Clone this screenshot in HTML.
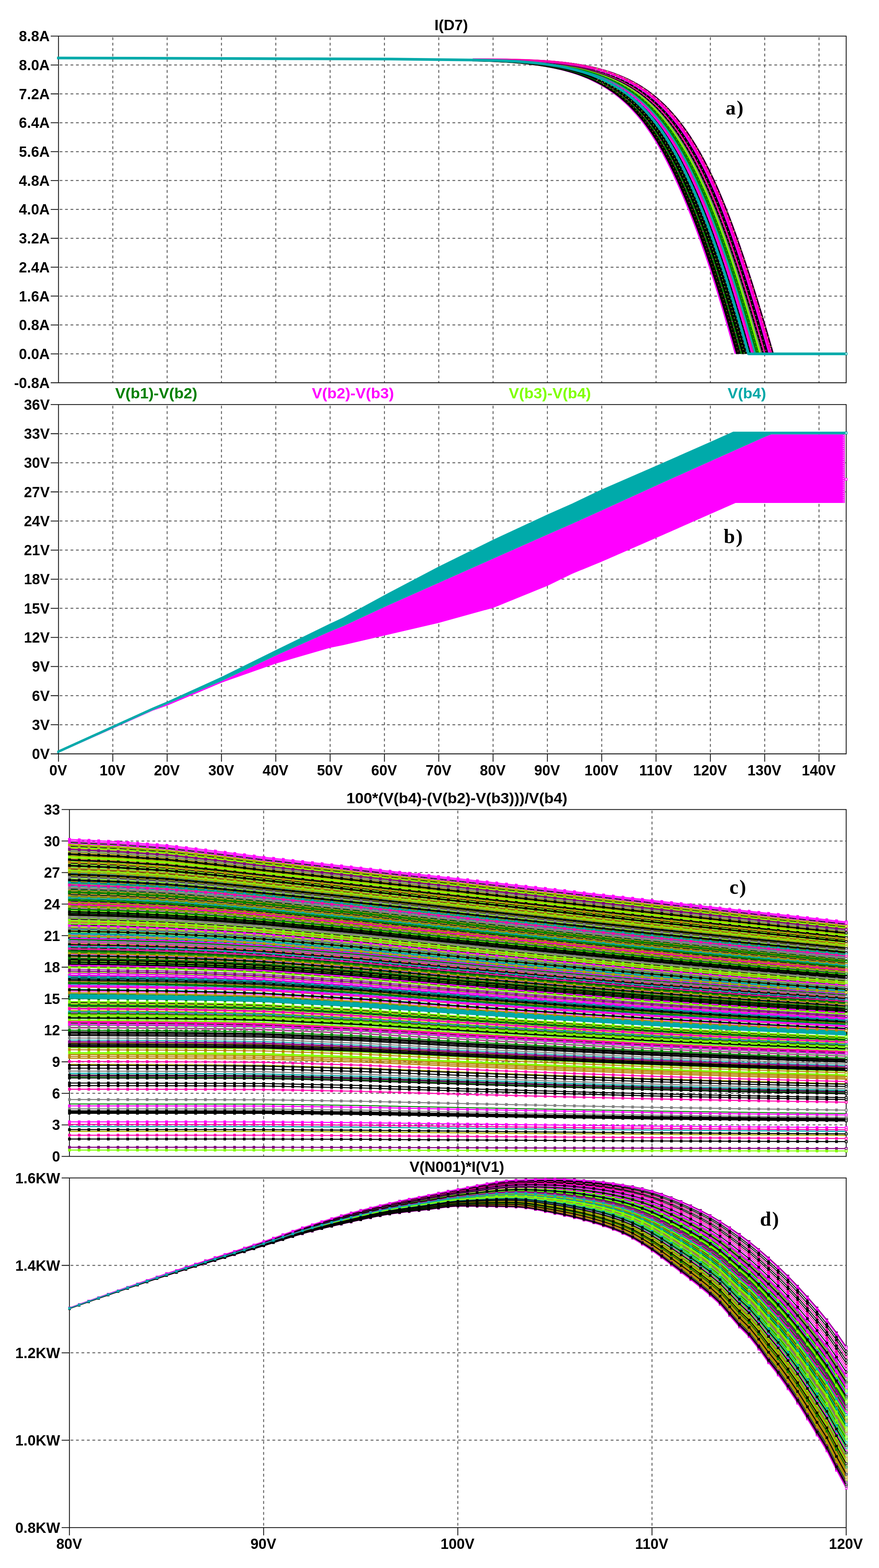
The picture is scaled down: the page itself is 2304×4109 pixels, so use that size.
<!DOCTYPE html>
<html lang="en"><head><meta charset="utf-8"><title>LTspice waveform plots</title>
<style>
html,body{margin:0;padding:0;background:#fff}
svg{display:block}
.fr{fill:none;stroke:#1c1c1c;stroke-width:2.3}
.gr{fill:none;stroke:#606060;stroke-width:2.5;stroke-dasharray:7.3 7}
.t{font:bold 39.6px "Liberation Sans", Arial, Helvetica, sans-serif}
.s{font:bold 53px "Liberation Serif", "Times New Roman", Times, serif;fill:#000;text-anchor:middle;letter-spacing:2.5px}
</style></head>
<body>
<svg width="2304" height="4109" viewBox="0 0 2304 4109">
<rect width="2304" height="4109" fill="#fff"/>
<defs><marker id="mM" markerUnits="userSpaceOnUse" markerWidth="7" markerHeight="7" refX="3.5" refY="3.5"><rect width="7" height="7" fill="#ff00ff"/></marker><marker id="eM" markerUnits="userSpaceOnUse" markerWidth="7" markerHeight="7" refX="3.5" refY="3.5"><rect x="1" y="1" width="5" height="5" fill="#fff" stroke="#ff00ff" stroke-width="1.7"/></marker><marker id="mPk" markerUnits="userSpaceOnUse" markerWidth="7" markerHeight="7" refX="3.5" refY="3.5"><rect width="7" height="7" fill="#ff00aa"/></marker><marker id="ePk" markerUnits="userSpaceOnUse" markerWidth="7" markerHeight="7" refX="3.5" refY="3.5"><rect x="1" y="1" width="5" height="5" fill="#fff" stroke="#ff00aa" stroke-width="1.7"/></marker><marker id="mL" markerUnits="userSpaceOnUse" markerWidth="7" markerHeight="7" refX="3.5" refY="3.5"><rect width="7" height="7" fill="#80ff00"/></marker><marker id="eL" markerUnits="userSpaceOnUse" markerWidth="7" markerHeight="7" refX="3.5" refY="3.5"><rect x="1" y="1" width="5" height="5" fill="#fff" stroke="#80ff00" stroke-width="1.7"/></marker><marker id="mG" markerUnits="userSpaceOnUse" markerWidth="7" markerHeight="7" refX="3.5" refY="3.5"><rect width="7" height="7" fill="#008000"/></marker><marker id="eG" markerUnits="userSpaceOnUse" markerWidth="7" markerHeight="7" refX="3.5" refY="3.5"><rect x="1" y="1" width="5" height="5" fill="#fff" stroke="#008000" stroke-width="1.7"/></marker><marker id="mT" markerUnits="userSpaceOnUse" markerWidth="7" markerHeight="7" refX="3.5" refY="3.5"><rect width="7" height="7" fill="#00aaaa"/></marker><marker id="eT" markerUnits="userSpaceOnUse" markerWidth="7" markerHeight="7" refX="3.5" refY="3.5"><rect x="1" y="1" width="5" height="5" fill="#fff" stroke="#00aaaa" stroke-width="1.7"/></marker><marker id="mO" markerUnits="userSpaceOnUse" markerWidth="7" markerHeight="7" refX="3.5" refY="3.5"><rect width="7" height="7" fill="#b8860b"/></marker><marker id="eO" markerUnits="userSpaceOnUse" markerWidth="7" markerHeight="7" refX="3.5" refY="3.5"><rect x="1" y="1" width="5" height="5" fill="#fff" stroke="#b8860b" stroke-width="1.7"/></marker><marker id="mY" markerUnits="userSpaceOnUse" markerWidth="7" markerHeight="7" refX="3.5" refY="3.5"><rect width="7" height="7" fill="#aaaa00"/></marker><marker id="eY" markerUnits="userSpaceOnUse" markerWidth="7" markerHeight="7" refX="3.5" refY="3.5"><rect x="1" y="1" width="5" height="5" fill="#fff" stroke="#aaaa00" stroke-width="1.7"/></marker><marker id="mK" markerUnits="userSpaceOnUse" markerWidth="7" markerHeight="7" refX="3.5" refY="3.5"><rect width="7" height="7" fill="#000000"/></marker><marker id="eK" markerUnits="userSpaceOnUse" markerWidth="7" markerHeight="7" refX="3.5" refY="3.5"><rect x="1" y="1" width="5" height="5" fill="#fff" stroke="#000000" stroke-width="1.7"/></marker><marker id="mP" markerUnits="userSpaceOnUse" markerWidth="7" markerHeight="7" refX="3.5" refY="3.5"><rect width="7" height="7" fill="#800080"/></marker><marker id="eP" markerUnits="userSpaceOnUse" markerWidth="7" markerHeight="7" refX="3.5" refY="3.5"><rect x="1" y="1" width="5" height="5" fill="#fff" stroke="#800080" stroke-width="1.7"/></marker><marker id="mGy" markerUnits="userSpaceOnUse" markerWidth="7" markerHeight="7" refX="3.5" refY="3.5"><rect width="7" height="7" fill="#808080"/></marker><marker id="eGy" markerUnits="userSpaceOnUse" markerWidth="7" markerHeight="7" refX="3.5" refY="3.5"><rect x="1" y="1" width="5" height="5" fill="#fff" stroke="#808080" stroke-width="1.7"/></marker></defs><g id="plot1">
<path d="M295.7 97.6V1002M438.1 97.6V1002M580.5 97.6V1002M722.9 97.6V1002M865.3 97.6V1002M1007.7 97.6V1002M1150.1 97.6V1002M1292.4 97.6V1002M1434.8 97.6V1002M1577.2 97.6V1002M1719.6 97.6V1002M1862 97.6V1002M2004.4 97.6V1002M2146.8 97.6V1002M156.3 927.3H2217M156.3 851.6H2217M156.3 775.9H2217M156.3 700.2H2217M156.3 624.5H2217M156.3 548.8H2217M156.3 473.1H2217M156.3 397.4H2217M156.3 321.7H2217M156.3 246H2217M156.3 170.3H2217" class="gr"/>
<path d="M132.9 927.3H153.3M132.9 851.6H153.3M132.9 775.9H153.3M132.9 700.2H153.3M132.9 624.5H153.3M132.9 548.8H153.3M132.9 473.1H153.3M132.9 397.4H153.3M132.9 321.7H153.3M132.9 246H153.3M132.9 170.3H153.3" class="fr"/>
<path d="M132.9 94.6H2219M132.9 1003H2219M153.3 94.6V1003M2218 94.6V1003" class="fr"/>
<g fill="none" stroke-linejoin="round">
<path d="M1238.1 158L1250.6 158.3L1263.1 158.6L1275.5 159L1287.9 159.4L1300.2 160L1312.4 160.6L1324.6 161.3L1336.7 162.1L1348.7 163L1360.5 164L1372.3 165.2L1384 166.4L1395.6 167.8L1407.1 169.3L1418.4 171L1429.6 172.9L1440.7 174.9L1451.6 177L1462.4 179.4L1473 181.9L1483.5 184.6L1493.8 187.5L1504 190.6L1513.9 193.9L1523.7 197.5L1533.3 201.2L1542.7 205.2L1551.9 209.4L1560.9 213.9L1569.8 218.5L1578.4 223.4L1586.9 228.5L1595.2 233.8L1603.3 239.4L1611.2 245.1L1619 251.1L1626.5 257.2L1633.9 263.6L1641.2 270.2L1648.2 277L1655.1 284L1661.8 291.2L1668.4 298.5L1674.8 306.1L1681.1 313.8L1687.2 321.7L1693.2 329.8L1699 338L1704.7 346.4L1710.4 354.9L1715.8 363.5L1721.2 372.3L1726.5 381.2L1731.7 390.3L1736.7 399.4L1741.7 408.7L1746.6 418L1751.4 427.5L1756.2 437L1760.9 446.6L1765.5 456.3L1770 466.1L1774.5 475.9L1779 485.8L1783.4 495.7L1787.7 505.7L1792.1 515.8L1796.3 525.9L1800.5 536.1L1804.7 546.3L1808.8 556.6L1812.9 566.9L1816.9 577.3L1820.9 587.7L1824.9 598.2L1828.8 608.7L1832.7 619.3L1836.5 629.9L1840.3 640.6L1844.1 651.3L1847.8 662L1851.5 672.8L1855.2 683.7L1858.8 694.5L1862.4 705.5L1866 716.4L1869.5 727.4L1873 738.4L1876.5 749.4L1879.9 760.5L1883.4 771.6L1886.7 782.8L1890.1 794L1893.5 805.2L1896.8 816.4L1900.1 827.7L1903.4 839L1906.6 850.3L1909.9 861.6L1913.1 873L1916.3 884.4L1919.5 895.8L1922.6 907.2L1925.8 918.6L1928.2 927.3" fill="none" stroke="#ff00ff" stroke-width="5"/>
<path d="M1238.2 157.9L1250.7 158.2L1263.2 158.5L1275.6 158.8L1288 159.3L1300.3 159.8L1312.6 160.4L1324.8 161.1L1336.9 161.8L1348.9 162.7L1360.8 163.7L1372.6 164.8L1384.4 166L1396 167.4L1407.5 168.9L1418.8 170.5L1430.1 172.3L1441.2 174.3L1452.2 176.4L1463 178.7L1473.7 181.1L1484.2 183.8L1494.6 186.6L1504.7 189.7L1514.8 192.9L1524.6 196.4L1534.2 200.1L1543.7 204L1553 208.2L1562 212.6L1570.9 217.2L1579.6 222L1588.2 227L1596.5 232.2L1604.7 237.7L1612.7 243.4L1620.5 249.3L1628.1 255.4L1635.6 261.7L1642.9 268.2L1650 274.9L1656.9 281.8L1663.7 288.9L1670.3 296.2L1676.8 303.7L1683.1 311.4L1689.3 319.2L1695.3 327.2L1701.2 335.4L1707 343.7L1712.6 352.2L1718.2 360.8L1723.6 369.5L1728.9 378.4L1734.1 387.3L1739.2 396.4L1744.2 405.7L1749.2 415L1754 424.4L1758.8 433.9L1763.5 443.4L1768.2 453.1L1772.8 462.8L1777.3 472.6L1781.8 482.5L1786.2 492.4L1790.6 502.3L1794.9 512.4L1799.2 522.5L1803.4 532.6L1807.6 542.8L1811.8 553.1L1815.9 563.4L1819.9 573.7L1823.9 584.2L1827.9 594.6L1831.8 605.1L1835.7 615.7L1839.6 626.3L1843.4 636.9L1847.2 647.6L1850.9 658.4L1854.6 669.2L1858.3 680L1861.9 690.8L1865.5 701.7L1869.1 712.7L1872.6 723.6L1876.2 734.7L1879.6 745.7L1883.1 756.8L1886.5 767.9L1889.9 779L1893.3 790.2L1896.7 801.4L1900 812.6L1903.3 823.8L1906.6 835.1L1909.9 846.4L1913.1 857.7L1916.3 869.1L1919.5 880.5L1922.7 891.8L1925.9 903.3L1929.1 914.7L1932.2 926.1L1932.5 927.3" fill="none" stroke="#000000" stroke-width="6"/>
<path d="M1238.3 157.8L1250.8 158L1263.3 158.3L1275.8 158.7L1288.2 159.1L1300.5 159.6L1312.8 160.2L1325 160.8L1337.1 161.6L1349.1 162.4L1361.1 163.4L1372.9 164.5L1384.7 165.6L1396.3 167L1407.9 168.4L1419.3 170L1430.5 171.7L1441.7 173.7L1452.7 175.7L1463.6 178L1474.3 180.4L1484.9 183L1495.3 185.8L1505.5 188.8L1515.6 192L1525.5 195.4L1535.2 199L1544.7 202.9L1554 206.9L1563.1 211.2L1572.1 215.8L1580.9 220.5L1589.5 225.5L1597.9 230.6L1606.1 236L1614.1 241.6L1622 247.5L1629.7 253.5L1637.2 259.7L1644.6 266.2L1651.7 272.8L1658.7 279.7L1665.6 286.7L1672.2 294L1678.8 301.4L1685.1 309L1691.3 316.8L1697.4 324.7L1703.4 332.8L1709.2 341.1L1714.9 349.5L1720.5 358L1725.9 366.7L1731.3 375.5L1736.6 384.4L1741.7 393.5L1746.8 402.6L1751.8 411.9L1756.7 421.2L1761.5 430.7L1766.2 440.2L1770.9 449.9L1775.5 459.5L1780.1 469.3L1784.6 479.1L1789 489L1793.5 498.9L1797.8 509L1802.1 519L1806.4 529.1L1810.6 539.3L1814.7 549.6L1818.8 559.8L1822.9 570.2L1826.9 580.6L1830.9 591L1834.9 601.5L1838.8 612.1L1842.6 622.7L1846.5 633.3L1850.2 644L1854 654.7L1857.7 665.5L1861.4 676.3L1865 687.1L1868.6 698L1872.2 708.9L1875.8 719.9L1879.3 730.9L1882.8 741.9L1886.3 753L1889.7 764.1L1893.1 775.2L1896.5 786.4L1899.9 797.6L1903.2 808.8L1906.5 820L1909.8 831.3L1913.1 842.6L1916.4 853.9L1919.6 865.2L1922.8 876.6L1926 887.9L1929.2 899.3L1932.4 910.7L1935.5 922.2L1936.9 927.3" fill="none" stroke="#000000" stroke-width="6"/>
<path d="M1238.3 157.7L1250.9 158L1263.4 158.3L1275.8 158.6L1288.3 159L1300.6 159.5L1312.9 160L1325.1 160.7L1337.2 161.4L1349.3 162.2L1361.3 163.1L1373.2 164.2L1384.9 165.3L1396.6 166.6L1408.2 168L1419.6 169.6L1430.9 171.3L1442.1 173.2L1453.1 175.2L1464.1 177.4L1474.8 179.8L1485.4 182.3L1495.9 185.1L1506.1 188L1516.2 191.2L1526.2 194.5L1535.9 198.1L1545.5 201.9L1554.8 206L1564 210.2L1573 214.7L1581.8 219.4L1590.5 224.3L1598.9 229.4L1607.2 234.7L1615.3 240.3L1623.2 246L1630.9 252L1638.5 258.2L1645.9 264.6L1653.1 271.2L1660.1 278L1667 285L1673.7 292.2L1680.3 299.6L1686.7 307.1L1693 314.8L1699.1 322.7L1705.1 330.8L1710.9 339L1716.7 347.4L1722.3 355.9L1727.8 364.5L1733.2 373.3L1738.5 382.1L1743.7 391.2L1748.8 400.3L1753.8 409.5L1758.7 418.8L1763.5 428.2L1768.3 437.8L1773 447.3L1777.7 457L1782.2 466.7L1786.8 476.5L1791.2 486.4L1795.7 496.3L1800 506.3L1804.4 516.3L1808.6 526.4L1812.9 536.6L1817 546.8L1821.2 557.1L1825.2 567.4L1829.3 577.8L1833.3 588.2L1837.2 598.7L1841.1 609.3L1845 619.8L1848.8 630.5L1852.6 641.1L1856.4 651.9L1860.1 662.6L1863.8 673.4L1867.4 684.3L1871.1 695.1L1874.7 706L1878.2 717L1881.7 728L1885.2 739L1888.7 750.1L1892.2 761.2L1895.6 772.3L1899 783.4L1902.4 794.6L1905.7 805.8L1909 817L1912.3 828.3L1915.6 839.6L1918.9 850.9L1922.1 862.2L1925.4 873.5L1928.6 884.9L1931.8 896.3L1934.9 907.7L1938.1 919.1L1940.4 927.3" fill="none" stroke="#000000" stroke-width="5"/>
<path d="M1238.4 157.6L1251 157.9L1263.5 158.1L1275.9 158.5L1288.4 158.9L1300.7 159.3L1313 159.9L1325.3 160.5L1337.4 161.2L1349.5 162L1361.5 162.9L1373.4 163.9L1385.2 165L1396.9 166.2L1408.5 167.6L1420 169.2L1431.3 170.8L1442.5 172.6L1453.6 174.6L1464.6 176.8L1475.4 179.1L1486 181.6L1496.5 184.3L1506.8 187.2L1517 190.3L1526.9 193.6L1536.7 197.1L1546.3 200.9L1555.8 204.9L1565 209L1574 213.5L1582.9 218.1L1591.6 222.9L1600.1 228L1608.4 233.2L1616.6 238.7L1624.5 244.4L1632.3 250.3L1639.9 256.5L1647.4 262.8L1654.6 269.3L1661.7 276.1L1668.7 283L1675.4 290.1L1682 297.5L1688.5 305L1694.8 312.6L1701 320.5L1707 328.5L1712.9 336.6L1718.7 344.9L1724.3 353.4L1729.9 362L1735.3 370.7L1740.6 379.6L1745.9 388.5L1751 397.6L1756 406.8L1761 416.1L1765.9 425.4L1770.7 434.9L1775.4 444.5L1780.1 454.1L1784.7 463.8L1789.3 473.6L1793.8 483.4L1798.2 493.3L1802.6 503.2L1806.9 513.3L1811.2 523.4L1815.5 533.5L1819.7 543.7L1823.8 554L1827.9 564.3L1831.9 574.6L1835.9 585L1839.9 595.5L1843.8 606L1847.7 616.6L1851.6 627.2L1855.4 637.9L1859.1 648.6L1862.9 659.3L1866.5 670.1L1870.2 681L1873.8 691.8L1877.4 702.7L1881 713.7L1884.5 724.7L1888 735.7L1891.5 746.7L1895 757.8L1898.4 768.9L1901.8 780L1905.2 791.2L1908.6 802.4L1911.9 813.6L1915.2 824.9L1918.5 836.1L1921.8 847.4L1925 858.7L1928.3 870.1L1931.5 881.4L1934.7 892.8L1937.9 904.2L1941 915.6L1944.2 927L1944.3 927.3" fill="none" stroke="#008000" stroke-width="6"/>
<path d="M1238.5 157.6L1251 157.8L1263.6 158L1276 158.4L1288.5 158.7L1300.9 159.2L1313.2 159.7L1325.4 160.3L1337.6 160.9L1349.7 161.7L1361.7 162.6L1373.7 163.6L1385.5 164.7L1397.2 165.9L1408.9 167.2L1420.4 168.7L1431.7 170.3L1443 172.1L1454.1 174L1465.1 176.1L1475.9 178.4L1486.6 180.9L1497.2 183.5L1507.5 186.4L1517.7 189.4L1527.7 192.7L1537.6 196.1L1547.2 199.8L1556.7 203.7L1566 207.9L1575.1 212.2L1584 216.8L1592.7 221.6L1601.3 226.6L1609.7 231.8L1617.9 237.2L1625.9 242.8L1633.7 248.7L1641.4 254.7L1648.9 261L1656.2 267.5L1663.3 274.2L1670.3 281L1677.1 288.1L1683.8 295.4L1690.3 302.8L1696.6 310.4L1702.9 318.2L1708.9 326.2L1714.9 334.3L1720.7 342.5L1726.4 350.9L1732 359.5L1737.5 368.2L1742.8 377L1748.1 385.9L1753.3 394.9L1758.3 404L1763.3 413.3L1768.2 422.6L1773.1 432.1L1777.8 441.6L1782.5 451.2L1787.2 460.9L1791.7 470.6L1796.3 480.4L1800.7 490.3L1805.1 500.2L1809.5 510.2L1813.8 520.3L1818.1 530.4L1822.3 540.6L1826.4 550.8L1830.5 561.1L1834.6 571.5L1838.6 581.9L1842.6 592.3L1846.5 602.8L1850.4 613.4L1854.3 624L1858.1 634.6L1861.9 645.3L1865.6 656.1L1869.3 666.8L1873 677.7L1876.6 688.5L1880.2 699.4L1883.8 710.4L1887.3 721.3L1890.8 732.3L1894.3 743.4L1897.8 754.4L1901.2 765.5L1904.7 776.7L1908 787.8L1911.4 799L1914.8 810.2L1918.1 821.4L1921.4 832.7L1924.7 844L1927.9 855.3L1931.2 866.6L1934.4 877.9L1937.6 889.3L1940.8 900.7L1944 912.1L1947.2 923.5L1948.2 927.3" fill="none" stroke="#000000" stroke-width="5.5"/>
<path d="M1238.5 157.5L1251.1 157.7L1263.7 157.9L1276.1 158.2L1288.6 158.6L1301 159L1313.3 159.5L1325.6 160.1L1337.8 160.7L1349.9 161.5L1362 162.3L1373.9 163.3L1385.8 164.3L1397.6 165.5L1409.2 166.8L1420.7 168.2L1432.2 169.8L1443.5 171.6L1454.6 173.5L1465.6 175.5L1476.5 177.7L1487.2 180.2L1497.8 182.8L1508.2 185.5L1518.5 188.5L1528.5 191.7L1538.4 195.1L1548.1 198.8L1557.6 202.6L1567 206.7L1576.1 211L1585.1 215.5L1593.9 220.2L1602.5 225.1L1610.9 230.3L1619.2 235.6L1627.2 241.2L1635.1 247L1642.9 253L1650.4 259.2L1657.8 265.6L1665 272.2L1672 279.1L1678.8 286.1L1685.5 293.3L1692.1 300.7L1698.5 308.2L1704.8 316L1710.9 323.9L1716.9 331.9L1722.7 340.1L1728.5 348.5L1734.1 357L1739.6 365.6L1745 374.4L1750.3 383.2L1755.5 392.2L1760.6 401.3L1765.7 410.5L1770.6 419.8L1775.5 429.2L1780.2 438.7L1785 448.3L1789.6 457.9L1794.2 467.6L1798.8 477.4L1803.3 487.2L1807.7 497.2L1812.1 507.1L1816.4 517.2L1820.7 527.3L1824.9 537.4L1829.1 547.7L1833.2 557.9L1837.3 568.3L1841.3 578.7L1845.3 589.1L1849.2 599.6L1853.1 610.1L1857 620.7L1860.8 631.4L1864.6 642.1L1868.3 652.8L1872.1 663.6L1875.7 674.4L1879.4 685.2L1883 696.1L1886.6 707L1890.1 718L1893.6 729L1897.1 740L1900.6 751.1L1904.1 762.2L1907.5 773.3L1910.9 784.4L1914.3 795.6L1917.6 806.8L1920.9 818L1924.3 829.3L1927.6 840.5L1930.8 851.8L1934.1 863.1L1937.3 874.5L1940.5 885.8L1943.7 897.2L1946.9 908.6L1950.1 920L1952.1 927.3" fill="none" stroke="#000000" stroke-width="5.5"/>
<path d="M1238.6 157.4L1251.2 157.6L1263.7 157.8L1276.2 158.1L1288.7 158.5L1301.1 158.9L1313.5 159.3L1325.8 159.9L1338 160.5L1350.1 161.2L1362.2 162L1374.2 162.9L1386.1 164L1397.9 165.1L1409.6 166.4L1421.1 167.8L1432.6 169.3L1443.9 171L1455.1 172.9L1466.2 174.9L1477.1 177.1L1487.8 179.4L1498.5 182L1508.9 184.7L1519.2 187.6L1529.3 190.8L1539.2 194.2L1549 197.7L1558.6 201.5L1567.9 205.5L1577.1 209.8L1586.2 214.2L1595 218.8L1603.7 223.7L1612.2 228.8L1620.5 234.1L1628.6 239.6L1636.5 245.3L1644.3 251.3L1651.9 257.4L1659.3 263.8L1666.6 270.3L1673.6 277.1L1680.5 284.1L1687.3 291.2L1693.9 298.5L1700.3 306L1706.6 313.7L1712.8 321.6L1718.8 329.6L1724.8 337.7L1730.5 346L1736.2 354.5L1741.7 363L1747.2 371.8L1752.5 380.6L1757.8 389.5L1762.9 398.6L1768 407.8L1772.9 417L1777.8 426.4L1782.7 435.8L1787.4 445.4L1792.1 455L1796.7 464.7L1801.3 474.4L1805.8 484.2L1810.3 494.1L1814.7 504.1L1819 514.1L1823.3 524.2L1827.5 534.3L1831.7 544.5L1835.8 554.8L1839.9 565.1L1844 575.5L1848 585.9L1851.9 596.4L1855.8 606.9L1859.7 617.5L1863.5 628.1L1867.3 638.8L1871.1 649.5L1874.8 660.3L1878.5 671.1L1882.1 681.9L1885.8 692.8L1889.4 703.7L1892.9 714.7L1896.4 725.7L1900 736.7L1903.4 747.7L1906.9 758.8L1910.3 769.9L1913.7 781L1917.1 792.2L1920.5 803.4L1923.8 814.6L1927.1 825.8L1930.4 837.1L1933.7 848.4L1937 859.7L1940.2 871L1943.5 882.3L1946.7 893.7L1949.9 905.1L1953 916.5L1956 927.3" fill="none" stroke="#000000" stroke-width="5"/>
<path d="M1238.8 157.1L1251.4 157.3L1264 157.5L1276.5 157.8L1289 158.1L1301.5 158.4L1313.9 158.8L1326.2 159.3L1338.5 159.9L1350.7 160.5L1362.9 161.2L1374.9 162L1386.9 163L1398.8 164L1410.6 165.2L1422.2 166.5L1433.8 167.9L1445.2 169.5L1456.5 171.2L1467.7 173.1L1478.7 175.1L1489.6 177.3L1500.3 179.7L1510.9 182.3L1521.3 185.1L1531.6 188.1L1541.6 191.3L1551.5 194.7L1561.2 198.3L1570.8 202.2L1580.1 206.2L1589.3 210.5L1598.3 214.9L1607.1 219.6L1615.7 224.5L1624.2 229.6L1632.5 235L1640.6 240.5L1648.5 246.3L1656.2 252.2L1663.8 258.4L1671.2 264.8L1678.4 271.4L1685.4 278.2L1692.3 285.2L1699.1 292.4L1705.6 299.7L1712.1 307.2L1718.4 314.9L1724.5 322.8L1730.6 330.8L1736.5 339L1742.2 347.3L1747.9 355.7L1753.5 364.3L1758.9 373L1764.2 381.8L1769.5 390.8L1774.6 399.8L1779.7 409L1784.7 418.2L1789.6 427.6L1794.4 437L1799.2 446.5L1803.9 456.1L1808.5 465.8L1813.1 475.5L1817.6 485.4L1822.1 495.2L1826.4 505.2L1830.8 515.2L1835.1 525.3L1839.3 535.5L1843.5 545.7L1847.6 556L1851.7 566.3L1855.7 576.7L1859.7 587.1L1863.6 597.6L1867.5 608.2L1871.4 618.8L1875.2 629.4L1879 640.1L1882.7 650.8L1886.4 661.6L1890.1 672.4L1893.8 683.3L1897.4 694.2L1900.9 705.1L1904.5 716.1L1908 727L1911.5 738.1L1915 749.1L1918.5 760.2L1921.9 771.3L1925.3 782.4L1928.7 793.6L1932.1 804.8L1935.4 816L1938.7 827.2L1942.1 838.4L1945.3 849.7L1948.6 861L1951.9 872.3L1955.1 883.7L1958.3 895L1961.5 906.4L1964.7 917.8L1967.4 927.3" fill="none" stroke="#000000" stroke-width="6"/>
<path d="M1238.9 157L1251.5 157.2L1264.1 157.4L1276.6 157.6L1289.2 157.9L1301.6 158.2L1314.1 158.6L1326.4 159.1L1338.7 159.6L1351 160.2L1363.1 160.9L1375.2 161.7L1387.2 162.6L1399.1 163.6L1410.9 164.7L1422.7 166L1434.2 167.3L1445.7 168.9L1457.1 170.5L1468.3 172.4L1479.4 174.4L1490.3 176.5L1501.1 178.9L1511.7 181.4L1522.2 184.1L1532.5 187L1542.6 190.2L1552.5 193.5L1562.3 197.1L1571.9 200.8L1581.3 204.8L1590.5 209L1599.6 213.4L1608.5 218L1617.1 222.9L1625.7 227.9L1634 233.2L1642.2 238.6L1650.1 244.3L1657.9 250.2L1665.5 256.3L1673 262.7L1680.3 269.2L1687.4 275.9L1694.3 282.8L1701.1 290L1707.7 297.2L1714.2 304.7L1720.6 312.3L1726.8 320.1L1732.8 328.1L1738.8 336.2L1744.6 344.4L1750.3 352.8L1755.9 361.4L1761.4 370L1766.8 378.8L1772.1 387.7L1777.3 396.7L1782.4 405.8L1787.4 415L1792.3 424.3L1797.2 433.7L1802 443.2L1806.7 452.8L1811.4 462.4L1815.9 472.1L1820.5 481.9L1825 491.8L1829.4 501.7L1833.7 511.7L1838 521.8L1842.3 531.9L1846.5 542.1L1850.6 552.4L1854.7 562.7L1858.7 573.1L1862.7 583.5L1866.7 594L1870.6 604.5L1874.5 615.1L1878.3 625.8L1882.1 636.4L1885.8 647.2L1889.5 657.9L1893.2 668.7L1896.9 679.6L1900.5 690.4L1904.1 701.4L1907.7 712.3L1911.2 723.3L1914.7 734.3L1918.2 745.3L1921.7 756.4L1925.1 767.5L1928.5 778.6L1931.9 789.7L1935.3 800.9L1938.7 812.1L1942 823.3L1945.3 834.6L1948.6 845.8L1951.9 857.1L1955.2 868.4L1958.4 879.7L1961.6 891.1L1964.8 902.4L1968 913.8L1971.2 925.2L1971.8 927.3" fill="none" stroke="#ff00ff" stroke-width="5.5"/>
<path d="M1239 157L1251.6 157.1L1264.2 157.3L1276.7 157.5L1289.3 157.8L1301.8 158.1L1314.2 158.5L1326.6 158.9L1338.9 159.4L1351.2 160L1363.4 160.6L1375.5 161.4L1387.5 162.2L1399.5 163.2L1411.3 164.3L1423 165.5L1434.7 166.9L1446.2 168.3L1457.5 170L1468.8 171.7L1479.9 173.7L1490.9 175.8L1501.7 178.1L1512.4 180.6L1522.9 183.2L1533.2 186.1L1543.4 189.2L1553.4 192.5L1563.2 196L1572.9 199.7L1582.3 203.6L1591.6 207.7L1600.7 212.1L1609.6 216.6L1618.4 221.4L1627 226.4L1635.4 231.6L1643.6 237L1651.6 242.6L1659.4 248.4L1667.1 254.5L1674.6 260.8L1681.9 267.2L1689.1 273.9L1696.1 280.8L1702.9 287.8L1709.6 295L1716.1 302.4L1722.5 310L1728.7 317.8L1734.9 325.7L1740.9 333.7L1746.7 341.9L1752.5 350.3L1758.1 358.8L1763.6 367.4L1769 376.1L1774.4 385L1779.6 393.9L1784.7 403L1789.8 412.2L1794.7 421.5L1799.6 430.8L1804.4 440.3L1809.2 449.8L1813.9 459.4L1818.5 469.1L1823 478.9L1827.5 488.7L1832 498.6L1836.3 508.6L1840.6 518.7L1844.9 528.8L1849.1 539L1853.3 549.2L1857.4 559.5L1861.4 569.9L1865.4 580.3L1869.4 590.8L1873.3 601.3L1877.2 611.9L1881 622.5L1884.8 633.2L1888.6 643.9L1892.3 654.6L1896 665.4L1899.7 676.3L1903.3 687.1L1906.9 698L1910.5 709L1914 719.9L1917.5 730.9L1921 741.9L1924.5 753L1928 764.1L1931.4 775.2L1934.8 786.3L1938.2 797.5L1941.5 808.7L1944.9 819.9L1948.2 831.1L1951.5 842.4L1954.8 853.6L1958.1 864.9L1961.3 876.2L1964.6 887.6L1967.8 898.9L1971 910.3L1974.2 921.7L1975.8 927.3" fill="none" stroke="#ff00aa" stroke-width="5"/>
<path d="M1239.1 156.9L1251.7 157L1264.3 157.2L1276.9 157.4L1289.4 157.6L1301.9 157.9L1314.4 158.3L1326.8 158.7L1339.1 159.1L1351.4 159.7L1363.6 160.3L1375.8 161L1387.8 161.9L1399.8 162.8L1411.7 163.8L1423.5 165L1435.1 166.3L1446.7 167.7L1458.1 169.3L1469.4 171L1480.6 172.9L1491.6 175L1502.5 177.2L1513.2 179.6L1523.7 182.2L1534.1 185L1544.4 188.1L1554.4 191.3L1564.3 194.7L1574 198.3L1583.5 202.2L1592.8 206.3L1602 210.5L1611 215L1619.8 219.7L1628.4 224.6L1636.9 229.7L1645.1 235.1L1653.2 240.6L1661.1 246.4L1668.9 252.4L1676.4 258.6L1683.8 265L1691 271.6L1698 278.4L1704.9 285.4L1711.6 292.6L1718.2 299.9L1724.7 307.4L1731 315.1L1737.1 323L1743.2 331L1749.1 339.1L1754.9 347.4L1760.5 355.8L1766.1 364.4L1771.6 373.1L1776.9 381.9L1782.2 390.8L1787.4 399.9L1792.4 409L1797.4 418.2L1802.4 427.6L1807.2 437L1812 446.5L1816.7 456.1L1821.3 465.7L1825.9 475.5L1830.4 485.3L1834.9 495.2L1839.3 505.1L1843.6 515.2L1847.9 525.3L1852.1 535.4L1856.3 545.6L1860.4 555.9L1864.4 566.3L1868.5 576.7L1872.4 587.1L1876.4 597.6L1880.3 608.2L1884.1 618.8L1887.9 629.5L1891.7 640.2L1895.4 650.9L1899.1 661.7L1902.8 672.5L1906.4 683.4L1910 694.3L1913.6 705.2L1917.2 716.2L1920.7 727.1L1924.2 738.2L1927.7 749.2L1931.2 760.3L1934.6 771.4L1938 782.5L1941.4 793.6L1944.8 804.8L1948.1 816L1951.5 827.2L1954.8 838.5L1958.1 849.7L1961.4 861L1964.6 872.3L1967.9 883.6L1971.1 895L1974.3 906.3L1977.5 917.7L1980.2 927.3" fill="none" stroke="#00aaaa" stroke-width="6"/>
<path d="M1239.1 156.8L1251.8 156.9L1264.4 157.1L1277 157.3L1289.5 157.5L1302.1 157.7L1314.5 158.1L1327 158.4L1339.3 158.9L1351.7 159.4L1363.9 160L1376.1 160.7L1388.2 161.5L1400.2 162.4L1412.1 163.4L1423.9 164.5L1435.6 165.7L1447.2 167.1L1458.6 168.6L1470 170.3L1481.2 172.2L1492.3 174.2L1503.2 176.3L1514 178.7L1524.6 181.2L1535 184L1545.3 186.9L1555.4 190.1L1565.3 193.5L1575.1 197L1584.7 200.8L1594.1 204.8L1603.3 209L1612.3 213.4L1621.2 218L1629.9 222.9L1638.4 227.9L1646.7 233.2L1654.9 238.7L1662.8 244.4L1670.6 250.3L1678.2 256.4L1685.6 262.8L1692.9 269.3L1700 276.1L1706.9 283L1713.7 290.1L1720.4 297.4L1726.8 304.8L1733.2 312.5L1739.4 320.3L1745.5 328.2L1751.4 336.3L1757.3 344.5L1763 352.9L1768.6 361.4L1774.1 370.1L1779.5 378.8L1784.8 387.7L1790 396.7L1795.1 405.8L1800.2 415L1805.1 424.3L1810 433.7L1814.8 443.1L1819.5 452.7L1824.2 462.3L1828.8 472L1833.3 481.8L1837.8 491.7L1842.2 501.6L1846.5 511.6L1850.8 521.7L1855.1 531.9L1859.3 542.1L1863.4 552.3L1867.5 562.7L1871.5 573.1L1875.5 583.5L1879.4 594L1883.3 604.5L1887.2 615.1L1891 625.8L1894.8 636.5L1898.5 647.2L1902.2 658L1905.9 668.8L1909.6 679.6L1913.2 690.5L1916.8 701.4L1920.3 712.4L1923.9 723.4L1927.4 734.4L1930.9 745.4L1934.4 756.5L1937.8 767.5L1941.2 778.6L1944.6 789.8L1948 800.9L1951.4 812.1L1954.7 823.3L1958.1 834.6L1961.4 845.8L1964.7 857.1L1967.9 868.4L1971.2 879.7L1974.4 891L1977.7 902.4L1980.9 913.7L1984.1 925.1L1984.7 927.3" fill="none" stroke="#008000" stroke-width="5.5"/>
<path d="M1239.2 156.7L1251.9 156.8L1264.5 156.9L1277.1 157.1L1289.7 157.3L1302.2 157.6L1314.7 157.9L1327.2 158.2L1339.6 158.6L1351.9 159.1L1364.2 159.7L1376.4 160.3L1388.5 161.1L1400.5 161.9L1412.5 162.9L1424.3 164L1436.1 165.2L1447.7 166.5L1459.2 168L1470.6 169.6L1481.8 171.4L1493 173.4L1503.9 175.5L1514.7 177.8L1525.4 180.3L1535.9 182.9L1546.2 185.8L1556.4 188.9L1566.4 192.2L1576.2 195.7L1585.8 199.4L1595.3 203.3L1604.6 207.5L1613.7 211.8L1622.6 216.4L1631.3 221.1L1639.9 226.1L1648.3 231.3L1656.5 236.7L1664.5 242.4L1672.4 248.2L1680 254.3L1687.5 260.6L1694.8 267L1702 273.7L1709 280.6L1715.8 287.6L1722.5 294.8L1729 302.2L1735.4 309.8L1741.7 317.5L1747.8 325.4L1753.8 333.5L1759.7 341.7L1765.5 350L1771.1 358.4L1776.6 367L1782.1 375.8L1787.4 384.6L1792.7 393.5L1797.8 402.6L1802.9 411.8L1807.8 421L1812.8 430.4L1817.6 439.8L1822.3 449.3L1827 458.9L1831.7 468.6L1836.2 478.4L1840.7 488.2L1845.1 498.1L1849.5 508.1L1853.8 518.2L1858.1 528.3L1862.3 538.5L1866.4 548.7L1870.5 559.1L1874.5 569.4L1878.5 579.9L1882.5 590.4L1886.4 600.9L1890.3 611.5L1894.1 622.1L1897.9 632.8L1901.6 643.5L1905.3 654.3L1909 665.1L1912.7 675.9L1916.3 686.8L1919.9 697.7L1923.5 708.6L1927 719.6L1930.6 730.6L1934.1 741.6L1937.6 752.6L1941 763.7L1944.4 774.8L1947.9 785.9L1951.3 797.1L1954.6 808.3L1958 819.4L1961.3 830.7L1964.6 841.9L1967.9 853.2L1971.2 864.4L1974.5 875.7L1977.8 887.1L1981 898.4L1984.2 909.7L1987.4 921.1L1989.1 927.3" fill="none" stroke="#008000" stroke-width="5.5"/>
<path d="M1239.3 156.6L1251.9 156.7L1264.6 156.9L1277.2 157L1289.8 157.2L1302.3 157.4L1314.8 157.7L1327.3 158.1L1339.7 158.4L1352.1 158.9L1364.4 159.4L1376.6 160.1L1388.7 160.8L1400.8 161.6L1412.8 162.5L1424.7 163.6L1436.4 164.7L1448.1 166L1459.6 167.5L1471 169.1L1482.3 170.8L1493.5 172.7L1504.5 174.8L1515.3 177L1526.1 179.5L1536.6 182.1L1547 185L1557.2 188L1567.2 191.2L1577 194.7L1586.7 198.3L1596.2 202.2L1605.6 206.3L1614.7 210.6L1623.7 215.1L1632.5 219.8L1641.1 224.7L1649.5 229.9L1657.8 235.2L1665.8 240.8L1673.7 246.6L1681.4 252.6L1688.9 258.8L1696.3 265.3L1703.5 271.9L1710.5 278.7L1717.4 285.7L1724.1 292.9L1730.7 300.2L1737.2 307.7L1743.5 315.4L1749.6 323.3L1755.7 331.3L1761.6 339.4L1767.4 347.7L1773 356.1L1778.6 364.7L1784.1 373.4L1789.4 382.2L1794.7 391.1L1799.9 400.1L1805 409.2L1810 418.5L1814.9 427.8L1819.8 437.2L1824.5 446.7L1829.3 456.3L1833.9 465.9L1838.5 475.7L1843 485.5L1847.4 495.4L1851.8 505.4L1856.1 515.4L1860.4 525.5L1864.6 535.7L1868.7 546L1872.9 556.3L1876.9 566.6L1880.9 577L1884.9 587.5L1888.8 598L1892.7 608.6L1896.5 619.2L1900.3 629.9L1904 640.6L1907.8 651.4L1911.5 662.2L1915.1 673L1918.8 683.9L1922.4 694.8L1925.9 705.7L1929.5 716.6L1933 727.6L1936.6 738.6L1940 749.7L1943.5 760.7L1946.9 771.8L1950.4 782.9L1953.8 794.1L1957.2 805.2L1960.5 816.4L1963.9 827.6L1967.2 838.9L1970.5 850.1L1973.8 861.4L1977.1 872.7L1980.3 884L1983.6 895.3L1986.8 906.7L1990 918L1992.6 927.3" fill="none" stroke="#80ff00" stroke-width="4.5"/>
<path d="M1239.4 156.5L1252 156.6L1264.7 156.7L1277.3 156.9L1289.9 157.1L1302.5 157.3L1315 157.5L1327.5 157.8L1339.9 158.2L1352.3 158.6L1364.6 159.1L1376.9 159.7L1389.1 160.4L1401.2 161.2L1413.2 162.1L1425.1 163.1L1436.9 164.2L1448.6 165.4L1460.2 166.8L1471.6 168.4L1483 170L1494.2 171.9L1505.2 173.9L1516.1 176.1L1526.9 178.5L1537.5 181.1L1547.9 183.8L1558.2 186.8L1568.2 190L1578.2 193.4L1587.9 196.9L1597.5 200.7L1606.8 204.7L1616.1 209L1625.1 213.4L1633.9 218L1642.6 222.9L1651.1 228L1659.4 233.3L1667.5 238.8L1675.5 244.5L1683.2 250.5L1690.8 256.6L1698.2 263L1705.5 269.5L1712.6 276.3L1719.5 283.2L1726.3 290.3L1732.9 297.6L1739.4 305.1L1745.7 312.7L1751.9 320.5L1758 328.5L1764 336.5L1769.8 344.8L1775.5 353.2L1781.2 361.7L1786.7 370.3L1792.1 379.1L1797.4 387.9L1802.6 396.9L1807.7 406L1812.7 415.2L1817.7 424.5L1822.6 433.9L1827.4 443.3L1832.1 452.9L1836.8 462.5L1841.4 472.2L1845.9 482L1850.3 491.9L1854.7 501.9L1859.1 511.9L1863.4 522L1867.6 532.1L1871.8 542.4L1875.9 552.7L1879.9 563L1884 573.4L1887.9 583.9L1891.9 594.4L1895.7 604.9L1899.6 615.6L1903.4 626.2L1907.2 636.9L1910.9 647.7L1914.6 658.5L1918.3 669.3L1921.9 680.1L1925.5 691L1929.1 701.9L1932.7 712.9L1936.2 723.8L1939.7 734.8L1943.2 745.9L1946.7 756.9L1950.2 768L1953.6 779.1L1957 790.2L1960.4 801.4L1963.8 812.5L1967.1 823.7L1970.5 835L1973.8 846.2L1977.1 857.5L1980.4 868.7L1983.7 880L1986.9 891.3L1990.1 902.7L1993.4 914L1996.6 925.4L1997.1 927.3" fill="none" stroke="#808080" stroke-width="4.5"/>
<path d="M1239.4 156.4L1252.1 156.5L1264.7 156.6L1277.4 156.8L1290 156.9L1302.6 157.1L1315.1 157.3L1327.7 157.6L1340.1 158L1352.5 158.4L1364.9 158.9L1377.2 159.4L1389.4 160.1L1401.5 160.8L1413.5 161.7L1425.5 162.6L1437.3 163.7L1449 164.9L1460.7 166.2L1472.2 167.7L1483.5 169.4L1494.8 171.2L1505.9 173.1L1516.8 175.3L1527.6 177.6L1538.3 180.1L1548.7 182.8L1559 185.8L1569.2 188.9L1579.1 192.2L1588.9 195.7L1598.5 199.4L1608 203.4L1617.2 207.5L1626.3 211.9L1635.2 216.5L1644 221.3L1652.5 226.3L1660.9 231.5L1669 237L1677 242.7L1684.8 248.6L1692.5 254.6L1699.9 261L1707.2 267.4L1714.4 274.1L1721.3 281L1728.2 288.1L1734.8 295.3L1741.4 302.7L1747.7 310.3L1754 318.1L1760.1 326L1766.1 334L1772 342.2L1777.8 350.5L1783.4 359L1788.9 367.6L1794.4 376.3L1799.7 385.1L1805 394.1L1810.1 403.1L1815.2 412.3L1820.2 421.5L1825.1 430.9L1829.9 440.3L1834.6 449.9L1839.3 459.5L1843.9 469.2L1848.5 478.9L1853 488.8L1857.4 498.7L1861.7 508.7L1866 518.8L1870.3 529L1874.4 539.2L1878.6 549.4L1882.6 559.8L1886.7 570.2L1890.7 580.6L1894.6 591.1L1898.5 601.7L1902.3 612.3L1906.1 622.9L1909.9 633.6L1913.7 644.4L1917.4 655.1L1921 666L1924.7 676.8L1928.3 687.7L1931.9 698.6L1935.5 709.5L1939 720.5L1942.6 731.5L1946.1 742.5L1949.6 753.5L1953 764.6L1956.5 775.7L1959.9 786.8L1963.3 797.9L1966.7 809.1L1970 820.3L1973.4 831.5L1976.7 842.7L1980 854L1983.3 865.2L1986.6 876.5L1989.9 887.8L1993.1 899.1L1996.3 910.5L1999.6 921.9L2001.1 927.3" fill="none" stroke="#000000" stroke-width="5.5"/>
<path d="M1239.5 156.3L1252.2 156.4L1264.8 156.5L1277.5 156.6L1290.1 156.8L1302.7 156.9L1315.3 157.2L1327.8 157.4L1340.3 157.7L1352.8 158.1L1365.1 158.5L1377.4 159.1L1389.7 159.7L1401.8 160.4L1413.9 161.2L1425.9 162.1L1437.8 163.1L1449.6 164.3L1461.2 165.6L1472.8 167L1484.2 168.6L1495.5 170.4L1506.6 172.3L1517.6 174.3L1528.5 176.6L1539.1 179.1L1549.7 181.7L1560 184.6L1570.2 187.6L1580.2 190.9L1590.1 194.3L1599.8 198L1609.3 201.9L1618.6 205.9L1627.7 210.2L1636.7 214.7L1645.5 219.5L1654.1 224.4L1662.5 229.6L1670.7 235L1678.8 240.6L1686.6 246.4L1694.3 252.4L1701.8 258.7L1709.2 265.1L1716.4 271.7L1723.4 278.5L1730.3 285.6L1737 292.7L1743.6 300.1L1750 307.6L1756.3 315.3L1762.5 323.1L1768.5 331.1L1774.5 339.3L1780.3 347.5L1785.9 356L1791.5 364.5L1797 373.2L1802.4 382L1807.6 390.9L1812.8 399.9L1817.9 409L1822.9 418.2L1827.9 427.6L1832.7 437L1837.5 446.5L1842.2 456L1846.8 465.7L1851.4 475.5L1855.9 485.3L1860.3 495.2L1864.7 505.2L1869 515.3L1873.3 525.4L1877.5 535.6L1881.6 545.8L1885.7 556.2L1889.7 566.5L1893.7 577L1897.7 587.5L1901.6 598L1905.4 608.6L1909.2 619.2L1913 629.9L1916.8 640.7L1920.5 651.4L1924.2 662.2L1927.8 673.1L1931.5 683.9L1935.1 694.8L1938.7 705.7L1942.2 716.7L1945.8 727.7L1949.3 738.7L1952.8 749.7L1956.3 760.7L1959.7 771.8L1963.1 782.9L1966.5 794.1L1969.9 805.2L1973.3 816.4L1976.7 827.6L1980 838.8L1983.3 850L1986.6 861.3L1989.9 872.6L1993.2 883.9L1996.4 895.2L1999.7 906.5L2002.9 917.9L2005.6 927.3" fill="none" stroke="#ff00aa" stroke-width="5.5"/>
<path d="M1239.6 156.2L1252.3 156.3L1264.9 156.4L1277.6 156.5L1290.3 156.6L1302.9 156.8L1315.5 157L1328 157.2L1340.5 157.5L1353 157.8L1365.4 158.2L1377.7 158.7L1390 159.3L1402.2 160L1414.3 160.7L1426.3 161.6L1438.2 162.6L1450.1 163.7L1461.8 164.9L1473.4 166.3L1484.8 167.9L1496.1 169.5L1507.3 171.4L1518.4 173.4L1529.3 175.6L1540 178L1550.6 180.6L1561 183.4L1571.3 186.4L1581.4 189.5L1591.3 192.9L1601 196.5L1610.5 200.3L1619.9 204.3L1629.1 208.6L1638.2 213L1647 217.7L1655.7 222.5L1664.1 227.6L1672.4 233L1680.5 238.5L1688.4 244.2L1696.2 250.2L1703.8 256.4L1711.2 262.8L1718.4 269.3L1725.5 276.1L1732.4 283L1739.2 290.1L1745.8 297.4L1752.3 304.9L1758.6 312.5L1764.9 320.3L1770.9 328.3L1776.9 336.3L1782.7 344.6L1788.5 352.9L1794.1 361.4L1799.6 370.1L1805 378.8L1810.3 387.7L1815.5 396.7L1820.7 405.7L1825.7 414.9L1830.7 424.2L1835.5 433.6L1840.3 443.1L1845.1 452.6L1849.7 462.3L1854.3 472L1858.8 481.8L1863.3 491.7L1867.7 501.7L1872 511.7L1876.3 521.8L1880.5 532L1884.6 542.2L1888.7 552.5L1892.8 562.9L1896.8 573.3L1900.7 583.8L1904.6 594.3L1908.5 604.9L1912.3 615.6L1916.1 626.2L1919.9 636.9L1923.6 647.7L1927.3 658.5L1931 669.3L1934.6 680.2L1938.2 691L1941.8 702L1945.4 712.9L1949 723.9L1952.5 734.8L1956 745.9L1959.5 756.9L1962.9 768L1966.4 779.1L1969.8 790.2L1973.2 801.3L1976.6 812.5L1980 823.7L1983.3 834.9L1986.6 846.1L1989.9 857.3L1993.2 868.6L1996.5 879.9L1999.8 891.2L2003 902.5L2006.3 913.9L2009.5 925.2L2010.1 927.3" fill="none" stroke="#000000" stroke-width="5.5"/>
<path d="M1239.7 156.1L1252.3 156.2L1265 156.3L1277.7 156.4L1290.4 156.5L1303 156.6L1315.6 156.8L1328.2 157L1340.7 157.3L1353.2 157.6L1365.6 158L1378 158.4L1390.3 159L1402.5 159.6L1414.6 160.4L1426.7 161.2L1438.6 162.1L1450.5 163.2L1462.2 164.4L1473.8 165.8L1485.3 167.3L1496.7 168.9L1507.9 170.7L1519 172.7L1529.9 174.8L1540.7 177.2L1551.3 179.7L1561.8 182.5L1572.1 185.4L1582.2 188.5L1592.2 191.9L1601.9 195.4L1611.5 199.1L1621 203.1L1630.2 207.3L1639.3 211.7L1648.2 216.3L1656.9 221.1L1665.4 226.1L1673.7 231.4L1681.9 236.9L1689.9 242.6L1697.6 248.5L1705.3 254.6L1712.7 260.9L1720 267.4L1727.1 274.2L1734.1 281L1740.9 288.1L1747.5 295.4L1754.1 302.8L1760.4 310.4L1766.7 318.1L1772.8 326L1778.8 334.1L1784.7 342.3L1790.4 350.6L1796.1 359.1L1801.6 367.6L1807.1 376.4L1812.4 385.2L1817.6 394.1L1822.8 403.2L1827.9 412.4L1832.8 421.6L1837.7 431L1842.6 440.4L1847.3 450L1852 459.6L1856.6 469.3L1861.1 479.1L1865.6 489L1870 498.9L1874.3 508.9L1878.6 519L1882.8 529.2L1887 539.4L1891.1 549.7L1895.1 560.1L1899.2 570.5L1903.1 581L1907 591.5L1910.9 602.1L1914.8 612.7L1918.6 623.3L1922.3 634.1L1926.1 644.8L1929.8 655.6L1933.4 666.4L1937.1 677.2L1940.7 688.1L1944.3 699L1947.9 709.9L1951.4 720.9L1955 731.9L1958.5 742.9L1962 753.9L1965.4 765L1968.9 776.1L1972.3 787.2L1975.7 798.3L1979.1 809.4L1982.5 820.6L1985.9 831.8L1989.2 843L1992.5 854.3L1995.8 865.5L1999.1 876.8L2002.4 888.1L2005.6 899.4L2008.9 910.7L2012.1 922.1L2013.6 927.3" fill="none" stroke="#000000" stroke-width="4.5"/>
<path d="M1239.9 155.9L1252.6 155.9L1265.3 155.9L1278 156L1290.7 156L1303.4 156.1L1316.1 156.2L1328.7 156.3L1341.3 156.5L1353.9 156.8L1366.4 157L1378.8 157.4L1391.2 157.8L1403.6 158.3L1415.8 158.9L1427.9 159.7L1440 160.5L1452 161.4L1463.8 162.5L1475.6 163.6L1487.2 165L1498.7 166.5L1510.1 168.1L1521.3 169.9L1532.4 171.9L1543.4 174L1554.2 176.4L1564.8 178.9L1575.2 181.6L1585.5 184.6L1595.7 187.7L1605.6 191L1615.4 194.6L1625 198.3L1634.4 202.3L1643.7 206.4L1652.7 210.8L1661.6 215.4L1670.3 220.3L1678.8 225.3L1687.1 230.6L1695.3 236.1L1703.2 241.8L1711 247.7L1718.6 253.9L1726 260.2L1733.3 266.7L1740.4 273.4L1747.4 280.3L1754.2 287.4L1760.9 294.7L1767.4 302.1L1773.8 309.7L1780.1 317.4L1786.2 325.3L1792.2 333.3L1798.1 341.5L1803.8 349.8L1809.5 358.3L1815 366.9L1820.4 375.6L1825.8 384.4L1831 393.4L1836.2 402.4L1841.2 411.6L1846.2 420.9L1851.1 430.2L1855.9 439.7L1860.7 449.2L1865.3 458.9L1869.9 468.6L1874.4 478.4L1878.9 488.3L1883.3 498.3L1887.6 508.3L1891.8 518.4L1896 528.6L1900.2 538.9L1904.3 549.2L1908.3 559.6L1912.3 570L1916.3 580.5L1920.2 591L1924 601.6L1927.9 612.2L1931.7 622.9L1935.4 633.6L1939.2 644.4L1942.9 655.2L1946.5 666L1950.2 676.8L1953.8 687.7L1957.4 698.6L1961 709.5L1964.6 720.4L1968.1 731.4L1971.6 742.4L1975.1 753.4L1978.6 764.5L1982.1 775.5L1985.5 786.6L1988.9 797.8L1992.3 808.9L1995.7 820.1L1999.1 831.2L2002.4 842.4L2005.8 853.7L2009.1 864.9L2012.4 876.2L2015.7 887.5L2018.9 898.8L2022.2 910.1L2025.4 921.4L2027.1 927.3" fill="none" stroke="#800080" stroke-width="3.5"/>
<path d="M1239.9 155.9L1252.6 155.9L1265.3 156L1278 156L1290.7 156.1L1303.4 156.2L1316 156.3L1328.7 156.4L1341.3 156.6L1353.8 156.8L1366.3 157.1L1378.7 157.5L1391.1 158L1403.4 158.5L1415.7 159.1L1427.8 159.8L1439.9 160.7L1451.8 161.6L1463.7 162.7L1475.4 163.9L1487 165.2L1498.5 166.7L1509.9 168.4L1521.1 170.2L1532.2 172.2L1543.1 174.4L1553.8 176.7L1564.5 179.3L1574.9 182.1L1585.2 185L1595.3 188.2L1605.2 191.5L1615 195.1L1624.6 198.8L1634 202.8L1643.2 207L1652.2 211.4L1661.1 216.1L1669.8 220.9L1678.3 226L1686.6 231.3L1694.7 236.8L1702.6 242.6L1710.4 248.5L1718 254.7L1725.4 261L1732.6 267.6L1739.7 274.3L1746.7 281.2L1753.5 288.3L1760.1 295.6L1766.6 303L1773 310.6L1779.2 318.4L1785.4 326.3L1791.3 334.3L1797.2 342.5L1803 350.9L1808.6 359.3L1814.1 367.9L1819.6 376.7L1824.9 385.5L1830.1 394.5L1835.3 403.5L1840.3 412.7L1845.3 422L1850.2 431.4L1855 440.8L1859.7 450.4L1864.4 460L1868.9 469.8L1873.4 479.6L1877.9 489.5L1882.3 499.5L1886.6 509.5L1890.8 519.6L1895 529.8L1899.2 540.1L1903.3 550.4L1907.3 560.8L1911.3 571.2L1915.2 581.7L1919.2 592.2L1923 602.8L1926.8 613.5L1930.6 624.1L1934.4 634.9L1938.1 645.6L1941.8 656.4L1945.5 667.2L1949.1 678.1L1952.8 688.9L1956.4 699.8L1959.9 710.8L1963.5 721.7L1967 732.7L1970.6 743.7L1974.1 754.7L1977.5 765.8L1981 776.8L1984.4 787.9L1987.8 799.1L1991.2 810.2L1994.6 821.4L1998 832.5L2001.3 843.8L2004.7 855L2008 866.2L2011.3 877.5L2014.5 888.8L2017.8 900.1L2021.1 911.4L2024.3 922.8L2025.6 927.3" fill="none" stroke="#000000" stroke-width="4"/>
<path d="M1239.7 156.1L1252.4 156.1L1265.1 156.2L1277.8 156.3L1290.5 156.4L1303.1 156.5L1315.7 156.6L1328.3 156.8L1340.9 157.1L1353.4 157.3L1365.8 157.7L1378.2 158.1L1390.6 158.6L1402.8 159.2L1415 159.9L1427 160.7L1439 161.6L1450.9 162.7L1462.7 163.8L1474.3 165.1L1485.9 166.6L1497.3 168.2L1508.6 169.9L1519.7 171.9L1530.7 174L1541.5 176.3L1552.2 178.7L1562.7 181.4L1573 184.3L1583.2 187.3L1593.2 190.6L1603 194.1L1612.7 197.8L1622.2 201.7L1631.5 205.8L1640.6 210.1L1649.5 214.6L1658.3 219.4L1666.9 224.4L1675.2 229.6L1683.4 235L1691.5 240.7L1699.3 246.5L1707 252.6L1714.4 258.8L1721.8 265.3L1728.9 272L1736 278.8L1742.8 285.8L1749.5 293L1756.1 300.4L1762.5 307.9L1768.8 315.6L1775 323.5L1781 331.5L1786.9 339.6L1792.7 347.9L1798.4 356.3L1804 364.9L1809.4 373.6L1814.8 382.4L1820.1 391.3L1825.2 400.3L1830.3 409.4L1835.3 418.7L1840.3 428L1845.1 437.4L1849.9 446.9L1854.6 456.5L1859.2 466.2L1863.7 476L1868.2 485.8L1872.6 495.8L1877 505.8L1881.3 515.9L1885.5 526L1889.7 536.2L1893.8 546.5L1897.9 556.9L1901.9 567.3L1905.8 577.7L1909.8 588.2L1913.7 598.8L1917.5 609.4L1921.3 620.1L1925.1 630.7L1928.8 641.5L1932.5 652.3L1936.2 663.1L1939.9 673.9L1943.5 684.8L1947.1 695.7L1950.7 706.6L1954.3 717.5L1957.8 728.5L1961.3 739.5L1964.8 750.5L1968.3 761.6L1971.8 772.6L1975.2 783.7L1978.6 794.8L1982 806L1985.4 817.1L1988.8 828.3L1992.1 839.5L1995.5 850.8L1998.8 862L2002.1 873.3L2005.3 884.6L2008.6 895.9L2011.8 907.2L2015.1 918.5L2017.6 927.3" fill="none" stroke="#ff00ff" stroke-width="6"/>
<path d="M1239.8 156L1252.5 156L1265.2 156.1L1277.9 156.1L1290.6 156.2L1303.3 156.3L1315.9 156.4L1328.5 156.6L1341.1 156.8L1353.6 157.1L1366.1 157.4L1378.5 157.8L1390.9 158.3L1403.2 158.8L1415.4 159.5L1427.5 160.2L1439.5 161.1L1451.4 162.1L1463.2 163.2L1474.9 164.4L1486.5 165.8L1498 167.4L1509.3 169.1L1520.5 170.9L1531.5 173L1542.4 175.2L1553.1 177.6L1563.7 180.2L1574.1 183L1584.3 186L1594.4 189.2L1604.3 192.6L1614 196.3L1623.5 200.1L1632.9 204.1L1642.1 208.4L1651.1 212.8L1659.9 217.5L1668.5 222.4L1676.9 227.6L1685.2 232.9L1693.3 238.5L1701.2 244.3L1708.9 250.3L1716.4 256.5L1723.8 262.9L1731 269.5L1738.1 276.3L1745 283.2L1751.7 290.4L1758.4 297.7L1764.8 305.1L1771.2 312.8L1777.4 320.6L1783.5 328.5L1789.4 336.6L1795.2 344.9L1801 353.3L1806.6 361.8L1812.1 370.4L1817.5 379.2L1822.8 388L1828 397L1833.1 406.1L1838.1 415.3L1843.1 424.6L1847.9 434L1852.7 443.5L1857.4 453.1L1862.1 462.7L1866.7 472.5L1871.2 482.3L1875.6 492.2L1879.9 502.2L1884.3 512.3L1888.5 522.4L1892.7 532.6L1896.8 542.9L1900.9 553.2L1904.9 563.6L1908.9 574.1L1912.9 584.6L1916.7 595.1L1920.6 605.7L1924.4 616.3L1928.2 627L1932 637.8L1935.7 648.5L1939.4 659.3L1943 670.1L1946.7 681L1950.3 691.9L1953.9 702.8L1957.5 713.7L1961 724.7L1964.5 735.7L1968.1 746.7L1971.5 757.7L1975 768.8L1978.5 779.9L1981.9 791L1985.3 802.1L1988.7 813.2L1992.1 824.4L1995.4 835.6L1998.8 846.8L2002.1 858.1L2005.4 869.3L2008.7 880.6L2011.9 891.9L2015.2 903.2L2018.4 914.5L2021.7 925.9L2022.1 927.3" fill="none" stroke="#ff00aa" stroke-width="5.5"/>
<path d="M1563 211.4L1572 215.9L1580.7 220.7L1589.3 225.6L1597.7 230.8L1605.9 236.2L1614 241.8L1621.8 247.7L1629.5 253.7L1637 259.9L1644.4 266.4L1651.5 273L1658.5 279.9L1665.4 287L1672 294.2L1678.5 301.6L1684.9 309.2L1691.1 317L1697.2 325L1703.1 333.1L1709 341.4L1714.6 349.8L1720.2 358.3L1725.7 367L1731 375.8L1736.3 384.7L1741.4 393.8L1746.5 403L1751.5 412.2L1756.4 421.6L1761.2 431.1L1765.9 440.6L1770.6 450.2L1775.2 459.9L1779.8 469.7L1784.3 479.5L1788.7 489.4L1793.1 499.3L1797.5 509.3L1801.8 519.4L1806 529.5L1810.2 539.7L1814.4 549.9L1818.5 560.2L1822.6 570.6L1826.6 581L1830.6 591.4L1834.5 601.9L1838.4 612.5L1842.3 623.1L1846.1 633.7L1849.9 644.4L1853.6 655.1L1857.4 665.9L1861 676.7L1864.7 687.5L1868.3 698.4L1871.9 709.4L1875.4 720.3L1878.9 731.3L1882.4 742.4L1885.9 753.4L1889.3 764.5L1892.8 775.6L1896.1 786.8L1899.5 798L1902.8 809.2L1906.2 820.4L1909.5 831.7L1912.7 843L1916 854.3L1919.2 865.6L1922.5 877L1925.7 888.4L1928.8 899.8L1932 911.2L1935.2 922.6L1936.4 927.3" fill="none" stroke="#b8860b" stroke-width="2.2" stroke-dasharray="2 8"/>
<path d="M1564.6 209.5L1573.7 213.9L1582.5 218.6L1591.2 223.4L1599.7 228.5L1608 233.8L1616.1 239.3L1624 245L1631.8 251L1639.4 257.1L1646.8 263.5L1654.1 270L1661.1 276.8L1668 283.8L1674.8 290.9L1681.4 298.2L1687.8 305.8L1694.1 313.5L1700.3 321.3L1706.3 329.3L1712.2 337.5L1717.9 345.8L1723.6 354.3L1729.1 362.9L1734.5 371.7L1739.8 380.5L1745 389.5L1750.2 398.6L1755.2 407.8L1760.1 417.1L1765 426.5L1769.8 436L1774.5 445.5L1779.2 455.2L1783.8 464.9L1788.3 474.7L1792.8 484.5L1797.3 494.4L1801.6 504.4L1806 514.4L1810.3 524.5L1814.5 534.7L1818.7 544.9L1822.8 555.1L1826.9 565.4L1830.9 575.8L1834.9 586.2L1838.9 596.7L1842.8 607.2L1846.7 617.8L1850.5 628.4L1854.3 639.1L1858.1 649.8L1861.8 660.6L1865.5 671.4L1869.2 682.2L1872.8 693.1L1876.4 704L1880 714.9L1883.5 725.9L1887 736.9L1890.5 748L1893.9 759.1L1897.4 770.2L1900.8 781.3L1904.1 792.5L1907.5 803.7L1910.8 814.9L1914.1 826.1L1917.4 837.4L1920.7 848.7L1923.9 860L1927.2 871.4L1930.4 882.7L1933.6 894.1L1936.8 905.5L1939.9 916.9L1942.8 927.3" fill="none" stroke="#ff00aa" stroke-width="2.2" stroke-dasharray="2.5 13"/>
<path d="M1566.7 207L1575.9 211.3L1584.8 215.8L1593.6 220.5L1602.2 225.5L1610.6 230.7L1618.8 236L1626.9 241.6L1634.8 247.4L1642.5 253.4L1650 259.7L1657.4 266.1L1664.6 272.7L1671.6 279.6L1678.4 286.6L1685.1 293.8L1691.6 301.2L1698 308.8L1704.3 316.5L1710.4 324.4L1716.4 332.5L1722.2 340.7L1728 349.1L1733.6 357.6L1739.1 366.2L1744.5 375L1749.8 383.9L1755 392.9L1760.1 402L1765.1 411.2L1770 420.5L1774.9 429.9L1779.6 439.4L1784.4 449L1789 458.6L1793.6 468.4L1798.2 478.1L1802.6 488L1807.1 497.9L1811.4 507.9L1815.8 517.9L1820 528.1L1824.2 538.2L1828.4 548.4L1832.5 558.7L1836.6 569.1L1840.6 579.5L1844.6 589.9L1848.6 600.4L1852.5 611L1856.3 621.6L1860.1 632.2L1863.9 642.9L1867.7 653.6L1871.4 664.4L1875 675.2L1878.7 686.1L1882.3 696.9L1885.9 707.9L1889.4 718.8L1892.9 729.8L1896.4 740.9L1899.9 751.9L1903.4 763L1906.8 774.1L1910.2 785.3L1913.5 796.4L1916.9 807.6L1920.2 818.9L1923.5 830.1L1926.8 841.4L1930.1 852.7L1933.4 864L1936.6 875.3L1939.8 886.7L1943 898.1L1946.2 909.5L1949.4 920.9L1951.1 927.3" fill="none" stroke="#80ff00" stroke-width="2.2" stroke-dasharray="2.5 7"/>
<path d="M1568.3 205.1L1577.5 209.3L1586.6 213.7L1595.4 218.3L1604.1 223.2L1612.6 228.2L1621 233.5L1629.1 239L1637.1 244.7L1644.9 250.6L1652.5 256.7L1659.9 263.1L1667.2 269.6L1674.3 276.4L1681.2 283.3L1687.9 290.4L1694.6 297.7L1701 305.2L1707.4 312.9L1713.5 320.7L1719.6 328.7L1725.5 336.8L1731.3 345.1L1737 353.5L1742.6 362.1L1748 370.8L1753.4 379.6L1758.6 388.5L1763.8 397.6L1768.8 406.7L1773.8 416L1778.7 425.3L1783.6 434.8L1788.3 444.3L1793 453.9L1797.7 463.5L1802.2 473.3L1806.8 483.1L1811.2 493L1815.6 502.9L1820 512.9L1824.3 523L1828.5 533.1L1832.7 543.3L1836.8 553.6L1840.9 563.9L1845 574.3L1849 584.7L1852.9 595.2L1856.9 605.7L1860.7 616.3L1864.6 626.9L1868.4 637.6L1872.1 648.3L1875.8 659.1L1879.5 669.8L1883.2 680.7L1886.8 691.6L1890.4 702.5L1894 713.4L1897.5 724.4L1901 735.4L1904.5 746.5L1908 757.5L1911.4 768.6L1914.8 779.8L1918.2 790.9L1921.6 802.1L1924.9 813.3L1928.2 824.5L1931.5 835.8L1934.8 847.1L1938.1 858.4L1941.3 869.7L1944.6 881L1947.8 892.4L1951 903.8L1954.2 915.2L1957.3 926.6L1957.5 927.3" fill="none" stroke="#808080" stroke-width="2.2" stroke-dasharray="3 8"/>
<path d="M1561.5 198L1571 201.9L1580.4 205.9L1589.6 210.1L1598.6 214.6L1607.4 219.3L1616.1 224.2L1624.5 229.3L1632.8 234.6L1640.9 240.1L1648.9 245.8L1656.6 251.8L1664.2 258L1671.6 264.3L1678.8 270.9L1685.9 277.7L1692.8 284.7L1699.5 291.8L1706.1 299.2L1712.6 306.7L1718.9 314.4L1725 322.2L1731.1 330.2L1737 338.3L1742.8 346.6L1748.4 355.1L1754 363.6L1759.5 372.3L1764.8 381.1L1770.1 390.1L1775.2 399.1L1780.3 408.3L1785.3 417.5L1790.2 426.9L1795 436.3L1799.8 445.8L1804.5 455.4L1809.2 465L1813.7 474.8L1818.2 484.6L1822.7 494.5L1827.1 504.4L1831.4 514.5L1835.7 524.5L1840 534.7L1844.1 544.9L1848.3 555.2L1852.3 565.5L1856.4 575.9L1860.4 586.3L1864.3 596.8L1868.2 607.4L1872.1 618L1875.9 628.6L1879.7 639.3L1883.4 650L1887.1 660.8L1890.8 671.6L1894.4 682.5L1898.1 693.3L1901.6 704.3L1905.2 715.2L1908.7 726.2L1912.2 737.2L1915.7 748.3L1919.2 759.3L1922.6 770.4L1926 781.6L1929.4 792.7L1932.8 803.9L1936.1 815.1L1939.5 826.3L1942.8 837.6L1946.1 848.8L1949.3 860.1L1952.6 871.5L1955.8 882.8L1959.1 894.1L1962.3 905.5L1965.5 916.9L1968.4 927.3" fill="none" stroke="#800080" stroke-width="2.2" stroke-dasharray="2.5 9"/>
<path d="M1565.9 192.8L1575.7 196.3L1585.3 200L1594.7 204L1604 208.1L1613.1 212.5L1622 217.1L1630.7 221.9L1639.2 226.9L1647.6 232.2L1655.8 237.6L1663.8 243.3L1671.6 249.2L1679.2 255.3L1686.7 261.6L1694 268.1L1701.1 274.8L1708.1 281.6L1714.9 288.7L1721.5 296L1728.1 303.4L1734.4 311L1740.7 318.7L1746.8 326.7L1752.8 334.7L1758.6 342.9L1764.4 351.3L1770 359.8L1775.5 368.4L1780.9 377.1L1786.3 386L1791.5 394.9L1796.6 404L1801.7 413.2L1806.6 422.5L1811.5 431.8L1816.3 441.3L1821.1 450.8L1825.8 460.4L1830.4 470.1L1834.9 479.9L1839.4 489.8L1843.8 499.7L1848.2 509.7L1852.5 519.7L1856.7 529.9L1860.9 540.1L1865.1 550.3L1869.2 560.7L1873.2 571L1877.2 581.5L1881.1 592L1885 602.5L1888.9 613.1L1892.7 623.7L1896.5 634.4L1900.3 645.2L1904 655.9L1907.6 666.7L1911.3 677.6L1914.9 688.5L1918.5 699.4L1922.1 710.3L1925.6 721.3L1929.2 732.3L1932.7 743.3L1936.1 754.3L1939.6 765.4L1943 776.5L1946.4 787.6L1949.8 798.8L1953.2 810L1956.5 821.2L1959.9 832.4L1963.2 843.6L1966.5 854.9L1969.8 866.2L1973 877.5L1976.3 888.8L1979.5 900.2L1982.7 911.5L1985.9 922.9L1987.2 927.3" fill="none" stroke="#aaaa00" stroke-width="2.2" stroke-dasharray="2 9"/>
<path d="M1569.2 188.9L1579.1 192.2L1588.9 195.7L1598.5 199.4L1608 203.4L1617.2 207.5L1626.3 211.9L1635.2 216.5L1644 221.3L1652.5 226.3L1660.9 231.5L1669 237L1677 242.7L1684.8 248.6L1692.5 254.6L1699.9 261L1707.2 267.4L1714.4 274.1L1721.3 281L1728.2 288.1L1734.8 295.3L1741.4 302.7L1747.7 310.3L1754 318.1L1760.1 326L1766.1 334L1772 342.2L1777.8 350.5L1783.4 359L1788.9 367.6L1794.4 376.3L1799.7 385.1L1805 394.1L1810.1 403.1L1815.2 412.3L1820.2 421.5L1825.1 430.9L1829.9 440.3L1834.6 449.9L1839.3 459.5L1843.9 469.2L1848.5 478.9L1853 488.8L1857.4 498.7L1861.7 508.7L1866 518.8L1870.3 529L1874.4 539.2L1878.6 549.4L1882.6 559.8L1886.7 570.2L1890.7 580.6L1894.6 591.1L1898.5 601.7L1902.3 612.3L1906.1 622.9L1909.9 633.6L1913.7 644.4L1917.4 655.1L1921 666L1924.7 676.8L1928.3 687.7L1931.9 698.6L1935.5 709.5L1939 720.5L1942.6 731.5L1946.1 742.5L1949.6 753.5L1953 764.6L1956.5 775.7L1959.9 786.8L1963.3 797.9L1966.7 809.1L1970 820.3L1973.4 831.5L1976.7 842.7L1980 854L1983.3 865.2L1986.6 876.5L1989.9 887.8L1993.1 899.1L1996.3 910.5L1999.6 921.9L2001.1 927.3" fill="none" stroke="#808080" stroke-width="2.2" stroke-dasharray="2 9"/>
<path d="M1561 183.4L1571.3 186.4L1581.4 189.5L1591.3 192.9L1601 196.5L1610.5 200.3L1619.9 204.3L1629.1 208.6L1638.2 213L1647 217.7L1655.7 222.5L1664.1 227.6L1672.4 233L1680.5 238.5L1688.4 244.2L1696.2 250.2L1703.8 256.4L1711.2 262.8L1718.4 269.3L1725.5 276.1L1732.4 283L1739.2 290.1L1745.8 297.4L1752.3 304.9L1758.6 312.5L1764.9 320.3L1770.9 328.3L1776.9 336.3L1782.7 344.6L1788.5 352.9L1794.1 361.4L1799.6 370.1L1805 378.8L1810.3 387.7L1815.5 396.7L1820.7 405.7L1825.7 414.9L1830.7 424.2L1835.5 433.6L1840.3 443.1L1845.1 452.6L1849.7 462.3L1854.3 472L1858.8 481.8L1863.3 491.7L1867.7 501.7L1872 511.7L1876.3 521.8L1880.5 532L1884.6 542.2L1888.7 552.5L1892.8 562.9L1896.8 573.3L1900.7 583.8L1904.6 594.3L1908.5 604.9L1912.3 615.6L1916.1 626.2L1919.9 636.9L1923.6 647.7L1927.3 658.5L1931 669.3L1934.6 680.2L1938.2 691L1941.8 702L1945.4 712.9L1949 723.9L1952.5 734.8L1956 745.9L1959.5 756.9L1962.9 768L1966.4 779.1L1969.8 790.2L1973.2 801.3L1976.6 812.5L1980 823.7L1983.3 834.9L1986.6 846.1L1989.9 857.3L1993.2 868.6L1996.5 879.9L1999.8 891.2L2003 902.5L2006.3 913.9L2009.5 925.2L2010.1 927.3" fill="none" stroke="#fff" stroke-width="2.2" stroke-dasharray="1.6 12"/>
<path d="M1564.1 179.7L1574.5 182.5L1584.8 185.4L1594.9 188.6L1604.8 192L1614.5 195.6L1624.1 199.4L1633.5 203.4L1642.7 207.6L1651.7 212L1660.6 216.7L1669.2 221.6L1677.7 226.7L1686 232L1694.1 237.5L1702 243.3L1709.7 249.3L1717.3 255.4L1724.7 261.8L1731.9 268.4L1739 275.1L1746 282.1L1752.7 289.2L1759.4 296.5L1765.9 303.9L1772.2 311.5L1778.4 319.3L1784.5 327.2L1790.5 335.3L1796.4 343.5L1802.1 351.9L1807.7 360.4L1813.2 369L1818.7 377.7L1824 386.6L1829.2 395.6L1834.3 404.6L1839.4 413.8L1844.3 423.1L1849.2 432.5L1854 442L1858.7 451.5L1863.4 461.2L1868 470.9L1872.5 480.8L1876.9 490.7L1881.3 500.6L1885.6 510.7L1889.8 520.8L1894 531L1898.2 541.3L1902.3 551.6L1906.3 562L1910.3 572.4L1914.2 582.9L1918.1 593.5L1922 604.1L1925.8 614.7L1929.6 625.4L1933.3 636.1L1937.1 646.9L1940.8 657.7L1944.4 668.5L1948.1 679.3L1951.7 690.2L1955.3 701.1L1958.9 712L1962.4 723L1966 734L1969.5 745L1973 756L1976.5 767.1L1979.9 778.1L1983.3 789.2L1986.8 800.4L1990.2 811.5L1993.5 822.7L1996.9 833.9L2000.2 845.1L2003.6 856.3L2006.9 867.6L2010.2 878.8L2013.4 890.1L2016.7 901.4L2019.9 912.8L2023.2 924.1L2024.1 927.3" fill="none" stroke="#fff" stroke-width="2.2" stroke-dasharray="1.6 13"/>
<path d="M1564.7 179L1575.1 181.8L1585.4 184.7L1595.5 187.8L1605.5 191.2L1615.3 194.7L1624.9 198.5L1634.3 202.4L1643.5 206.6L1652.6 211L1661.5 215.6L1670.1 220.5L1678.6 225.5L1686.9 230.8L1695.1 236.3L1703 242.1L1710.8 248L1718.4 254.1L1725.8 260.5L1733.1 267L1740.2 273.7L1747.2 280.6L1754 287.7L1760.6 295L1767.2 302.4L1773.5 310L1779.8 317.7L1785.9 325.6L1791.9 333.7L1797.8 341.9L1803.5 350.2L1809.2 358.7L1814.7 367.2L1820.2 376L1825.5 384.8L1830.7 393.8L1835.9 402.8L1840.9 412L1845.9 421.2L1850.8 430.6L1855.6 440.1L1860.3 449.6L1865 459.3L1869.6 469L1874.1 478.8L1878.5 488.7L1882.9 498.7L1887.3 508.7L1891.5 518.8L1895.7 529L1899.9 539.3L1903.9 549.6L1908 560L1912 570.4L1915.9 580.9L1919.8 591.4L1923.7 602L1927.5 612.6L1931.3 623.3L1935.1 634L1938.8 644.8L1942.5 655.6L1946.2 666.4L1949.8 677.2L1953.5 688.1L1957.1 699L1960.7 709.9L1964.2 720.9L1967.8 731.8L1971.3 742.8L1974.8 753.9L1978.3 764.9L1981.7 776L1985.2 787.1L1988.6 798.2L1992 809.3L1995.4 820.5L1998.7 831.7L2002.1 842.9L2005.4 854.1L2008.7 865.3L2012 876.6L2015.3 887.9L2018.6 899.2L2021.8 910.5L2025 921.9L2026.6 927.3" fill="none" stroke="#80ff00" stroke-width="2.2" stroke-dasharray="2.5 24"/>
<path d="M149.5 151.9L152.6 151.9L370.2 152.5L587.7 153.3L805.1 154.1L1022.7 154.7L1238.7 157.3L1251.3 157.4L1263.9 157.7L1276.4 157.9L1288.9 158.3L1301.3 158.6L1313.7 159.1L1326 159.6L1338.3 160.2L1350.5 160.8L1362.6 161.6L1374.6 162.5L1386.5 163.5L1398.3 164.5L1410.1 165.8L1421.7 167.1L1433.2 168.6L1444.6 170.2L1455.8 172L1467 173.9L1477.9 176.1L1488.8 178.3L1499.4 180.8L1510 183.5L1520.3 186.3L1530.5 189.4L1540.5 192.7L1550.3 196.1L1560 199.9L1569.4 203.8L1578.7 207.9L1587.8 212.2L1596.7 216.8L1605.5 221.6L1614 226.6L1622.4 231.8L1630.6 237.2L1638.6 242.8L1646.5 248.7L1654.2 254.7L1661.7 261L1669 267.5L1676.1 274.1L1683.1 281L1689.9 288.1L1696.6 295.3L1703.1 302.7L1709.5 310.3L1715.7 318.1L1721.8 326L1727.8 334.1L1733.6 342.3L1739.4 350.7L1745 359.2L1750.5 367.9L1755.9 376.6L1761.1 385.5L1766.3 394.5L1771.5 403.6L1776.5 412.8L1781.4 422.1L1786.3 431.5L1791.1 441L1795.8 450.6L1800.5 460.2L1805.1 469.9L1809.6 479.7L1814.1 489.5L1818.5 499.5L1822.9 509.5L1827.2 519.5L1831.5 529.6L1835.7 539.8L1839.8 550L1843.9 560.3L1848 570.7L1852 581.1L1856 591.6L1859.9 602.1L1863.8 612.6L1867.6 623.2L1871.4 633.9L1875.2 644.6L1878.9 655.4L1882.6 666.1L1886.3 677L1889.9 687.8L1893.5 698.7L1897.1 709.7L1900.7 720.6L1904.2 731.6L1907.7 742.7L1911.1 753.7L1914.6 764.8L1918 775.9L1921.4 787.1L1924.8 798.3L1928.1 809.5L1931.5 820.7L1934.8 831.9L1938.1 843.2L1941.3 854.5L1944.6 865.8L1947.8 877.1L1951.1 888.5L1954.3 899.8L1957.5 911.2L1960.7 922.6L1961.9 927.3L2218 927.3" fill="none" stroke="#00aaaa" stroke-width="7.0"/>
</g>
<rect x="2215.5" y="924.8" width="5" height="5" fill="#fff" stroke="#00aaaa" stroke-width="1.7"/>
<text x="130.3" y="108.2" class="t" text-anchor="end" textLength="80.7" lengthAdjust="spacingAndGlyphs">8.8A</text>
<text x="130.3" y="183.9" class="t" text-anchor="end" textLength="80.7" lengthAdjust="spacingAndGlyphs">8.0A</text>
<text x="130.3" y="259.6" class="t" text-anchor="end" textLength="80.7" lengthAdjust="spacingAndGlyphs">7.2A</text>
<text x="130.3" y="335.3" class="t" text-anchor="end" textLength="80.7" lengthAdjust="spacingAndGlyphs">6.4A</text>
<text x="130.3" y="411" class="t" text-anchor="end" textLength="80.7" lengthAdjust="spacingAndGlyphs">5.6A</text>
<text x="130.3" y="486.7" class="t" text-anchor="end" textLength="80.7" lengthAdjust="spacingAndGlyphs">4.8A</text>
<text x="130.3" y="562.4" class="t" text-anchor="end" textLength="80.7" lengthAdjust="spacingAndGlyphs">4.0A</text>
<text x="130.3" y="638.1" class="t" text-anchor="end" textLength="80.7" lengthAdjust="spacingAndGlyphs">3.2A</text>
<text x="130.3" y="713.8" class="t" text-anchor="end" textLength="80.7" lengthAdjust="spacingAndGlyphs">2.4A</text>
<text x="130.3" y="789.5" class="t" text-anchor="end" textLength="80.7" lengthAdjust="spacingAndGlyphs">1.6A</text>
<text x="130.3" y="865.2" class="t" text-anchor="end" textLength="80.7" lengthAdjust="spacingAndGlyphs">0.8A</text>
<text x="130.3" y="940.9" class="t" text-anchor="end" textLength="80.7" lengthAdjust="spacingAndGlyphs">0.0A</text>
<text x="130.3" y="1016.6" class="t" text-anchor="end" textLength="93.4" lengthAdjust="spacingAndGlyphs">-0.8A</text>
<text x="1182.8" y="78.7" class="t" text-anchor="middle">I(D7)</text>
<text x="1926.5" y="299.5" class="s" text-anchor="middle">a)</text>
</g>
<g id="plot2">
<path d="M295.7 1063.2V1974.5M438.1 1063.2V1974.5M580.5 1063.2V1974.5M722.9 1063.2V1974.5M865.3 1063.2V1974.5M1007.7 1063.2V1974.5M1150.1 1063.2V1974.5M1292.4 1063.2V1974.5M1434.8 1063.2V1974.5M1577.2 1063.2V1974.5M1719.6 1063.2V1974.5M1862 1063.2V1974.5M2004.4 1063.2V1974.5M2146.8 1063.2V1974.5M156.3 1899.2H2217M156.3 1823H2217M156.3 1746.7H2217M156.3 1670.4H2217M156.3 1594.1H2217M156.3 1517.8H2217M156.3 1441.6H2217M156.3 1365.3H2217M156.3 1289H2217M156.3 1212.8H2217M156.3 1136.5H2217" class="gr"/>
<path d="M132.9 1899.2H153.3M132.9 1823H153.3M132.9 1746.7H153.3M132.9 1670.4H153.3M132.9 1594.1H153.3M132.9 1517.8H153.3M132.9 1441.6H153.3M132.9 1365.3H153.3M132.9 1289H153.3M132.9 1212.8H153.3M132.9 1136.5H153.3M295.7 1975.5V1995.9M438.1 1975.5V1995.9M580.5 1975.5V1995.9M722.9 1975.5V1995.9M865.3 1975.5V1995.9M1007.7 1975.5V1995.9M1150.1 1975.5V1995.9M1292.4 1975.5V1995.9M1434.8 1975.5V1995.9M1577.2 1975.5V1995.9M1719.6 1975.5V1995.9M1862 1975.5V1995.9M2004.4 1975.5V1995.9M2146.8 1975.5V1995.9" class="fr"/>
<path d="M132.9 1060.2H2219M132.9 1975.5H2219M153.3 1060.2V1995.9M2218 1060.2V1975.5" class="fr"/>
<path d="M150 1974.5L400 1862.6L439.5 1848.5L580.7 1789L722 1739.2L865.4 1697.6L900 1690.6L1007.2 1665.6L1149.3 1632.4L1292.7 1592.9L1436 1534.8L1500 1503.5L1576.9 1471.9L1720.2 1409.6L1861.5 1347.2L1928 1318.1L2214.3 1318.1L2214.3 1138.2L2021.5 1138.2L2004.8 1144.9L1861.5 1208.9L1720.2 1272.4L1576.9 1337.7L1500 1372.5L1436 1400.6L1292.7 1464.1L1149.3 1527.7L1007.2 1590.9L900 1640.7L865.4 1654.8L722 1718.4L580.7 1784.9L400 1861.3L150 1974.5Z" fill="#ff00ff"/>
<path d="M150 1967.5L400 1854.3L439.5 1837.7L580.7 1773.7L722 1703.9L865.4 1634.1L900 1617.9L1007.2 1559.7L1149.3 1484.9L1292.7 1414.3L1436 1347.8L1500 1319.4L1576.9 1282.8L1720.2 1220.5L1861.5 1158.2L1921.7 1131.2L2221 1131.2L2221 1138.2L2021.5 1138.2L2004.8 1144.9L1861.5 1208.9L1720.2 1272.4L1576.9 1337.7L1500 1372.5L1436 1400.6L1292.7 1464.1L1149.3 1527.7L1007.2 1590.9L900 1640.7L865.4 1654.8L722 1718.4L580.7 1784.9L400 1861.3L150 1974.5Z" fill="#00aaaa"/>
<path d="M2210.6 1141V1316" fill="none" stroke="#fff" stroke-width="2" stroke-dasharray="2 3.6"/>
<rect x="2215.5" y="1132.2" width="5" height="5" fill="#fff" stroke="#00aaaa" stroke-width="1.7"/>
<rect x="2215.5" y="1253.5" width="5" height="5" fill="#fff" stroke="#ff00ff" stroke-width="1.7"/>
<text x="130.3" y="1989.1" class="t" text-anchor="end" textLength="46.5" lengthAdjust="spacingAndGlyphs">0V</text>
<text x="130.3" y="1912.8" class="t" text-anchor="end" textLength="46.5" lengthAdjust="spacingAndGlyphs">3V</text>
<text x="130.3" y="1836.5" class="t" text-anchor="end" textLength="46.5" lengthAdjust="spacingAndGlyphs">6V</text>
<text x="130.3" y="1760.3" class="t" text-anchor="end" textLength="46.5" lengthAdjust="spacingAndGlyphs">9V</text>
<text x="130.3" y="1684" class="t" text-anchor="end" textLength="67.6" lengthAdjust="spacingAndGlyphs">12V</text>
<text x="130.3" y="1607.7" class="t" text-anchor="end" textLength="67.6" lengthAdjust="spacingAndGlyphs">15V</text>
<text x="130.3" y="1531.4" class="t" text-anchor="end" textLength="67.6" lengthAdjust="spacingAndGlyphs">18V</text>
<text x="130.3" y="1455.2" class="t" text-anchor="end" textLength="67.6" lengthAdjust="spacingAndGlyphs">21V</text>
<text x="130.3" y="1378.9" class="t" text-anchor="end" textLength="67.6" lengthAdjust="spacingAndGlyphs">24V</text>
<text x="130.3" y="1302.6" class="t" text-anchor="end" textLength="67.6" lengthAdjust="spacingAndGlyphs">27V</text>
<text x="130.3" y="1226.3" class="t" text-anchor="end" textLength="67.6" lengthAdjust="spacingAndGlyphs">30V</text>
<text x="130.3" y="1150.1" class="t" text-anchor="end" textLength="67.6" lengthAdjust="spacingAndGlyphs">33V</text>
<text x="130.3" y="1073.8" class="t" text-anchor="end" textLength="67.6" lengthAdjust="spacingAndGlyphs">36V</text>
<text x="152.5" y="2031.6" class="t" text-anchor="middle" textLength="46.5" lengthAdjust="spacingAndGlyphs">0V</text>
<text x="294.9" y="2031.6" class="t" text-anchor="middle" textLength="67.6" lengthAdjust="spacingAndGlyphs">10V</text>
<text x="437.3" y="2031.6" class="t" text-anchor="middle" textLength="67.6" lengthAdjust="spacingAndGlyphs">20V</text>
<text x="579.7" y="2031.6" class="t" text-anchor="middle" textLength="67.6" lengthAdjust="spacingAndGlyphs">30V</text>
<text x="722.1" y="2031.6" class="t" text-anchor="middle" textLength="67.6" lengthAdjust="spacingAndGlyphs">40V</text>
<text x="864.5" y="2031.6" class="t" text-anchor="middle" textLength="67.6" lengthAdjust="spacingAndGlyphs">50V</text>
<text x="1006.9" y="2031.6" class="t" text-anchor="middle" textLength="67.6" lengthAdjust="spacingAndGlyphs">60V</text>
<text x="1149.3" y="2031.6" class="t" text-anchor="middle" textLength="67.6" lengthAdjust="spacingAndGlyphs">70V</text>
<text x="1291.6" y="2031.6" class="t" text-anchor="middle" textLength="67.6" lengthAdjust="spacingAndGlyphs">80V</text>
<text x="1434" y="2031.6" class="t" text-anchor="middle" textLength="67.6" lengthAdjust="spacingAndGlyphs">90V</text>
<text x="1576.4" y="2031.6" class="t" text-anchor="middle" textLength="88.8" lengthAdjust="spacingAndGlyphs">100V</text>
<text x="1718.8" y="2031.6" class="t" text-anchor="middle" textLength="86.7" lengthAdjust="spacingAndGlyphs">110V</text>
<text x="1861.2" y="2031.6" class="t" text-anchor="middle" textLength="88.8" lengthAdjust="spacingAndGlyphs">120V</text>
<text x="2003.6" y="2031.6" class="t" text-anchor="middle" textLength="88.8" lengthAdjust="spacingAndGlyphs">130V</text>
<text x="2146" y="2031.6" class="t" text-anchor="middle" textLength="88.8" lengthAdjust="spacingAndGlyphs">140V</text>
<text x="409.6" y="1044.2" class="t" text-anchor="middle" fill="#008000" textLength="215.4" lengthAdjust="spacingAndGlyphs">V(b1)-V(b2)</text>
<text x="925.1" y="1044.2" class="t" text-anchor="middle" fill="#ff00ff" textLength="215.4" lengthAdjust="spacingAndGlyphs">V(b2)-V(b3)</text>
<text x="1441.2" y="1044.2" class="t" text-anchor="middle" fill="#80ff00" textLength="215.4" lengthAdjust="spacingAndGlyphs">V(b3)-V(b4)</text>
<text x="1957.7" y="1044.2" class="t" text-anchor="middle" fill="#00a8a8" textLength="101" lengthAdjust="spacingAndGlyphs">V(b4)</text>
<text x="1923" y="1423" class="s" text-anchor="middle">b)</text>
</g>
<g id="plot3">
<path d="M691 2124.3V3029.4M1200 2124.3V3029.4M1709 2124.3V3029.4M185 2947.8H2217M185 2865.1H2217M185 2782.5H2217M185 2699.8H2217M185 2617.2H2217M185 2534.5H2217M185 2451.9H2217M185 2369.2H2217M185 2286.6H2217M185 2203.9H2217" class="gr"/>
<path d="M161.6 2947.8H182M161.6 2865.1H182M161.6 2782.5H182M161.6 2699.8H182M161.6 2617.2H182M161.6 2534.5H182M161.6 2451.9H182M161.6 2369.2H182M161.6 2286.6H182M161.6 2203.9H182" class="fr"/>
<path d="M161.6 2121.3H2219M161.6 3030.4H2219M182 2121.3V3030.4M2218 2121.3V3030.4" class="fr"/>
<g fill="none" stroke-width="2.2">
<path d="M182 2205.3L309.2 2211.5L436.5 2220.8L563.8 2235.4L691 2251.4L945.5 2279.6L1200 2307.4L1454.5 2335.9L1709 2364.4L1963.5 2392.4L2218 2420.2" stroke="#808080"/>
<path d="M182 2207.8L309.2 2213.9L436.5 2223.1L563.8 2237.6L691 2253.6L945.5 2281.7L1200 2309.5L1454.5 2337.9L1709 2366.4L1963.5 2394.4L2218 2422.1" stroke="#000000"/>
<path d="M182 2210.3L309.2 2216.3L436.5 2225.5L563.8 2239.9L691 2255.8L945.5 2283.8L1200 2311.6L1454.5 2340L1709 2368.4L1963.5 2396.4L2218 2424" stroke="#ff00ff"/>
<path d="M182 2212.8L309.2 2218.8L436.5 2227.9L563.8 2242.2L691 2257.9L945.5 2286L1200 2313.7L1454.5 2342.1L1709 2370.5L1963.5 2398.4L2218 2425.9" stroke="#80ff00"/>
<path d="M182 2215.2L309.2 2221.2L436.5 2230.3L563.8 2244.4L691 2260.1L945.5 2288.1L1200 2315.8L1454.5 2344.2L1709 2372.5L1963.5 2400.3L2218 2427.8" stroke="#aaaa00"/>
<path d="M182 2217.7L309.2 2223.6L436.5 2232.6L563.8 2246.7L691 2262.3L945.5 2290.2L1200 2317.9L1454.5 2346.3L1709 2374.6L1963.5 2402.3L2218 2429.7" stroke="#000000"/>
<path d="M182 2220.2L309.2 2226.1L436.5 2235L563.8 2249L691 2264.5L945.5 2292.3L1200 2320.1L1454.5 2348.4L1709 2376.6L1963.5 2404.3L2218 2431.5" stroke="#ff00ff"/>
<path d="M182 2222.7L309.2 2228.5L436.5 2237.4L563.8 2251.3L691 2266.7L945.5 2294.5L1200 2322.2L1454.5 2350.4L1709 2378.6L1963.5 2406.2L2218 2433.4" stroke="#aaaa00"/>
<path d="M182 2225.2L309.2 2231L436.5 2239.8L563.8 2253.5L691 2268.8L945.5 2296.6L1200 2324.3L1454.5 2352.5L1709 2380.7L1963.5 2408.2L2218 2435.3" stroke="#800080"/>
<path d="M182 2227.6L309.2 2233.4L436.5 2242.2L563.8 2255.8L691 2271L945.5 2298.7L1200 2326.4L1454.5 2354.6L1709 2382.7L1963.5 2410.2L2218 2437.2" stroke="#808080"/>
<path d="M182 2230.1L309.2 2235.8L436.5 2244.5L563.8 2258.1L691 2273.2L945.5 2300.8L1200 2328.5L1454.5 2356.7L1709 2384.7L1963.5 2412.1L2218 2439" stroke="#80ff00"/>
<path d="M182 2232.6L309.2 2238.3L436.5 2246.9L563.8 2260.4L691 2275.4L945.5 2303L1200 2330.6L1454.5 2358.8L1709 2386.7L1963.5 2414.1L2218 2440.9" stroke="#b8860b"/>
<path d="M182 2235.1L309.2 2240.7L436.5 2249.3L563.8 2262.6L691 2277.6L945.5 2305.1L1200 2332.8L1454.5 2360.8L1709 2388.8L1963.5 2416L2218 2442.8" stroke="#aaaa00"/>
<path d="M182 2237.6L309.2 2243.2L436.5 2251.7L563.8 2264.9L691 2279.7L945.5 2307.2L1200 2334.9L1454.5 2362.9L1709 2390.8L1963.5 2418L2218 2444.6" stroke="#808080"/>
<path d="M182 2240L309.2 2245.6L436.5 2254L563.8 2267.2L691 2281.9L945.5 2309.3L1200 2337L1454.5 2365L1709 2392.8L1963.5 2419.9L2218 2446.5" stroke="#000000"/>
<path d="M182 2242.5L309.2 2248L436.5 2256.4L563.8 2269.5L691 2284.1L945.5 2311.5L1200 2339.1L1454.5 2367.1L1709 2394.9L1963.5 2421.9L2218 2448.4" stroke="#800080"/>
<path d="M182 2245L309.2 2250.5L436.5 2258.8L563.8 2271.7L691 2286.3L945.5 2313.6L1200 2341.2L1454.5 2369.1L1709 2396.9L1963.5 2423.8L2218 2450.2" stroke="#80ff00"/>
<path d="M182 2247.5L309.2 2252.9L436.5 2261.2L563.8 2274L691 2288.5L945.5 2315.7L1200 2343.3L1454.5 2371.2L1709 2398.9L1963.5 2425.8L2218 2452.1" stroke="#aaaa00"/>
<path d="M182 2250L309.2 2255.4L436.5 2263.6L563.8 2276.3L691 2290.7L945.5 2317.9L1200 2345.4L1454.5 2373.3L1709 2400.9L1963.5 2427.7L2218 2454" stroke="#b8860b"/>
<path d="M182 2252.4L309.2 2257.8L436.5 2266L563.8 2278.6L691 2292.9L945.5 2320L1200 2347.6L1454.5 2375.4L1709 2402.9L1963.5 2429.7L2218 2455.8" stroke="#800080"/>
<path d="M182 2254.9L309.2 2260.2L436.5 2268.3L563.8 2280.9L691 2295L945.5 2322.1L1200 2349.7L1454.5 2377.4L1709 2405L1963.5 2431.6L2218 2457.7" stroke="#000000"/>
<path d="M182 2257.4L309.2 2262.7L436.5 2270.7L563.8 2283.1L691 2297.2L945.5 2324.3L1200 2351.8L1454.5 2379.5L1709 2407L1963.5 2433.6L2218 2459.5" stroke="#80ff00"/>
<path d="M182 2259.9L309.2 2265.1L436.5 2273.1L563.8 2285.4L691 2299.4L945.5 2326.4L1200 2353.9L1454.5 2381.6L1709 2409L1963.5 2435.5L2218 2461.4" stroke="#b8860b"/>
<path d="M182 2262.3L309.2 2267.6L436.5 2275.5L563.8 2287.7L691 2301.6L945.5 2328.5L1200 2356L1454.5 2383.6L1709 2411L1963.5 2437.5L2218 2463.3" stroke="#000000"/>
<path d="M182 2264.8L309.2 2270L436.5 2277.9L563.8 2290L691 2303.8L945.5 2330.7L1200 2358.1L1454.5 2385.7L1709 2413L1963.5 2439.4L2218 2465.1" stroke="#80ff00"/>
<path d="M182 2267.3L309.2 2272.5L436.5 2280.2L563.8 2292.3L691 2306L945.5 2332.8L1200 2360.2L1454.5 2387.8L1709 2415L1963.5 2441.4L2218 2467" stroke="#b8860b"/>
<path d="M182 2269.8L309.2 2274.9L436.5 2282.6L563.8 2294.6L691 2308.2L945.5 2334.9L1200 2362.3L1454.5 2389.9L1709 2417.1L1963.5 2443.3L2218 2468.8" stroke="#000000"/>
<path d="M182 2272.3L309.2 2277.3L436.5 2285L563.8 2296.9L691 2310.4L945.5 2337.1L1200 2364.5L1454.5 2391.9L1709 2419.1L1963.5 2445.2L2218 2470.7" stroke="#80ff00"/>
<path d="M182 2274.7L309.2 2279.8L436.5 2287.4L563.8 2299.1L691 2312.6L945.5 2339.2L1200 2366.6L1454.5 2394L1709 2421.1L1963.5 2447.2L2218 2472.5" stroke="#808080"/>
<path d="M182 2277.2L309.2 2282.2L436.5 2289.8L563.8 2301.4L691 2314.8L945.5 2341.3L1200 2368.7L1454.5 2396.1L1709 2423.1L1963.5 2449.1L2218 2474.4" stroke="#000000"/>
<path d="M182 2279.7L309.2 2284.7L436.5 2292.2L563.8 2303.7L691 2317L945.5 2343.5L1200 2370.8L1454.5 2398.1L1709 2425.1L1963.5 2451.1L2218 2476.2" stroke="#b8860b"/>
<path d="M182 2282.2L309.2 2287.1L436.5 2294.6L563.8 2306L691 2319.2L945.5 2345.6L1200 2372.9L1454.5 2400.2L1709 2427.1L1963.5 2453L2218 2478" stroke="#aaaa00"/>
<path d="M182 2284.7L309.2 2289.5L436.5 2296.9L563.8 2308.3L691 2321.4L945.5 2347.7L1200 2375L1454.5 2402.3L1709 2429.1L1963.5 2454.9L2218 2479.9" stroke="#808080"/>
<path d="M182 2287.1L309.2 2292L436.5 2299.3L563.8 2310.6L691 2323.6L945.5 2349.9L1200 2377.1L1454.5 2404.3L1709 2431.1L1963.5 2456.9L2218 2481.7" stroke="#00aaaa"/>
<path d="M182 2289.6L309.2 2294.4L436.5 2301.7L563.8 2312.9L691 2325.8L945.5 2352L1200 2379.2L1454.5 2406.4L1709 2433.1L1963.5 2458.8L2218 2483.6" stroke="#000000"/>
<path d="M182 2292.1L309.2 2296.9L436.5 2304.1L563.8 2315.2L691 2328L945.5 2354.1L1200 2381.3L1454.5 2408.5L1709 2435.2L1963.5 2460.7L2218 2485.4" stroke="#b8860b"/>
<path d="M182 2294.6L309.2 2299.3L436.5 2306.5L563.8 2317.5L691 2330.2L945.5 2356.3L1200 2383.5L1454.5 2410.5L1709 2437.2L1963.5 2462.7L2218 2487.3" stroke="#aaaa00"/>
<path d="M182 2297.1L309.2 2301.8L436.5 2308.9L563.8 2319.8L691 2332.4L945.5 2358.4L1200 2385.6L1454.5 2412.6L1709 2439.2L1963.5 2464.6L2218 2489.1" stroke="#000000"/>
<path d="M182 2299.5L309.2 2304.2L436.5 2311.3L563.8 2322.1L691 2334.6L945.5 2360.6L1200 2387.7L1454.5 2414.6L1709 2441.2L1963.5 2466.5L2218 2490.9" stroke="#00aaaa"/>
<path d="M182 2302L309.2 2306.6L436.5 2313.7L563.8 2324.4L691 2336.8L945.5 2362.7L1200 2389.8L1454.5 2416.7L1709 2443.2L1963.5 2468.4L2218 2492.8" stroke="#80ff00"/>
<path d="M182 2304.5L309.2 2309.1L436.5 2316L563.8 2326.7L691 2339L945.5 2364.8L1200 2391.9L1454.5 2418.8L1709 2445.2L1963.5 2470.4L2218 2494.6" stroke="#000000"/>
<path d="M182 2307L309.2 2311.5L436.5 2318.4L563.8 2329L691 2341.2L945.5 2367L1200 2394L1454.5 2420.8L1709 2447.2L1963.5 2472.3L2218 2496.5" stroke="#808080"/>
<path d="M182 2309.5L309.2 2314L436.5 2320.8L563.8 2331.3L691 2343.5L945.5 2369.1L1200 2396.1L1454.5 2422.9L1709 2449.2L1963.5 2474.2L2218 2498.3" stroke="#aaaa00"/>
<path d="M182 2311.9L309.2 2316.4L436.5 2323.2L563.8 2333.5L691 2345.7L945.5 2371.3L1200 2398.3L1454.5 2425L1709 2451.2L1963.5 2476.2L2218 2500.1" stroke="#000000"/>
<path d="M182 2314.4L309.2 2318.9L436.5 2325.6L563.8 2335.9L691 2347.9L945.5 2373.4L1200 2400.4L1454.5 2427L1709 2453.2L1963.5 2478.1L2218 2502" stroke="#008000"/>
<path d="M182 2316.9L309.2 2321.3L436.5 2328L563.8 2338.2L691 2350.1L945.5 2375.6L1200 2402.5L1454.5 2429.1L1709 2455.2L1963.5 2480L2218 2503.8" stroke="#808080"/>
<path d="M182 2319.4L309.2 2323.8L436.5 2330.4L563.8 2340.5L691 2352.3L945.5 2377.7L1200 2404.6L1454.5 2431.2L1709 2457.2L1963.5 2481.9L2218 2505.6" stroke="#000000"/>
<path d="M182 2321.9L309.2 2326.2L436.5 2332.8L563.8 2342.8L691 2354.5L945.5 2379.9L1200 2406.7L1454.5 2433.2L1709 2459.2L1963.5 2483.9L2218 2507.5" stroke="#00aaaa"/>
<path d="M182 2324.3L309.2 2328.6L436.5 2335.2L563.8 2345.1L691 2356.7L945.5 2382L1200 2408.8L1454.5 2435.3L1709 2461.2L1963.5 2485.8L2218 2509.3" stroke="#808080"/>
<path d="M182 2326.8L309.2 2331.1L436.5 2337.6L563.8 2347.4L691 2359L945.5 2384.1L1200 2410.9L1454.5 2437.3L1709 2463.2L1963.5 2487.7L2218 2511.1" stroke="#b8860b"/>
<path d="M182 2329.3L309.2 2333.5L436.5 2339.9L563.8 2349.7L691 2361.2L945.5 2386.3L1200 2413.1L1454.5 2439.4L1709 2465.2L1963.5 2489.6L2218 2513" stroke="#000000"/>
<path d="M182 2331.8L309.2 2336L436.5 2342.3L563.8 2352L691 2363.4L945.5 2388.4L1200 2415.2L1454.5 2441.5L1709 2467.2L1963.5 2491.5L2218 2514.8" stroke="#008000"/>
<path d="M182 2334.2L309.2 2338.4L436.5 2344.7L563.8 2354.3L691 2365.6L945.5 2390.6L1200 2417.3L1454.5 2443.5L1709 2469.2L1963.5 2493.5L2218 2516.6" stroke="#b8860b"/>
<path d="M182 2336.7L309.2 2340.9L436.5 2347.1L563.8 2356.6L691 2367.8L945.5 2392.7L1200 2419.4L1454.5 2445.6L1709 2471.2L1963.5 2495.4L2218 2518.5" stroke="#000000"/>
<path d="M182 2339.2L309.2 2343.3L436.5 2349.5L563.8 2358.9L691 2370.1L945.5 2394.9L1200 2421.5L1454.5 2447.7L1709 2473.2L1963.5 2497.3L2218 2520.3" stroke="#008000"/>
<path d="M182 2341.7L309.2 2345.8L436.5 2351.9L563.8 2361.2L691 2372.3L945.5 2397.1L1200 2423.6L1454.5 2449.7L1709 2475.2L1963.5 2499.2L2218 2522.1" stroke="#b8860b"/>
<path d="M182 2344.2L309.2 2348.2L436.5 2354.3L563.8 2363.5L691 2374.5L945.5 2399.2L1200 2425.8L1454.5 2451.8L1709 2477.2L1963.5 2501.2L2218 2524" stroke="#000000"/>
<path d="M182 2346.6L309.2 2350.6L436.5 2356.7L563.8 2365.8L691 2376.8L945.5 2401.4L1200 2427.9L1454.5 2453.8L1709 2479.2L1963.5 2503.1L2218 2525.8" stroke="#00aaaa"/>
<path d="M182 2349.1L309.2 2353.1L436.5 2359.1L563.8 2368.1L691 2379L945.5 2403.5L1200 2430L1454.5 2455.9L1709 2481.2L1963.5 2505L2218 2527.6" stroke="#008000"/>
<path d="M182 2351.6L309.2 2355.5L436.5 2361.5L563.8 2370.5L691 2381.2L945.5 2405.7L1200 2432.1L1454.5 2458L1709 2483.2L1963.5 2506.9L2218 2529.4" stroke="#aaaa00"/>
<path d="M182 2354.1L309.2 2358L436.5 2363.9L563.8 2372.8L691 2383.4L945.5 2407.8L1200 2434.2L1454.5 2460L1709 2485.2L1963.5 2508.8L2218 2531.3" stroke="#000000"/>
<path d="M182 2356.6L309.2 2360.4L436.5 2366.3L563.8 2375.1L691 2385.7L945.5 2410L1200 2436.3L1454.5 2462.1L1709 2487.2L1963.5 2510.8L2218 2533.1" stroke="#008000"/>
<path d="M182 2359L309.2 2362.9L436.5 2368.7L563.8 2377.4L691 2387.9L945.5 2412.1L1200 2438.5L1454.5 2464.2L1709 2489.2L1963.5 2512.7L2218 2534.9" stroke="#b8860b"/>
<path d="M182 2361.5L309.2 2365.3L436.5 2371.1L563.8 2379.7L691 2390.1L945.5 2414.3L1200 2440.6L1454.5 2466.2L1709 2491.2L1963.5 2514.6L2218 2536.8" stroke="#000000"/>
<path d="M182 2364L309.2 2367.8L436.5 2373.5L563.8 2382L691 2392.4L945.5 2416.5L1200 2442.7L1454.5 2468.3L1709 2493.2L1963.5 2516.5L2218 2538.6" stroke="#ff00aa"/>
<path d="M182 2366.5L309.2 2370.2L436.5 2375.9L563.8 2384.4L691 2394.6L945.5 2418.6L1200 2444.8L1454.5 2470.3L1709 2495.2L1963.5 2518.4L2218 2540.4" stroke="#008000"/>
<path d="M182 2369L309.2 2372.7L436.5 2378.3L563.8 2386.7L691 2396.9L945.5 2420.8L1200 2447L1454.5 2472.4L1709 2497.2L1963.5 2520.4L2218 2542.3" stroke="#aaaa00"/>
<path d="M182 2371.4L309.2 2375.1L436.5 2380.7L563.8 2389L691 2399.1L945.5 2423L1200 2449.1L1454.5 2474.5L1709 2499.2L1963.5 2522.3L2218 2544.1" stroke="#ff00aa"/>
<path d="M182 2373.9L309.2 2377.6L436.5 2383.1L563.8 2391.3L691 2401.3L945.5 2425.1L1200 2451.2L1454.5 2476.5L1709 2501.2L1963.5 2524.2L2218 2545.9" stroke="#008000"/>
<path d="M182 2376.4L309.2 2380L436.5 2385.5L563.8 2393.6L691 2403.6L945.5 2427.3L1200 2453.3L1454.5 2478.6L1709 2503.2L1963.5 2526.1L2218 2547.7" stroke="#000000"/>
<path d="M182 2378.9L309.2 2382.5L436.5 2387.9L563.8 2396L691 2405.8L945.5 2429.4L1200 2455.4L1454.5 2480.6L1709 2505.2L1963.5 2528L2218 2549.5" stroke="#808080"/>
<path d="M182 2381.4L309.2 2384.9L436.5 2390.3L563.8 2398.3L691 2408L945.5 2431.6L1200 2457.5L1454.5 2482.7L1709 2507.1L1963.5 2529.9L2218 2551.3" stroke="#ff00aa"/>
<path d="M182 2383.8L309.2 2387.4L436.5 2392.7L563.8 2400.6L691 2410.3L945.5 2433.8L1200 2459.6L1454.5 2484.7L1709 2509.1L1963.5 2531.8L2218 2553.1" stroke="#008000"/>
<path d="M182 2386.3L309.2 2389.8L436.5 2395.1L563.8 2402.9L691 2412.5L945.5 2435.9L1200 2461.7L1454.5 2486.8L1709 2511.1L1963.5 2533.7L2218 2554.9" stroke="#80ff00"/>
<path d="M182 2388.8L309.2 2392.2L436.5 2397.5L563.8 2405.2L691 2414.8L945.5 2438.1L1200 2463.9L1454.5 2488.8L1709 2513L1963.5 2535.5L2218 2556.7" stroke="#000000"/>
<path d="M182 2391.3L309.2 2394.7L436.5 2399.9L563.8 2407.6L691 2417L945.5 2440.2L1200 2466L1454.5 2490.8L1709 2515L1963.5 2537.4L2218 2558.5" stroke="#008000"/>
<path d="M182 2393.8L309.2 2397.1L436.5 2402.3L563.8 2409.9L691 2419.3L945.5 2442.4L1200 2468.1L1454.5 2492.9L1709 2517L1963.5 2539.3L2218 2560.2" stroke="#aaaa00"/>
<path d="M182 2396.2L309.2 2399.6L436.5 2404.7L563.8 2412.2L691 2421.5L945.5 2444.5L1200 2470.2L1454.5 2494.9L1709 2518.9L1963.5 2541.1L2218 2562" stroke="#000000"/>
<path d="M182 2398.7L309.2 2402L436.5 2407.1L563.8 2414.5L691 2423.7L945.5 2446.7L1200 2472.3L1454.5 2496.9L1709 2520.9L1963.5 2543L2218 2563.8" stroke="#80ff00"/>
<path d="M182 2401.2L309.2 2404.5L436.5 2409.5L563.8 2416.8L691 2426L945.5 2448.8L1200 2474.4L1454.5 2499L1709 2522.8L1963.5 2544.9L2218 2565.5" stroke="#808080"/>
<path d="M182 2403.7L309.2 2406.9L436.5 2411.9L563.8 2419.2L691 2428.2L945.5 2451L1200 2476.4L1454.5 2501L1709 2524.7L1963.5 2546.7L2218 2567.3" stroke="#aaaa00"/>
<path d="M182 2406.2L309.2 2409.4L436.5 2414.3L563.8 2421.5L691 2430.5L945.5 2453.2L1200 2478.5L1454.5 2503L1709 2526.7L1963.5 2548.6L2218 2569" stroke="#80ff00"/>
<path d="M182 2408.6L309.2 2411.8L436.5 2416.7L563.8 2423.8L691 2432.7L945.5 2455.3L1200 2480.6L1454.5 2505L1709 2528.6L1963.5 2550.4L2218 2570.8" stroke="#000000"/>
<path d="M182 2411.1L309.2 2414.3L436.5 2419.1L563.8 2426.1L691 2435L945.5 2457.5L1200 2482.7L1454.5 2507L1709 2530.6L1963.5 2552.2L2218 2572.5" stroke="#ff00ff"/>
<path d="M182 2413.6L309.2 2416.7L436.5 2421.5L563.8 2428.5L691 2437.2L945.5 2459.6L1200 2484.8L1454.5 2509L1709 2532.5L1963.5 2554.1L2218 2574.3" stroke="#aaaa00"/>
<path d="M182 2416.1L309.2 2419.2L436.5 2423.9L563.8 2430.8L691 2439.5L945.5 2461.8L1200 2486.9L1454.5 2511.1L1709 2534.4L1963.5 2555.9L2218 2576" stroke="#808080"/>
<path d="M182 2418.5L309.2 2421.6L436.5 2426.3L563.8 2433.1L691 2441.7L945.5 2463.9L1200 2489L1454.5 2513.1L1709 2536.3L1963.5 2557.8L2218 2577.7" stroke="#ff00ff"/>
<path d="M182 2421L309.2 2424.1L436.5 2428.7L563.8 2435.5L691 2443.9L945.5 2466.1L1200 2491.1L1454.5 2515.1L1709 2538.3L1963.5 2559.6L2218 2579.5" stroke="#80ff00"/>
<path d="M182 2423.5L309.2 2426.5L436.5 2431.1L563.8 2437.8L691 2446.2L945.5 2468.2L1200 2493.2L1454.5 2517.1L1709 2540.2L1963.5 2561.4L2218 2581.2" stroke="#000000"/>
<path d="M182 2426L309.2 2429L436.5 2433.5L563.8 2440.1L691 2448.4L945.5 2470.4L1200 2495.2L1454.5 2519.1L1709 2542.1L1963.5 2563.2L2218 2582.9" stroke="#00aaaa"/>
<path d="M182 2428.5L309.2 2431.4L436.5 2435.9L563.8 2442.4L691 2450.7L945.5 2472.5L1200 2497.3L1454.5 2521.1L1709 2544L1963.5 2565L2218 2584.6" stroke="#80ff00"/>
<path d="M182 2430.9L309.2 2433.9L436.5 2438.3L563.8 2444.8L691 2453L945.5 2474.7L1200 2499.4L1454.5 2523.1L1709 2545.9L1963.5 2566.9L2218 2586.3" stroke="#aaaa00"/>
<path d="M182 2433.4L309.2 2436.3L436.5 2440.7L563.8 2447.1L691 2455.2L945.5 2476.8L1200 2501.5L1454.5 2525.1L1709 2547.8L1963.5 2568.7L2218 2588" stroke="#000000"/>
<path d="M182 2435.9L309.2 2438.8L436.5 2443.1L563.8 2449.4L691 2457.5L945.5 2479L1200 2503.6L1454.5 2527.1L1709 2549.8L1963.5 2570.5L2218 2589.8" stroke="#00aaaa"/>
<path d="M182 2438.4L309.2 2441.2L436.5 2445.5L563.8 2451.8L691 2459.7L945.5 2481.2L1200 2505.7L1454.5 2529.1L1709 2551.7L1963.5 2572.3L2218 2591.5" stroke="#aaaa00"/>
<path d="M182 2440.9L309.2 2443.7L436.5 2447.9L563.8 2454.1L691 2462L945.5 2483.3L1200 2507.7L1454.5 2531.1L1709 2553.6L1963.5 2574.1L2218 2593.2" stroke="#808080"/>
<path d="M182 2443.3L309.2 2446.1L436.5 2450.3L563.8 2456.4L691 2464.2L945.5 2485.5L1200 2509.8L1454.5 2533.1L1709 2555.5L1963.5 2575.9L2218 2594.9" stroke="#80ff00"/>
<path d="M182 2445.8L309.2 2448.6L436.5 2452.7L563.8 2458.8L691 2466.5L945.5 2487.6L1200 2511.9L1454.5 2535.1L1709 2557.4L1963.5 2577.7L2218 2596.6" stroke="#000000"/>
<path d="M182 2448.3L309.2 2451L436.5 2455.1L563.8 2461.1L691 2468.7L945.5 2489.8L1200 2514L1454.5 2537.1L1709 2559.3L1963.5 2579.5L2218 2598.3" stroke="#00aaaa"/>
<path d="M182 2450.8L309.2 2453.5L436.5 2457.5L563.8 2463.4L691 2471L945.5 2491.9L1200 2516.1L1454.5 2539L1709 2561.2L1963.5 2581.3L2218 2600" stroke="#ff00ff"/>
<path d="M182 2453.3L309.2 2455.9L436.5 2459.9L563.8 2465.8L691 2473.3L945.5 2494.1L1200 2518.2L1454.5 2541L1709 2563.1L1963.5 2583.1L2218 2601.7" stroke="#808080"/>
<path d="M182 2455.7L309.2 2458.4L436.5 2462.3L563.8 2468.1L691 2475.5L945.5 2496.3L1200 2520.2L1454.5 2543L1709 2565L1963.5 2584.9L2218 2603.4" stroke="#00aaaa"/>
<path d="M182 2458.2L309.2 2460.8L436.5 2464.7L563.8 2470.5L691 2477.8L945.5 2498.4L1200 2522.3L1454.5 2545L1709 2566.9L1963.5 2586.7L2218 2605.1" stroke="#000000"/>
<path d="M182 2460.7L309.2 2463.3L436.5 2467.2L563.8 2472.8L691 2480.1L945.5 2500.6L1200 2524.4L1454.5 2547L1709 2568.8L1963.5 2588.5L2218 2606.8" stroke="#aaaa00"/>
<path d="M182 2463.2L309.2 2465.7L436.5 2469.6L563.8 2475.1L691 2482.3L945.5 2502.7L1200 2526.5L1454.5 2549L1709 2570.7L1963.5 2590.3L2218 2608.4" stroke="#00aaaa"/>
<path d="M182 2465.7L309.2 2468.2L436.5 2472L563.8 2477.5L691 2484.6L945.5 2504.9L1200 2528.6L1454.5 2551L1709 2572.6L1963.5 2592.1L2218 2610.1" stroke="#ff00ff"/>
<path d="M182 2468.1L309.2 2470.6L436.5 2474.4L563.8 2479.8L691 2486.9L945.5 2507.1L1200 2530.6L1454.5 2553L1709 2574.5L1963.5 2593.9L2218 2611.8" stroke="#808080"/>
<path d="M182 2470.6L309.2 2473.1L436.5 2476.8L563.8 2482.2L691 2489.1L945.5 2509.2L1200 2532.7L1454.5 2555L1709 2576.4L1963.5 2595.7L2218 2613.5" stroke="#ff00aa"/>
<path d="M182 2473.1L309.2 2475.5L436.5 2479.2L563.8 2484.5L691 2491.4L945.5 2511.4L1200 2534.8L1454.5 2557L1709 2578.3L1963.5 2597.5L2218 2615.2" stroke="#aaaa00"/>
<path d="M182 2475.6L309.2 2478L436.5 2481.6L563.8 2486.9L691 2493.7L945.5 2513.6L1200 2536.9L1454.5 2559L1709 2580.2L1963.5 2599.3L2218 2616.9" stroke="#000000"/>
<path d="M182 2478.1L309.2 2480.4L436.5 2484L563.8 2489.2L691 2495.9L945.5 2515.7L1200 2539L1454.5 2561L1709 2582.1L1963.5 2601.1L2218 2618.6" stroke="#ff00aa"/>
<path d="M182 2480.5L309.2 2482.9L436.5 2486.4L563.8 2491.6L691 2498.2L945.5 2517.9L1200 2541.1L1454.5 2563L1709 2583.9L1963.5 2602.9L2218 2620.3" stroke="#00aaaa"/>
<path d="M182 2483L309.2 2485.3L436.5 2488.8L563.8 2493.9L691 2500.5L945.5 2520.1L1200 2543.2L1454.5 2564.9L1709 2585.8L1963.5 2604.7L2218 2622" stroke="#000000"/>
<path d="M182 2485.5L309.2 2487.8L436.5 2491.3L563.8 2496.3L691 2502.8L945.5 2522.3L1200 2545.2L1454.5 2566.9L1709 2587.7L1963.5 2606.5L2218 2623.7" stroke="#008000"/>
<path d="M182 2488L309.2 2490.2L436.5 2493.7L563.8 2498.6L691 2505.1L945.5 2524.4L1200 2547.3L1454.5 2568.9L1709 2589.6L1963.5 2608.3L2218 2625.4" stroke="#008000"/>
<path d="M182 2490.4L309.2 2492.7L436.5 2496.1L563.8 2501L691 2507.3L945.5 2526.6L1200 2549.4L1454.5 2570.9L1709 2591.5L1963.5 2610.1L2218 2627.1" stroke="#000000"/>
<path d="M182 2492.9L309.2 2495.1L436.5 2498.5L563.8 2503.3L691 2509.6L945.5 2528.8L1200 2551.5L1454.5 2572.9L1709 2593.4L1963.5 2611.9L2218 2628.7" stroke="#aaaa00"/>
<path d="M182 2495.4L309.2 2497.6L436.5 2500.9L563.8 2505.7L691 2511.9L945.5 2531L1200 2553.6L1454.5 2574.9L1709 2595.3L1963.5 2613.7L2218 2630.4" stroke="#008000"/>
<path d="M182 2497.9L309.2 2500.1L436.5 2503.3L563.8 2508L691 2514.2L945.5 2533.1L1200 2555.7L1454.5 2576.9L1709 2597.2L1963.5 2615.5L2218 2632.1" stroke="#000000"/>
<path d="M182 2500.4L309.2 2502.5L436.5 2505.7L563.8 2510.4L691 2516.5L945.5 2535.3L1200 2557.8L1454.5 2578.9L1709 2599.1L1963.5 2617.3L2218 2633.8" stroke="#ff00aa"/>
<path d="M182 2502.8L309.2 2505L436.5 2508.1L563.8 2512.7L691 2518.8L945.5 2537.5L1200 2559.9L1454.5 2580.9L1709 2601L1963.5 2619.1L2218 2635.5" stroke="#00aaaa"/>
<path d="M182 2505.3L309.2 2507.4L436.5 2510.6L563.8 2515.1L691 2521.1L945.5 2539.7L1200 2562L1454.5 2582.9L1709 2602.9L1963.5 2620.9L2218 2637.2" stroke="#000000"/>
<path d="M182 2507.8L309.2 2509.9L436.5 2513L563.8 2517.4L691 2523.3L945.5 2541.9L1200 2564.1L1454.5 2584.9L1709 2604.8L1963.5 2622.7L2218 2638.9" stroke="#aaaa00"/>
<path d="M182 2510.3L309.2 2512.3L436.5 2515.4L563.8 2519.8L691 2525.6L945.5 2544.1L1200 2566.2L1454.5 2586.9L1709 2606.7L1963.5 2624.5L2218 2640.6" stroke="#ff00ff"/>
<path d="M182 2512.8L309.2 2514.8L436.5 2517.8L563.8 2522.2L691 2527.9L945.5 2546.2L1200 2568.3L1454.5 2588.9L1709 2608.6L1963.5 2626.3L2218 2642.3" stroke="#000000"/>
<path d="M182 2515.2L309.2 2517.2L436.5 2520.2L563.8 2524.5L691 2530.2L945.5 2548.4L1200 2570.4L1454.5 2590.9L1709 2610.5L1963.5 2628.1L2218 2644" stroke="#aaaa00"/>
<path d="M182 2517.7L309.2 2519.7L436.5 2522.6L563.8 2526.9L691 2532.5L945.5 2550.6L1200 2572.5L1454.5 2592.9L1709 2612.4L1963.5 2629.9L2218 2645.7" stroke="#80ff00"/>
<path d="M182 2520.2L309.2 2522.1L436.5 2525.1L563.8 2529.2L691 2534.8L945.5 2552.8L1200 2574.5L1454.5 2594.9L1709 2614.3L1963.5 2631.7L2218 2647.4" stroke="#000000"/>
<path d="M182 2522.7L309.2 2524.6L436.5 2527.5L563.8 2531.6L691 2537.1L945.5 2555L1200 2576.6L1454.5 2596.9L1709 2616.2L1963.5 2633.5L2218 2649.1" stroke="#008000"/>
<path d="M182 2525.2L309.2 2527.1L436.5 2529.9L563.8 2534L691 2539.4L945.5 2557.2L1200 2578.7L1454.5 2598.9L1709 2618.1L1963.5 2635.2L2218 2650.7" stroke="#80ff00"/>
<path d="M182 2527.6L309.2 2529.5L436.5 2532.3L563.8 2536.3L691 2541.7L945.5 2559.4L1200 2580.8L1454.5 2600.8L1709 2620L1963.5 2637L2218 2652.4" stroke="#000000"/>
<path d="M182 2530.1L309.2 2532L436.5 2534.7L563.8 2538.7L691 2544L945.5 2561.5L1200 2582.9L1454.5 2602.8L1709 2621.8L1963.5 2638.7L2218 2654" stroke="#008000"/>
<path d="M182 2532.6L309.2 2534.4L436.5 2537.2L563.8 2541.1L691 2546.3L945.5 2563.7L1200 2584.9L1454.5 2604.8L1709 2623.7L1963.5 2640.5L2218 2655.7" stroke="#800080"/>
<path d="M182 2535.1L309.2 2536.9L436.5 2539.6L563.8 2543.4L691 2548.6L945.5 2565.9L1200 2587L1454.5 2606.7L1709 2625.5L1963.5 2642.2L2218 2657.3" stroke="#000000"/>
<path d="M182 2540L309.2 2541.8L436.5 2544.4L563.8 2548.1L691 2553.2L945.5 2570.2L1200 2591.1L1454.5 2610.6L1709 2629.2L1963.5 2645.7L2218 2660.5" stroke="#800080"/>
<path d="M182 2545L309.2 2546.7L436.5 2549.2L563.8 2552.9L691 2557.8L945.5 2574.6L1200 2595.3L1454.5 2614.5L1709 2632.9L1963.5 2649.1L2218 2663.7" stroke="#ff00ff"/>
<path d="M182 2547.5L309.2 2549.2L436.5 2551.7L563.8 2555.2L691 2560.1L945.5 2576.8L1200 2597.3L1454.5 2616.5L1709 2634.7L1963.5 2650.8L2218 2665.3" stroke="#80ff00"/>
<path d="M182 2550L309.2 2551.6L436.5 2554.1L563.8 2557.6L691 2562.4L945.5 2579L1200 2599.4L1454.5 2618.4L1709 2636.5L1963.5 2652.5L2218 2666.9" stroke="#000000"/>
<path d="M182 2554.9L309.2 2556.5L436.5 2558.9L563.8 2562.3L691 2567L945.5 2583.3L1200 2603.5L1454.5 2622.3L1709 2640.2L1963.5 2655.9L2218 2670.1" stroke="#008000"/>
<path d="M182 2557.4L309.2 2559L436.5 2561.4L563.8 2564.7L691 2569.3L945.5 2585.5L1200 2605.6L1454.5 2624.2L1709 2642L1963.5 2657.7L2218 2671.7" stroke="#800080"/>
<path d="M182 2559.9L309.2 2561.4L436.5 2563.8L563.8 2567.1L691 2571.6L945.5 2587.7L1200 2607.7L1454.5 2626.2L1709 2643.8L1963.5 2659.4L2218 2673.3" stroke="#ff00ff"/>
<path d="M182 2562.4L309.2 2563.9L436.5 2566.2L563.8 2569.5L691 2573.9L945.5 2589.9L1200 2609.7L1454.5 2628.1L1709 2645.7L1963.5 2661.1L2218 2674.9" stroke="#000000"/>
<path d="M182 2564.8L309.2 2566.3L436.5 2568.6L563.8 2571.8L691 2576.2L945.5 2592.1L1200 2611.8L1454.5 2630.1L1709 2647.5L1963.5 2662.8L2218 2676.5" stroke="#00aaaa"/>
<path d="M182 2569.8L309.2 2571.3L436.5 2573.5L563.8 2576.6L691 2580.8L945.5 2596.4L1200 2615.9L1454.5 2634L1709 2651.1L1963.5 2666.2L2218 2679.7" stroke="#000000"/>
<path d="M182 2572.3L309.2 2573.7L436.5 2575.9L563.8 2578.9L691 2583.2L945.5 2598.6L1200 2618L1454.5 2635.9L1709 2653L1963.5 2667.9L2218 2681.3" stroke="#b8860b"/>
<path d="M182 2574.7L309.2 2576.2L436.5 2578.3L563.8 2581.3L691 2585.5L945.5 2600.8L1200 2620.1L1454.5 2637.9L1709 2654.8L1963.5 2669.7L2218 2683" stroke="#008000"/>
<path d="M182 2577.2L309.2 2578.6L436.5 2580.7L563.8 2583.7L691 2587.8L945.5 2603L1200 2622.2L1454.5 2639.9L1709 2656.7L1963.5 2671.4L2218 2684.6" stroke="#000000"/>
<path d="M182 2579.7L309.2 2581.1L436.5 2583.2L563.8 2586.1L691 2590.1L945.5 2605.2L1200 2624.2L1454.5 2641.8L1709 2658.5L1963.5 2673.1L2218 2686.2" stroke="#00aaaa"/>
<path d="M182 2582.2L309.2 2583.5L436.5 2585.6L563.8 2588.5L691 2592.4L945.5 2607.4L1200 2626.3L1454.5 2643.8L1709 2660.4L1963.5 2674.9L2218 2687.8" stroke="#ff00ff"/>
<path d="M182 2584.7L309.2 2586L436.5 2588L563.8 2590.8L691 2594.8L945.5 2609.6L1200 2628.4L1454.5 2645.8L1709 2662.2L1963.5 2676.6L2218 2689.5" stroke="#000000"/>
<path d="M182 2587.1L309.2 2588.5L436.5 2590.5L563.8 2593.2L691 2597.1L945.5 2611.8L1200 2630.5L1454.5 2647.7L1709 2664.1L1963.5 2678.4L2218 2691.1" stroke="#b8860b"/>
<path d="M182 2592.1L309.2 2593.4L436.5 2595.3L563.8 2598L691 2601.8L945.5 2616.3L1200 2634.7L1454.5 2651.7L1709 2667.8L1963.5 2681.9L2218 2694.4" stroke="#00aaaa"/>
<path d="M182 2594.6L309.2 2595.8L436.5 2597.7L563.8 2600.4L691 2604.1L945.5 2618.5L1200 2636.8L1454.5 2653.7L1709 2669.7L1963.5 2683.7L2218 2696.1" stroke="#80ff00"/>
<path d="M182 2597.1L309.2 2598.3L436.5 2600.2L563.8 2602.8L691 2606.4L945.5 2620.7L1200 2638.9L1454.5 2655.7L1709 2671.6L1963.5 2685.5L2218 2697.8" stroke="#ff00ff"/>
<path d="M182 2604.5L309.2 2605.7L436.5 2607.5L563.8 2610L691 2613.4L945.5 2627.4L1200 2645.3L1454.5 2661.8L1709 2677.3L1963.5 2690.9L2218 2702.9" stroke="#008000"/>
<path d="M182 2607L309.2 2608.2L436.5 2609.9L563.8 2612.3L691 2615.8L945.5 2629.6L1200 2647.4L1454.5 2663.8L1709 2679.3L1963.5 2692.7L2218 2704.7" stroke="#ff00ff"/>
<path d="M182 2611.9L309.2 2613.1L436.5 2614.8L563.8 2617.1L691 2620.5L945.5 2634.1L1200 2651.7L1454.5 2667.9L1709 2683.1L1963.5 2696.4L2218 2708.2" stroke="#000000"/>
<path d="M182 2614.4L309.2 2615.5L436.5 2617.2L563.8 2619.5L691 2622.8L945.5 2636.4L1200 2653.9L1454.5 2669.9L1709 2685.1L1963.5 2698.3L2218 2709.9" stroke="#ff00aa"/>
<path d="M182 2616.9L309.2 2618L436.5 2619.7L563.8 2621.9L691 2625.2L945.5 2638.6L1200 2656L1454.5 2672L1709 2687.1L1963.5 2700.1L2218 2711.7" stroke="#008000"/>
<path d="M182 2626.8L309.2 2627.9L436.5 2629.4L563.8 2631.6L691 2634.6L945.5 2647.7L1200 2664.6L1454.5 2680.2L1709 2694.9L1963.5 2707.6L2218 2718.8" stroke="#000000"/>
<path d="M182 2629.3L309.2 2630.3L436.5 2631.8L563.8 2634L691 2637L945.5 2649.9L1200 2666.8L1454.5 2682.3L1709 2696.9L1963.5 2709.5L2218 2720.6" stroke="#aaaa00"/>
<path d="M182 2631.8L309.2 2632.8L436.5 2634.3L563.8 2636.4L691 2639.3L945.5 2652.2L1200 2669L1454.5 2684.3L1709 2698.9L1963.5 2711.4L2218 2722.4" stroke="#80ff00"/>
<path d="M182 2634.3L309.2 2635.2L436.5 2636.7L563.8 2638.8L691 2641.7L945.5 2654.4L1200 2671.1L1454.5 2686.4L1709 2700.9L1963.5 2713.3L2218 2724.3" stroke="#00aaaa"/>
<path d="M182 2636.7L309.2 2637.7L436.5 2639.2L563.8 2641.2L691 2644.1L945.5 2656.7L1200 2673.3L1454.5 2688.5L1709 2702.8L1963.5 2715.2L2218 2726.1" stroke="#000000"/>
<path d="M182 2639.2L309.2 2640.2L436.5 2641.6L563.8 2643.6L691 2646.4L945.5 2659L1200 2675.5L1454.5 2690.6L1709 2704.8L1963.5 2717.1L2218 2727.9" stroke="#80ff00"/>
<path d="M182 2641.7L309.2 2642.6L436.5 2644L563.8 2646L691 2648.8L945.5 2661.3L1200 2677.7L1454.5 2692.7L1709 2706.8L1963.5 2719L2218 2729.7" stroke="#00aaaa"/>
<path d="M182 2644.2L309.2 2645.1L436.5 2646.5L563.8 2648.4L691 2651.2L945.5 2663.5L1200 2679.8L1454.5 2694.7L1709 2708.8L1963.5 2720.9L2218 2731.5" stroke="#ff00aa"/>
<path d="M182 2649.1L309.2 2650L436.5 2651.4L563.8 2653.2L691 2655.9L945.5 2668.1L1200 2684.2L1454.5 2698.9L1709 2712.8L1963.5 2724.7L2218 2735.2" stroke="#008000"/>
<path d="M182 2651.6L309.2 2652.5L436.5 2653.8L563.8 2655.6L691 2658.3L945.5 2670.4L1200 2686.4L1454.5 2701L1709 2714.8L1963.5 2726.6L2218 2737" stroke="#80ff00"/>
<path d="M182 2654.1L309.2 2655L436.5 2656.3L563.8 2658L691 2660.6L945.5 2672.6L1200 2688.6L1454.5 2703.1L1709 2716.8L1963.5 2728.5L2218 2738.8" stroke="#ff00aa"/>
<path d="M182 2659L309.2 2659.9L436.5 2661.2L563.8 2662.9L691 2665.4L945.5 2677.2L1200 2692.9L1454.5 2707.3L1709 2720.8L1963.5 2732.4L2218 2742.5" stroke="#aaaa00"/>
<path d="M182 2661.5L309.2 2662.4L436.5 2663.6L563.8 2665.3L691 2667.8L945.5 2679.5L1200 2695.1L1454.5 2709.4L1709 2722.8L1963.5 2734.3L2218 2744.3" stroke="#000000"/>
<path d="M182 2664L309.2 2664.8L436.5 2666L563.8 2667.7L691 2670.1L945.5 2681.8L1200 2697.3L1454.5 2711.5L1709 2724.8L1963.5 2736.2L2218 2746.2" stroke="#80ff00"/>
<path d="M182 2669L309.2 2669.8L436.5 2670.9L563.8 2672.5L691 2674.9L945.5 2686.3L1200 2701.7L1454.5 2715.7L1709 2728.8L1963.5 2740.1L2218 2749.9" stroke="#008000"/>
<path d="M182 2673.9L309.2 2674.7L436.5 2675.8L563.8 2677.4L691 2679.7L945.5 2690.9L1200 2706.1L1454.5 2719.9L1709 2732.9L1963.5 2743.9L2218 2753.6" stroke="#80ff00"/>
<path d="M182 2676.4L309.2 2677.2L436.5 2678.3L563.8 2679.8L691 2682L945.5 2693.2L1200 2708.3L1454.5 2722L1709 2734.9L1963.5 2745.9L2218 2755.4" stroke="#ff00aa"/>
<path d="M182 2678.9L309.2 2679.6L436.5 2680.7L563.8 2682.2L691 2684.4L945.5 2695.5L1200 2710.5L1454.5 2724.1L1709 2736.9L1963.5 2747.8L2218 2757.3" stroke="#008000"/>
<path d="M182 2681.4L309.2 2682.1L436.5 2683.2L563.8 2684.6L691 2686.8L945.5 2697.8L1200 2712.7L1454.5 2726.2L1709 2738.9L1963.5 2749.7L2218 2759.1" stroke="#000000"/>
<path d="M182 2686.3L309.2 2687L436.5 2688.1L563.8 2689.5L691 2691.6L945.5 2702.4L1200 2717.1L1454.5 2730.4L1709 2742.9L1963.5 2753.6L2218 2762.8" stroke="#008000"/>
<path d="M182 2693.8L309.2 2694.4L436.5 2695.4L563.8 2696.8L691 2698.8L945.5 2709.3L1200 2723.7L1454.5 2736.7L1709 2749L1963.5 2759.4L2218 2768.4" stroke="#ff00aa"/>
<path d="M182 2703.7L309.2 2704.3L436.5 2705.2L563.8 2706.5L691 2708.3L945.5 2718.5L1200 2732.5L1454.5 2745.2L1709 2757.1L1963.5 2767.2L2218 2775.9" stroke="#000000"/>
<path d="M182 2713.6L309.2 2714.2L436.5 2715L563.8 2716.2L691 2717.9L945.5 2727.7L1200 2741.3L1454.5 2753.6L1709 2765.2L1963.5 2774.9L2218 2783.3" stroke="#008000"/>
<path d="M182 2730.9L309.2 2731.4L436.5 2732.2L563.8 2733.2L691 2734.7L945.5 2743.9L1200 2756.8L1454.5 2768.4L1709 2779.3L1963.5 2788.5L2218 2796.3" stroke="#800080"/>
<path d="M182 2733.4L309.2 2733.9L436.5 2734.6L563.8 2735.6L691 2737.1L945.5 2746.2L1200 2759L1454.5 2770.5L1709 2781.3L1963.5 2790.4L2218 2798.2" stroke="#b8860b"/>
<path d="M182 2738.4L309.2 2738.9L436.5 2739.6L563.8 2740.5L691 2741.9L945.5 2750.8L1200 2763.4L1454.5 2774.8L1709 2785.4L1963.5 2794.3L2218 2801.9" stroke="#808080"/>
<path d="M182 2740.9L309.2 2741.3L436.5 2742L563.8 2742.9L691 2744.3L945.5 2753.2L1200 2765.6L1454.5 2776.9L1709 2787.4L1963.5 2796.2L2218 2803.8" stroke="#800080"/>
<path d="M182 2745.8L309.2 2746.3L436.5 2746.9L563.8 2747.8L691 2749.1L945.5 2757.8L1200 2770L1454.5 2781.1L1709 2791.4L1963.5 2800.1L2218 2807.5" stroke="#80ff00"/>
<path d="M182 2760.7L309.2 2761.1L436.5 2761.7L563.8 2762.4L691 2763.6L945.5 2771.7L1200 2783.3L1454.5 2793.8L1709 2803.5L1963.5 2811.6L2218 2818.6" stroke="#80ff00"/>
</g>
<g fill="none" stroke-width="6.6" stroke-dasharray="6.6 18.85">
<path d="M178.7 2205.3L182 2205.3L309.2 2211.5L436.5 2220.8L563.8 2235.4L691 2251.4L945.5 2279.6L1200 2307.4L1454.5 2335.9L1709 2364.4L1963.5 2392.4L2218 2420.2L2221.3 2420.2" pathLength="2042.6" stroke="#808080"/>
<path d="M178.7 2210.3L182 2210.3L309.2 2216.3L436.5 2225.5L563.8 2239.9L691 2255.8L945.5 2283.8L1200 2311.6L1454.5 2340L1709 2368.4L1963.5 2396.4L2218 2424L2221.3 2424" pathLength="2042.6" stroke="#ff00ff"/>
<path d="M178.7 2215.2L182 2215.2L309.2 2221.2L436.5 2230.3L563.8 2244.4L691 2260.1L945.5 2288.1L1200 2315.8L1454.5 2344.2L1709 2372.5L1963.5 2400.3L2218 2427.8L2221.3 2427.8" pathLength="2042.6" stroke="#aaaa00"/>
<path d="M178.7 2220.2L182 2220.2L309.2 2226.1L436.5 2235L563.8 2249L691 2264.5L945.5 2292.3L1200 2320.1L1454.5 2348.4L1709 2376.6L1963.5 2404.3L2218 2431.5L2221.3 2431.5" pathLength="2042.6" stroke="#ff00ff"/>
<path d="M178.7 2225.2L182 2225.2L309.2 2231L436.5 2239.8L563.8 2253.5L691 2268.8L945.5 2296.6L1200 2324.3L1454.5 2352.5L1709 2380.7L1963.5 2408.2L2218 2435.3L2221.3 2435.3" pathLength="2042.6" stroke="#800080"/>
<path d="M178.7 2230.1L182 2230.1L309.2 2235.8L436.5 2244.5L563.8 2258.1L691 2273.2L945.5 2300.8L1200 2328.5L1454.5 2356.7L1709 2384.7L1963.5 2412.1L2218 2439L2221.3 2439" pathLength="2042.6" stroke="#80ff00"/>
<path d="M178.7 2235.1L182 2235.1L309.2 2240.7L436.5 2249.3L563.8 2262.6L691 2277.6L945.5 2305.1L1200 2332.8L1454.5 2360.8L1709 2388.8L1963.5 2416L2218 2442.8L2221.3 2442.8" pathLength="2042.6" stroke="#aaaa00"/>
<path d="M178.7 2240L182 2240L309.2 2245.6L436.5 2254L563.8 2267.2L691 2281.9L945.5 2309.3L1200 2337L1454.5 2365L1709 2392.8L1963.5 2419.9L2218 2446.5L2221.3 2446.5" pathLength="2042.6" stroke="#000000"/>
<path d="M178.7 2245L182 2245L309.2 2250.5L436.5 2258.8L563.8 2271.7L691 2286.3L945.5 2313.6L1200 2341.2L1454.5 2369.1L1709 2396.9L1963.5 2423.8L2218 2450.2L2221.3 2450.2" pathLength="2042.6" stroke="#80ff00"/>
<path d="M178.7 2250L182 2250L309.2 2255.4L436.5 2263.6L563.8 2276.3L691 2290.7L945.5 2317.9L1200 2345.4L1454.5 2373.3L1709 2400.9L1963.5 2427.7L2218 2454L2221.3 2454" pathLength="2042.6" stroke="#b8860b"/>
<path d="M178.7 2254.9L182 2254.9L309.2 2260.2L436.5 2268.3L563.8 2280.9L691 2295L945.5 2322.1L1200 2349.7L1454.5 2377.4L1709 2405L1963.5 2431.6L2218 2457.7L2221.3 2457.7" pathLength="2042.6" stroke="#000000"/>
<path d="M178.7 2259.9L182 2259.9L309.2 2265.1L436.5 2273.1L563.8 2285.4L691 2299.4L945.5 2326.4L1200 2353.9L1454.5 2381.6L1709 2409L1963.5 2435.5L2218 2461.4L2221.3 2461.4" pathLength="2042.6" stroke="#b8860b"/>
<path d="M178.7 2264.8L182 2264.8L309.2 2270L436.5 2277.9L563.8 2290L691 2303.8L945.5 2330.7L1200 2358.1L1454.5 2385.7L1709 2413L1963.5 2439.4L2218 2465.1L2221.3 2465.1" pathLength="2042.6" stroke="#80ff00"/>
<path d="M178.7 2269.8L182 2269.8L309.2 2274.9L436.5 2282.6L563.8 2294.6L691 2308.2L945.5 2334.9L1200 2362.3L1454.5 2389.9L1709 2417.1L1963.5 2443.3L2218 2468.8L2221.3 2468.8" pathLength="2042.6" stroke="#000000"/>
<path d="M178.7 2274.7L182 2274.7L309.2 2279.8L436.5 2287.4L563.8 2299.1L691 2312.6L945.5 2339.2L1200 2366.6L1454.5 2394L1709 2421.1L1963.5 2447.2L2218 2472.5L2221.3 2472.5" pathLength="2042.6" stroke="#808080"/>
<path d="M178.7 2279.7L182 2279.7L309.2 2284.7L436.5 2292.2L563.8 2303.7L691 2317L945.5 2343.5L1200 2370.8L1454.5 2398.1L1709 2425.1L1963.5 2451.1L2218 2476.2L2221.3 2476.2" pathLength="2042.6" stroke="#b8860b"/>
<path d="M178.7 2284.7L182 2284.7L309.2 2289.5L436.5 2296.9L563.8 2308.3L691 2321.4L945.5 2347.7L1200 2375L1454.5 2402.3L1709 2429.1L1963.5 2454.9L2218 2479.9L2221.3 2479.9" pathLength="2042.6" stroke="#808080"/>
<path d="M178.7 2289.6L182 2289.6L309.2 2294.4L436.5 2301.7L563.8 2312.9L691 2325.8L945.5 2352L1200 2379.2L1454.5 2406.4L1709 2433.1L1963.5 2458.8L2218 2483.6L2221.3 2483.6" pathLength="2042.6" stroke="#000000"/>
<path d="M178.7 2294.6L182 2294.6L309.2 2299.3L436.5 2306.5L563.8 2317.5L691 2330.2L945.5 2356.3L1200 2383.5L1454.5 2410.5L1709 2437.2L1963.5 2462.7L2218 2487.3L2221.3 2487.3" pathLength="2042.6" stroke="#aaaa00"/>
<path d="M178.7 2299.5L182 2299.5L309.2 2304.2L436.5 2311.3L563.8 2322.1L691 2334.6L945.5 2360.6L1200 2387.7L1454.5 2414.6L1709 2441.2L1963.5 2466.5L2218 2490.9L2221.3 2490.9" pathLength="2042.6" stroke="#00aaaa"/>
<path d="M178.7 2304.5L182 2304.5L309.2 2309.1L436.5 2316L563.8 2326.7L691 2339L945.5 2364.8L1200 2391.9L1454.5 2418.8L1709 2445.2L1963.5 2470.4L2218 2494.6L2221.3 2494.6" pathLength="2042.6" stroke="#000000"/>
<path d="M178.7 2309.5L182 2309.5L309.2 2314L436.5 2320.8L563.8 2331.3L691 2343.5L945.5 2369.1L1200 2396.1L1454.5 2422.9L1709 2449.2L1963.5 2474.2L2218 2498.3L2221.3 2498.3" pathLength="2042.6" stroke="#aaaa00"/>
<path d="M178.7 2314.4L182 2314.4L309.2 2318.9L436.5 2325.6L563.8 2335.9L691 2347.9L945.5 2373.4L1200 2400.4L1454.5 2427L1709 2453.2L1963.5 2478.1L2218 2502L2221.3 2502" pathLength="2042.6" stroke="#008000"/>
<path d="M178.7 2319.4L182 2319.4L309.2 2323.8L436.5 2330.4L563.8 2340.5L691 2352.3L945.5 2377.7L1200 2404.6L1454.5 2431.2L1709 2457.2L1963.5 2481.9L2218 2505.6L2221.3 2505.6" pathLength="2042.6" stroke="#000000"/>
<path d="M178.7 2324.3L182 2324.3L309.2 2328.6L436.5 2335.2L563.8 2345.1L691 2356.7L945.5 2382L1200 2408.8L1454.5 2435.3L1709 2461.2L1963.5 2485.8L2218 2509.3L2221.3 2509.3" pathLength="2042.6" stroke="#808080"/>
<path d="M178.7 2329.3L182 2329.3L309.2 2333.5L436.5 2339.9L563.8 2349.7L691 2361.2L945.5 2386.3L1200 2413.1L1454.5 2439.4L1709 2465.2L1963.5 2489.6L2218 2513L2221.3 2513" pathLength="2042.6" stroke="#000000"/>
<path d="M178.7 2334.2L182 2334.2L309.2 2338.4L436.5 2344.7L563.8 2354.3L691 2365.6L945.5 2390.6L1200 2417.3L1454.5 2443.5L1709 2469.2L1963.5 2493.5L2218 2516.6L2221.3 2516.6" pathLength="2042.6" stroke="#b8860b"/>
<path d="M178.7 2339.2L182 2339.2L309.2 2343.3L436.5 2349.5L563.8 2358.9L691 2370.1L945.5 2394.9L1200 2421.5L1454.5 2447.7L1709 2473.2L1963.5 2497.3L2218 2520.3L2221.3 2520.3" pathLength="2042.6" stroke="#008000"/>
<path d="M178.7 2344.2L182 2344.2L309.2 2348.2L436.5 2354.3L563.8 2363.5L691 2374.5L945.5 2399.2L1200 2425.8L1454.5 2451.8L1709 2477.2L1963.5 2501.2L2218 2524L2221.3 2524" pathLength="2042.6" stroke="#000000"/>
<path d="M178.7 2349.1L182 2349.1L309.2 2353.1L436.5 2359.1L563.8 2368.1L691 2379L945.5 2403.5L1200 2430L1454.5 2455.9L1709 2481.2L1963.5 2505L2218 2527.6L2221.3 2527.6" pathLength="2042.6" stroke="#008000"/>
<path d="M178.7 2354.1L182 2354.1L309.2 2358L436.5 2363.9L563.8 2372.8L691 2383.4L945.5 2407.8L1200 2434.2L1454.5 2460L1709 2485.2L1963.5 2508.8L2218 2531.3L2221.3 2531.3" pathLength="2042.6" stroke="#000000"/>
<path d="M178.7 2359L182 2359L309.2 2362.9L436.5 2368.7L563.8 2377.4L691 2387.9L945.5 2412.1L1200 2438.5L1454.5 2464.2L1709 2489.2L1963.5 2512.7L2218 2534.9L2221.3 2534.9" pathLength="2042.6" stroke="#b8860b"/>
<path d="M178.7 2364L182 2364L309.2 2367.8L436.5 2373.5L563.8 2382L691 2392.4L945.5 2416.5L1200 2442.7L1454.5 2468.3L1709 2493.2L1963.5 2516.5L2218 2538.6L2221.3 2538.6" pathLength="2042.6" stroke="#ff00aa"/>
<path d="M178.7 2369L182 2369L309.2 2372.7L436.5 2378.3L563.8 2386.7L691 2396.9L945.5 2420.8L1200 2447L1454.5 2472.4L1709 2497.2L1963.5 2520.4L2218 2542.3L2221.3 2542.3" pathLength="2042.6" stroke="#aaaa00"/>
<path d="M178.7 2373.9L182 2373.9L309.2 2377.6L436.5 2383.1L563.8 2391.3L691 2401.3L945.5 2425.1L1200 2451.2L1454.5 2476.5L1709 2501.2L1963.5 2524.2L2218 2545.9L2221.3 2545.9" pathLength="2042.6" stroke="#008000"/>
<path d="M178.7 2378.9L182 2378.9L309.2 2382.5L436.5 2387.9L563.8 2396L691 2405.8L945.5 2429.4L1200 2455.4L1454.5 2480.6L1709 2505.2L1963.5 2528L2218 2549.5L2221.3 2549.5" pathLength="2042.6" stroke="#808080"/>
<path d="M178.7 2383.8L182 2383.8L309.2 2387.4L436.5 2392.7L563.8 2400.6L691 2410.3L945.5 2433.8L1200 2459.6L1454.5 2484.7L1709 2509.1L1963.5 2531.8L2218 2553.1L2221.3 2553.1" pathLength="2042.6" stroke="#008000"/>
<path d="M178.7 2388.8L182 2388.8L309.2 2392.2L436.5 2397.5L563.8 2405.2L691 2414.8L945.5 2438.1L1200 2463.9L1454.5 2488.8L1709 2513L1963.5 2535.5L2218 2556.7L2221.3 2556.7" pathLength="2042.6" stroke="#000000"/>
<path d="M178.7 2393.8L182 2393.8L309.2 2397.1L436.5 2402.3L563.8 2409.9L691 2419.3L945.5 2442.4L1200 2468.1L1454.5 2492.9L1709 2517L1963.5 2539.3L2218 2560.2L2221.3 2560.2" pathLength="2042.6" stroke="#aaaa00"/>
<path d="M178.7 2398.7L182 2398.7L309.2 2402L436.5 2407.1L563.8 2414.5L691 2423.7L945.5 2446.7L1200 2472.3L1454.5 2496.9L1709 2520.9L1963.5 2543L2218 2563.8L2221.3 2563.8" pathLength="2042.6" stroke="#80ff00"/>
<path d="M178.7 2403.7L182 2403.7L309.2 2406.9L436.5 2411.9L563.8 2419.2L691 2428.2L945.5 2451L1200 2476.4L1454.5 2501L1709 2524.7L1963.5 2546.7L2218 2567.3L2221.3 2567.3" pathLength="2042.6" stroke="#aaaa00"/>
<path d="M178.7 2408.6L182 2408.6L309.2 2411.8L436.5 2416.7L563.8 2423.8L691 2432.7L945.5 2455.3L1200 2480.6L1454.5 2505L1709 2528.6L1963.5 2550.4L2218 2570.8L2221.3 2570.8" pathLength="2042.6" stroke="#000000"/>
<path d="M178.7 2413.6L182 2413.6L309.2 2416.7L436.5 2421.5L563.8 2428.5L691 2437.2L945.5 2459.6L1200 2484.8L1454.5 2509L1709 2532.5L1963.5 2554.1L2218 2574.3L2221.3 2574.3" pathLength="2042.6" stroke="#aaaa00"/>
<path d="M178.7 2418.5L182 2418.5L309.2 2421.6L436.5 2426.3L563.8 2433.1L691 2441.7L945.5 2463.9L1200 2489L1454.5 2513.1L1709 2536.3L1963.5 2557.8L2218 2577.7L2221.3 2577.7" pathLength="2042.6" stroke="#ff00ff"/>
<path d="M178.7 2423.5L182 2423.5L309.2 2426.5L436.5 2431.1L563.8 2437.8L691 2446.2L945.5 2468.2L1200 2493.2L1454.5 2517.1L1709 2540.2L1963.5 2561.4L2218 2581.2L2221.3 2581.2" pathLength="2042.6" stroke="#000000"/>
<path d="M178.7 2428.5L182 2428.5L309.2 2431.4L436.5 2435.9L563.8 2442.4L691 2450.7L945.5 2472.5L1200 2497.3L1454.5 2521.1L1709 2544L1963.5 2565L2218 2584.6L2221.3 2584.6" pathLength="2042.6" stroke="#80ff00"/>
<path d="M178.7 2433.4L182 2433.4L309.2 2436.3L436.5 2440.7L563.8 2447.1L691 2455.2L945.5 2476.8L1200 2501.5L1454.5 2525.1L1709 2547.8L1963.5 2568.7L2218 2588L2221.3 2588" pathLength="2042.6" stroke="#000000"/>
<path d="M178.7 2438.4L182 2438.4L309.2 2441.2L436.5 2445.5L563.8 2451.8L691 2459.7L945.5 2481.2L1200 2505.7L1454.5 2529.1L1709 2551.7L1963.5 2572.3L2218 2591.5L2221.3 2591.5" pathLength="2042.6" stroke="#aaaa00"/>
<path d="M178.7 2443.3L182 2443.3L309.2 2446.1L436.5 2450.3L563.8 2456.4L691 2464.2L945.5 2485.5L1200 2509.8L1454.5 2533.1L1709 2555.5L1963.5 2575.9L2218 2594.9L2221.3 2594.9" pathLength="2042.6" stroke="#80ff00"/>
<path d="M178.7 2448.3L182 2448.3L309.2 2451L436.5 2455.1L563.8 2461.1L691 2468.7L945.5 2489.8L1200 2514L1454.5 2537.1L1709 2559.3L1963.5 2579.5L2218 2598.3L2221.3 2598.3" pathLength="2042.6" stroke="#00aaaa"/>
<path d="M178.7 2453.3L182 2453.3L309.2 2455.9L436.5 2459.9L563.8 2465.8L691 2473.3L945.5 2494.1L1200 2518.2L1454.5 2541L1709 2563.1L1963.5 2583.1L2218 2601.7L2221.3 2601.7" pathLength="2042.6" stroke="#808080"/>
<path d="M178.7 2458.2L182 2458.2L309.2 2460.8L436.5 2464.7L563.8 2470.5L691 2477.8L945.5 2498.4L1200 2522.3L1454.5 2545L1709 2566.9L1963.5 2586.7L2218 2605.1L2221.3 2605.1" pathLength="2042.6" stroke="#000000"/>
<path d="M178.7 2463.2L182 2463.2L309.2 2465.7L436.5 2469.6L563.8 2475.1L691 2482.3L945.5 2502.7L1200 2526.5L1454.5 2549L1709 2570.7L1963.5 2590.3L2218 2608.4L2221.3 2608.4" pathLength="2042.6" stroke="#00aaaa"/>
<path d="M178.7 2468.1L182 2468.1L309.2 2470.6L436.5 2474.4L563.8 2479.8L691 2486.9L945.5 2507.1L1200 2530.6L1454.5 2553L1709 2574.5L1963.5 2593.9L2218 2611.8L2221.3 2611.8" pathLength="2042.6" stroke="#808080"/>
<path d="M178.7 2473.1L182 2473.1L309.2 2475.5L436.5 2479.2L563.8 2484.5L691 2491.4L945.5 2511.4L1200 2534.8L1454.5 2557L1709 2578.3L1963.5 2597.5L2218 2615.2L2221.3 2615.2" pathLength="2042.6" stroke="#aaaa00"/>
<path d="M178.7 2478.1L182 2478.1L309.2 2480.4L436.5 2484L563.8 2489.2L691 2495.9L945.5 2515.7L1200 2539L1454.5 2561L1709 2582.1L1963.5 2601.1L2218 2618.6L2221.3 2618.6" pathLength="2042.6" stroke="#ff00aa"/>
<path d="M178.7 2483L182 2483L309.2 2485.3L436.5 2488.8L563.8 2493.9L691 2500.5L945.5 2520.1L1200 2543.2L1454.5 2564.9L1709 2585.8L1963.5 2604.7L2218 2622L2221.3 2622" pathLength="2042.6" stroke="#000000"/>
<path d="M178.7 2488L182 2488L309.2 2490.2L436.5 2493.7L563.8 2498.6L691 2505.1L945.5 2524.4L1200 2547.3L1454.5 2568.9L1709 2589.6L1963.5 2608.3L2218 2625.4L2221.3 2625.4" pathLength="2042.6" stroke="#008000"/>
<path d="M178.7 2492.9L182 2492.9L309.2 2495.1L436.5 2498.5L563.8 2503.3L691 2509.6L945.5 2528.8L1200 2551.5L1454.5 2572.9L1709 2593.4L1963.5 2611.9L2218 2628.7L2221.3 2628.7" pathLength="2042.6" stroke="#aaaa00"/>
<path d="M178.7 2497.9L182 2497.9L309.2 2500.1L436.5 2503.3L563.8 2508L691 2514.2L945.5 2533.1L1200 2555.7L1454.5 2576.9L1709 2597.2L1963.5 2615.5L2218 2632.1L2221.3 2632.1" pathLength="2042.6" stroke="#000000"/>
<path d="M178.7 2502.8L182 2502.8L309.2 2505L436.5 2508.1L563.8 2512.7L691 2518.8L945.5 2537.5L1200 2559.9L1454.5 2580.9L1709 2601L1963.5 2619.1L2218 2635.5L2221.3 2635.5" pathLength="2042.6" stroke="#00aaaa"/>
<path d="M178.7 2507.8L182 2507.8L309.2 2509.9L436.5 2513L563.8 2517.4L691 2523.3L945.5 2541.9L1200 2564.1L1454.5 2584.9L1709 2604.8L1963.5 2622.7L2218 2638.9L2221.3 2638.9" pathLength="2042.6" stroke="#aaaa00"/>
<path d="M178.7 2512.8L182 2512.8L309.2 2514.8L436.5 2517.8L563.8 2522.2L691 2527.9L945.5 2546.2L1200 2568.3L1454.5 2588.9L1709 2608.6L1963.5 2626.3L2218 2642.3L2221.3 2642.3" pathLength="2042.6" stroke="#000000"/>
<path d="M178.7 2517.7L182 2517.7L309.2 2519.7L436.5 2522.6L563.8 2526.9L691 2532.5L945.5 2550.6L1200 2572.5L1454.5 2592.9L1709 2612.4L1963.5 2629.9L2218 2645.7L2221.3 2645.7" pathLength="2042.6" stroke="#80ff00"/>
<path d="M178.7 2522.7L182 2522.7L309.2 2524.6L436.5 2527.5L563.8 2531.6L691 2537.1L945.5 2555L1200 2576.6L1454.5 2596.9L1709 2616.2L1963.5 2633.5L2218 2649.1L2221.3 2649.1" pathLength="2042.6" stroke="#008000"/>
<path d="M178.7 2527.6L182 2527.6L309.2 2529.5L436.5 2532.3L563.8 2536.3L691 2541.7L945.5 2559.4L1200 2580.8L1454.5 2600.8L1709 2620L1963.5 2637L2218 2652.4L2221.3 2652.4" pathLength="2042.6" stroke="#000000"/>
<path d="M178.7 2532.6L182 2532.6L309.2 2534.4L436.5 2537.2L563.8 2541.1L691 2546.3L945.5 2563.7L1200 2584.9L1454.5 2604.8L1709 2623.7L1963.5 2640.5L2218 2655.7L2221.3 2655.7" pathLength="2042.6" stroke="#800080"/>
<path d="M178.7 2540L182 2540L309.2 2541.8L436.5 2544.4L563.8 2548.1L691 2553.2L945.5 2570.2L1200 2591.1L1454.5 2610.6L1709 2629.2L1963.5 2645.7L2218 2660.5L2221.3 2660.5" pathLength="2042.6" stroke="#800080"/>
<path d="M178.7 2547.5L182 2547.5L309.2 2549.2L436.5 2551.7L563.8 2555.2L691 2560.1L945.5 2576.8L1200 2597.3L1454.5 2616.5L1709 2634.7L1963.5 2650.8L2218 2665.3L2221.3 2665.3" pathLength="2042.6" stroke="#80ff00"/>
<path d="M178.7 2554.9L182 2554.9L309.2 2556.5L436.5 2558.9L563.8 2562.3L691 2567L945.5 2583.3L1200 2603.5L1454.5 2622.3L1709 2640.2L1963.5 2655.9L2218 2670.1L2221.3 2670.1" pathLength="2042.6" stroke="#008000"/>
<path d="M178.7 2559.9L182 2559.9L309.2 2561.4L436.5 2563.8L563.8 2567.1L691 2571.6L945.5 2587.7L1200 2607.7L1454.5 2626.2L1709 2643.8L1963.5 2659.4L2218 2673.3L2221.3 2673.3" pathLength="2042.6" stroke="#ff00ff"/>
<path d="M178.7 2564.8L182 2564.8L309.2 2566.3L436.5 2568.6L563.8 2571.8L691 2576.2L945.5 2592.1L1200 2611.8L1454.5 2630.1L1709 2647.5L1963.5 2662.8L2218 2676.5L2221.3 2676.5" pathLength="2042.6" stroke="#00aaaa"/>
<path d="M178.7 2572.3L182 2572.3L309.2 2573.7L436.5 2575.9L563.8 2578.9L691 2583.2L945.5 2598.6L1200 2618L1454.5 2635.9L1709 2653L1963.5 2667.9L2218 2681.3L2221.3 2681.3" pathLength="2042.6" stroke="#b8860b"/>
<path d="M178.7 2577.2L182 2577.2L309.2 2578.6L436.5 2580.7L563.8 2583.7L691 2587.8L945.5 2603L1200 2622.2L1454.5 2639.9L1709 2656.7L1963.5 2671.4L2218 2684.6L2221.3 2684.6" pathLength="2042.6" stroke="#000000"/>
<path d="M178.7 2582.2L182 2582.2L309.2 2583.5L436.5 2585.6L563.8 2588.5L691 2592.4L945.5 2607.4L1200 2626.3L1454.5 2643.8L1709 2660.4L1963.5 2674.9L2218 2687.8L2221.3 2687.8" pathLength="2042.6" stroke="#ff00ff"/>
<path d="M178.7 2587.1L182 2587.1L309.2 2588.5L436.5 2590.5L563.8 2593.2L691 2597.1L945.5 2611.8L1200 2630.5L1454.5 2647.7L1709 2664.1L1963.5 2678.4L2218 2691.1L2221.3 2691.1" pathLength="2042.6" stroke="#b8860b"/>
<path d="M178.7 2594.6L182 2594.6L309.2 2595.8L436.5 2597.7L563.8 2600.4L691 2604.1L945.5 2618.5L1200 2636.8L1454.5 2653.7L1709 2669.7L1963.5 2683.7L2218 2696.1L2221.3 2696.1" pathLength="2042.6" stroke="#80ff00"/>
<path d="M178.7 2604.5L182 2604.5L309.2 2605.7L436.5 2607.5L563.8 2610L691 2613.4L945.5 2627.4L1200 2645.3L1454.5 2661.8L1709 2677.3L1963.5 2690.9L2218 2702.9L2221.3 2702.9" pathLength="2042.6" stroke="#008000"/>
<path d="M178.7 2611.9L182 2611.9L309.2 2613.1L436.5 2614.8L563.8 2617.1L691 2620.5L945.5 2634.1L1200 2651.7L1454.5 2667.9L1709 2683.1L1963.5 2696.4L2218 2708.2L2221.3 2708.2" pathLength="2042.6" stroke="#000000"/>
<path d="M178.7 2616.9L182 2616.9L309.2 2618L436.5 2619.7L563.8 2621.9L691 2625.2L945.5 2638.6L1200 2656L1454.5 2672L1709 2687.1L1963.5 2700.1L2218 2711.7L2221.3 2711.7" pathLength="2042.6" stroke="#008000"/>
<path d="M178.7 2629.3L182 2629.3L309.2 2630.3L436.5 2631.8L563.8 2634L691 2637L945.5 2649.9L1200 2666.8L1454.5 2682.3L1709 2696.9L1963.5 2709.5L2218 2720.6L2221.3 2720.6" pathLength="2042.6" stroke="#aaaa00"/>
<path d="M178.7 2634.3L182 2634.3L309.2 2635.2L436.5 2636.7L563.8 2638.8L691 2641.7L945.5 2654.4L1200 2671.1L1454.5 2686.4L1709 2700.9L1963.5 2713.3L2218 2724.3L2221.3 2724.3" pathLength="2042.6" stroke="#00aaaa"/>
<path d="M178.7 2639.2L182 2639.2L309.2 2640.2L436.5 2641.6L563.8 2643.6L691 2646.4L945.5 2659L1200 2675.5L1454.5 2690.6L1709 2704.8L1963.5 2717.1L2218 2727.9L2221.3 2727.9" pathLength="2042.6" stroke="#80ff00"/>
<path d="M178.7 2644.2L182 2644.2L309.2 2645.1L436.5 2646.5L563.8 2648.4L691 2651.2L945.5 2663.5L1200 2679.8L1454.5 2694.7L1709 2708.8L1963.5 2720.9L2218 2731.5L2221.3 2731.5" pathLength="2042.6" stroke="#ff00aa"/>
<path d="M178.7 2651.6L182 2651.6L309.2 2652.5L436.5 2653.8L563.8 2655.6L691 2658.3L945.5 2670.4L1200 2686.4L1454.5 2701L1709 2714.8L1963.5 2726.6L2218 2737L2221.3 2737" pathLength="2042.6" stroke="#80ff00"/>
<path d="M178.7 2659L182 2659L309.2 2659.9L436.5 2661.2L563.8 2662.9L691 2665.4L945.5 2677.2L1200 2692.9L1454.5 2707.3L1709 2720.8L1963.5 2732.4L2218 2742.5L2221.3 2742.5" pathLength="2042.6" stroke="#aaaa00"/>
<path d="M178.7 2664L182 2664L309.2 2664.8L436.5 2666L563.8 2667.7L691 2670.1L945.5 2681.8L1200 2697.3L1454.5 2711.5L1709 2724.8L1963.5 2736.2L2218 2746.2L2221.3 2746.2" pathLength="2042.6" stroke="#80ff00"/>
<path d="M178.7 2673.9L182 2673.9L309.2 2674.7L436.5 2675.8L563.8 2677.4L691 2679.7L945.5 2690.9L1200 2706.1L1454.5 2719.9L1709 2732.9L1963.5 2743.9L2218 2753.6L2221.3 2753.6" pathLength="2042.6" stroke="#80ff00"/>
<path d="M178.7 2678.9L182 2678.9L309.2 2679.6L436.5 2680.7L563.8 2682.2L691 2684.4L945.5 2695.5L1200 2710.5L1454.5 2724.1L1709 2736.9L1963.5 2747.8L2218 2757.3L2221.3 2757.3" pathLength="2042.6" stroke="#008000"/>
<path d="M178.7 2686.3L182 2686.3L309.2 2687L436.5 2688.1L563.8 2689.5L691 2691.6L945.5 2702.4L1200 2717.1L1454.5 2730.4L1709 2742.9L1963.5 2753.6L2218 2762.8L2221.3 2762.8" pathLength="2042.6" stroke="#008000"/>
<path d="M178.7 2703.7L182 2703.7L309.2 2704.3L436.5 2705.2L563.8 2706.5L691 2708.3L945.5 2718.5L1200 2732.5L1454.5 2745.2L1709 2757.1L1963.5 2767.2L2218 2775.9L2221.3 2775.9" pathLength="2042.6" stroke="#000000"/>
<path d="M178.7 2730.9L182 2730.9L309.2 2731.4L436.5 2732.2L563.8 2733.2L691 2734.7L945.5 2743.9L1200 2756.8L1454.5 2768.4L1709 2779.3L1963.5 2788.5L2218 2796.3L2221.3 2796.3" pathLength="2042.6" stroke="#800080"/>
<path d="M178.7 2738.4L182 2738.4L309.2 2738.9L436.5 2739.6L563.8 2740.5L691 2741.9L945.5 2750.8L1200 2763.4L1454.5 2774.8L1709 2785.4L1963.5 2794.3L2218 2801.9L2221.3 2801.9" pathLength="2042.6" stroke="#808080"/>
<path d="M178.7 2745.8L182 2745.8L309.2 2746.3L436.5 2746.9L563.8 2747.8L691 2749.1L945.5 2757.8L1200 2770L1454.5 2781.1L1709 2791.4L1963.5 2800.1L2218 2807.5L2221.3 2807.5" pathLength="2042.6" stroke="#80ff00"/>
</g>
<g fill="none">
<path d="M182 2199.6L309.2 2205.8L436.5 2215.3L563.8 2230.1L691 2246.4L945.5 2274.7L1200 2302.5L1454.5 2331L1709 2359.6L1963.5 2387.9L2218 2415.9" stroke="#ff00ff" stroke-width="2.7"/>
<path d="M182 2203.6L309.2 2209.8L436.5 2219.1L563.8 2233.8L691 2249.9L945.5 2278.1L1200 2305.9L1454.5 2334.4L1709 2362.9L1963.5 2391.1L2218 2418.9" stroke="#ff00ff" stroke-width="2.7"/>
<path d="M182 2214.4L309.2 2220.4L436.5 2229.5L563.8 2243.7L691 2259.4L945.5 2287.4L1200 2315.1L1454.5 2343.5L1709 2371.8L1963.5 2399.7L2218 2427.1" stroke="#aaaa00" stroke-width="2.7"/>
<path d="M182 2220.2L309.2 2226.1L436.5 2235L563.8 2249L691 2264.5L945.5 2292.3L1200 2320.1L1454.5 2348.4L1709 2376.6L1963.5 2404.3L2218 2431.6" stroke="#80ff00" stroke-width="3"/>
<path d="M182 2226L309.2 2231.8L436.5 2240.6L563.8 2254.3L691 2269.6L945.5 2297.3L1200 2325L1454.5 2353.3L1709 2381.4L1963.5 2408.9L2218 2436" stroke="#800080" stroke-width="2.7"/>
<path d="M182 2231.5L309.2 2237.2L436.5 2245.9L563.8 2259.4L691 2274.4L945.5 2302L1200 2329.7L1454.5 2357.9L1709 2385.9L1963.5 2413.2L2218 2440.1" stroke="#808080" stroke-width="3"/>
<path d="M182 2237.7L309.2 2243.3L436.5 2251.8L563.8 2265L691 2279.8L945.5 2307.3L1200 2335L1454.5 2363L1709 2390.9L1963.5 2418.1L2218 2444.7" stroke="#000000" stroke-width="2.7"/>
<path d="M182 2242.7L309.2 2248.2L436.5 2256.6L563.8 2269.6L691 2284.2L945.5 2311.6L1200 2339.2L1454.5 2367.2L1709 2395L1963.5 2422L2218 2448.5" stroke="#aaaa00" stroke-width="3"/>
<path d="M182 2247.6L309.2 2253.1L436.5 2261.4L563.8 2274.2L691 2288.6L945.5 2315.9L1200 2343.5L1454.5 2371.4L1709 2399L1963.5 2425.9L2218 2452.2" stroke="#80ff00" stroke-width="2.7"/>
<path d="M182 2253.1L309.2 2258.5L436.5 2266.6L563.8 2279.2L691 2293.5L945.5 2320.6L1200 2348.1L1454.5 2375.9L1709 2403.5L1963.5 2430.2L2218 2456.4" stroke="#000000" stroke-width="2.7"/>
<path d="M182 2259.3L309.2 2264.5L436.5 2272.5L563.8 2284.9L691 2298.9L945.5 2325.9L1200 2353.4L1454.5 2381.1L1709 2408.5L1963.5 2435.1L2218 2461" stroke="#b8860b" stroke-width="2.7"/>
<path d="M182 2267.6L309.2 2272.7L436.5 2280.5L563.8 2292.5L691 2306.3L945.5 2333L1200 2360.5L1454.5 2388L1709 2415.3L1963.5 2441.6L2218 2467.2" stroke="#000000" stroke-width="2.7"/>
<path d="M182 2275.9L309.2 2280.9L436.5 2288.5L563.8 2300.2L691 2313.6L945.5 2340.2L1200 2367.5L1454.5 2395L1709 2422L1963.5 2448.1L2218 2473.4" stroke="#b8860b" stroke-width="2.7"/>
<path d="M182 2281.4L309.2 2286.3L436.5 2293.8L563.8 2305.3L691 2318.5L945.5 2344.9L1200 2372.2L1454.5 2399.5L1709 2426.5L1963.5 2452.4L2218 2477.5" stroke="#80ff00" stroke-width="2.7"/>
<path d="M182 2285.5L309.2 2290.4L436.5 2297.8L563.8 2309.1L691 2322.2L945.5 2348.5L1200 2375.8L1454.5 2403L1709 2429.8L1963.5 2455.6L2218 2480.5" stroke="#aaaa00" stroke-width="2.7"/>
<path d="M182 2292.2L309.2 2297L436.5 2304.2L563.8 2315.3L691 2328.1L945.5 2354.2L1200 2381.4L1454.5 2408.5L1709 2435.2L1963.5 2460.8L2218 2485.5" stroke="#000000" stroke-width="2.7"/>
<path d="M182 2298.8L309.2 2303.5L436.5 2310.6L563.8 2321.4L691 2334L945.5 2360L1200 2387.1L1454.5 2414.1L1709 2440.6L1963.5 2466L2218 2490.4" stroke="#808080" stroke-width="2.7"/>
<path d="M182 2307.1L309.2 2311.7L436.5 2318.6L563.8 2329.1L691 2341.4L945.5 2367.1L1200 2394.2L1454.5 2421L1709 2447.3L1963.5 2472.4L2218 2496.6" stroke="#000000" stroke-width="2.7"/>
<path d="M182 2313L309.2 2317.4L436.5 2324.2L563.8 2334.5L691 2346.6L945.5 2372.2L1200 2399.1L1454.5 2425.8L1709 2452L1963.5 2477L2218 2500.9" stroke="#00aaaa" stroke-width="2.7"/>
<path d="M182 2319.1L309.2 2323.5L436.5 2330.1L563.8 2340.2L691 2352.1L945.5 2377.5L1200 2404.4L1454.5 2430.9L1709 2457L1963.5 2481.7L2218 2505.4" stroke="#ff00aa" stroke-width="2.7"/>
<path d="M182 2327.4L309.2 2331.7L436.5 2338.1L563.8 2347.9L691 2359.5L945.5 2384.7L1200 2411.5L1454.5 2437.8L1709 2463.7L1963.5 2488.2L2218 2511.6" stroke="#808080" stroke-width="2.7"/>
<path d="M182 2337.1L309.2 2341.2L436.5 2347.4L563.8 2356.9L691 2368.1L945.5 2393L1200 2419.7L1454.5 2445.9L1709 2471.5L1963.5 2495.7L2218 2518.7" stroke="#008000" stroke-width="2.7"/>
<path d="M182 2338.6L309.2 2342.8L436.5 2349L563.8 2358.4L691 2369.6L945.5 2394.4L1200 2421L1454.5 2447.2L1709 2472.8L1963.5 2496.9L2218 2519.9" stroke="#008000" stroke-width="2.7"/>
<path d="M182 2347.5L309.2 2351.4L436.5 2357.5L563.8 2366.6L691 2377.5L945.5 2402.1L1200 2428.6L1454.5 2454.5L1709 2479.9L1963.5 2503.7L2218 2526.4" stroke="#b8860b" stroke-width="2.7"/>
<path d="M182 2353.3L309.2 2357.2L436.5 2363.1L563.8 2372L691 2382.7L945.5 2407.1L1200 2433.5L1454.5 2459.3L1709 2484.6L1963.5 2508.2L2218 2530.7" stroke="#00aaaa" stroke-width="2.7"/>
<path d="M182 2359.1L309.2 2362.9L436.5 2368.7L563.8 2377.4L691 2387.9L945.5 2412.2L1200 2438.5L1454.5 2464.2L1709 2489.2L1963.5 2512.7L2218 2535" stroke="#008000" stroke-width="2.7"/>
<path d="M182 2365.2L309.2 2369L436.5 2374.7L563.8 2383.2L691 2393.5L945.5 2417.5L1200 2443.8L1454.5 2469.3L1709 2494.2L1963.5 2517.5L2218 2539.5" stroke="#b8860b" stroke-width="2.7"/>
<path d="M182 2369.9L309.2 2373.6L436.5 2379.2L563.8 2387.5L691 2397.7L945.5 2421.6L1200 2447.7L1454.5 2473.2L1709 2497.9L1963.5 2521.1L2218 2542.9" stroke="#ff00aa" stroke-width="2.7"/>
<path d="M182 2375.7L309.2 2379.3L436.5 2384.8L563.8 2393L691 2402.9L945.5 2426.7L1200 2452.7L1454.5 2478L1709 2502.6L1963.5 2525.6L2218 2547.2" stroke="#aaaa00" stroke-width="2.7"/>
<path d="M182 2382.4L309.2 2385.9L436.5 2391.2L563.8 2399.2L691 2409L945.5 2432.5L1200 2458.4L1454.5 2483.5L1709 2507.9L1963.5 2530.6L2218 2552" stroke="#008000" stroke-width="2.7"/>
<path d="M182 2388.8L309.2 2392.2L436.5 2397.5L563.8 2405.2L691 2414.8L945.5 2438.1L1200 2463.8L1454.5 2488.8L1709 2513L1963.5 2535.5L2218 2556.7" stroke="#000000" stroke-width="3"/>
<path d="M182 2393.5L309.2 2396.9L436.5 2402L563.8 2409.6L691 2419L945.5 2442.2L1200 2467.8L1454.5 2492.7L1709 2516.8L1963.5 2539.1L2218 2560.1" stroke="#000000" stroke-width="2.7"/>
<path d="M182 2398.2L309.2 2401.5L436.5 2406.6L563.8 2414L691 2423.3L945.5 2446.2L1200 2471.8L1454.5 2496.5L1709 2520.4L1963.5 2542.6L2218 2563.4" stroke="#000000" stroke-width="3"/>
<path d="M182 2404L309.2 2407.2L436.5 2412.1L563.8 2419.4L691 2428.5L945.5 2451.2L1200 2476.7L1454.5 2501.2L1709 2525L1963.5 2546.9L2218 2567.5" stroke="#808080" stroke-width="2.7"/>
<path d="M182 2411.8L309.2 2414.9L436.5 2419.7L563.8 2426.8L691 2435.6L945.5 2458L1200 2483.3L1454.5 2507.6L1709 2531.1L1963.5 2552.7L2218 2573" stroke="#80ff00" stroke-width="2.7"/>
<path d="M182 2416.4L309.2 2419.5L436.5 2424.2L563.8 2431.1L691 2439.8L945.5 2462.1L1200 2487.2L1454.5 2511.3L1709 2534.7L1963.5 2556.2L2218 2576.2" stroke="#aaaa00" stroke-width="3"/>
<path d="M182 2420.6L309.2 2423.6L436.5 2428.2L563.8 2435L691 2443.5L945.5 2465.7L1200 2490.7L1454.5 2514.7L1709 2537.9L1963.5 2559.3L2218 2579.1" stroke="#80ff00" stroke-width="2.7"/>
<path d="M182 2425.9L309.2 2428.9L436.5 2433.4L563.8 2440L691 2448.4L945.5 2470.3L1200 2495.2L1454.5 2519L1709 2542L1963.5 2563.2L2218 2582.8" stroke="#ff00ff" stroke-width="2.7"/>
<path d="M182 2432.5L309.2 2435.5L436.5 2439.8L563.8 2446.3L691 2454.4L945.5 2476.1L1200 2500.8L1454.5 2524.4L1709 2547.2L1963.5 2568L2218 2587.4" stroke="#808080" stroke-width="2.7"/>
<path d="M182 2440L309.2 2442.8L436.5 2447.1L563.8 2453.3L691 2461.2L945.5 2482.6L1200 2507L1454.5 2530.4L1709 2552.9L1963.5 2573.5L2218 2592.6" stroke="#000000" stroke-width="2.7"/>
<path d="M182 2445L309.2 2447.8L436.5 2451.9L563.8 2458L691 2465.7L945.5 2486.9L1200 2511.2L1454.5 2534.4L1709 2556.8L1963.5 2577.1L2218 2596" stroke="#00aaaa" stroke-width="3"/>
<path d="M182 2452.2L309.2 2454.8L436.5 2458.9L563.8 2464.7L691 2472.3L945.5 2493.1L1200 2517.2L1454.5 2540.2L1709 2562.2L1963.5 2582.3L2218 2600.9" stroke="#aaaa00" stroke-width="2.7"/>
<path d="M182 2458.8L309.2 2461.4L436.5 2465.3L563.8 2471L691 2478.3L945.5 2498.9L1200 2522.8L1454.5 2545.5L1709 2567.3L1963.5 2587.2L2218 2605.5" stroke="#ff00ff" stroke-width="3"/>
<path d="M182 2462.1L309.2 2464.7L436.5 2468.5L563.8 2474.2L691 2481.4L945.5 2501.8L1200 2525.6L1454.5 2548.2L1709 2569.9L1963.5 2589.6L2218 2607.7" stroke="#008000" stroke-width="3"/>
<path d="M182 2467.5L309.2 2469.9L436.5 2473.7L563.8 2479.2L691 2486.2L945.5 2506.5L1200 2530.1L1454.5 2552.4L1709 2573.9L1963.5 2593.4L2218 2611.4" stroke="#808080" stroke-width="2.7"/>
<path d="M182 2475.4L309.2 2477.8L436.5 2481.5L563.8 2486.7L691 2493.5L945.5 2513.4L1200 2536.8L1454.5 2558.9L1709 2580L1963.5 2599.2L2218 2616.8" stroke="#000000" stroke-width="2.7"/>
<path d="M182 2480.7L309.2 2483.1L436.5 2486.6L563.8 2491.8L691 2498.4L945.5 2518.1L1200 2541.3L1454.5 2563.1L1709 2584.1L1963.5 2603.1L2218 2620.4" stroke="#00aaaa" stroke-width="2.7"/>
<path d="M182 2486.6L309.2 2488.9L436.5 2492.3L563.8 2497.3L691 2503.8L945.5 2523.2L1200 2546.1L1454.5 2567.8L1709 2588.6L1963.5 2607.3L2218 2624.4" stroke="#ff00aa" stroke-width="2.7"/>
<path d="M182 2492.5L309.2 2494.7L436.5 2498L563.8 2502.9L691 2509.2L945.5 2528.4L1200 2551.1L1454.5 2572.5L1709 2593.1L1963.5 2611.5L2218 2628.4" stroke="#008000" stroke-width="2.7"/>
<path d="M182 2498.3L309.2 2500.4L436.5 2503.7L563.8 2508.4L691 2514.6L945.5 2533.5L1200 2556L1454.5 2577.2L1709 2597.5L1963.5 2615.8L2218 2632.4" stroke="#aaaa00" stroke-width="2.7"/>
<path d="M182 2504.4L309.2 2506.5L436.5 2509.7L563.8 2514.2L691 2520.2L945.5 2538.9L1200 2561.2L1454.5 2582.2L1709 2602.2L1963.5 2620.2L2218 2636.6" stroke="#000000" stroke-width="2.7"/>
<path d="M182 2511.1L309.2 2513.1L436.5 2516.2L563.8 2520.6L691 2526.4L945.5 2544.8L1200 2566.8L1454.5 2587.5L1709 2607.3L1963.5 2625.1L2218 2641.2" stroke="#008000" stroke-width="2.7"/>
<path d="M182 2515.5L309.2 2517.5L436.5 2520.5L563.8 2524.8L691 2530.5L945.5 2548.7L1200 2570.6L1454.5 2591.1L1709 2610.8L1963.5 2628.3L2218 2644.2" stroke="#000000" stroke-width="3"/>
<path d="M182 2520.7L309.2 2522.7L436.5 2525.6L563.8 2529.7L691 2535.3L945.5 2553.3L1200 2575L1454.5 2595.3L1709 2614.7L1963.5 2632.1L2218 2647.8" stroke="#000000" stroke-width="2.7"/>
<path d="M182 2525.9L309.2 2527.8L436.5 2530.6L563.8 2534.7L691 2540.1L945.5 2557.8L1200 2579.4L1454.5 2599.5L1709 2618.7L1963.5 2635.8L2218 2651.3" stroke="#000000" stroke-width="3"/>
<path d="M182 2529.4L309.2 2531.2L436.5 2534L563.8 2538L691 2543.3L945.5 2560.9L1200 2582.2L1454.5 2602.2L1709 2621.3L1963.5 2638.2L2218 2653.5" stroke="#ff00ff" stroke-width="3"/>
<path d="M182 2534.8L309.2 2536.6L436.5 2539.3L563.8 2543.2L691 2548.4L945.5 2565.7L1200 2586.8L1454.5 2606.5L1709 2625.3L1963.5 2642L2218 2657.1" stroke="#80ff00" stroke-width="2.7"/>
<path d="M182 2544.3L309.2 2546L436.5 2548.6L563.8 2552.2L691 2557.2L945.5 2574L1200 2594.7L1454.5 2614L1709 2632.4L1963.5 2648.6L2218 2663.3" stroke="#800080" stroke-width="2.7"/>
<path d="M182 2550.6L309.2 2552.3L436.5 2554.8L563.8 2558.3L691 2563L945.5 2579.6L1200 2600L1454.5 2619L1709 2637L1963.5 2653L2218 2667.4" stroke="#ff00ff" stroke-width="3"/>
<path d="M182 2555.1L309.2 2556.7L436.5 2559.1L563.8 2562.5L691 2567.2L945.5 2583.5L1200 2603.7L1454.5 2622.5L1709 2640.3L1963.5 2656.1L2218 2670.3" stroke="#ff00ff" stroke-width="2.7"/>
<path d="M182 2560.1L309.2 2561.7L436.5 2564L563.8 2567.3L691 2571.8L945.5 2587.9L1200 2607.9L1454.5 2626.4L1709 2644L1963.5 2659.5L2218 2673.5" stroke="#00aaaa" stroke-width="2.7"/>
<path d="M182 2566.8L309.2 2568.3L436.5 2570.5L563.8 2573.7L691 2578L945.5 2593.8L1200 2613.4L1454.5 2631.6L1709 2648.9L1963.5 2664.1L2218 2677.8" stroke="#000000" stroke-width="2.7"/>
<path d="M182 2575.9L309.2 2577.3L436.5 2579.4L563.8 2582.4L691 2586.6L945.5 2601.8L1200 2621L1454.5 2638.8L1709 2655.7L1963.5 2670.5L2218 2683.7" stroke="#008000" stroke-width="2.7"/>
<path d="M182 2585L309.2 2586.4L436.5 2588.4L563.8 2591.2L691 2595.1L945.5 2610L1200 2628.7L1454.5 2646.1L1709 2662.5L1963.5 2676.9L2218 2689.7" stroke="#ff00ff" stroke-width="2.7"/>
<path d="M182 2593.9L309.2 2595.1L436.5 2597L563.8 2599.7L691 2603.4L945.5 2617.8L1200 2636.2L1454.5 2653.1L1709 2669.2L1963.5 2683.2L2218 2695.6" stroke="#000000" stroke-width="2.7"/>
<path d="M182 2601.3L309.2 2602.5L436.5 2604.4L563.8 2606.9L691 2610.4L945.5 2624.5L1200 2642.6L1454.5 2659.2L1709 2674.9L1963.5 2688.6L2218 2700.7" stroke="#b8860b" stroke-width="2.7"/>
<path d="M182 2611.3L309.2 2612.4L436.5 2614.2L563.8 2616.5L691 2619.9L945.5 2633.6L1200 2651.2L1454.5 2667.3L1709 2682.6L1963.5 2695.9L2218 2707.7" stroke="#00aaaa" stroke-width="12"/>
<path d="M182 2624.6L309.2 2625.6L436.5 2627.2L563.8 2629.4L691 2632.5L945.5 2645.6L1200 2662.7L1454.5 2678.4L1709 2693.2L1963.5 2705.9L2218 2717.2" stroke="#80ff00" stroke-width="2.7"/>
<path d="M182 2633.7L309.2 2634.7L436.5 2636.2L563.8 2638.3L691 2641.2L945.5 2654L1200 2670.7L1454.5 2686L1709 2700.4L1963.5 2712.9L2218 2723.9" stroke="#008000" stroke-width="2.7"/>
<path d="M182 2642.5L309.2 2643.4L436.5 2644.8L563.8 2646.7L691 2649.5L945.5 2662L1200 2678.3L1454.5 2693.3L1709 2707.4L1963.5 2719.6L2218 2730.3" stroke="#ff00aa" stroke-width="2.7"/>
<path d="M182 2648.3L309.2 2649.2L436.5 2650.5L563.8 2652.4L691 2655.1L945.5 2667.3L1200 2683.5L1454.5 2698.2L1709 2712.1L1963.5 2724.1L2218 2734.5" stroke="#aaaa00" stroke-width="2.5"/>
<path d="M182 2651.9L309.2 2652.8L436.5 2654.1L563.8 2656L691 2658.6L945.5 2670.7L1200 2686.7L1454.5 2701.3L1709 2715.1L1963.5 2726.9L2218 2737.2" stroke="#00aaaa" stroke-width="2.7"/>
<path d="M182 2656.6L309.2 2657.4L436.5 2658.7L563.8 2660.5L691 2663L945.5 2674.9L1200 2690.8L1454.5 2705.2L1709 2718.8L1963.5 2730.5L2218 2740.7" stroke="#008000" stroke-width="2.7"/>
<path d="M182 2661.1L309.2 2661.9L436.5 2663.2L563.8 2664.9L691 2667.3L945.5 2679.1L1200 2694.7L1454.5 2709L1709 2722.4L1963.5 2734L2218 2744" stroke="#80ff00" stroke-width="2.7"/>
<path d="M182 2666.9L309.2 2667.7L436.5 2668.9L563.8 2670.5L691 2672.9L945.5 2684.4L1200 2699.9L1454.5 2713.9L1709 2727.2L1963.5 2738.5L2218 2748.3" stroke="#000000" stroke-width="2.7"/>
<path d="M182 2673.2L309.2 2674L436.5 2675.1L563.8 2676.7L691 2679L945.5 2690.3L1200 2705.5L1454.5 2719.3L1709 2732.3L1963.5 2743.4L2218 2753" stroke="#80ff00" stroke-width="2.7"/>
<path d="M182 2679L309.2 2679.8L436.5 2680.9L563.8 2682.4L691 2684.6L945.5 2695.7L1200 2710.6L1454.5 2724.2L1709 2737L1963.5 2747.9L2218 2757.4" stroke="#ff00aa" stroke-width="2.7"/>
<path d="M182 2684.8L309.2 2685.6L436.5 2686.6L563.8 2688L691 2690.2L945.5 2701L1200 2715.8L1454.5 2729.2L1709 2741.8L1963.5 2752.4L2218 2761.7" stroke="#ff00ff" stroke-width="2.7"/>
<path d="M182 2691.8L309.2 2692.5L436.5 2693.5L563.8 2694.9L691 2696.9L945.5 2707.5L1200 2722L1454.5 2735.1L1709 2747.4L1963.5 2757.9L2218 2767" stroke="#808080" stroke-width="2.7"/>
<path d="M182 2699.8L309.2 2700.4L436.5 2701.4L563.8 2702.7L691 2704.6L945.5 2714.9L1200 2729.1L1454.5 2741.9L1709 2753.9L1963.5 2764.1L2218 2773" stroke="#008000" stroke-width="2.7"/>
<path d="M182 2706.1L309.2 2706.7L436.5 2707.6L563.8 2708.8L691 2710.6L945.5 2720.7L1200 2734.6L1454.5 2747.2L1709 2759.1L1963.5 2769L2218 2777.7" stroke="#000000" stroke-width="3"/>
<path d="M182 2709.8L309.2 2710.4L436.5 2711.3L563.8 2712.4L691 2714.2L945.5 2724.2L1200 2737.9L1454.5 2750.4L1709 2762.1L1963.5 2771.9L2218 2780.4" stroke="#000000" stroke-width="2.7"/>
<path d="M182 2713.5L309.2 2714.1L436.5 2714.9L563.8 2716.1L691 2717.8L945.5 2727.6L1200 2741.2L1454.5 2753.5L1709 2765.1L1963.5 2774.8L2218 2783.2" stroke="#000000" stroke-width="3"/>
<path d="M182 2720.1L309.2 2720.6L436.5 2721.4L563.8 2722.5L691 2724.2L945.5 2733.8L1200 2747.1L1454.5 2759.2L1709 2770.5L1963.5 2780L2218 2788.2" stroke="#808080" stroke-width="2.7"/>
<path d="M182 2725.6L309.2 2726.1L436.5 2726.9L563.8 2727.9L691 2729.5L945.5 2738.9L1200 2752L1454.5 2763.8L1709 2774.9L1963.5 2784.3L2218 2792.3" stroke="#00aaaa" stroke-width="2.5"/>
<path d="M182 2729.7L309.2 2730.2L436.5 2731L563.8 2732L691 2733.5L945.5 2742.8L1200 2755.7L1454.5 2767.4L1709 2778.3L1963.5 2787.5L2218 2795.4" stroke="#800080" stroke-width="2.7"/>
<path d="M182 2735.5L309.2 2736L436.5 2736.7L563.8 2737.7L691 2739.1L945.5 2748.1L1200 2760.8L1454.5 2772.3L1709 2783L1963.5 2792L2218 2799.7" stroke="#000000" stroke-width="3"/>
<path d="M182 2739.2L309.2 2739.7L436.5 2740.4L563.8 2741.3L691 2742.7L945.5 2751.6L1200 2764.1L1454.5 2775.5L1709 2786L1963.5 2794.9L2218 2802.5" stroke="#000000" stroke-width="2.7"/>
<path d="M182 2742.9L309.2 2743.3L436.5 2744L563.8 2744.9L691 2746.3L945.5 2755.1L1200 2767.4L1454.5 2778.6L1709 2789.1L1963.5 2797.8L2218 2805.3" stroke="#000000" stroke-width="3"/>
<path d="M182 2750.8L309.2 2751.3L436.5 2751.9L563.8 2752.7L691 2754L945.5 2762.5L1200 2774.5L1454.5 2785.4L1709 2795.5L1963.5 2804L2218 2811.2" stroke="#b8860b" stroke-width="2.7"/>
<path d="M182 2758L309.2 2758.4L436.5 2759L563.8 2759.7L691 2761L945.5 2769.2L1200 2780.9L1454.5 2791.4L1709 2801.3L1963.5 2809.5L2218 2816.5" stroke="#80ff00" stroke-width="2.7"/>
<path d="M182 2763.6L309.2 2764L436.5 2764.5L563.8 2765.3L691 2766.4L945.5 2774.4L1200 2785.9L1454.5 2796.2L1709 2805.9L1963.5 2813.9L2218 2820.7" stroke="#b8860b" stroke-width="3"/>
<path d="M182 2768.3L309.2 2768.6L436.5 2769.2L563.8 2769.9L691 2771L945.5 2778.8L1200 2790.1L1454.5 2800.2L1709 2809.7L1963.5 2817.5L2218 2824.2" stroke="#b8860b" stroke-width="2.7"/>
<path d="M182 2773L309.2 2773.3L436.5 2773.8L563.8 2774.5L691 2775.6L945.5 2783.2L1200 2794.3L1454.5 2804.2L1709 2813.5L1963.5 2821.2L2218 2827.7" stroke="#b8860b" stroke-width="3"/>
<path d="M182 2781.6L309.2 2781.9L436.5 2782.4L563.8 2783L691 2783.9L945.5 2791.3L1200 2801.9L1454.5 2811.5L1709 2820.4L1963.5 2827.8L2218 2834.1" stroke="#ff00aa" stroke-width="2.7"/>
<path d="M182 2789.5L309.2 2789.8L436.5 2790.2L563.8 2790.8L691 2791.7L945.5 2798.7L1200 2809L1454.5 2818.2L1709 2826.8L1963.5 2833.9L2218 2839.9" stroke="#aaaa00" stroke-width="3"/>
<path d="M182 2791.6L309.2 2791.9L436.5 2792.3L563.8 2792.9L691 2793.8L945.5 2800.7L1200 2810.9L1454.5 2820L1709 2828.6L1963.5 2835.6L2218 2841.5" stroke="#000000" stroke-width="2.7"/>
<path d="M182 2799.1L309.2 2799.4L436.5 2799.8L563.8 2800.3L691 2801.1L945.5 2807.8L1200 2817.6L1454.5 2826.4L1709 2834.6L1963.5 2841.4L2218 2847.1" stroke="#000000" stroke-width="2.7"/>
<path d="M182 2806.9L309.2 2807.2L436.5 2807.5L563.8 2808L691 2808.7L945.5 2815.1L1200 2824.6L1454.5 2833L1709 2840.9L1963.5 2847.4L2218 2852.9" stroke="#808080" stroke-width="2.7"/>
<path d="M182 2812.7L309.2 2813L436.5 2813.3L563.8 2813.7L691 2814.4L945.5 2820.6L1200 2829.8L1454.5 2838L1709 2845.7L1963.5 2851.9L2218 2857.2" stroke="#00aaaa" stroke-width="3"/>
<path d="M182 2817.4L309.2 2817.6L436.5 2817.9L563.8 2818.3L691 2819L945.5 2825L1200 2833.9L1454.5 2842L1709 2849.4L1963.5 2855.5L2218 2860.7" stroke="#000000" stroke-width="2.7"/>
<path d="M182 2819.2L309.2 2819.4L436.5 2819.7L563.8 2820.1L691 2820.8L945.5 2826.7L1200 2835.6L1454.5 2843.5L1709 2850.9L1963.5 2857L2218 2862.1" stroke="#800080" stroke-width="2.5"/>
<path d="M182 2821.9L309.2 2822.1L436.5 2822.4L563.8 2822.8L691 2823.4L945.5 2829.2L1200 2838L1454.5 2845.8L1709 2853.1L1963.5 2859L2218 2864" stroke="#008000" stroke-width="2.5"/>
<path d="M182 2824.9L309.2 2825.1L436.5 2825.4L563.8 2825.7L691 2826.3L945.5 2832.1L1200 2840.7L1454.5 2848.3L1709 2855.5L1963.5 2861.4L2218 2866.3" stroke="#000000" stroke-width="2.7"/>
<path d="M182 2838.2L309.2 2838.3L436.5 2838.6L563.8 2838.9L691 2839.4L945.5 2844.7L1200 2852.6L1454.5 2859.7L1709 2866.4L1963.5 2871.7L2218 2876.3" stroke="#000000" stroke-width="2.7"/>
<path d="M182 2844.8L309.2 2845L436.5 2845.2L563.8 2845.5L691 2845.9L945.5 2851L1200 2858.6L1454.5 2865.4L1709 2871.8L1963.5 2877L2218 2881.3" stroke="#000000" stroke-width="2.7"/>
<path d="M182 2854.3L309.2 2854.4L436.5 2854.6L563.8 2854.9L691 2855.3L945.5 2860L1200 2867.2L1454.5 2873.6L1709 2879.6L1963.5 2884.4L2218 2888.4" stroke="#ff00aa" stroke-width="2.7"/>
<path d="M182 2881.4L309.2 2881.5L436.5 2881.6L563.8 2881.8L691 2882L945.5 2885.8L1200 2891.7L1454.5 2897L1709 2901.9L1963.5 2905.8L2218 2909.1" stroke="#808080" stroke-width="2.7"/>
<path d="M182 2893L309.2 2893.1L436.5 2893.2L563.8 2893.3L691 2893.5L945.5 2896.9L1200 2902.3L1454.5 2907.1L1709 2911.5L1963.5 2915.1L2218 2918.1" stroke="#008000" stroke-width="2.5"/>
<path d="M182 2898L309.2 2898.1L436.5 2898.2L563.8 2898.3L691 2898.5L945.5 2901.7L1200 2906.9L1454.5 2911.4L1709 2915.7L1963.5 2919.1L2218 2921.9" stroke="#ff00ff" stroke-width="2.7"/>
<path d="M182 2905.8L309.2 2905.9L436.5 2906L563.8 2906.1L691 2906.2L945.5 2909.2L1200 2914L1454.5 2918.3L1709 2922.2L1963.5 2925.4L2218 2928" stroke="#808080" stroke-width="2.7"/>
<path d="M182 2911.3L309.2 2911.4L436.5 2911.4L563.8 2911.5L691 2911.7L945.5 2914.5L1200 2919L1454.5 2923.1L1709 2926.8L1963.5 2929.8L2218 2932.3" stroke="#000000" stroke-width="2.7"/>
<path d="M182 2914.1L309.2 2914.2L436.5 2914.2L563.8 2914.3L691 2914.5L945.5 2917.2L1200 2921.6L1454.5 2925.5L1709 2929.2L1963.5 2932.1L2218 2934.5" stroke="#000000" stroke-width="9"/>
<path d="M182 2917.1L309.2 2917.2L436.5 2917.2L563.8 2917.3L691 2917.4L945.5 2920.1L1200 2924.4L1454.5 2928.2L1709 2931.7L1963.5 2934.5L2218 2936.9" stroke="#000000" stroke-width="2.7"/>
<path d="M182 2939.9L309.2 2939.9L436.5 2939.9L563.8 2940L691 2940.1L945.5 2942.1L1200 2945.4L1454.5 2948.3L1709 2951.1L1963.5 2953.2L2218 2955" stroke="#ff00ff" stroke-width="2.7"/>
<path d="M182 2946.7L309.2 2946.7L436.5 2946.8L563.8 2946.8L691 2946.9L945.5 2948.7L1200 2951.7L1454.5 2954.4L1709 2956.9L1963.5 2958.9L2218 2960.5" stroke="#ff00aa" stroke-width="2.7"/>
<path d="M182 2951.9L309.2 2951.9L436.5 2951.9L563.8 2951.9L691 2952L945.5 2953.7L1200 2956.5L1454.5 2959L1709 2961.3L1963.5 2963.2L2218 2964.7" stroke="#00aaaa" stroke-width="3"/>
<path d="M182 2960.2L309.2 2960.2L436.5 2960.2L563.8 2960.2L691 2960.3L945.5 2961.8L1200 2964.2L1454.5 2966.5L1709 2968.5L1963.5 2970.1L2218 2971.4" stroke="#000000" stroke-width="2.7"/>
<path d="M182 2964.8L309.2 2964.8L436.5 2964.8L563.8 2964.9L691 2964.9L945.5 2966.3L1200 2968.6L1454.5 2970.6L1709 2972.5L1963.5 2974L2218 2975.3" stroke="#aaaa00" stroke-width="3"/>
<path d="M182 2974.8L309.2 2974.8L436.5 2974.8L563.8 2974.8L691 2974.8L945.5 2976L1200 2977.9L1454.5 2979.6L1709 2981.2L1963.5 2982.4L2218 2983.5" stroke="#ff00aa" stroke-width="2.7"/>
<path d="M182 2984.8L309.2 2984.8L436.5 2984.8L563.8 2984.8L691 2984.8L945.5 2985.7L1200 2987.2L1454.5 2988.6L1709 2989.9L1963.5 2990.9L2218 2991.7" stroke="#000000" stroke-width="2.7"/>
<path d="M182 3006.4L309.2 3006.4L436.5 3006.4L563.8 3006.4L691 3006.4L945.5 3006.8L1200 3007.6L1454.5 3008.3L1709 3008.9L1963.5 3009.4L2218 3009.8" stroke="#800080" stroke-width="2.7"/>
<path d="M182 3013.9L309.2 3013.9L436.5 3013.9L563.8 3013.9L691 3013.9L945.5 3014.2L1200 3014.7L1454.5 3015.1L1709 3015.6L1963.5 3015.9L2218 3016.2" stroke="#80ff00" stroke-width="2.7"/>
</g>
<g fill="none" stroke-width="7.4" stroke-dasharray="7 18.45">
<path d="M178.5 2199.6L182 2199.6L309.2 2205.8L436.5 2215.3L563.8 2230.1L691 2246.4L945.5 2274.7L1200 2302.5L1454.5 2331L1709 2359.6L1963.5 2387.9L2218 2415.9L2221.5 2415.9" pathLength="2043.0" stroke="#ff00ff"/>
<path d="M178.5 2203.6L182 2203.6L309.2 2209.8L436.5 2219.1L563.8 2233.8L691 2249.9L945.5 2278.1L1200 2305.9L1454.5 2334.4L1709 2362.9L1963.5 2391.1L2218 2418.9L2221.5 2418.9" pathLength="2043.0" stroke="#ff00ff"/>
<path d="M178.5 2214.4L182 2214.4L309.2 2220.4L436.5 2229.5L563.8 2243.7L691 2259.4L945.5 2287.4L1200 2315.1L1454.5 2343.5L1709 2371.8L1963.5 2399.7L2218 2427.1L2221.5 2427.1" pathLength="2043.0" stroke="#aaaa00"/>
<path d="M178.5 2226L182 2226L309.2 2231.8L436.5 2240.6L563.8 2254.3L691 2269.6L945.5 2297.3L1200 2325L1454.5 2353.3L1709 2381.4L1963.5 2408.9L2218 2436L2221.5 2436" pathLength="2043.0" stroke="#800080"/>
<path d="M178.5 2237.7L182 2237.7L309.2 2243.3L436.5 2251.8L563.8 2265L691 2279.8L945.5 2307.3L1200 2335L1454.5 2363L1709 2390.9L1963.5 2418.1L2218 2444.7L2221.5 2444.7" pathLength="2043.0" stroke="#000000"/>
<path d="M178.5 2247.6L182 2247.6L309.2 2253.1L436.5 2261.4L563.8 2274.2L691 2288.6L945.5 2315.9L1200 2343.5L1454.5 2371.4L1709 2399L1963.5 2425.9L2218 2452.2L2221.5 2452.2" pathLength="2043.0" stroke="#80ff00"/>
<path d="M178.5 2253.1L182 2253.1L309.2 2258.5L436.5 2266.6L563.8 2279.2L691 2293.5L945.5 2320.6L1200 2348.1L1454.5 2375.9L1709 2403.5L1963.5 2430.2L2218 2456.4L2221.5 2456.4" pathLength="2043.0" stroke="#000000"/>
<path d="M178.5 2259.3L182 2259.3L309.2 2264.5L436.5 2272.5L563.8 2284.9L691 2298.9L945.5 2325.9L1200 2353.4L1454.5 2381.1L1709 2408.5L1963.5 2435.1L2218 2461L2221.5 2461" pathLength="2043.0" stroke="#b8860b"/>
<path d="M178.5 2267.6L182 2267.6L309.2 2272.7L436.5 2280.5L563.8 2292.5L691 2306.3L945.5 2333L1200 2360.5L1454.5 2388L1709 2415.3L1963.5 2441.6L2218 2467.2L2221.5 2467.2" pathLength="2043.0" stroke="#000000"/>
<path d="M178.5 2275.9L182 2275.9L309.2 2280.9L436.5 2288.5L563.8 2300.2L691 2313.6L945.5 2340.2L1200 2367.5L1454.5 2395L1709 2422L1963.5 2448.1L2218 2473.4L2221.5 2473.4" pathLength="2043.0" stroke="#b8860b"/>
<path d="M178.5 2281.4L182 2281.4L309.2 2286.3L436.5 2293.8L563.8 2305.3L691 2318.5L945.5 2344.9L1200 2372.2L1454.5 2399.5L1709 2426.5L1963.5 2452.4L2218 2477.5L2221.5 2477.5" pathLength="2043.0" stroke="#80ff00"/>
<path d="M178.5 2285.5L182 2285.5L309.2 2290.4L436.5 2297.8L563.8 2309.1L691 2322.2L945.5 2348.5L1200 2375.8L1454.5 2403L1709 2429.8L1963.5 2455.6L2218 2480.5L2221.5 2480.5" pathLength="2043.0" stroke="#aaaa00"/>
<path d="M178.5 2292.2L182 2292.2L309.2 2297L436.5 2304.2L563.8 2315.3L691 2328.1L945.5 2354.2L1200 2381.4L1454.5 2408.5L1709 2435.2L1963.5 2460.8L2218 2485.5L2221.5 2485.5" pathLength="2043.0" stroke="#000000"/>
<path d="M178.5 2298.8L182 2298.8L309.2 2303.5L436.5 2310.6L563.8 2321.4L691 2334L945.5 2360L1200 2387.1L1454.5 2414.1L1709 2440.6L1963.5 2466L2218 2490.4L2221.5 2490.4" pathLength="2043.0" stroke="#808080"/>
<path d="M178.5 2307.1L182 2307.1L309.2 2311.7L436.5 2318.6L563.8 2329.1L691 2341.4L945.5 2367.1L1200 2394.2L1454.5 2421L1709 2447.3L1963.5 2472.4L2218 2496.6L2221.5 2496.6" pathLength="2043.0" stroke="#000000"/>
<path d="M178.5 2313L182 2313L309.2 2317.4L436.5 2324.2L563.8 2334.5L691 2346.6L945.5 2372.2L1200 2399.1L1454.5 2425.8L1709 2452L1963.5 2477L2218 2500.9L2221.5 2500.9" pathLength="2043.0" stroke="#00aaaa"/>
<path d="M178.5 2319.1L182 2319.1L309.2 2323.5L436.5 2330.1L563.8 2340.2L691 2352.1L945.5 2377.5L1200 2404.4L1454.5 2430.9L1709 2457L1963.5 2481.7L2218 2505.4L2221.5 2505.4" pathLength="2043.0" stroke="#ff00aa"/>
<path d="M178.5 2327.4L182 2327.4L309.2 2331.7L436.5 2338.1L563.8 2347.9L691 2359.5L945.5 2384.7L1200 2411.5L1454.5 2437.8L1709 2463.7L1963.5 2488.2L2218 2511.6L2221.5 2511.6" pathLength="2043.0" stroke="#808080"/>
<path d="M178.5 2337.1L182 2337.1L309.2 2341.2L436.5 2347.4L563.8 2356.9L691 2368.1L945.5 2393L1200 2419.7L1454.5 2445.9L1709 2471.5L1963.5 2495.7L2218 2518.7L2221.5 2518.7" pathLength="2043.0" stroke="#008000"/>
<path d="M178.5 2338.6L182 2338.6L309.2 2342.8L436.5 2349L563.8 2358.4L691 2369.6L945.5 2394.4L1200 2421L1454.5 2447.2L1709 2472.8L1963.5 2496.9L2218 2519.9L2221.5 2519.9" pathLength="2043.0" stroke="#008000"/>
<path d="M178.5 2347.5L182 2347.5L309.2 2351.4L436.5 2357.5L563.8 2366.6L691 2377.5L945.5 2402.1L1200 2428.6L1454.5 2454.5L1709 2479.9L1963.5 2503.7L2218 2526.4L2221.5 2526.4" pathLength="2043.0" stroke="#b8860b"/>
<path d="M178.5 2353.3L182 2353.3L309.2 2357.2L436.5 2363.1L563.8 2372L691 2382.7L945.5 2407.1L1200 2433.5L1454.5 2459.3L1709 2484.6L1963.5 2508.2L2218 2530.7L2221.5 2530.7" pathLength="2043.0" stroke="#00aaaa"/>
<path d="M178.5 2359.1L182 2359.1L309.2 2362.9L436.5 2368.7L563.8 2377.4L691 2387.9L945.5 2412.2L1200 2438.5L1454.5 2464.2L1709 2489.2L1963.5 2512.7L2218 2535L2221.5 2535" pathLength="2043.0" stroke="#008000"/>
<path d="M178.5 2365.2L182 2365.2L309.2 2369L436.5 2374.7L563.8 2383.2L691 2393.5L945.5 2417.5L1200 2443.8L1454.5 2469.3L1709 2494.2L1963.5 2517.5L2218 2539.5L2221.5 2539.5" pathLength="2043.0" stroke="#b8860b"/>
<path d="M178.5 2369.9L182 2369.9L309.2 2373.6L436.5 2379.2L563.8 2387.5L691 2397.7L945.5 2421.6L1200 2447.7L1454.5 2473.2L1709 2497.9L1963.5 2521.1L2218 2542.9L2221.5 2542.9" pathLength="2043.0" stroke="#ff00aa"/>
<path d="M178.5 2375.7L182 2375.7L309.2 2379.3L436.5 2384.8L563.8 2393L691 2402.9L945.5 2426.7L1200 2452.7L1454.5 2478L1709 2502.6L1963.5 2525.6L2218 2547.2L2221.5 2547.2" pathLength="2043.0" stroke="#aaaa00"/>
<path d="M178.5 2382.4L182 2382.4L309.2 2385.9L436.5 2391.2L563.8 2399.2L691 2409L945.5 2432.5L1200 2458.4L1454.5 2483.5L1709 2507.9L1963.5 2530.6L2218 2552L2221.5 2552" pathLength="2043.0" stroke="#008000"/>
<path d="M178.5 2393.5L182 2393.5L309.2 2396.9L436.5 2402L563.8 2409.6L691 2419L945.5 2442.2L1200 2467.8L1454.5 2492.7L1709 2516.8L1963.5 2539.1L2218 2560.1L2221.5 2560.1" pathLength="2043.0" stroke="#000000" stroke-width="12"/>
<path d="M178.5 2404L182 2404L309.2 2407.2L436.5 2412.1L563.8 2419.4L691 2428.5L945.5 2451.2L1200 2476.7L1454.5 2501.2L1709 2525L1963.5 2546.9L2218 2567.5L2221.5 2567.5" pathLength="2043.0" stroke="#808080"/>
<path d="M178.5 2411.8L182 2411.8L309.2 2414.9L436.5 2419.7L563.8 2426.8L691 2435.6L945.5 2458L1200 2483.3L1454.5 2507.6L1709 2531.1L1963.5 2552.7L2218 2573L2221.5 2573" pathLength="2043.0" stroke="#80ff00"/>
<path d="M178.5 2420.6L182 2420.6L309.2 2423.6L436.5 2428.2L563.8 2435L691 2443.5L945.5 2465.7L1200 2490.7L1454.5 2514.7L1709 2537.9L1963.5 2559.3L2218 2579.1L2221.5 2579.1" pathLength="2043.0" stroke="#80ff00"/>
<path d="M178.5 2425.9L182 2425.9L309.2 2428.9L436.5 2433.4L563.8 2440L691 2448.4L945.5 2470.3L1200 2495.2L1454.5 2519L1709 2542L1963.5 2563.2L2218 2582.8L2221.5 2582.8" pathLength="2043.0" stroke="#ff00ff"/>
<path d="M178.5 2432.5L182 2432.5L309.2 2435.5L436.5 2439.8L563.8 2446.3L691 2454.4L945.5 2476.1L1200 2500.8L1454.5 2524.4L1709 2547.2L1963.5 2568L2218 2587.4L2221.5 2587.4" pathLength="2043.0" stroke="#808080"/>
<path d="M178.5 2440L182 2440L309.2 2442.8L436.5 2447.1L563.8 2453.3L691 2461.2L945.5 2482.6L1200 2507L1454.5 2530.4L1709 2552.9L1963.5 2573.5L2218 2592.6L2221.5 2592.6" pathLength="2043.0" stroke="#000000"/>
<path d="M178.5 2452.2L182 2452.2L309.2 2454.8L436.5 2458.9L563.8 2464.7L691 2472.3L945.5 2493.1L1200 2517.2L1454.5 2540.2L1709 2562.2L1963.5 2582.3L2218 2600.9L2221.5 2600.9" pathLength="2043.0" stroke="#aaaa00"/>
<path d="M178.5 2467.5L182 2467.5L309.2 2469.9L436.5 2473.7L563.8 2479.2L691 2486.2L945.5 2506.5L1200 2530.1L1454.5 2552.4L1709 2573.9L1963.5 2593.4L2218 2611.4L2221.5 2611.4" pathLength="2043.0" stroke="#808080"/>
<path d="M178.5 2475.4L182 2475.4L309.2 2477.8L436.5 2481.5L563.8 2486.7L691 2493.5L945.5 2513.4L1200 2536.8L1454.5 2558.9L1709 2580L1963.5 2599.2L2218 2616.8L2221.5 2616.8" pathLength="2043.0" stroke="#000000"/>
<path d="M178.5 2480.7L182 2480.7L309.2 2483.1L436.5 2486.6L563.8 2491.8L691 2498.4L945.5 2518.1L1200 2541.3L1454.5 2563.1L1709 2584.1L1963.5 2603.1L2218 2620.4L2221.5 2620.4" pathLength="2043.0" stroke="#00aaaa"/>
<path d="M178.5 2486.6L182 2486.6L309.2 2488.9L436.5 2492.3L563.8 2497.3L691 2503.8L945.5 2523.2L1200 2546.1L1454.5 2567.8L1709 2588.6L1963.5 2607.3L2218 2624.4L2221.5 2624.4" pathLength="2043.0" stroke="#ff00aa"/>
<path d="M178.5 2492.5L182 2492.5L309.2 2494.7L436.5 2498L563.8 2502.9L691 2509.2L945.5 2528.4L1200 2551.1L1454.5 2572.5L1709 2593.1L1963.5 2611.5L2218 2628.4L2221.5 2628.4" pathLength="2043.0" stroke="#008000"/>
<path d="M178.5 2498.3L182 2498.3L309.2 2500.4L436.5 2503.7L563.8 2508.4L691 2514.6L945.5 2533.5L1200 2556L1454.5 2577.2L1709 2597.5L1963.5 2615.8L2218 2632.4L2221.5 2632.4" pathLength="2043.0" stroke="#aaaa00"/>
<path d="M178.5 2504.4L182 2504.4L309.2 2506.5L436.5 2509.7L563.8 2514.2L691 2520.2L945.5 2538.9L1200 2561.2L1454.5 2582.2L1709 2602.2L1963.5 2620.2L2218 2636.6L2221.5 2636.6" pathLength="2043.0" stroke="#000000"/>
<path d="M178.5 2511.1L182 2511.1L309.2 2513.1L436.5 2516.2L563.8 2520.6L691 2526.4L945.5 2544.8L1200 2566.8L1454.5 2587.5L1709 2607.3L1963.5 2625.1L2218 2641.2L2221.5 2641.2" pathLength="2043.0" stroke="#008000"/>
<path d="M178.5 2520.7L182 2520.7L309.2 2522.7L436.5 2525.6L563.8 2529.7L691 2535.3L945.5 2553.3L1200 2575L1454.5 2595.3L1709 2614.7L1963.5 2632.1L2218 2647.8L2221.5 2647.8" pathLength="2043.0" stroke="#000000" stroke-width="13"/>
<path d="M178.5 2534.8L182 2534.8L309.2 2536.6L436.5 2539.3L563.8 2543.2L691 2548.4L945.5 2565.7L1200 2586.8L1454.5 2606.5L1709 2625.3L1963.5 2642L2218 2657.1L2221.5 2657.1" pathLength="2043.0" stroke="#80ff00"/>
<path d="M178.5 2544.3L182 2544.3L309.2 2546L436.5 2548.6L563.8 2552.2L691 2557.2L945.5 2574L1200 2594.7L1454.5 2614L1709 2632.4L1963.5 2648.6L2218 2663.3L2221.5 2663.3" pathLength="2043.0" stroke="#800080"/>
<path d="M178.5 2555.1L182 2555.1L309.2 2556.7L436.5 2559.1L563.8 2562.5L691 2567.2L945.5 2583.5L1200 2603.7L1454.5 2622.5L1709 2640.3L1963.5 2656.1L2218 2670.3L2221.5 2670.3" pathLength="2043.0" stroke="#ff00ff"/>
<path d="M178.5 2560.1L182 2560.1L309.2 2561.7L436.5 2564L563.8 2567.3L691 2571.8L945.5 2587.9L1200 2607.9L1454.5 2626.4L1709 2644L1963.5 2659.5L2218 2673.5L2221.5 2673.5" pathLength="2043.0" stroke="#00aaaa"/>
<path d="M178.5 2566.8L182 2566.8L309.2 2568.3L436.5 2570.5L563.8 2573.7L691 2578L945.5 2593.8L1200 2613.4L1454.5 2631.6L1709 2648.9L1963.5 2664.1L2218 2677.8L2221.5 2677.8" pathLength="2043.0" stroke="#000000"/>
<path d="M178.5 2575.9L182 2575.9L309.2 2577.3L436.5 2579.4L563.8 2582.4L691 2586.6L945.5 2601.8L1200 2621L1454.5 2638.8L1709 2655.7L1963.5 2670.5L2218 2683.7L2221.5 2683.7" pathLength="2043.0" stroke="#008000"/>
<path d="M178.5 2585L182 2585L309.2 2586.4L436.5 2588.4L563.8 2591.2L691 2595.1L945.5 2610L1200 2628.7L1454.5 2646.1L1709 2662.5L1963.5 2676.9L2218 2689.7L2221.5 2689.7" pathLength="2043.0" stroke="#ff00ff"/>
<path d="M178.5 2593.9L182 2593.9L309.2 2595.1L436.5 2597L563.8 2599.7L691 2603.4L945.5 2617.8L1200 2636.2L1454.5 2653.1L1709 2669.2L1963.5 2683.2L2218 2695.6L2221.5 2695.6" pathLength="2043.0" stroke="#000000"/>
<path d="M178.5 2601.3L182 2601.3L309.2 2602.5L436.5 2604.4L563.8 2606.9L691 2610.4L945.5 2624.5L1200 2642.6L1454.5 2659.2L1709 2674.9L1963.5 2688.6L2218 2700.7L2221.5 2700.7" pathLength="2043.0" stroke="#b8860b"/>
<path d="M178.5 2624.6L182 2624.6L309.2 2625.6L436.5 2627.2L563.8 2629.4L691 2632.5L945.5 2645.6L1200 2662.7L1454.5 2678.4L1709 2693.2L1963.5 2705.9L2218 2717.2L2221.5 2717.2" pathLength="2043.0" stroke="#80ff00"/>
<path d="M178.5 2633.7L182 2633.7L309.2 2634.7L436.5 2636.2L563.8 2638.3L691 2641.2L945.5 2654L1200 2670.7L1454.5 2686L1709 2700.4L1963.5 2712.9L2218 2723.9L2221.5 2723.9" pathLength="2043.0" stroke="#008000"/>
<path d="M178.5 2642.5L182 2642.5L309.2 2643.4L436.5 2644.8L563.8 2646.7L691 2649.5L945.5 2662L1200 2678.3L1454.5 2693.3L1709 2707.4L1963.5 2719.6L2218 2730.3L2221.5 2730.3" pathLength="2043.0" stroke="#ff00aa"/>
<path d="M178.5 2651.9L182 2651.9L309.2 2652.8L436.5 2654.1L563.8 2656L691 2658.6L945.5 2670.7L1200 2686.7L1454.5 2701.3L1709 2715.1L1963.5 2726.9L2218 2737.2L2221.5 2737.2" pathLength="2043.0" stroke="#00aaaa"/>
<path d="M178.5 2656.6L182 2656.6L309.2 2657.4L436.5 2658.7L563.8 2660.5L691 2663L945.5 2674.9L1200 2690.8L1454.5 2705.2L1709 2718.8L1963.5 2730.5L2218 2740.7L2221.5 2740.7" pathLength="2043.0" stroke="#008000"/>
<path d="M178.5 2661.1L182 2661.1L309.2 2661.9L436.5 2663.2L563.8 2664.9L691 2667.3L945.5 2679.1L1200 2694.7L1454.5 2709L1709 2722.4L1963.5 2734L2218 2744L2221.5 2744" pathLength="2043.0" stroke="#80ff00"/>
<path d="M178.5 2666.9L182 2666.9L309.2 2667.7L436.5 2668.9L563.8 2670.5L691 2672.9L945.5 2684.4L1200 2699.9L1454.5 2713.9L1709 2727.2L1963.5 2738.5L2218 2748.3L2221.5 2748.3" pathLength="2043.0" stroke="#000000"/>
<path d="M178.5 2673.2L182 2673.2L309.2 2674L436.5 2675.1L563.8 2676.7L691 2679L945.5 2690.3L1200 2705.5L1454.5 2719.3L1709 2732.3L1963.5 2743.4L2218 2753L2221.5 2753" pathLength="2043.0" stroke="#80ff00"/>
<path d="M178.5 2679L182 2679L309.2 2679.8L436.5 2680.9L563.8 2682.4L691 2684.6L945.5 2695.7L1200 2710.6L1454.5 2724.2L1709 2737L1963.5 2747.9L2218 2757.4L2221.5 2757.4" pathLength="2043.0" stroke="#ff00aa"/>
<path d="M178.5 2684.8L182 2684.8L309.2 2685.6L436.5 2686.6L563.8 2688L691 2690.2L945.5 2701L1200 2715.8L1454.5 2729.2L1709 2741.8L1963.5 2752.4L2218 2761.7L2221.5 2761.7" pathLength="2043.0" stroke="#ff00ff"/>
<path d="M178.5 2691.8L182 2691.8L309.2 2692.5L436.5 2693.5L563.8 2694.9L691 2696.9L945.5 2707.5L1200 2722L1454.5 2735.1L1709 2747.4L1963.5 2757.9L2218 2767L2221.5 2767" pathLength="2043.0" stroke="#808080"/>
<path d="M178.5 2699.8L182 2699.8L309.2 2700.4L436.5 2701.4L563.8 2702.7L691 2704.6L945.5 2714.9L1200 2729.1L1454.5 2741.9L1709 2753.9L1963.5 2764.1L2218 2773L2221.5 2773" pathLength="2043.0" stroke="#008000"/>
<path d="M178.5 2709.8L182 2709.8L309.2 2710.4L436.5 2711.3L563.8 2712.4L691 2714.2L945.5 2724.2L1200 2737.9L1454.5 2750.4L1709 2762.1L1963.5 2771.9L2218 2780.4L2221.5 2780.4" pathLength="2043.0" stroke="#000000" stroke-width="10"/>
<path d="M178.5 2720.1L182 2720.1L309.2 2720.6L436.5 2721.4L563.8 2722.5L691 2724.2L945.5 2733.8L1200 2747.1L1454.5 2759.2L1709 2770.5L1963.5 2780L2218 2788.2L2221.5 2788.2" pathLength="2043.0" stroke="#808080"/>
<path d="M178.5 2729.7L182 2729.7L309.2 2730.2L436.5 2731L563.8 2732L691 2733.5L945.5 2742.8L1200 2755.7L1454.5 2767.4L1709 2778.3L1963.5 2787.5L2218 2795.4L2221.5 2795.4" pathLength="2043.0" stroke="#800080"/>
<path d="M178.5 2739.2L182 2739.2L309.2 2739.7L436.5 2740.4L563.8 2741.3L691 2742.7L945.5 2751.6L1200 2764.1L1454.5 2775.5L1709 2786L1963.5 2794.9L2218 2802.5L2221.5 2802.5" pathLength="2043.0" stroke="#000000" stroke-width="10"/>
<path d="M178.5 2750.8L182 2750.8L309.2 2751.3L436.5 2751.9L563.8 2752.7L691 2754L945.5 2762.5L1200 2774.5L1454.5 2785.4L1709 2795.5L1963.5 2804L2218 2811.2L2221.5 2811.2" pathLength="2043.0" stroke="#b8860b"/>
<path d="M178.5 2758L182 2758L309.2 2758.4L436.5 2759L563.8 2759.7L691 2761L945.5 2769.2L1200 2780.9L1454.5 2791.4L1709 2801.3L1963.5 2809.5L2218 2816.5L2221.5 2816.5" pathLength="2043.0" stroke="#80ff00"/>
<path d="M178.5 2768.3L182 2768.3L309.2 2768.6L436.5 2769.2L563.8 2769.9L691 2771L945.5 2778.8L1200 2790.1L1454.5 2800.2L1709 2809.7L1963.5 2817.5L2218 2824.2L2221.5 2824.2" pathLength="2043.0" stroke="#b8860b" stroke-width="12"/>
<path d="M178.5 2781.6L182 2781.6L309.2 2781.9L436.5 2782.4L563.8 2783L691 2783.9L945.5 2791.3L1200 2801.9L1454.5 2811.5L1709 2820.4L1963.5 2827.8L2218 2834.1L2221.5 2834.1" pathLength="2043.0" stroke="#ff00aa"/>
<path d="M178.5 2791.6L182 2791.6L309.2 2791.9L436.5 2792.3L563.8 2792.9L691 2793.8L945.5 2800.7L1200 2810.9L1454.5 2820L1709 2828.6L1963.5 2835.6L2218 2841.5L2221.5 2841.5" pathLength="2043.0" stroke="#000000"/>
<path d="M178.5 2799.1L182 2799.1L309.2 2799.4L436.5 2799.8L563.8 2800.3L691 2801.1L945.5 2807.8L1200 2817.6L1454.5 2826.4L1709 2834.6L1963.5 2841.4L2218 2847.1L2221.5 2847.1" pathLength="2043.0" stroke="#000000"/>
<path d="M178.5 2806.9L182 2806.9L309.2 2807.2L436.5 2807.5L563.8 2808L691 2808.7L945.5 2815.1L1200 2824.6L1454.5 2833L1709 2840.9L1963.5 2847.4L2218 2852.9L2221.5 2852.9" pathLength="2043.0" stroke="#808080"/>
<path d="M178.5 2817.4L182 2817.4L309.2 2817.6L436.5 2817.9L563.8 2818.3L691 2819L945.5 2825L1200 2833.9L1454.5 2842L1709 2849.4L1963.5 2855.5L2218 2860.7L2221.5 2860.7" pathLength="2043.0" stroke="#000000"/>
<path d="M178.5 2824.9L182 2824.9L309.2 2825.1L436.5 2825.4L563.8 2825.7L691 2826.3L945.5 2832.1L1200 2840.7L1454.5 2848.3L1709 2855.5L1963.5 2861.4L2218 2866.3L2221.5 2866.3" pathLength="2043.0" stroke="#000000"/>
<path d="M178.5 2838.2L182 2838.2L309.2 2838.3L436.5 2838.6L563.8 2838.9L691 2839.4L945.5 2844.7L1200 2852.6L1454.5 2859.7L1709 2866.4L1963.5 2871.7L2218 2876.3L2221.5 2876.3" pathLength="2043.0" stroke="#000000"/>
<path d="M178.5 2844.8L182 2844.8L309.2 2845L436.5 2845.2L563.8 2845.5L691 2845.9L945.5 2851L1200 2858.6L1454.5 2865.4L1709 2871.8L1963.5 2877L2218 2881.3L2221.5 2881.3" pathLength="2043.0" stroke="#000000"/>
<path d="M178.5 2854.3L182 2854.3L309.2 2854.4L436.5 2854.6L563.8 2854.9L691 2855.3L945.5 2860L1200 2867.2L1454.5 2873.6L1709 2879.6L1963.5 2884.4L2218 2888.4L2221.5 2888.4" pathLength="2043.0" stroke="#ff00aa"/>
<path d="M178.5 2881.4L182 2881.4L309.2 2881.5L436.5 2881.6L563.8 2881.8L691 2882L945.5 2885.8L1200 2891.7L1454.5 2897L1709 2901.9L1963.5 2905.8L2218 2909.1L2221.5 2909.1" pathLength="2043.0" stroke="#808080"/>
<path d="M178.5 2898L182 2898L309.2 2898.1L436.5 2898.2L563.8 2898.3L691 2898.5L945.5 2901.7L1200 2906.9L1454.5 2911.4L1709 2915.7L1963.5 2919.1L2218 2921.9L2221.5 2921.9" pathLength="2043.0" stroke="#ff00ff"/>
<path d="M178.5 2905.8L182 2905.8L309.2 2905.9L436.5 2906L563.8 2906.1L691 2906.2L945.5 2909.2L1200 2914L1454.5 2918.3L1709 2922.2L1963.5 2925.4L2218 2928L2221.5 2928" pathLength="2043.0" stroke="#808080"/>
<path d="M178.5 2911.3L182 2911.3L309.2 2911.4L436.5 2911.4L563.8 2911.5L691 2911.7L945.5 2914.5L1200 2919L1454.5 2923.1L1709 2926.8L1963.5 2929.8L2218 2932.3L2221.5 2932.3" pathLength="2043.0" stroke="#000000"/>
<path d="M178.5 2917.1L182 2917.1L309.2 2917.2L436.5 2917.2L563.8 2917.3L691 2917.4L945.5 2920.1L1200 2924.4L1454.5 2928.2L1709 2931.7L1963.5 2934.5L2218 2936.9L2221.5 2936.9" pathLength="2043.0" stroke="#000000"/>
<path d="M178.5 2939.9L182 2939.9L309.2 2939.9L436.5 2939.9L563.8 2940L691 2940.1L945.5 2942.1L1200 2945.4L1454.5 2948.3L1709 2951.1L1963.5 2953.2L2218 2955L2221.5 2955" pathLength="2043.0" stroke="#ff00ff"/>
<path d="M178.5 2946.7L182 2946.7L309.2 2946.7L436.5 2946.8L563.8 2946.8L691 2946.9L945.5 2948.7L1200 2951.7L1454.5 2954.4L1709 2956.9L1963.5 2958.9L2218 2960.5L2221.5 2960.5" pathLength="2043.0" stroke="#ff00aa"/>
<path d="M178.5 2960.2L182 2960.2L309.2 2960.2L436.5 2960.2L563.8 2960.2L691 2960.3L945.5 2961.8L1200 2964.2L1454.5 2966.5L1709 2968.5L1963.5 2970.1L2218 2971.4L2221.5 2971.4" pathLength="2043.0" stroke="#000000"/>
<path d="M178.5 2974.8L182 2974.8L309.2 2974.8L436.5 2974.8L563.8 2974.8L691 2974.8L945.5 2976L1200 2977.9L1454.5 2979.6L1709 2981.2L1963.5 2982.4L2218 2983.5L2221.5 2983.5" pathLength="2043.0" stroke="#ff00aa"/>
<path d="M178.5 2984.8L182 2984.8L309.2 2984.8L436.5 2984.8L563.8 2984.8L691 2984.8L945.5 2985.7L1200 2987.2L1454.5 2988.6L1709 2989.9L1963.5 2990.9L2218 2991.7L2221.5 2991.7" pathLength="2043.0" stroke="#000000"/>
<path d="M178.5 3006.4L182 3006.4L309.2 3006.4L436.5 3006.4L563.8 3006.4L691 3006.4L945.5 3006.8L1200 3007.6L1454.5 3008.3L1709 3008.9L1963.5 3009.4L2218 3009.8L2221.5 3009.8" pathLength="2043.0" stroke="#800080"/>
<path d="M178.5 3013.9L182 3013.9L309.2 3013.9L436.5 3013.9L563.8 3013.9L691 3013.9L945.5 3014.2L1200 3014.7L1454.5 3015.1L1709 3015.6L1963.5 3015.9L2218 3016.2L2221.5 3016.2" pathLength="2043.0" stroke="#80ff00"/>
</g>
<g fill="#fff" stroke-width="1.7">
<rect x="2215.5" y="2413.4" width="5" height="5" stroke="#ff00ff"/>
<rect x="2215.5" y="2416.4" width="5" height="5" stroke="#ff00ff"/>
<rect x="2215.5" y="2424.6" width="5" height="5" stroke="#aaaa00"/>
<rect x="2215.5" y="2433.5" width="5" height="5" stroke="#800080"/>
<rect x="2215.5" y="2442.2" width="5" height="5" stroke="#000000"/>
<rect x="2215.5" y="2449.7" width="5" height="5" stroke="#80ff00"/>
<rect x="2215.5" y="2453.9" width="5" height="5" stroke="#000000"/>
<rect x="2215.5" y="2458.5" width="5" height="5" stroke="#b8860b"/>
<rect x="2215.5" y="2464.7" width="5" height="5" stroke="#000000"/>
<rect x="2215.5" y="2470.9" width="5" height="5" stroke="#b8860b"/>
<rect x="2215.5" y="2475" width="5" height="5" stroke="#80ff00"/>
<rect x="2215.5" y="2478" width="5" height="5" stroke="#aaaa00"/>
<rect x="2215.5" y="2483" width="5" height="5" stroke="#000000"/>
<rect x="2215.5" y="2487.9" width="5" height="5" stroke="#808080"/>
<rect x="2215.5" y="2494.1" width="5" height="5" stroke="#000000"/>
<rect x="2215.5" y="2498.4" width="5" height="5" stroke="#00aaaa"/>
<rect x="2215.5" y="2502.9" width="5" height="5" stroke="#ff00aa"/>
<rect x="2215.5" y="2509.1" width="5" height="5" stroke="#808080"/>
<rect x="2215.5" y="2516.2" width="5" height="5" stroke="#008000"/>
<rect x="2215.5" y="2517.4" width="5" height="5" stroke="#008000"/>
<rect x="2215.5" y="2523.9" width="5" height="5" stroke="#b8860b"/>
<rect x="2215.5" y="2528.2" width="5" height="5" stroke="#00aaaa"/>
<rect x="2215.5" y="2532.5" width="5" height="5" stroke="#008000"/>
<rect x="2215.5" y="2537" width="5" height="5" stroke="#b8860b"/>
<rect x="2215.5" y="2540.4" width="5" height="5" stroke="#ff00aa"/>
<rect x="2215.5" y="2544.7" width="5" height="5" stroke="#aaaa00"/>
<rect x="2215.5" y="2549.5" width="5" height="5" stroke="#008000"/>
<rect x="2215.5" y="2557.6" width="5" height="5" stroke="#000000"/>
<rect x="2215.5" y="2565" width="5" height="5" stroke="#808080"/>
<rect x="2215.5" y="2570.5" width="5" height="5" stroke="#80ff00"/>
<rect x="2215.5" y="2576.6" width="5" height="5" stroke="#80ff00"/>
<rect x="2215.5" y="2580.3" width="5" height="5" stroke="#ff00ff"/>
<rect x="2215.5" y="2584.9" width="5" height="5" stroke="#808080"/>
<rect x="2215.5" y="2590.1" width="5" height="5" stroke="#000000"/>
<rect x="2215.5" y="2598.4" width="5" height="5" stroke="#aaaa00"/>
<rect x="2215.5" y="2608.9" width="5" height="5" stroke="#808080"/>
<rect x="2215.5" y="2614.3" width="5" height="5" stroke="#000000"/>
<rect x="2215.5" y="2617.9" width="5" height="5" stroke="#00aaaa"/>
<rect x="2215.5" y="2621.9" width="5" height="5" stroke="#ff00aa"/>
<rect x="2215.5" y="2625.9" width="5" height="5" stroke="#008000"/>
<rect x="2215.5" y="2629.9" width="5" height="5" stroke="#aaaa00"/>
<rect x="2215.5" y="2634.1" width="5" height="5" stroke="#000000"/>
<rect x="2215.5" y="2638.7" width="5" height="5" stroke="#008000"/>
<rect x="2215.5" y="2645.3" width="5" height="5" stroke="#000000"/>
<rect x="2215.5" y="2654.6" width="5" height="5" stroke="#80ff00"/>
<rect x="2215.5" y="2660.8" width="5" height="5" stroke="#800080"/>
<rect x="2215.5" y="2667.8" width="5" height="5" stroke="#ff00ff"/>
<rect x="2215.5" y="2671" width="5" height="5" stroke="#00aaaa"/>
<rect x="2215.5" y="2675.3" width="5" height="5" stroke="#000000"/>
<rect x="2215.5" y="2681.2" width="5" height="5" stroke="#008000"/>
<rect x="2215.5" y="2687.2" width="5" height="5" stroke="#ff00ff"/>
<rect x="2215.5" y="2693.1" width="5" height="5" stroke="#000000"/>
<rect x="2215.5" y="2698.2" width="5" height="5" stroke="#b8860b"/>
<rect x="2215.5" y="2714.7" width="5" height="5" stroke="#80ff00"/>
<rect x="2215.5" y="2721.4" width="5" height="5" stroke="#008000"/>
<rect x="2215.5" y="2727.8" width="5" height="5" stroke="#ff00aa"/>
<rect x="2215.5" y="2734.7" width="5" height="5" stroke="#00aaaa"/>
<rect x="2215.5" y="2738.2" width="5" height="5" stroke="#008000"/>
<rect x="2215.5" y="2741.5" width="5" height="5" stroke="#80ff00"/>
<rect x="2215.5" y="2745.8" width="5" height="5" stroke="#000000"/>
<rect x="2215.5" y="2750.5" width="5" height="5" stroke="#80ff00"/>
<rect x="2215.5" y="2754.9" width="5" height="5" stroke="#ff00aa"/>
<rect x="2215.5" y="2759.2" width="5" height="5" stroke="#ff00ff"/>
<rect x="2215.5" y="2764.5" width="5" height="5" stroke="#808080"/>
<rect x="2215.5" y="2770.5" width="5" height="5" stroke="#008000"/>
<rect x="2215.5" y="2777.9" width="5" height="5" stroke="#000000"/>
<rect x="2215.5" y="2785.7" width="5" height="5" stroke="#808080"/>
<rect x="2215.5" y="2792.9" width="5" height="5" stroke="#800080"/>
<rect x="2215.5" y="2800" width="5" height="5" stroke="#000000"/>
<rect x="2215.5" y="2808.7" width="5" height="5" stroke="#b8860b"/>
<rect x="2215.5" y="2814" width="5" height="5" stroke="#80ff00"/>
<rect x="2215.5" y="2821.7" width="5" height="5" stroke="#b8860b"/>
<rect x="2215.5" y="2831.6" width="5" height="5" stroke="#ff00aa"/>
<rect x="2215.5" y="2839" width="5" height="5" stroke="#000000"/>
<rect x="2215.5" y="2844.6" width="5" height="5" stroke="#000000"/>
<rect x="2215.5" y="2850.4" width="5" height="5" stroke="#808080"/>
<rect x="2215.5" y="2858.2" width="5" height="5" stroke="#000000"/>
<rect x="2215.5" y="2863.8" width="5" height="5" stroke="#000000"/>
<rect x="2215.5" y="2873.8" width="5" height="5" stroke="#000000"/>
<rect x="2215.5" y="2878.8" width="5" height="5" stroke="#000000"/>
<rect x="2215.5" y="2885.9" width="5" height="5" stroke="#ff00aa"/>
<rect x="2215.5" y="2906.6" width="5" height="5" stroke="#808080"/>
<rect x="2215.5" y="2919.4" width="5" height="5" stroke="#ff00ff"/>
<rect x="2215.5" y="2925.5" width="5" height="5" stroke="#808080"/>
<rect x="2215.5" y="2929.8" width="5" height="5" stroke="#000000"/>
<rect x="2215.5" y="2934.4" width="5" height="5" stroke="#000000"/>
<rect x="2215.5" y="2952.5" width="5" height="5" stroke="#ff00ff"/>
<rect x="2215.5" y="2958" width="5" height="5" stroke="#ff00aa"/>
<rect x="2215.5" y="2968.9" width="5" height="5" stroke="#000000"/>
<rect x="2215.5" y="2981" width="5" height="5" stroke="#ff00aa"/>
<rect x="2215.5" y="2989.2" width="5" height="5" stroke="#000000"/>
<rect x="2215.5" y="3007.3" width="5" height="5" stroke="#800080"/>
<rect x="2215.5" y="3013.7" width="5" height="5" stroke="#80ff00"/>
</g>
<text x="157.5" y="3044" class="t" text-anchor="end" textLength="21.1" lengthAdjust="spacingAndGlyphs">0</text>
<text x="157.5" y="2961.4" class="t" text-anchor="end" textLength="21.1" lengthAdjust="spacingAndGlyphs">3</text>
<text x="157.5" y="2878.7" class="t" text-anchor="end" textLength="21.1" lengthAdjust="spacingAndGlyphs">6</text>
<text x="157.5" y="2796.1" class="t" text-anchor="end" textLength="21.1" lengthAdjust="spacingAndGlyphs">9</text>
<text x="157.5" y="2713.4" class="t" text-anchor="end" textLength="42.3" lengthAdjust="spacingAndGlyphs">12</text>
<text x="157.5" y="2630.8" class="t" text-anchor="end" textLength="42.3" lengthAdjust="spacingAndGlyphs">15</text>
<text x="157.5" y="2548.1" class="t" text-anchor="end" textLength="42.3" lengthAdjust="spacingAndGlyphs">18</text>
<text x="157.5" y="2465.5" class="t" text-anchor="end" textLength="42.3" lengthAdjust="spacingAndGlyphs">21</text>
<text x="157.5" y="2382.8" class="t" text-anchor="end" textLength="42.3" lengthAdjust="spacingAndGlyphs">24</text>
<text x="157.5" y="2300.2" class="t" text-anchor="end" textLength="42.3" lengthAdjust="spacingAndGlyphs">27</text>
<text x="157.5" y="2217.5" class="t" text-anchor="end" textLength="42.3" lengthAdjust="spacingAndGlyphs">30</text>
<text x="157.5" y="2134.9" class="t" text-anchor="end" textLength="42.3" lengthAdjust="spacingAndGlyphs">33</text>
<text x="1197.6" y="2105.3" class="t" text-anchor="middle" textLength="579" lengthAdjust="spacingAndGlyphs">100*(V(b4)-(V(b2)-V(b3)))/V(b4)</text>
<text x="1935" y="2342" class="s" text-anchor="middle">c)</text>
</g>
<g id="plot4">
<path d="M691 3089.9V4002.2M1200 3089.9V4002.2M1709 3089.9V4002.2M185 3774.1H2217M185 3545.1H2217M185 3316H2217" class="gr"/>
<path d="M161.6 3774.1H182M161.6 3545.1H182M161.6 3316H182M691 4003.2V4023.6M1200 4003.2V4023.6M1709 4003.2V4023.6" class="fr"/>
<path d="M161.6 3086.9H2219M161.6 4003.2H2219M182 3086.9V4023.6M2218 3086.9V4023.6" class="fr"/>
<path d="M182 3429.2L207.4 3420.2L232.9 3411.2L258.4 3402.3L283.8 3393.5L309.2 3384.8L334.7 3376.2L360.1 3367.6L385.6 3359.2L411.1 3350.9L436.5 3342.6L462 3334.5L487.4 3326.5L512.9 3318.7L538.3 3310.9L563.8 3303.2L589.2 3295.6L614.6 3287.9L640.1 3280.3L665.5 3272.6L691 3264.8L716.5 3256.8L741.9 3248.6L767.3 3240.6L792.8 3233L818.2 3226.2L843.7 3219.7L869.2 3213.6L894.6 3207.8L920 3202.2L945.5 3196.6L971 3191L996.4 3185.9L1021.8 3181.5L1047.3 3178L1072.8 3174.9L1098.2 3172.1L1123.7 3169.3L1149.1 3166L1174.5 3162.4L1200 3160.7L1225.4 3160.7L1250.9 3160.8L1276.3 3161.1L1301.8 3161.5L1327.2 3162L1352.7 3162.7L1378.2 3165L1403.6 3169.1L1429.1 3174.1L1454.5 3179.2L1479.9 3184.4L1505.4 3190.1L1530.8 3196.6L1556.3 3203.7L1581.8 3211.6L1607.2 3220.7L1632.7 3231.2L1658.1 3243.7L1683.6 3259.1L1709 3275.8L1734.4 3294.1L1759.9 3313.5L1785.3 3332.7L1810.8 3351.9L1836.2 3372L1861.7 3392.9L1887.2 3416.2L1912.6 3445.6L1938.1 3475.3L1963.5 3500.4L1988.9 3532.7L2014.4 3568.4L2039.8 3600.4L2065.3 3636.3L2090.8 3674.2L2116.2 3715.4L2141.7 3757.6L2167.1 3798.5L2192.6 3849.4L2218 3896.5L2218 3603.3L2192.6 3564.3L2167.1 3526.9L2141.7 3493.9L2116.2 3462.3L2090.8 3431.8L2065.3 3402.9L2039.8 3375.9L2014.4 3351L1988.9 3326.3L1963.5 3303.4L1938.1 3283.3L1912.6 3263.2L1887.2 3244L1861.7 3227.2L1836.2 3212.3L1810.8 3198.7L1785.3 3185.8L1759.9 3173.7L1734.4 3162.5L1709 3152.5L1683.6 3143.9L1658.1 3136.6L1632.7 3130.6L1607.2 3125.3L1581.8 3120.7L1556.3 3117.1L1530.8 3114.1L1505.4 3111.4L1479.9 3109.2L1454.5 3107.7L1429.1 3106.9L1403.6 3106.3L1378.2 3106.2L1352.7 3106.7L1327.2 3108L1301.8 3110.5L1276.3 3113.8L1250.9 3117.7L1225.4 3121.8L1200 3125.7L1174.5 3129.9L1149.1 3134.7L1123.7 3139.6L1098.2 3144.2L1072.8 3148.8L1047.3 3153.7L1021.8 3158.8L996.4 3164.5L971 3170.5L945.5 3176.9L920 3183.5L894.6 3190.4L869.2 3197.5L843.7 3205L818.2 3212.7L792.8 3220.7L767.3 3229.2L741.9 3238.1L716.5 3247.1L691 3255.8L665.5 3264.3L640.1 3272.6L614.6 3280.8L589.2 3289L563.8 3297.2L538.3 3305.3L512.9 3313.6L487.4 3321.8L462 3330.2L436.5 3338.7L411.1 3347.4L385.6 3356L360.1 3364.8L334.7 3373.6L309.2 3382.5L283.8 3391.5L258.4 3400.5L232.9 3409.6L207.4 3418.8L182 3428Z" fill="#000"/>
<g fill="none" stroke-width="2.4" stroke-linejoin="round">
<path d="M182 3429.3 207.4 3420.2 232.9 3411.2 258.4 3402.3 283.8 3393.5 309.2 3384.8 334.7 3376.2 360.1 3367.7 385.6 3359.2 411.1 3350.9 436.5 3342.7 462 3334.5 487.4 3326.6 512.9 3318.7 538.3 3311 563.8 3303.3 589.2 3295.6 614.6 3288 640.1 3280.4 665.5 3272.7 691 3264.9 716.5 3256.9 741.9 3248.7 767.3 3240.7 792.8 3233.2 818.2 3226.3 843.7 3219.9 869.2 3213.8 894.6 3208 920 3202.4 945.5 3196.8 971 3191.3 996.4 3186.1 1021.8 3181.8 1047.3 3178.3 1072.8 3175.3 1098.2 3172.5 1123.7 3169.7 1149.1 3166.4 1174.5 3162.8 1200 3161.1 1225.4 3161.2 1250.9 3161.4 1276.3 3161.7 1301.8 3162.2 1327.2 3162.7 1352.7 3163.4 1378.2 3165.7 1403.6 3169.9 1429.1 3175 1454.5 3180.1 1479.9 3185.3 1505.4 3191.1 1530.8 3197.6 1556.3 3204.8 1581.8 3212.8 1607.2 3221.9 1632.7 3232.5 1658.1 3245.1 1683.6 3260.6 1709 3277.4 1734.4 3295.8 1759.9 3315.2 1785.3 3334.6 1810.8 3353.8 1836.2 3374 1861.7 3395 1887.2 3418.4 1912.6 3447.9 1938.1 3477.7 1963.5 3502.9 1988.9 3535.3 2014.4 3571.2 2039.8 3603.2 2065.3 3639.3 2090.8 3677.2 2116.2 3718.6 2141.7 3760.9 2167.1 3802 2192.6 3853 2218 3900.2" stroke="#ff00ff" marker-start="url(#mM)" marker-mid="url(#mM)" marker-end="url(#eM)"/>
<path d="M182 3427.8 207.4 3418.6 232.9 3409.4 258.4 3400.3 283.8 3391.2 309.2 3382.2 334.7 3373.3 360.1 3364.4 385.6 3355.6 411.1 3346.9 436.5 3338.2 462 3329.6 487.4 3321.2 512.9 3312.9 538.3 3304.6 563.8 3296.4 589.2 3288.2 614.6 3279.9 640.1 3271.6 665.5 3263.2 691 3254.6 716.5 3245.8 741.9 3236.7 767.3 3227.7 792.8 3219 818.2 3210.9 843.7 3203 869.2 3195.4 894.6 3188 920 3181 945.5 3174.3 971 3167.8 996.4 3161.6 1021.8 3155.8 1047.3 3150.4 1072.8 3145.4 1098.2 3140.5 1123.7 3135.6 1149.1 3130.6 1174.5 3125.6 1200 3121 1225.4 3116.6 1250.9 3112 1276.3 3107.6 1301.8 3103.7 1327.2 3100.8 1352.7 3099.2 1378.2 3098.4 1403.6 3098 1429.1 3097.9 1454.5 3098.2 1479.9 3099.2 1505.4 3100.9 1530.8 3103.1 1556.3 3105.6 1581.8 3108.6 1607.2 3112.6 1632.7 3117.2 1658.1 3122.4 1683.6 3128.6 1709 3136.1 1734.4 3145 1759.9 3155.1 1785.3 3166.3 1810.8 3178.3 1836.2 3191.1 1861.7 3205.1 1887.2 3221.1 1912.6 3239 1938.1 3257.8 1963.5 3277.2 1988.9 3298.9 2014.4 3322.1 2039.8 3346 2065.3 3371.9 2090.8 3399.6 2116.2 3428.7 2141.7 3458.9 2167.1 3490.8 2192.6 3526.4 2218 3564.3" stroke="#000000" marker-start="url(#mK)" marker-mid="url(#mK)" marker-end="url(#eK)"/>
<path d="M182 3428.6 207.4 3419.5 232.9 3410.4 258.4 3401.5 283.8 3392.5 309.2 3383.7 334.7 3375 360.1 3366.3 385.6 3357.7 411.1 3349.2 436.5 3340.8 462 3332.4 487.4 3324.3 512.9 3316.2 538.3 3308.3 563.8 3300.3 589.2 3292.4 614.6 3284.5 640.1 3276.6 665.5 3268.6 691 3260.5 716.5 3252.1 741.9 3243.6 767.3 3235.2 792.8 3227.1 818.2 3219.7 843.7 3212.7 869.2 3205.9 894.6 3199.5 920 3193.2 945.5 3187.2 971 3181.2 996.4 3175.6 1021.8 3170.7 1047.3 3166.4 1072.8 3162.5 1098.2 3158.8 1123.7 3155.1 1149.1 3151 1174.5 3146.8 1200 3143.9 1225.4 3142.1 1250.9 3140.2 1276.3 3138.5 1301.8 3137.1 1327.2 3136.2 1352.7 3135.9 1378.2 3136.9 1403.6 3139.1 1429.1 3142 1454.5 3145.1 1479.9 3148.4 1505.4 3152.5 1530.8 3157.1 1556.3 3162.3 1581.8 3168.2 1607.2 3175.1 1632.7 3183.1 1658.1 3192.6 1683.6 3204.1 1709 3216.9 1734.4 3231.2 1759.9 3246.7 1785.3 3262.5 1810.8 3278.7 1836.2 3295.7 1861.7 3313.7 1887.2 3333.9 1912.6 3358.4 1938.1 3383.5 1963.5 3406.3 1988.9 3434.1 2014.4 3464.5 2039.8 3493.1 2065.3 3524.8 2090.8 3558.3 2116.2 3594.4 2141.7 3631.6 2167.1 3668.7 2192.6 3713.1 2218 3756.4" stroke="#808080" marker-start="url(#mGy)" marker-mid="url(#mGy)" marker-end="url(#eGy)"/>
<path d="M182 3429.2 207.4 3420.1 232.9 3411.1 258.4 3402.2 283.8 3393.4 309.2 3384.7 334.7 3376 360.1 3367.5 385.6 3359 411.1 3350.7 436.5 3342.4 462 3334.3 487.4 3326.3 512.9 3318.4 538.3 3310.6 563.8 3302.9 589.2 3295.2 614.6 3287.6 640.1 3279.9 665.5 3272.1 691 3264.3 716.5 3256.3 741.9 3248.1 767.3 3240 792.8 3232.4 818.2 3225.5 843.7 3219 869.2 3212.8 894.6 3206.9 920 3201.2 945.5 3195.6 971 3190 996.4 3184.8 1021.8 3180.3 1047.3 3176.7 1072.8 3173.6 1098.2 3170.7 1123.7 3167.8 1149.1 3164.4 1174.5 3160.7 1200 3158.9 1225.4 3158.7 1250.9 3158.7 1276.3 3158.7 1301.8 3158.9 1327.2 3159.3 1352.7 3159.9 1378.2 3162 1403.6 3165.9 1429.1 3170.7 1454.5 3175.6 1479.9 3180.6 1505.4 3186.1 1530.8 3192.4 1556.3 3199.3 1581.8 3207 1607.2 3215.9 1632.7 3226.1 1658.1 3238.3 1683.6 3253.3 1709 3269.5 1734.4 3287.5 1759.9 3306.4 1785.3 3325.3 1810.8 3344.1 1836.2 3363.9 1861.7 3384.6 1887.2 3407.5 1912.6 3436.4 1938.1 3465.5 1963.5 3490.4 1988.9 3522.2 2014.4 3557.4 2039.8 3589 2065.3 3624.5 2090.8 3661.9 2116.2 3702.6 2141.7 3744.2 2167.1 3784.8 2192.6 3834.9 2218 3881.7" stroke="#008000" marker-start="url(#mG)" marker-mid="url(#mG)" marker-end="url(#eG)"/>
<path d="M182 3429 207.4 3419.9 232.9 3410.8 258.4 3401.9 283.8 3393.1 309.2 3384.3 334.7 3375.6 360.1 3367 385.6 3358.5 411.1 3350.1 436.5 3341.7 462 3333.5 487.4 3325.5 512.9 3317.5 538.3 3309.7 563.8 3301.9 589.2 3294.1 614.6 3286.3 640.1 3278.5 665.5 3270.7 691 3262.8 716.5 3254.6 741.9 3246.3 767.3 3238 792.8 3230.3 818.2 3223.1 843.7 3216.4 869.2 3210 894.6 3203.9 920 3198 945.5 3192.2 971 3186.4 996.4 3181.1 1021.8 3176.4 1047.3 3172.5 1072.8 3169.1 1098.2 3165.9 1123.7 3162.7 1149.1 3158.9 1174.5 3155.1 1200 3152.8 1225.4 3152 1250.9 3151.2 1276.3 3150.5 1301.8 3150 1327.2 3149.9 1352.7 3150.1 1378.2 3151.8 1403.6 3155 1429.1 3159 1454.5 3163.1 1479.9 3167.5 1505.4 3172.4 1530.8 3178 1556.3 3184.2 1581.8 3191.2 1607.2 3199.3 1632.7 3208.6 1658.1 3219.7 1683.6 3233.2 1709 3248.1 1734.4 3264.5 1759.9 3282.1 1785.3 3299.7 1810.8 3317.5 1836.2 3336.1 1861.7 3355.7 1887.2 3377.5 1912.6 3404.6 1938.1 3432.1 1963.5 3456.1 1988.9 3486.3 2014.4 3519.6 2039.8 3549.9 2065.3 3583.9 2090.8 3619.7 2116.2 3658.5 2141.7 3698.4 2167.1 3737.5 2192.6 3785.3 2218 3830.6" stroke="#80ff00" marker-start="url(#mL)" marker-mid="url(#mL)" marker-end="url(#eL)"/>
<path d="M182 3428.8 207.4 3419.7 232.9 3410.7 258.4 3401.7 283.8 3392.8 309.2 3384 334.7 3375.3 360.1 3366.7 385.6 3358.1 411.1 3349.7 436.5 3341.3 462 3333.1 487.4 3324.9 512.9 3317 538.3 3309 563.8 3301.2 589.2 3293.4 614.6 3285.5 640.1 3277.7 665.5 3269.8 691 3261.8 716.5 3253.5 741.9 3245.1 767.3 3236.8 792.8 3228.9 818.2 3221.6 843.7 3214.8 869.2 3208.2 894.6 3201.9 920 3195.9 945.5 3190 971 3184.2 996.4 3178.7 1021.8 3173.9 1047.3 3169.8 1072.8 3166.2 1098.2 3162.8 1123.7 3159.4 1149.1 3155.5 1174.5 3151.5 1200 3148.9 1225.4 3147.6 1250.9 3146.4 1276.3 3145.3 1301.8 3144.4 1327.2 3143.9 1352.7 3143.9 1378.2 3145.3 1403.6 3148 1429.1 3151.6 1454.5 3155.2 1479.9 3159.1 1505.4 3163.7 1530.8 3168.9 1556.3 3174.6 1581.8 3181.1 1607.2 3188.7 1632.7 3197.4 1658.1 3207.8 1683.6 3220.5 1709 3234.4 1734.4 3250 1759.9 3266.6 1785.3 3283.4 1810.8 3300.5 1836.2 3318.4 1861.7 3337.3 1887.2 3358.5 1912.6 3384.4 1938.1 3410.9 1963.5 3434.3 1988.9 3463.5 2014.4 3495.5 2039.8 3525.1 2065.3 3558 2090.8 3592.9 2116.2 3630.5 2141.7 3669.2 2167.1 3707.4 2192.6 3753.7 2218 3798.1" stroke="#80ff00" marker-start="url(#mL)" marker-mid="url(#mL)" marker-end="url(#eL)"/>
<path d="M182 3428.2 207.4 3419 232.9 3409.9 258.4 3400.8 283.8 3391.8 309.2 3382.9 334.7 3374.1 360.1 3365.3 385.6 3356.6 411.1 3348 436.5 3339.4 462 3331 487.4 3322.6 512.9 3314.4 538.3 3306.3 563.8 3298.2 589.2 3290.2 614.6 3282.1 640.1 3273.9 665.5 3265.7 691 3257.4 716.5 3248.8 741.9 3240 767.3 3231.2 792.8 3222.8 818.2 3215 843.7 3207.5 869.2 3200.3 894.6 3193.4 920 3186.7 945.5 3180.3 971 3174.1 996.4 3168.2 1021.8 3162.8 1047.3 3157.9 1072.8 3153.4 1098.2 3149.1 1123.7 3144.7 1149.1 3140.2 1174.5 3135.5 1200 3131.8 1225.4 3128.6 1250.9 3125.2 1276.3 3122.1 1301.8 3119.4 1327.2 3117.4 1352.7 3116.4 1378.2 3116.5 1403.6 3117.3 1429.1 3118.6 1454.5 3120.2 1479.9 3122.3 1505.4 3125.1 1530.8 3128.4 1556.3 3132.1 1581.8 3136.5 1607.2 3141.9 1632.7 3148.1 1658.1 3155.3 1683.6 3164 1709 3173.9 1734.4 3185.4 1759.9 3198 1785.3 3211.4 1810.8 3225.3 1836.2 3240.1 1861.7 3256 1887.2 3274 1912.6 3294.9 1938.1 3316.7 1963.5 3337.7 1988.9 3362.2 2014.4 3388.9 2039.8 3415 2065.3 3443.5 2090.8 3474 2116.2 3506.3 2141.7 3539.8 2167.1 3574.2 2192.6 3613.9 2218 3654.3" stroke="#ff00ff" marker-start="url(#mM)" marker-mid="url(#mM)" marker-end="url(#eM)"/>
<path d="M182 3428.3 207.4 3419.1 232.9 3410 258.4 3400.9 283.8 3391.9 309.2 3383 334.7 3374.2 360.1 3365.4 385.6 3356.7 411.1 3348.1 436.5 3339.6 462 3331.2 487.4 3322.9 512.9 3314.7 538.3 3306.6 563.8 3298.5 589.2 3290.5 614.6 3282.4 640.1 3274.3 665.5 3266.1 691 3257.8 716.5 3249.2 741.9 3240.5 767.3 3231.8 792.8 3223.4 818.2 3215.7 843.7 3208.2 869.2 3201.1 894.6 3194.2 920 3187.6 945.5 3181.2 971 3175.1 996.4 3169.2 1021.8 3163.9 1047.3 3159.1 1072.8 3154.6 1098.2 3150.4 1123.7 3146.2 1149.1 3141.7 1174.5 3137.1 1200 3133.4 1225.4 3130.4 1250.9 3127.3 1276.3 3124.3 1301.8 3121.8 1327.2 3119.9 1352.7 3119.1 1378.2 3119.3 1403.6 3120.2 1429.1 3121.8 1454.5 3123.6 1479.9 3125.8 1505.4 3128.8 1530.8 3132.3 1556.3 3136.3 1581.8 3140.8 1607.2 3146.4 1632.7 3152.9 1658.1 3160.3 1683.6 3169.4 1709 3179.8 1734.4 3191.6 1759.9 3204.7 1785.3 3218.4 1810.8 3232.6 1836.2 3247.7 1861.7 3263.9 1887.2 3282.1 1912.6 3303.6 1938.1 3325.8 1963.5 3347 1988.9 3372 2014.4 3399.2 2039.8 3425.6 2065.3 3454.6 2090.8 3485.5 2116.2 3518.4 2141.7 3552.3 2167.1 3587.1 2192.6 3627.4 2218 3668.2" stroke="#80ff00" marker-start="url(#mL)" marker-mid="url(#mL)" marker-end="url(#eL)"/>
<path d="M182 3427.8 207.4 3418.5 232.9 3409.4 258.4 3400.2 283.8 3391.2 309.2 3382.2 334.7 3373.2 360.1 3364.4 385.6 3355.5 411.1 3346.8 436.5 3338.1 462 3329.5 487.4 3321.1 512.9 3312.7 538.3 3304.5 563.8 3296.2 589.2 3288 614.6 3279.7 640.1 3271.4 665.5 3263 691 3254.4 716.5 3245.5 741.9 3236.5 767.3 3227.4 792.8 3218.7 818.2 3210.5 843.7 3202.6 869.2 3195 894.6 3187.6 920 3180.5 945.5 3173.7 971 3167.2 996.4 3161.1 1021.8 3155.2 1047.3 3149.8 1072.8 3144.7 1098.2 3139.7 1123.7 3134.8 1149.1 3129.8 1174.5 3124.7 1200 3120.1 1225.4 3115.6 1250.9 3110.8 1276.3 3106.3 1301.8 3102.3 1327.2 3099.3 1352.7 3097.7 1378.2 3096.9 1403.6 3096.3 1429.1 3096.2 1454.5 3096.3 1479.9 3097.2 1505.4 3098.8 1530.8 3100.9 1556.3 3103.3 1581.8 3106.2 1607.2 3110.1 1632.7 3114.5 1658.1 3119.5 1683.6 3125.6 1709 3132.8 1734.4 3141.5 1759.9 3151.4 1785.3 3162.4 1810.8 3174.2 1836.2 3186.8 1861.7 3200.7 1887.2 3216.5 1912.6 3234.1 1938.1 3252.7 1963.5 3272 1988.9 3293.4 2014.4 3316.3 2039.8 3340.1 2065.3 3365.7 2090.8 3393.1 2116.2 3421.9 2141.7 3451.9 2167.1 3483.6 2192.6 3518.8 2218 3556.5" stroke="#ff00aa" marker-start="url(#mPk)" marker-mid="url(#mPk)" marker-end="url(#ePk)"/>
<path d="M182 3428.3 207.4 3419.1 232.9 3410 258.4 3401 283.8 3392 309.2 3383.1 334.7 3374.3 360.1 3365.6 385.6 3356.9 411.1 3348.3 436.5 3339.8 462 3331.4 487.4 3323.1 512.9 3314.9 538.3 3306.8 563.8 3298.8 589.2 3290.8 614.6 3282.7 640.1 3274.7 665.5 3266.5 691 3258.2 716.5 3249.7 741.9 3241 767.3 3232.3 792.8 3224 818.2 3216.3 843.7 3208.9 869.2 3201.9 894.6 3195.1 920 3188.5 945.5 3182.2 971 3176 996.4 3170.2 1021.8 3164.9 1047.3 3160.2 1072.8 3155.9 1098.2 3151.7 1123.7 3147.6 1149.1 3143.1 1174.5 3138.6 1200 3135.1 1225.4 3132.2 1250.9 3129.3 1276.3 3126.6 1301.8 3124.2 1327.2 3122.5 1352.7 3121.7 1378.2 3122 1403.6 3123.2 1429.1 3125 1454.5 3127 1479.9 3129.4 1505.4 3132.6 1530.8 3136.3 1556.3 3140.4 1581.8 3145.2 1607.2 3151 1632.7 3157.6 1658.1 3165.4 1683.6 3174.9 1709 3185.6 1734.4 3197.9 1759.9 3211.3 1785.3 3225.3 1810.8 3239.9 1836.2 3255.2 1861.7 3271.8 1887.2 3290.3 1912.6 3312.3 1938.1 3334.9 1963.5 3356.4 1988.9 3381.8 2014.4 3409.5 2039.8 3436.3 2065.3 3465.7 2090.8 3497 2116.2 3530.4 2141.7 3564.9 2167.1 3600 2192.6 3641 2218 3682.1" stroke="#800080" marker-start="url(#mP)" marker-mid="url(#mP)" marker-end="url(#eP)"/>
<path d="M182 3428.1 207.4 3418.9 232.9 3409.8 258.4 3400.7 283.8 3391.7 309.2 3382.8 334.7 3373.9 360.1 3365.1 385.6 3356.3 411.1 3347.7 436.5 3339.1 462 3330.6 487.4 3322.3 512.9 3314 538.3 3305.9 563.8 3297.8 589.2 3289.6 614.6 3281.5 640.1 3273.3 665.5 3265.1 691 3256.7 716.5 3248 741.9 3239.1 767.3 3230.3 792.8 3221.9 818.2 3214 843.7 3206.4 869.2 3199.1 894.6 3192 920 3185.3 945.5 3178.7 971 3172.5 996.4 3166.5 1021.8 3161 1047.3 3156 1072.8 3151.3 1098.2 3146.8 1123.7 3142.4 1149.1 3137.7 1174.5 3133 1200 3129 1225.4 3125.5 1250.9 3121.8 1276.3 3118.3 1301.8 3115.3 1327.2 3113.1 1352.7 3112 1378.2 3111.8 1403.6 3112.3 1429.1 3113.3 1454.5 3114.5 1479.9 3116.3 1505.4 3118.9 1530.8 3121.9 1556.3 3125.3 1581.8 3129.3 1607.2 3134.3 1632.7 3140.1 1658.1 3146.8 1683.6 3154.9 1709 3164.2 1734.4 3175 1759.9 3187 1785.3 3199.8 1810.8 3213.2 1836.2 3227.4 1861.7 3242.9 1887.2 3260.3 1912.6 3280.5 1938.1 3301.5 1963.5 3322.1 1988.9 3345.9 2014.4 3371.7 2039.8 3397.2 2065.3 3425 2090.8 3454.8 2116.2 3486.3 2141.7 3519 2167.1 3552.7 2192.6 3591.3 2218 3631.1" stroke="#ff00ff" marker-start="url(#mM)" marker-mid="url(#mM)" marker-end="url(#eM)"/>
<path d="M182 3428.4 207.4 3419.2 232.9 3410.1 258.4 3401.1 283.8 3392.1 309.2 3383.2 334.7 3374.4 360.1 3365.7 385.6 3357 411.1 3348.4 436.5 3339.9 462 3331.5 487.4 3323.2 512.9 3315.1 538.3 3307 563.8 3299 589.2 3291 614.6 3283 640.1 3274.9 665.5 3266.8 691 3258.5 716.5 3250 741.9 3241.3 767.3 3232.7 792.8 3224.4 818.2 3216.7 843.7 3209.4 869.2 3202.4 894.6 3195.6 920 3189.1 945.5 3182.8 971 3176.7 996.4 3170.9 1021.8 3165.6 1047.3 3161 1072.8 3156.7 1098.2 3152.6 1123.7 3148.5 1149.1 3144.1 1174.5 3139.6 1200 3136.2 1225.4 3133.5 1250.9 3130.7 1276.3 3128.1 1301.8 3125.8 1327.2 3124.2 1352.7 3123.5 1378.2 3123.9 1403.6 3125.2 1429.1 3127.1 1454.5 3129.2 1479.9 3131.8 1505.4 3135.1 1530.8 3138.9 1556.3 3143.1 1581.8 3148 1607.2 3154 1632.7 3160.8 1658.1 3168.8 1683.6 3178.6 1709 3189.5 1734.4 3202 1759.9 3215.7 1785.3 3230 1810.8 3244.7 1836.2 3260.3 1861.7 3277 1887.2 3295.8 1912.6 3318 1938.1 3341 1963.5 3362.6 1988.9 3388.3 2014.4 3416.4 2039.8 3443.4 2065.3 3473.1 2090.8 3504.7 2116.2 3538.4 2141.7 3573.2 2167.1 3608.6 2192.6 3650 2218 3691.4" stroke="#808080" marker-start="url(#mGy)" marker-mid="url(#mGy)" marker-end="url(#eGy)"/>
<path d="M182 3428.6 207.4 3419.4 232.9 3410.3 258.4 3401.3 283.8 3392.4 309.2 3383.6 334.7 3374.8 360.1 3366.1 385.6 3357.5 411.1 3349 436.5 3340.5 462 3332.2 487.4 3324 512.9 3315.9 538.3 3307.9 563.8 3300 589.2 3292 614.6 3284.1 640.1 3276.1 665.5 3268.1 691 3259.9 716.5 3251.5 741.9 3242.9 767.3 3234.4 792.8 3226.4 818.2 3218.9 843.7 3211.7 869.2 3204.9 894.6 3198.4 920 3192.1 945.5 3185.9 971 3179.9 996.4 3174.3 1021.8 3169.2 1047.3 3164.8 1072.8 3160.8 1098.2 3157 1123.7 3153.2 1149.1 3149.1 1174.5 3144.8 1200 3141.7 1225.4 3139.6 1250.9 3137.5 1276.3 3135.5 1301.8 3133.9 1327.2 3132.8 1352.7 3132.4 1378.2 3133.2 1403.6 3135.1 1429.1 3137.7 1454.5 3140.5 1479.9 3143.7 1505.4 3147.5 1530.8 3151.9 1556.3 3156.8 1581.8 3162.4 1607.2 3169.1 1632.7 3176.7 1658.1 3185.8 1683.6 3196.8 1709 3209 1734.4 3222.9 1759.9 3237.8 1785.3 3253.2 1810.8 3269 1836.2 3285.6 1861.7 3303.2 1887.2 3323 1912.6 3346.9 1938.1 3371.4 1963.5 3393.8 1988.9 3421 2014.4 3450.8 2039.8 3478.9 2065.3 3510 2090.8 3543 2116.2 3578.4 2141.7 3614.9 2167.1 3651.5 2192.6 3695.1 2218 3737.8" stroke="#008000" marker-start="url(#mG)" marker-mid="url(#mG)" marker-end="url(#eG)"/>
<path d="M182 3428.8 207.4 3419.7 232.9 3410.7 258.4 3401.7 283.8 3392.9 309.2 3384.1 334.7 3375.4 360.1 3366.7 385.6 3358.2 411.1 3349.7 436.5 3341.4 462 3333.1 487.4 3325 512.9 3317 538.3 3309.1 563.8 3301.3 589.2 3293.5 614.6 3285.7 640.1 3277.8 665.5 3269.9 691 3261.9 716.5 3253.7 741.9 3245.3 767.3 3237 792.8 3229.1 818.2 3221.9 843.7 3215 869.2 3208.5 894.6 3202.2 920 3196.2 945.5 3190.3 971 3184.5 996.4 3179 1021.8 3174.2 1047.3 3170.2 1072.8 3166.6 1098.2 3163.2 1123.7 3159.8 1149.1 3156 1174.5 3152 1200 3149.5 1225.4 3148.3 1250.9 3147.1 1276.3 3146 1301.8 3145.2 1327.2 3144.8 1352.7 3144.8 1378.2 3146.2 1403.6 3149 1429.1 3152.6 1454.5 3156.4 1479.9 3160.3 1505.4 3165 1530.8 3170.2 1556.3 3176 1581.8 3182.6 1607.2 3190.2 1632.7 3199 1658.1 3209.5 1683.6 3222.3 1709 3236.4 1734.4 3252 1759.9 3268.8 1785.3 3285.8 1810.8 3302.9 1836.2 3320.9 1861.7 3340 1887.2 3361.2 1912.6 3387.3 1938.1 3413.9 1963.5 3437.4 1988.9 3466.7 2014.4 3498.9 2039.8 3528.6 2065.3 3561.7 2090.8 3596.7 2116.2 3634.5 2141.7 3673.3 2167.1 3711.7 2192.6 3758.2 2218 3802.8" stroke="#ff00ff" marker-start="url(#mM)" marker-mid="url(#mM)" marker-end="url(#eM)"/>
<path d="M182 3428.6 207.4 3419.5 232.9 3410.4 258.4 3401.4 283.8 3392.5 309.2 3383.7 334.7 3374.9 360.1 3366.2 385.6 3357.6 411.1 3349.1 436.5 3340.7 462 3332.4 487.4 3324.2 512.9 3316.1 538.3 3308.2 563.8 3300.2 589.2 3292.3 614.6 3284.4 640.1 3276.5 665.5 3268.5 691 3260.4 716.5 3252 741.9 3243.4 767.3 3235 792.8 3226.9 818.2 3219.5 843.7 3212.4 869.2 3205.7 894.6 3199.2 920 3192.9 945.5 3186.9 971 3180.9 996.4 3175.3 1021.8 3170.3 1047.3 3166 1072.8 3162.1 1098.2 3158.3 1123.7 3154.6 1149.1 3150.5 1174.5 3146.3 1200 3143.4 1225.4 3141.5 1250.9 3139.6 1276.3 3137.8 1301.8 3136.3 1327.2 3135.3 1352.7 3135 1378.2 3136 1403.6 3138.1 1429.1 3140.9 1454.5 3143.9 1479.9 3147.3 1505.4 3151.3 1530.8 3155.8 1556.3 3160.9 1581.8 3166.7 1607.2 3173.6 1632.7 3181.5 1658.1 3190.9 1683.6 3202.3 1709 3214.9 1734.4 3229.1 1759.9 3244.5 1785.3 3260.2 1810.8 3276.3 1836.2 3293.1 1861.7 3311.1 1887.2 3331.2 1912.6 3355.6 1938.1 3380.5 1963.5 3403.1 1988.9 3430.8 2014.4 3461.1 2039.8 3489.6 2065.3 3521.1 2090.8 3554.5 2116.2 3590.4 2141.7 3627.4 2167.1 3664.4 2192.6 3708.6 2218 3751.7" stroke="#b8860b" marker-start="url(#mO)" marker-mid="url(#mO)" marker-end="url(#eO)"/>
<path d="M182 3428.1 207.4 3418.9 232.9 3409.8 258.4 3400.7 283.8 3391.8 309.2 3382.8 334.7 3374 360.1 3365.2 385.6 3356.4 411.1 3347.8 436.5 3339.2 462 3330.7 487.4 3322.4 512.9 3314.2 538.3 3306.1 563.8 3297.9 589.2 3289.9 614.6 3281.7 640.1 3273.6 665.5 3265.3 691 3257 716.5 3248.3 741.9 3239.5 767.3 3230.7 792.8 3222.2 818.2 3214.4 843.7 3206.8 869.2 3199.6 894.6 3192.6 920 3185.8 945.5 3179.4 971 3173.1 996.4 3167.2 1021.8 3161.7 1047.3 3156.7 1072.8 3152.1 1098.2 3147.7 1123.7 3143.3 1149.1 3138.7 1174.5 3134 1200 3130.1 1225.4 3126.7 1250.9 3123.2 1276.3 3119.8 1301.8 3116.9 1327.2 3114.8 1352.7 3113.8 1378.2 3113.7 1403.6 3114.3 1429.1 3115.4 1454.5 3116.8 1479.9 3118.7 1505.4 3121.3 1530.8 3124.5 1556.3 3128 1581.8 3132.2 1607.2 3137.4 1632.7 3143.3 1658.1 3150.2 1683.6 3158.5 1709 3168.1 1734.4 3179.1 1759.9 3191.4 1785.3 3204.4 1810.8 3218.1 1836.2 3232.5 1861.7 3248.2 1887.2 3265.8 1912.6 3286.3 1938.1 3307.6 1963.5 3328.3 1988.9 3352.4 2014.4 3378.5 2039.8 3404.3 2065.3 3432.4 2090.8 3462.5 2116.2 3494.3 2141.7 3527.3 2167.1 3561.3 2192.6 3600.4 2218 3640.4" stroke="#008000" marker-start="url(#mG)" marker-mid="url(#mG)" marker-end="url(#eG)"/>
<path d="M182 3429.1 207.4 3420 232.9 3411 258.4 3402.1 283.8 3393.2 309.2 3384.5 334.7 3375.8 360.1 3367.2 385.6 3358.7 411.1 3350.3 436.5 3342 462 3333.9 487.4 3325.8 512.9 3317.9 538.3 3310.1 563.8 3302.3 589.2 3294.6 614.6 3286.9 640.1 3279.1 665.5 3271.3 691 3263.5 716.5 3255.4 741.9 3247.1 767.3 3238.9 792.8 3231.2 818.2 3224.2 843.7 3217.6 869.2 3211.3 894.6 3205.3 920 3199.4 945.5 3193.7 971 3188.1 996.4 3182.8 1021.8 3178.2 1047.3 3174.4 1072.8 3171.1 1098.2 3168.1 1123.7 3165 1149.1 3161.4 1174.5 3157.6 1200 3155.6 1225.4 3155 1250.9 3154.6 1276.3 3154.2 1301.8 3154.1 1327.2 3154.2 1352.7 3154.6 1378.2 3156.4 1403.6 3160 1429.1 3164.3 1454.5 3168.8 1479.9 3173.4 1505.4 3178.7 1530.8 3184.6 1556.3 3191.1 1581.8 3198.4 1607.2 3206.8 1632.7 3216.5 1658.1 3228.1 1683.6 3242.4 1709 3257.8 1734.4 3275 1759.9 3293.1 1785.3 3311.3 1810.8 3329.6 1836.2 3348.7 1861.7 3368.8 1887.2 3391.2 1912.6 3419.1 1938.1 3447.3 1963.5 3471.7 1988.9 3502.7 2014.4 3536.8 2039.8 3567.7 2065.3 3602.3 2090.8 3638.9 2116.2 3678.5 2141.7 3719.2 2167.1 3759 2192.6 3807.9 2218 3853.8" stroke="#aaaa00" marker-start="url(#mY)" marker-mid="url(#mY)" marker-end="url(#eY)"/>
<path d="M182 3428.3 207.4 3419.1 232.9 3410 258.4 3401 283.8 3392 309.2 3383.1 334.7 3374.3 360.1 3365.5 385.6 3356.8 411.1 3348.2 436.5 3339.7 462 3331.3 487.4 3323 512.9 3314.8 538.3 3306.8 563.8 3298.7 589.2 3290.7 614.6 3282.6 640.1 3274.5 665.5 3266.4 691 3258.1 716.5 3249.5 741.9 3240.8 767.3 3232.1 792.8 3223.8 818.2 3216.1 843.7 3208.7 869.2 3201.6 894.6 3194.8 920 3188.2 945.5 3181.9 971 3175.7 996.4 3169.9 1021.8 3164.6 1047.3 3159.8 1072.8 3155.5 1098.2 3151.3 1123.7 3147.1 1149.1 3142.6 1174.5 3138.1 1200 3134.5 1225.4 3131.6 1250.9 3128.6 1276.3 3125.8 1301.8 3123.4 1327.2 3121.7 1352.7 3120.8 1378.2 3121.1 1403.6 3122.2 1429.1 3123.9 1454.5 3125.8 1479.9 3128.2 1505.4 3131.3 1530.8 3135 1556.3 3139 1581.8 3143.7 1607.2 3149.4 1632.7 3156.1 1658.1 3163.7 1683.6 3173.1 1709 3183.7 1734.4 3195.8 1759.9 3209.1 1785.3 3223 1810.8 3237.5 1836.2 3252.7 1861.7 3269.1 1887.2 3287.6 1912.6 3309.4 1938.1 3331.9 1963.5 3353.3 1988.9 3378.5 2014.4 3406.1 2039.8 3432.7 2065.3 3462 2090.8 3493.2 2116.2 3526.4 2141.7 3560.7 2167.1 3595.7 2192.6 3636.5 2218 3677.5" stroke="#008000" marker-start="url(#mG)" marker-mid="url(#mG)" marker-end="url(#eG)"/>
<path d="M182 3428.9 207.4 3419.8 232.9 3410.8 258.4 3401.8 283.8 3393 309.2 3384.2 334.7 3375.5 360.1 3366.9 385.6 3358.3 411.1 3349.9 436.5 3341.6 462 3333.3 487.4 3325.2 512.9 3317.3 538.3 3309.4 563.8 3301.6 589.2 3293.8 614.6 3286 640.1 3278.2 665.5 3270.3 691 3262.3 716.5 3254.1 741.9 3245.8 767.3 3237.5 792.8 3229.7 818.2 3222.5 843.7 3215.7 869.2 3209.3 894.6 3203.1 920 3197.1 945.5 3191.2 971 3185.5 996.4 3180.1 1021.8 3175.3 1047.3 3171.4 1072.8 3167.8 1098.2 3164.5 1123.7 3161.2 1149.1 3157.5 1174.5 3153.5 1200 3151.1 1225.4 3150.1 1250.9 3149.1 1276.3 3148.2 1301.8 3147.6 1327.2 3147.3 1352.7 3147.5 1378.2 3149 1403.6 3152 1429.1 3155.8 1454.5 3159.7 1479.9 3163.9 1505.4 3168.7 1530.8 3174.1 1556.3 3180.1 1581.8 3186.9 1607.2 3194.7 1632.7 3203.8 1658.1 3214.6 1683.6 3227.8 1709 3242.2 1734.4 3258.3 1759.9 3275.4 1785.3 3292.7 1810.8 3310.2 1836.2 3328.5 1861.7 3347.8 1887.2 3369.4 1912.6 3396 1938.1 3423 1963.5 3446.8 1988.9 3476.5 2014.4 3509.3 2039.8 3539.3 2065.3 3572.8 2090.8 3608.2 2116.2 3646.5 2141.7 3685.8 2167.1 3724.6 2192.6 3771.8 2218 3816.7" stroke="#808080" marker-start="url(#mGy)" marker-mid="url(#mGy)" marker-end="url(#eGy)"/>
<path d="M182 3429.1 207.4 3420 232.9 3411 258.4 3402.1 283.8 3393.2 309.2 3384.5 334.7 3375.8 360.1 3367.3 385.6 3358.8 411.1 3350.4 436.5 3342.1 462 3333.9 487.4 3325.9 512.9 3318 538.3 3310.2 563.8 3302.4 589.2 3294.7 614.6 3287 640.1 3279.3 665.5 3271.5 691 3263.6 716.5 3255.5 741.9 3247.3 767.3 3239.1 792.8 3231.4 818.2 3224.4 843.7 3217.8 869.2 3211.5 894.6 3205.5 920 3199.7 945.5 3194 971 3188.4 996.4 3183.1 1021.8 3178.5 1047.3 3174.8 1072.8 3171.6 1098.2 3168.5 1123.7 3165.5 1149.1 3161.9 1174.5 3158.2 1200 3156.1 1225.4 3155.6 1250.9 3155.2 1276.3 3155 1301.8 3154.9 1327.2 3155 1352.7 3155.4 1378.2 3157.4 1403.6 3161 1429.1 3165.4 1454.5 3169.9 1479.9 3174.6 1505.4 3179.9 1530.8 3185.9 1556.3 3192.4 1581.8 3199.8 1607.2 3208.3 1632.7 3218.1 1658.1 3229.8 1683.6 3244.2 1709 3259.8 1734.4 3277 1759.9 3295.3 1785.3 3313.6 1810.8 3332 1836.2 3351.2 1861.7 3371.4 1887.2 3393.9 1912.6 3421.9 1938.1 3450.3 1963.5 3474.8 1988.9 3505.9 2014.4 3540.2 2039.8 3571.2 2065.3 3606 2090.8 3642.7 2116.2 3682.5 2141.7 3723.4 2167.1 3763.3 2192.6 3812.4 2218 3858.5" stroke="#b8860b" marker-start="url(#mO)" marker-mid="url(#mO)" marker-end="url(#eO)"/>
<path d="M182 3428 207.4 3418.8 232.9 3409.6 258.4 3400.5 283.8 3391.5 309.2 3382.6 334.7 3373.7 360.1 3364.9 385.6 3356.1 411.1 3347.4 436.5 3338.8 462 3330.3 487.4 3321.9 512.9 3313.6 538.3 3305.4 563.8 3297.3 589.2 3289.1 614.6 3281 640.1 3272.7 665.5 3264.4 691 3256 716.5 3247.2 741.9 3238.3 767.3 3229.4 792.8 3220.9 818.2 3212.9 843.7 3205.2 869.2 3197.8 894.6 3190.6 920 3183.8 945.5 3177.2 971 3170.8 996.4 3164.8 1021.8 3159.2 1047.3 3154.1 1072.8 3149.3 1098.2 3144.6 1123.7 3140 1149.1 3135.2 1174.5 3130.4 1200 3126.2 1225.4 3122.4 1250.9 3118.4 1276.3 3114.6 1301.8 3111.3 1327.2 3108.8 1352.7 3107.5 1378.2 3107.2 1403.6 3107.3 1429.1 3107.9 1454.5 3108.9 1479.9 3110.4 1505.4 3112.6 1530.8 3115.4 1556.3 3118.4 1581.8 3122.1 1607.2 3126.8 1632.7 3132.2 1658.1 3138.3 1683.6 3145.8 1709 3154.4 1734.4 3164.5 1759.9 3175.9 1785.3 3188.1 1810.8 3201.1 1836.2 3214.8 1861.7 3229.8 1887.2 3246.7 1912.6 3266.1 1938.1 3286.3 1963.5 3306.5 1988.9 3329.6 2014.4 3354.5 2039.8 3379.4 2065.3 3406.6 2090.8 3435.6 2116.2 3466.3 2141.7 3498.1 2167.1 3531.2 2192.6 3568.8 2218 3607.9" stroke="#ff00ff" marker-start="url(#mM)" marker-mid="url(#mM)" marker-end="url(#eM)"/>
<path d="M182 3429.2 207.4 3420.1 232.9 3411.1 258.4 3402.2 283.8 3393.4 309.2 3384.6 334.7 3376 360.1 3367.5 385.6 3359 411.1 3350.6 436.5 3342.4 462 3334.2 487.4 3326.2 512.9 3318.3 538.3 3310.5 563.8 3302.8 589.2 3295.1 614.6 3287.4 640.1 3279.7 665.5 3272 691 3264.2 716.5 3256.1 741.9 3247.9 767.3 3239.8 792.8 3232.2 818.2 3225.3 843.7 3218.8 869.2 3212.6 894.6 3206.6 920 3200.9 945.5 3195.3 971 3189.7 996.4 3184.5 1021.8 3180 1047.3 3176.4 1072.8 3173.2 1098.2 3170.3 1123.7 3167.4 1149.1 3163.9 1174.5 3160.2 1200 3158.3 1225.4 3158.1 1250.9 3158 1276.3 3158 1301.8 3158.1 1327.2 3158.4 1352.7 3159 1378.2 3161.1 1403.6 3164.9 1429.1 3169.7 1454.5 3174.4 1479.9 3179.4 1505.4 3184.9 1530.8 3191.1 1556.3 3197.9 1581.8 3205.6 1607.2 3214.4 1632.7 3224.5 1658.1 3236.6 1683.6 3251.5 1709 3267.6 1734.4 3285.4 1759.9 3304.2 1785.3 3322.9 1810.8 3341.7 1836.2 3361.3 1861.7 3381.9 1887.2 3404.8 1912.6 3433.5 1938.1 3462.5 1963.5 3487.3 1988.9 3519 2014.4 3554 2039.8 3585.5 2065.3 3620.8 2090.8 3658.1 2116.2 3698.6 2141.7 3740.1 2167.1 3780.5 2192.6 3830.4 2218 3877" stroke="#aaaa00" marker-start="url(#mY)" marker-mid="url(#mY)" marker-end="url(#eY)"/>
<path d="M182 3428.3 207.4 3419.1 232.9 3410 258.4 3400.9 283.8 3392 309.2 3383.1 334.7 3374.2 360.1 3365.5 385.6 3356.8 411.1 3348.2 436.5 3339.6 462 3331.2 487.4 3322.9 512.9 3314.8 538.3 3306.7 563.8 3298.6 589.2 3290.6 614.6 3282.5 640.1 3274.4 665.5 3266.2 691 3257.9 716.5 3249.4 741.9 3240.6 767.3 3231.9 792.8 3223.6 818.2 3215.9 843.7 3208.5 869.2 3201.4 894.6 3194.5 920 3187.9 945.5 3181.6 971 3175.4 996.4 3169.5 1021.8 3164.2 1047.3 3159.4 1072.8 3155 1098.2 3150.8 1123.7 3146.6 1149.1 3142.1 1174.5 3137.6 1200 3134 1225.4 3131 1250.9 3128 1276.3 3125.1 1301.8 3122.6 1327.2 3120.8 1352.7 3120 1378.2 3120.2 1403.6 3121.2 1429.1 3122.8 1454.5 3124.7 1479.9 3127 1505.4 3130.1 1530.8 3133.6 1556.3 3137.6 1581.8 3142.3 1607.2 3147.9 1632.7 3154.5 1658.1 3162 1683.6 3171.3 1709 3181.7 1734.4 3193.7 1759.9 3206.9 1785.3 3220.7 1810.8 3235 1836.2 3250.2 1861.7 3266.5 1887.2 3284.9 1912.6 3306.5 1938.1 3328.8 1963.5 3350.2 1988.9 3375.3 2014.4 3402.6 2039.8 3429.2 2065.3 3458.3 2090.8 3489.3 2116.2 3522.4 2141.7 3556.5 2167.1 3591.4 2192.6 3631.9 2218 3672.9" stroke="#80ff00" marker-start="url(#mL)" marker-mid="url(#mL)" marker-end="url(#eL)"/>
<path d="M182 3428.9 207.4 3419.7 232.9 3410.7 258.4 3401.8 283.8 3392.9 309.2 3384.1 334.7 3375.4 360.1 3366.8 385.6 3358.2 411.1 3349.8 436.5 3341.4 462 3333.2 487.4 3325.1 512.9 3317.1 538.3 3309.2 563.8 3301.4 589.2 3293.6 614.6 3285.8 640.1 3277.9 665.5 3270 691 3262.1 716.5 3253.8 741.9 3245.4 767.3 3237.1 792.8 3229.3 818.2 3222.1 843.7 3215.2 869.2 3208.7 894.6 3202.5 920 3196.5 945.5 3190.6 971 3184.8 996.4 3179.4 1021.8 3174.6 1047.3 3170.6 1072.8 3167 1098.2 3163.7 1123.7 3160.3 1149.1 3156.5 1174.5 3152.5 1200 3150 1225.4 3148.9 1250.9 3147.7 1276.3 3146.8 1301.8 3146 1327.2 3145.6 1352.7 3145.7 1378.2 3147.1 1403.6 3150 1429.1 3153.7 1454.5 3157.5 1479.9 3161.5 1505.4 3166.2 1530.8 3171.5 1556.3 3177.4 1581.8 3184 1607.2 3191.7 1632.7 3200.6 1658.1 3211.2 1683.6 3224.1 1709 3238.3 1734.4 3254.1 1759.9 3271 1785.3 3288.1 1810.8 3305.4 1836.2 3323.4 1861.7 3342.6 1887.2 3363.9 1912.6 3390.2 1938.1 3416.9 1963.5 3440.5 1988.9 3470 2014.4 3502.4 2039.8 3532.2 2065.3 3565.4 2090.8 3600.5 2116.2 3638.5 2141.7 3677.5 2167.1 3716 2192.6 3762.8 2218 3807.4" stroke="#008000" marker-start="url(#mG)" marker-mid="url(#mG)" marker-end="url(#eG)"/>
<path d="M182 3428.5 207.4 3419.3 232.9 3410.2 258.4 3401.2 283.8 3392.3 309.2 3383.4 334.7 3374.6 360.1 3365.9 385.6 3357.3 411.1 3348.7 436.5 3340.3 462 3331.9 487.4 3323.7 512.9 3315.6 538.3 3307.5 563.8 3299.6 589.2 3291.6 614.6 3283.6 640.1 3275.6 665.5 3267.5 691 3259.4 716.5 3250.9 741.9 3242.3 767.3 3233.7 792.8 3225.6 818.2 3218 843.7 3210.8 869.2 3203.9 894.6 3197.3 920 3190.9 945.5 3184.7 971 3178.6 996.4 3172.9 1021.8 3167.8 1047.3 3163.3 1072.8 3159.2 1098.2 3155.3 1123.7 3151.3 1149.1 3147.1 1174.5 3142.7 1200 3139.5 1225.4 3137.2 1250.9 3134.8 1276.3 3132.5 1301.8 3130.7 1327.2 3129.4 1352.7 3128.8 1378.2 3129.5 1403.6 3131.2 1429.1 3133.5 1454.5 3136 1479.9 3138.9 1505.4 3142.5 1530.8 3146.7 1556.3 3151.3 1581.8 3156.7 1607.2 3163 1632.7 3170.4 1658.1 3179 1683.6 3189.5 1709 3201.2 1734.4 3214.5 1759.9 3229 1785.3 3243.9 1810.8 3259.3 1836.2 3275.4 1861.7 3292.7 1887.2 3312.1 1912.6 3335.4 1938.1 3359.2 1963.5 3381.3 1988.9 3407.9 2014.4 3437 2039.8 3464.7 2065.3 3495.2 2090.8 3527.7 2116.2 3562.4 2141.7 3598.2 2167.1 3634.4 2192.6 3677.1 2218 3719.3" stroke="#008000" marker-start="url(#mG)" marker-mid="url(#mG)" marker-end="url(#eG)"/>
<path d="M182 3429 207.4 3419.9 232.9 3410.9 258.4 3402 283.8 3393.2 309.2 3384.4 334.7 3375.8 360.1 3367.2 385.6 3358.7 411.1 3350.3 436.5 3342 462 3333.8 487.4 3325.8 512.9 3317.8 538.3 3310 563.8 3302.2 589.2 3294.5 614.6 3286.8 640.1 3279 665.5 3271.2 691 3263.3 716.5 3255.2 741.9 3246.9 767.3 3238.8 792.8 3231 818.2 3224 843.7 3217.4 869.2 3211 894.6 3205 920 3199.1 945.5 3193.4 971 3187.7 996.4 3182.4 1021.8 3177.8 1047.3 3174 1072.8 3170.7 1098.2 3167.6 1123.7 3164.5 1149.1 3160.9 1174.5 3157.1 1200 3155 1225.4 3154.4 1250.9 3153.9 1276.3 3153.5 1301.8 3153.3 1327.2 3153.3 1352.7 3153.7 1378.2 3155.5 1403.6 3159 1429.1 3163.3 1454.5 3167.7 1479.9 3172.2 1505.4 3177.4 1530.8 3183.2 1556.3 3189.7 1581.8 3196.9 1607.2 3205.3 1632.7 3214.9 1658.1 3226.4 1683.6 3240.5 1709 3255.9 1734.4 3272.9 1759.9 3290.9 1785.3 3309 1810.8 3327.2 1836.2 3346.2 1861.7 3366.2 1887.2 3388.4 1912.6 3416.2 1938.1 3444.3 1963.5 3468.6 1988.9 3499.4 2014.4 3533.3 2039.8 3564.1 2065.3 3598.6 2090.8 3635 2116.2 3674.5 2141.7 3715 2167.1 3754.7 2192.6 3803.3 2218 3849.2" stroke="#b8860b" marker-start="url(#mO)" marker-mid="url(#mO)" marker-end="url(#eO)"/>
<path d="M182 3428.5 207.4 3419.4 232.9 3410.3 258.4 3401.3 283.8 3392.4 309.2 3383.5 334.7 3374.7 360.1 3366 385.6 3357.4 411.1 3348.9 436.5 3340.4 462 3332 487.4 3323.8 512.9 3315.7 538.3 3307.7 563.8 3299.8 589.2 3291.8 614.6 3283.9 640.1 3275.9 665.5 3267.8 691 3259.6 716.5 3251.2 741.9 3242.6 767.3 3234.1 792.8 3226 818.2 3218.4 843.7 3211.3 869.2 3204.4 894.6 3197.8 920 3191.5 945.5 3185.3 971 3179.3 996.4 3173.6 1021.8 3168.5 1047.3 3164.1 1072.8 3160 1098.2 3156.1 1123.7 3152.3 1149.1 3148.1 1174.5 3143.8 1200 3140.6 1225.4 3138.4 1250.9 3136.1 1276.3 3134 1301.8 3132.3 1327.2 3131.1 1352.7 3130.6 1378.2 3131.3 1403.6 3133.2 1429.1 3135.6 1454.5 3138.3 1479.9 3141.3 1505.4 3145 1530.8 3149.3 1556.3 3154.1 1581.8 3159.5 1607.2 3166.1 1632.7 3173.6 1658.1 3182.4 1683.6 3193.1 1709 3205.1 1734.4 3218.7 1759.9 3233.4 1785.3 3248.6 1810.8 3264.1 1836.2 3280.5 1861.7 3298 1887.2 3317.6 1912.6 3341.1 1938.1 3365.3 1963.5 3387.6 1988.9 3414.5 2014.4 3443.9 2039.8 3471.8 2065.3 3502.6 2090.8 3535.3 2116.2 3570.4 2141.7 3606.6 2167.1 3643 2192.6 3686.1 2218 3728.5" stroke="#008000" marker-start="url(#mG)" marker-mid="url(#mG)" marker-end="url(#eG)"/>
<path d="M182 3429.1 207.4 3420.1 232.9 3411.1 258.4 3402.2 283.8 3393.3 309.2 3384.6 334.7 3376 360.1 3367.4 385.6 3358.9 411.1 3350.6 436.5 3342.3 462 3334.1 487.4 3326.1 512.9 3318.3 538.3 3310.5 563.8 3302.7 589.2 3295 614.6 3287.3 640.1 3279.6 665.5 3271.9 691 3264 716.5 3256 741.9 3247.7 767.3 3239.7 792.8 3232 818.2 3225.1 843.7 3218.5 869.2 3212.3 894.6 3206.4 920 3200.6 945.5 3195 971 3189.4 996.4 3184.1 1021.8 3179.6 1047.3 3176 1072.8 3172.8 1098.2 3169.8 1123.7 3166.9 1149.1 3163.4 1174.5 3159.7 1200 3157.8 1225.4 3157.5 1250.9 3157.3 1276.3 3157.2 1301.8 3157.3 1327.2 3157.6 1352.7 3158.1 1378.2 3160.2 1403.6 3163.9 1429.1 3168.6 1454.5 3173.3 1479.9 3178.2 1505.4 3183.7 1530.8 3189.8 1556.3 3196.5 1581.8 3204.1 1607.2 3212.9 1632.7 3222.9 1658.1 3234.9 1683.6 3249.6 1709 3265.6 1734.4 3283.3 1759.9 3302 1785.3 3320.6 1810.8 3339.3 1836.2 3358.8 1861.7 3379.3 1887.2 3402.1 1912.6 3430.6 1938.1 3459.5 1963.5 3484.2 1988.9 3515.7 2014.4 3550.5 2039.8 3581.9 2065.3 3617.1 2090.8 3654.2 2116.2 3694.5 2141.7 3735.9 2167.1 3776.2 2192.6 3825.9 2218 3872.4" stroke="#b8860b" marker-start="url(#mO)" marker-mid="url(#mO)" marker-end="url(#eO)"/>
<path d="M182 3428.7 207.4 3419.6 232.9 3410.5 258.4 3401.5 283.8 3392.6 309.2 3383.8 334.7 3375.1 360.1 3366.4 385.6 3357.8 411.1 3349.4 436.5 3340.9 462 3332.6 487.4 3324.5 512.9 3316.5 538.3 3308.5 563.8 3300.6 589.2 3292.7 614.6 3284.9 640.1 3277 665.5 3269 691 3260.9 716.5 3252.6 741.9 3244.1 767.3 3235.7 792.8 3227.7 818.2 3220.4 843.7 3213.4 869.2 3206.7 894.6 3200.3 920 3194.1 945.5 3188.1 971 3182.2 996.4 3176.7 1021.8 3171.7 1047.3 3167.5 1072.8 3163.7 1098.2 3160.1 1123.7 3156.5 1149.1 3152.5 1174.5 3148.4 1200 3145.6 1225.4 3143.9 1250.9 3142.3 1276.3 3140.8 1301.8 3139.5 1327.2 3138.8 1352.7 3138.6 1378.2 3139.7 1403.6 3142.1 1429.1 3145.2 1454.5 3148.4 1479.9 3152 1505.4 3156.2 1530.8 3161.1 1556.3 3166.4 1581.8 3172.5 1607.2 3179.6 1632.7 3187.9 1658.1 3197.6 1683.6 3209.5 1709 3222.7 1734.4 3237.5 1759.9 3253.3 1785.3 3269.5 1810.8 3286 1836.2 3303.2 1861.7 3321.6 1887.2 3342.1 1912.6 3367.1 1938.1 3392.6 1963.5 3415.6 1988.9 3443.9 2014.4 3474.9 2039.8 3503.8 2065.3 3535.8 2090.8 3569.9 2116.2 3606.5 2141.7 3644.1 2167.1 3681.6 2192.6 3726.7 2218 3770.3" stroke="#008000" marker-start="url(#mG)" marker-mid="url(#mG)" marker-end="url(#eG)"/>
<path d="M182 3428.1 207.4 3418.9 232.9 3409.7 258.4 3400.7 283.8 3391.7 309.2 3382.7 334.7 3373.8 360.1 3365 385.6 3356.3 411.1 3347.6 436.5 3339 462 3330.5 487.4 3322.2 512.9 3314 538.3 3305.8 563.8 3297.7 589.2 3289.5 614.6 3281.4 640.1 3273.2 665.5 3264.9 691 3256.5 716.5 3247.9 741.9 3239 767.3 3230.1 792.8 3221.7 818.2 3213.7 843.7 3206.1 869.2 3198.8 894.6 3191.7 920 3185 945.5 3178.4 971 3172.1 996.4 3166.2 1021.8 3160.6 1047.3 3155.6 1072.8 3150.9 1098.2 3146.4 1123.7 3141.9 1149.1 3137.2 1174.5 3132.5 1200 3128.4 1225.4 3124.9 1250.9 3121.1 1276.3 3117.6 1301.8 3114.5 1327.2 3112.2 1352.7 3111.1 1378.2 3110.9 1403.6 3111.3 1429.1 3112.2 1454.5 3113.4 1479.9 3115.1 1505.4 3117.6 1530.8 3120.6 1556.3 3123.9 1581.8 3127.9 1607.2 3132.8 1632.7 3138.5 1658.1 3145.1 1683.6 3153 1709 3162.2 1734.4 3172.9 1759.9 3184.8 1785.3 3197.4 1810.8 3210.8 1836.2 3224.9 1861.7 3240.3 1887.2 3257.6 1912.6 3277.6 1938.1 3298.5 1963.5 3319 1988.9 3342.6 2014.4 3368.2 2039.8 3393.6 2065.3 3421.4 2090.8 3451 2116.2 3482.3 2141.7 3514.8 2167.1 3548.4 2192.6 3586.8 2218 3626.5" stroke="#808080" marker-start="url(#mGy)" marker-mid="url(#mGy)" marker-end="url(#eGy)"/>
<path d="M182 3428.9 207.4 3419.8 232.9 3410.7 258.4 3401.8 283.8 3392.9 309.2 3384.1 334.7 3375.4 360.1 3366.8 385.6 3358.3 411.1 3349.9 436.5 3341.5 462 3333.3 487.4 3325.2 512.9 3317.2 538.3 3309.3 563.8 3301.5 589.2 3293.7 614.6 3285.9 640.1 3278.1 665.5 3270.2 691 3262.2 716.5 3254 741.9 3245.6 767.3 3237.3 792.8 3229.5 818.2 3222.3 843.7 3215.5 869.2 3209 894.6 3202.8 920 3196.8 945.5 3190.9 971 3185.1 996.4 3179.7 1021.8 3175 1047.3 3171 1072.8 3167.4 1098.2 3164.1 1123.7 3160.8 1149.1 3157 1174.5 3153 1200 3150.6 1225.4 3149.5 1250.9 3148.4 1276.3 3147.5 1301.8 3146.8 1327.2 3146.5 1352.7 3146.6 1378.2 3148.1 1403.6 3151 1429.1 3154.8 1454.5 3158.6 1479.9 3162.7 1505.4 3167.5 1530.8 3172.8 1556.3 3178.7 1581.8 3185.4 1607.2 3193.2 1632.7 3202.2 1658.1 3212.9 1683.6 3226 1709 3240.3 1734.4 3256.2 1759.9 3273.2 1785.3 3290.4 1810.8 3307.8 1836.2 3326 1861.7 3345.2 1887.2 3366.6 1912.6 3393.1 1938.1 3420 1963.5 3443.7 1988.9 3473.3 2014.4 3505.8 2039.8 3535.7 2065.3 3569.1 2090.8 3604.4 2116.2 3642.5 2141.7 3681.7 2167.1 3720.3 2192.6 3767.3 2218 3812.1" stroke="#80ff00" marker-start="url(#mL)" marker-mid="url(#mL)" marker-end="url(#eL)"/>
<path d="M182 3428.1 207.4 3418.9 232.9 3409.8 258.4 3400.7 283.8 3391.7 309.2 3382.8 334.7 3373.9 360.1 3365.1 385.6 3356.4 411.1 3347.7 436.5 3339.2 462 3330.7 487.4 3322.3 512.9 3314.1 538.3 3306 563.8 3297.9 589.2 3289.7 614.6 3281.6 640.1 3273.4 665.5 3265.2 691 3256.8 716.5 3248.2 741.9 3239.3 767.3 3230.5 792.8 3222.1 818.2 3214.2 843.7 3206.6 869.2 3199.3 894.6 3192.3 920 3185.5 945.5 3179.1 971 3172.8 996.4 3166.8 1021.8 3161.3 1047.3 3156.4 1072.8 3151.7 1098.2 3147.3 1123.7 3142.9 1149.1 3138.2 1174.5 3133.5 1200 3129.5 1225.4 3126.1 1250.9 3122.5 1276.3 3119.1 1301.8 3116.1 1327.2 3114 1352.7 3112.9 1378.2 3112.7 1403.6 3113.3 1429.1 3114.3 1454.5 3115.7 1479.9 3117.5 1505.4 3120.1 1530.8 3123.2 1556.3 3126.7 1581.8 3130.8 1607.2 3135.9 1632.7 3141.7 1658.1 3148.5 1683.6 3156.7 1709 3166.1 1734.4 3177 1759.9 3189.2 1785.3 3202.1 1810.8 3215.6 1836.2 3230 1861.7 3245.5 1887.2 3263.1 1912.6 3283.4 1938.1 3304.5 1963.5 3325.2 1988.9 3349.2 2014.4 3375.1 2039.8 3400.8 2065.3 3428.7 2090.8 3458.6 2116.2 3490.3 2141.7 3523.1 2167.1 3557 2192.6 3595.9 2218 3635.7" stroke="#ff00ff" marker-start="url(#mM)" marker-mid="url(#mM)" marker-end="url(#eM)"/>
<path d="M182 3429.1 207.4 3420 232.9 3411 258.4 3402.1 283.8 3393.3 309.2 3384.6 334.7 3375.9 360.1 3367.4 385.6 3358.9 411.1 3350.5 436.5 3342.2 462 3334.1 487.4 3326.1 512.9 3318.2 538.3 3310.4 563.8 3302.6 589.2 3294.9 614.6 3287.2 640.1 3279.5 665.5 3271.7 691 3263.9 716.5 3255.8 741.9 3247.6 767.3 3239.5 792.8 3231.8 818.2 3224.8 843.7 3218.3 869.2 3212.1 894.6 3206.1 920 3200.3 945.5 3194.7 971 3189 996.4 3183.8 1021.8 3179.3 1047.3 3175.6 1072.8 3172.4 1098.2 3169.4 1123.7 3166.4 1149.1 3162.9 1174.5 3159.2 1200 3157.2 1225.4 3156.9 1250.9 3156.6 1276.3 3156.5 1301.8 3156.5 1327.2 3156.7 1352.7 3157.2 1378.2 3159.2 1403.6 3162.9 1429.1 3167.5 1454.5 3172.2 1479.9 3177 1505.4 3182.4 1530.8 3188.5 1556.3 3195.2 1581.8 3202.7 1607.2 3211.4 1632.7 3221.3 1658.1 3233.2 1683.6 3247.8 1709 3263.7 1734.4 3281.2 1759.9 3299.8 1785.3 3318.3 1810.8 3336.9 1836.2 3356.3 1861.7 3376.7 1887.2 3399.3 1912.6 3427.7 1938.1 3456.4 1963.5 3481.1 1988.9 3512.4 2014.4 3547.1 2039.8 3578.4 2065.3 3613.4 2090.8 3650.4 2116.2 3690.5 2141.7 3731.7 2167.1 3771.9 2192.6 3821.4 2218 3867.7" stroke="#b8860b" marker-start="url(#mO)" marker-mid="url(#mO)" marker-end="url(#eO)"/>
<path d="M182 3428.4 207.4 3419.2 232.9 3410.1 258.4 3401.1 283.8 3392.1 309.2 3383.3 334.7 3374.4 360.1 3365.7 385.6 3357 411.1 3348.5 436.5 3340 462 3331.6 487.4 3323.3 512.9 3315.2 538.3 3307.1 563.8 3299.1 589.2 3291.1 614.6 3283.1 640.1 3275 665.5 3266.9 691 3258.7 716.5 3250.2 741.9 3241.4 767.3 3232.8 792.8 3224.6 818.2 3216.9 843.7 3209.6 869.2 3202.6 894.6 3195.9 920 3189.4 945.5 3183.1 971 3177 996.4 3171.2 1021.8 3166 1047.3 3161.4 1072.8 3157.1 1098.2 3153 1123.7 3149 1149.1 3144.6 1174.5 3140.2 1200 3136.7 1225.4 3134.1 1250.9 3131.4 1276.3 3128.8 1301.8 3126.6 1327.2 3125.1 1352.7 3124.4 1378.2 3124.8 1403.6 3126.2 1429.1 3128.2 1454.5 3130.4 1479.9 3133 1505.4 3136.3 1530.8 3140.2 1556.3 3144.5 1581.8 3149.5 1607.2 3155.5 1632.7 3162.4 1658.1 3170.5 1683.6 3180.4 1709 3191.5 1734.4 3204.1 1759.9 3217.9 1785.3 3232.3 1810.8 3247.2 1836.2 3262.8 1861.7 3279.6 1887.2 3298.5 1912.6 3320.9 1938.1 3344 1963.5 3365.7 1988.9 3391.6 2014.4 3419.8 2039.8 3446.9 2065.3 3476.8 2090.8 3508.5 2116.2 3542.4 2141.7 3577.4 2167.1 3612.9 2192.6 3654.5 2218 3696.1" stroke="#008000" marker-start="url(#mG)" marker-mid="url(#mG)" marker-end="url(#eG)"/>
<path d="M182 3428.9 207.4 3419.8 232.9 3410.8 258.4 3401.9 283.8 3393 309.2 3384.2 334.7 3375.5 360.1 3366.9 385.6 3358.4 411.1 3350 436.5 3341.6 462 3333.4 487.4 3325.3 512.9 3317.4 538.3 3309.5 563.8 3301.7 589.2 3293.9 614.6 3286.1 640.1 3278.3 665.5 3270.4 691 3262.5 716.5 3254.3 741.9 3245.9 767.3 3237.7 792.8 3229.9 818.2 3222.7 843.7 3215.9 869.2 3209.5 894.6 3203.3 920 3197.4 945.5 3191.5 971 3185.8 996.4 3180.4 1021.8 3175.7 1047.3 3171.7 1072.8 3168.2 1098.2 3165 1123.7 3161.7 1149.1 3158 1174.5 3154 1200 3151.7 1225.4 3150.7 1250.9 3149.8 1276.3 3149 1301.8 3148.4 1327.2 3148.2 1352.7 3148.3 1378.2 3149.9 1403.6 3153 1429.1 3156.9 1454.5 3160.9 1479.9 3165.1 1505.4 3169.9 1530.8 3175.4 1556.3 3181.5 1581.8 3188.3 1607.2 3196.3 1632.7 3205.4 1658.1 3216.3 1683.6 3229.6 1709 3244.2 1734.4 3260.4 1759.9 3277.7 1785.3 3295.1 1810.8 3312.6 1836.2 3331 1861.7 3350.5 1887.2 3372.1 1912.6 3398.8 1938.1 3426 1963.5 3449.9 1988.9 3479.8 2014.4 3512.7 2039.8 3542.8 2065.3 3576.5 2090.8 3612 2116.2 3650.5 2141.7 3690 2167.1 3728.9 2192.6 3776.3 2218 3821.3" stroke="#b8860b" marker-start="url(#mO)" marker-mid="url(#mO)" marker-end="url(#eO)"/>
<path d="M182 3428.6 207.4 3419.4 232.9 3410.4 258.4 3401.4 283.8 3392.5 309.2 3383.6 334.7 3374.8 360.1 3366.2 385.6 3357.5 411.1 3349 436.5 3340.6 462 3332.2 487.4 3324.1 512.9 3316 538.3 3308 563.8 3300 589.2 3292.1 614.6 3284.2 640.1 3276.2 665.5 3268.2 691 3260.1 716.5 3251.7 741.9 3243.1 767.3 3234.6 792.8 3226.5 818.2 3219.1 843.7 3212 869.2 3205.2 894.6 3198.6 920 3192.3 945.5 3186.2 971 3180.3 996.4 3174.6 1021.8 3169.6 1047.3 3165.2 1072.8 3161.2 1098.2 3157.5 1123.7 3153.7 1149.1 3149.6 1174.5 3145.3 1200 3142.3 1225.4 3140.3 1250.9 3138.2 1276.3 3136.3 1301.8 3134.7 1327.2 3133.6 1352.7 3133.3 1378.2 3134.1 1403.6 3136.1 1429.1 3138.8 1454.5 3141.7 1479.9 3144.9 1505.4 3148.8 1530.8 3153.2 1556.3 3158.2 1581.8 3163.9 1607.2 3170.6 1632.7 3178.3 1658.1 3187.5 1683.6 3198.6 1709 3211 1734.4 3225 1759.9 3240.1 1785.3 3255.5 1810.8 3271.4 1836.2 3288.1 1861.7 3305.9 1887.2 3325.8 1912.6 3349.8 1938.1 3374.4 1963.5 3396.9 1988.9 3424.3 2014.4 3454.2 2039.8 3482.4 2065.3 3513.7 2090.8 3546.8 2116.2 3582.4 2141.7 3619.1 2167.1 3655.8 2192.6 3699.6 2218 3742.5" stroke="#80ff00" marker-start="url(#mL)" marker-mid="url(#mL)" marker-end="url(#eL)"/>
<path d="M182 3427.9 207.4 3418.7 232.9 3409.5 258.4 3400.4 283.8 3391.4 309.2 3382.4 334.7 3373.5 360.1 3364.7 385.6 3355.9 411.1 3347.2 436.5 3338.5 462 3330 487.4 3321.6 512.9 3313.3 538.3 3305.1 563.8 3296.9 589.2 3288.7 614.6 3280.5 640.1 3272.2 665.5 3263.8 691 3255.3 716.5 3246.6 741.9 3237.6 767.3 3228.6 792.8 3220 818.2 3212 843.7 3204.2 869.2 3196.7 894.6 3189.4 920 3182.5 945.5 3175.8 971 3169.4 996.4 3163.3 1021.8 3157.6 1047.3 3152.4 1072.8 3147.5 1098.2 3142.7 1123.7 3138 1149.1 3133.1 1174.5 3128.2 1200 3123.8 1225.4 3119.7 1250.9 3115.4 1276.3 3111.3 1301.8 3107.8 1327.2 3105.1 1352.7 3103.7 1378.2 3103.1 1403.6 3103 1429.1 3103.3 1454.5 3103.9 1479.9 3105.2 1505.4 3107.2 1530.8 3109.7 1556.3 3112.5 1581.8 3115.9 1607.2 3120.2 1632.7 3125.2 1658.1 3130.9 1683.6 3137.8 1709 3145.9 1734.4 3155.5 1759.9 3166.3 1785.3 3178 1810.8 3190.5 1836.2 3203.8 1861.7 3218.4 1887.2 3234.8 1912.6 3253.5 1938.1 3273.1 1963.5 3292.9 1988.9 3315.3 2014.4 3339.5 2039.8 3364 2065.3 3390.5 2090.8 3418.9 2116.2 3448.8 2141.7 3479.9 2167.1 3512.5 2192.6 3549.1 2218 3587.7" stroke="#ff00ff" marker-start="url(#mM)" marker-mid="url(#mM)" marker-end="url(#eM)"/>
<path d="M182 3428.7 207.4 3419.5 232.9 3410.5 258.4 3401.5 283.8 3392.6 309.2 3383.8 334.7 3375 360.1 3366.3 385.6 3357.7 411.1 3349.2 436.5 3340.8 462 3332.5 487.4 3324.4 512.9 3316.3 538.3 3308.3 563.8 3300.4 589.2 3292.5 614.6 3284.6 640.1 3276.7 665.5 3268.7 691 3260.6 716.5 3252.3 741.9 3243.8 767.3 3235.3 792.8 3227.3 818.2 3219.9 843.7 3212.9 869.2 3206.2 894.6 3199.7 920 3193.5 945.5 3187.5 971 3181.6 996.4 3176 1021.8 3171 1047.3 3166.7 1072.8 3162.9 1098.2 3159.2 1123.7 3155.6 1149.1 3151.5 1174.5 3147.4 1200 3144.5 1225.4 3142.7 1250.9 3140.9 1276.3 3139.3 1301.8 3137.9 1327.2 3137.1 1352.7 3136.8 1378.2 3137.8 1403.6 3140.1 1429.1 3143.1 1454.5 3146.2 1479.9 3149.6 1505.4 3153.7 1530.8 3158.4 1556.3 3163.7 1581.8 3169.6 1607.2 3176.6 1632.7 3184.7 1658.1 3194.2 1683.6 3205.9 1709 3218.8 1734.4 3233.3 1759.9 3248.9 1785.3 3264.8 1810.8 3281.1 1836.2 3298.2 1861.7 3316.4 1887.2 3336.7 1912.6 3361.3 1938.1 3386.6 1963.5 3409.4 1988.9 3437.3 2014.4 3468 2039.8 3496.7 2065.3 3528.5 2090.8 3562.2 2116.2 3598.4 2141.7 3635.8 2167.1 3673 2192.6 3717.6 2218 3761" stroke="#808080" marker-start="url(#mGy)" marker-mid="url(#mGy)" marker-end="url(#eGy)"/>
<path d="M182 3428.9 207.4 3419.8 232.9 3410.8 258.4 3401.9 283.8 3393 309.2 3384.3 334.7 3375.6 360.1 3367 385.6 3358.4 411.1 3350 436.5 3341.7 462 3333.5 487.4 3325.4 512.9 3317.4 538.3 3309.6 563.8 3301.8 589.2 3294 614.6 3286.2 640.1 3278.4 665.5 3270.6 691 3262.6 716.5 3254.4 741.9 3246.1 767.3 3237.9 792.8 3230.1 818.2 3222.9 843.7 3216.2 869.2 3209.8 894.6 3203.6 920 3197.7 945.5 3191.9 971 3186.1 996.4 3180.7 1021.8 3176 1047.3 3172.1 1072.8 3168.7 1098.2 3165.4 1123.7 3162.2 1149.1 3158.4 1174.5 3154.6 1200 3152.3 1225.4 3151.3 1250.9 3150.5 1276.3 3149.7 1301.8 3149.2 1327.2 3149 1352.7 3149.2 1378.2 3150.9 1403.6 3154 1429.1 3157.9 1454.5 3162 1479.9 3166.3 1505.4 3171.2 1530.8 3176.7 1556.3 3182.8 1581.8 3189.8 1607.2 3197.8 1632.7 3207 1658.1 3218 1683.6 3231.4 1709 3246.1 1734.4 3262.5 1759.9 3279.9 1785.3 3297.4 1810.8 3315 1836.2 3333.6 1861.7 3353.1 1887.2 3374.8 1912.6 3401.7 1938.1 3429.1 1963.5 3453 1988.9 3483.1 2014.4 3516.1 2039.8 3546.4 2065.3 3580.2 2090.8 3615.9 2116.2 3654.5 2141.7 3694.2 2167.1 3733.2 2192.6 3780.8 2218 3826" stroke="#aaaa00" marker-start="url(#mY)" marker-mid="url(#mY)" marker-end="url(#eY)"/>
<path d="M182 3429 207.4 3419.9 232.9 3410.9 258.4 3402 283.8 3393.1 309.2 3384.4 334.7 3375.7 360.1 3367.1 385.6 3358.6 411.1 3350.2 436.5 3341.9 462 3333.7 487.4 3325.6 512.9 3317.7 538.3 3309.8 563.8 3302.1 589.2 3294.3 614.6 3286.6 640.1 3278.8 665.5 3271 691 3263 716.5 3254.9 741.9 3246.6 767.3 3238.4 792.8 3230.6 818.2 3223.6 843.7 3216.9 869.2 3210.5 894.6 3204.4 920 3198.6 945.5 3192.8 971 3187.1 996.4 3181.7 1021.8 3177.1 1047.3 3173.3 1072.8 3169.9 1098.2 3166.7 1123.7 3163.6 1149.1 3159.9 1174.5 3156.1 1200 3153.9 1225.4 3153.2 1250.9 3152.5 1276.3 3152 1301.8 3151.7 1327.2 3151.6 1352.7 3151.9 1378.2 3153.7 1403.6 3157 1429.1 3161.1 1454.5 3165.4 1479.9 3169.8 1505.4 3174.9 1530.8 3180.6 1556.3 3186.9 1581.8 3194.1 1607.2 3202.3 1632.7 3211.8 1658.1 3223.1 1683.6 3236.9 1709 3252 1734.4 3268.7 1759.9 3286.5 1785.3 3304.4 1810.8 3322.3 1836.2 3341.1 1861.7 3360.9 1887.2 3383 1912.6 3410.4 1938.1 3438.2 1963.5 3462.4 1988.9 3492.9 2014.4 3526.5 2039.8 3557 2065.3 3591.2 2090.8 3627.4 2116.2 3666.5 2141.7 3706.7 2167.1 3746.1 2192.6 3794.3 2218 3839.9" stroke="#b8860b" marker-start="url(#mO)" marker-mid="url(#mO)" marker-end="url(#eO)"/>
<path d="M182 3428.5 207.4 3419.3 232.9 3410.2 258.4 3401.2 283.8 3392.3 309.2 3383.4 334.7 3374.6 360.1 3365.9 385.6 3357.2 411.1 3348.7 436.5 3340.2 462 3331.8 487.4 3323.6 512.9 3315.5 538.3 3307.5 563.8 3299.5 589.2 3291.5 614.6 3283.5 640.1 3275.5 665.5 3267.4 691 3259.2 716.5 3250.8 741.9 3242.1 767.3 3233.5 792.8 3225.4 818.2 3217.8 843.7 3210.6 869.2 3203.6 894.6 3197 920 3190.6 945.5 3184.4 971 3178.3 996.4 3172.6 1021.8 3167.4 1047.3 3162.9 1072.8 3158.8 1098.2 3154.8 1123.7 3150.9 1149.1 3146.6 1174.5 3142.2 1200 3139 1225.4 3136.6 1250.9 3134.1 1276.3 3131.8 1301.8 3129.9 1327.2 3128.5 1352.7 3127.9 1378.2 3128.6 1403.6 3130.2 1429.1 3132.4 1454.5 3134.9 1479.9 3137.7 1505.4 3141.3 1530.8 3145.4 1556.3 3150 1581.8 3155.2 1607.2 3161.5 1632.7 3168.8 1658.1 3177.3 1683.6 3187.7 1709 3199.3 1734.4 3212.5 1759.9 3226.8 1785.3 3241.6 1810.8 3256.9 1836.2 3272.9 1861.7 3290.1 1887.2 3309.4 1912.6 3332.5 1938.1 3356.2 1963.5 3378.2 1988.9 3404.7 2014.4 3433.6 2039.8 3461.1 2065.3 3491.5 2090.8 3523.8 2116.2 3558.4 2141.7 3594.1 2167.1 3630.1 2192.6 3672.5 2218 3714.6" stroke="#80ff00" marker-start="url(#mL)" marker-mid="url(#mL)" marker-end="url(#eL)"/>
<path d="M182 3429 207.4 3419.9 232.9 3410.9 258.4 3402 283.8 3393.2 309.2 3384.4 334.7 3375.7 360.1 3367.1 385.6 3358.6 411.1 3350.2 436.5 3341.9 462 3333.7 487.4 3325.7 512.9 3317.8 538.3 3309.9 563.8 3302.1 589.2 3294.4 614.6 3286.7 640.1 3278.9 665.5 3271.1 691 3263.2 716.5 3255.1 741.9 3246.8 767.3 3238.6 792.8 3230.8 818.2 3223.8 843.7 3217.1 869.2 3210.8 894.6 3204.7 920 3198.8 945.5 3193.1 971 3187.4 996.4 3182.1 1021.8 3177.5 1047.3 3173.7 1072.8 3170.3 1098.2 3167.2 1123.7 3164.1 1149.1 3160.4 1174.5 3156.6 1200 3154.5 1225.4 3153.8 1250.9 3153.2 1276.3 3152.7 1301.8 3152.5 1327.2 3152.5 1352.7 3152.8 1378.2 3154.6 1403.6 3158 1429.1 3162.2 1454.5 3166.5 1479.9 3171 1505.4 3176.2 1530.8 3181.9 1556.3 3188.3 1581.8 3195.5 1607.2 3203.8 1632.7 3213.4 1658.1 3224.8 1683.6 3238.7 1709 3253.9 1734.4 3270.8 1759.9 3288.7 1785.3 3306.7 1810.8 3324.7 1836.2 3343.7 1861.7 3363.6 1887.2 3385.7 1912.6 3413.3 1938.1 3441.2 1963.5 3465.5 1988.9 3496.1 2014.4 3529.9 2039.8 3560.6 2065.3 3594.9 2090.8 3631.2 2116.2 3670.5 2141.7 3710.9 2167.1 3750.4 2192.6 3798.8 2218 3844.5" stroke="#008000" marker-start="url(#mG)" marker-mid="url(#mG)" marker-end="url(#eG)"/>
<path d="M182 3428.7 207.4 3419.5 232.9 3410.5 258.4 3401.5 283.8 3392.6 309.2 3383.8 334.7 3375 360.1 3366.4 385.6 3357.8 411.1 3349.3 436.5 3340.9 462 3332.6 487.4 3324.4 512.9 3316.4 538.3 3308.4 563.8 3300.5 589.2 3292.6 614.6 3284.8 640.1 3276.8 665.5 3268.9 691 3260.8 716.5 3252.5 741.9 3243.9 767.3 3235.5 792.8 3227.5 818.2 3220.1 843.7 3213.1 869.2 3206.4 894.6 3200 920 3193.8 945.5 3187.8 971 3181.9 996.4 3176.3 1021.8 3171.4 1047.3 3167.1 1072.8 3163.3 1098.2 3159.7 1123.7 3156.1 1149.1 3152 1174.5 3147.9 1200 3145.1 1225.4 3143.3 1250.9 3141.6 1276.3 3140 1301.8 3138.7 1327.2 3137.9 1352.7 3137.7 1378.2 3138.8 1403.6 3141.1 1429.1 3144.1 1454.5 3147.3 1479.9 3150.8 1505.4 3155 1530.8 3159.8 1556.3 3165 1581.8 3171.1 1607.2 3178.1 1632.7 3186.3 1658.1 3195.9 1683.6 3207.7 1709 3220.8 1734.4 3235.4 1759.9 3251.1 1785.3 3267.2 1810.8 3283.5 1836.2 3300.7 1861.7 3319 1887.2 3339.4 1912.6 3364.2 1938.1 3389.6 1963.5 3412.5 1988.9 3440.6 2014.4 3471.4 2039.8 3500.2 2065.3 3532.2 2090.8 3566 2116.2 3602.4 2141.7 3640 2167.1 3677.3 2192.6 3722.2 2218 3765.7" stroke="#80ff00" marker-start="url(#mL)" marker-mid="url(#mL)" marker-end="url(#eL)"/>
<path d="M182 3429.2 207.4 3420.2 232.9 3411.2 258.4 3402.3 283.8 3393.5 309.2 3384.8 334.7 3376.2 360.1 3367.6 385.6 3359.2 411.1 3350.8 436.5 3342.6 462 3334.5 487.4 3326.5 512.9 3318.7 538.3 3310.9 563.8 3303.2 589.2 3295.5 614.6 3287.9 640.1 3280.2 665.5 3272.5 691 3264.7 716.5 3256.7 741.9 3248.6 767.3 3240.6 792.8 3233 818.2 3226.1 843.7 3219.7 869.2 3213.6 894.6 3207.7 920 3202.1 945.5 3196.5 971 3191 996.4 3185.8 1021.8 3181.4 1047.3 3177.9 1072.8 3174.9 1098.2 3172.1 1123.7 3169.2 1149.1 3165.9 1174.5 3162.3 1200 3160.6 1225.4 3160.6 1250.9 3160.7 1276.3 3161 1301.8 3161.4 1327.2 3161.9 1352.7 3162.5 1378.2 3164.8 1403.6 3168.9 1429.1 3173.9 1454.5 3179 1479.9 3184.1 1505.4 3189.9 1530.8 3196.3 1556.3 3203.4 1581.8 3211.3 1607.2 3220.4 1632.7 3230.9 1658.1 3243.4 1683.6 3258.8 1709 3275.4 1734.4 3293.7 1759.9 3313 1785.3 3332.2 1810.8 3351.4 1836.2 3371.4 1861.7 3392.4 1887.2 3415.7 1912.6 3445 1938.1 3474.6 1963.5 3499.8 1988.9 3532 2014.4 3567.8 2039.8 3599.7 2065.3 3635.6 2090.8 3673.4 2116.2 3714.6 2141.7 3756.8 2167.1 3797.7 2192.6 3848.5 2218 3895.6" stroke="#800080" marker-start="url(#mP)" marker-mid="url(#mP)" marker-end="url(#eP)"/>
<path d="M182 3428.2 207.4 3419 232.9 3409.9 258.4 3400.8 283.8 3391.8 309.2 3382.9 334.7 3374 360.1 3365.3 385.6 3356.5 411.1 3347.9 436.5 3339.3 462 3330.9 487.4 3322.6 512.9 3314.4 538.3 3306.2 563.8 3298.1 589.2 3290.1 614.6 3282 640.1 3273.8 665.5 3265.6 691 3257.2 716.5 3248.6 741.9 3239.8 767.3 3231 792.8 3222.6 818.2 3214.8 843.7 3207.3 869.2 3200.1 894.6 3193.1 920 3186.4 945.5 3180 971 3173.8 996.4 3167.9 1021.8 3162.4 1047.3 3157.5 1072.8 3153 1098.2 3148.6 1123.7 3144.3 1149.1 3139.7 1174.5 3135 1200 3131.2 1225.4 3127.9 1250.9 3124.5 1276.3 3121.3 1301.8 3118.6 1327.2 3116.5 1352.7 3115.5 1378.2 3115.5 1403.6 3116.3 1429.1 3117.5 1454.5 3119 1479.9 3121.1 1505.4 3123.8 1530.8 3127.1 1556.3 3130.8 1581.8 3135.1 1607.2 3140.4 1632.7 3146.5 1658.1 3153.6 1683.6 3162.2 1709 3172 1734.4 3183.3 1759.9 3195.8 1785.3 3209.1 1810.8 3222.9 1836.2 3237.6 1861.7 3253.4 1887.2 3271.2 1912.6 3292.1 1938.1 3313.7 1963.5 3334.6 1988.9 3359 2014.4 3385.4 2039.8 3411.4 2065.3 3439.8 2090.8 3470.2 2116.2 3502.3 2141.7 3535.7 2167.1 3569.9 2192.6 3609.4 2218 3649.7" stroke="#00aaaa" marker-start="url(#mT)" marker-mid="url(#mT)" marker-end="url(#eT)"/>
<path d="M182 3428.5 207.4 3419.3 232.9 3410.3 258.4 3401.3 283.8 3392.3 309.2 3383.5 334.7 3374.7 360.1 3366 385.6 3357.3 411.1 3348.8 436.5 3340.3 462 3332 487.4 3323.8 512.9 3315.7 538.3 3307.6 563.8 3299.7 589.2 3291.7 614.6 3283.8 640.1 3275.8 665.5 3267.7 691 3259.5 716.5 3251.1 741.9 3242.4 767.3 3233.9 792.8 3225.8 818.2 3218.2 843.7 3211 869.2 3204.2 894.6 3197.5 920 3191.2 945.5 3185 971 3179 996.4 3173.3 1021.8 3168.2 1047.3 3163.7 1072.8 3159.6 1098.2 3155.7 1123.7 3151.8 1149.1 3147.6 1174.5 3143.2 1200 3140.1 1225.4 3137.8 1250.9 3135.5 1276.3 3133.3 1301.8 3131.5 1327.2 3130.2 1352.7 3129.7 1378.2 3130.4 1403.6 3132.2 1429.1 3134.5 1454.5 3137.1 1479.9 3140.1 1505.4 3143.8 1530.8 3148 1556.3 3152.7 1581.8 3158.1 1607.2 3164.5 1632.7 3172 1658.1 3180.7 1683.6 3191.3 1709 3203.2 1734.4 3216.6 1759.9 3231.2 1785.3 3246.2 1810.8 3261.7 1836.2 3278 1861.7 3295.4 1887.2 3314.9 1912.6 3338.2 1938.1 3362.3 1963.5 3384.4 1988.9 3411.2 2014.4 3440.5 2039.8 3468.2 2065.3 3498.9 2090.8 3531.5 2116.2 3566.4 2141.7 3602.4 2167.1 3638.7 2192.6 3681.6 2218 3723.9" stroke="#b8860b" marker-start="url(#mO)" marker-mid="url(#mO)" marker-end="url(#eO)"/>
<path d="M182 3428.8 207.4 3419.6 232.9 3410.6 258.4 3401.6 283.8 3392.7 309.2 3383.9 334.7 3375.2 360.1 3366.6 385.6 3358 411.1 3349.5 436.5 3341.1 462 3332.9 487.4 3324.7 512.9 3316.7 538.3 3308.8 563.8 3300.9 589.2 3293.1 614.6 3285.2 640.1 3277.3 665.5 3269.4 691 3261.3 716.5 3253.1 741.9 3244.6 767.3 3236.2 792.8 3228.3 818.2 3221 843.7 3214.1 869.2 3207.5 894.6 3201.1 920 3195 945.5 3189 971 3183.2 996.4 3177.7 1021.8 3172.8 1047.3 3168.7 1072.8 3164.9 1098.2 3161.4 1123.7 3157.9 1149.1 3154 1174.5 3149.9 1200 3147.3 1225.4 3145.8 1250.9 3144.3 1276.3 3143 1301.8 3142 1327.2 3141.3 1352.7 3141.2 1378.2 3142.5 1403.6 3145.1 1429.1 3148.4 1454.5 3151.8 1479.9 3155.6 1505.4 3160 1530.8 3165 1556.3 3170.5 1581.8 3176.8 1607.2 3184.2 1632.7 3192.7 1658.1 3202.7 1683.6 3215 1709 3228.6 1734.4 3243.7 1759.9 3260 1785.3 3276.5 1810.8 3293.2 1836.2 3310.8 1861.7 3329.5 1887.2 3350.3 1912.6 3375.8 1938.1 3401.7 1963.5 3425 1988.9 3453.7 2014.4 3485.2 2039.8 3514.4 2065.3 3546.9 2090.8 3581.4 2116.2 3618.5 2141.7 3656.6 2167.1 3694.5 2192.6 3740.2 2218 3784.2" stroke="#80ff00" marker-start="url(#mL)" marker-mid="url(#mL)" marker-end="url(#eL)"/>
<path d="M182 3428.7 207.4 3419.6 232.9 3410.5 258.4 3401.6 283.8 3392.7 309.2 3383.9 334.7 3375.1 360.1 3366.5 385.6 3357.9 411.1 3349.4 436.5 3341 462 3332.7 487.4 3324.6 512.9 3316.5 538.3 3308.6 563.8 3300.7 589.2 3292.9 614.6 3285 640.1 3277.1 665.5 3269.1 691 3261.1 716.5 3252.8 741.9 3244.3 767.3 3235.9 792.8 3227.9 818.2 3220.6 843.7 3213.6 869.2 3207 894.6 3200.6 920 3194.4 945.5 3188.4 971 3182.5 996.4 3177 1021.8 3172.1 1047.3 3167.9 1072.8 3164.1 1098.2 3160.6 1123.7 3157 1149.1 3153 1174.5 3148.9 1200 3146.2 1225.4 3144.6 1250.9 3143 1276.3 3141.5 1301.8 3140.4 1327.2 3139.6 1352.7 3139.5 1378.2 3140.6 1403.6 3143.1 1429.1 3146.2 1454.5 3149.6 1479.9 3153.2 1505.4 3157.5 1530.8 3162.4 1556.3 3167.8 1581.8 3173.9 1607.2 3181.2 1632.7 3189.5 1658.1 3199.3 1683.6 3211.4 1709 3224.7 1734.4 3239.5 1759.9 3255.5 1785.3 3271.8 1810.8 3288.4 1836.2 3305.8 1861.7 3324.2 1887.2 3344.8 1912.6 3370 1938.1 3395.7 1963.5 3418.7 1988.9 3447.1 2014.4 3478.3 2039.8 3507.3 2065.3 3539.5 2090.8 3573.7 2116.2 3610.5 2141.7 3648.3 2167.1 3685.9 2192.6 3731.2 2218 3774.9" stroke="#80ff00" marker-start="url(#mL)" marker-mid="url(#mL)" marker-end="url(#eL)"/>
<path d="M182 3428.2 207.4 3419.1 232.9 3409.9 258.4 3400.9 283.8 3391.9 309.2 3383 334.7 3374.2 360.1 3365.4 385.6 3356.7 411.1 3348.1 436.5 3339.5 462 3331.1 487.4 3322.8 512.9 3314.6 538.3 3306.5 563.8 3298.4 589.2 3290.4 614.6 3282.3 640.1 3274.2 665.5 3266 691 3257.7 716.5 3249.1 741.9 3240.3 767.3 3231.6 792.8 3223.2 818.2 3215.5 843.7 3208 869.2 3200.8 894.6 3193.9 920 3187.3 945.5 3180.9 971 3174.7 996.4 3168.9 1021.8 3163.5 1047.3 3158.7 1072.8 3154.2 1098.2 3149.9 1123.7 3145.7 1149.1 3141.2 1174.5 3136.6 1200 3132.9 1225.4 3129.8 1250.9 3126.6 1276.3 3123.6 1301.8 3121 1327.2 3119.1 1352.7 3118.2 1378.2 3118.3 1403.6 3119.3 1429.1 3120.7 1454.5 3122.4 1479.9 3124.7 1505.4 3127.6 1530.8 3131 1556.3 3134.9 1581.8 3139.4 1607.2 3144.9 1632.7 3151.3 1658.1 3158.7 1683.6 3167.6 1709 3177.8 1734.4 3189.5 1759.9 3202.5 1785.3 3216 1810.8 3230.2 1836.2 3245.1 1861.7 3261.3 1887.2 3279.4 1912.6 3300.7 1938.1 3322.8 1963.5 3343.9 1988.9 3368.8 2014.4 3395.7 2039.8 3422.1 2065.3 3450.9 2090.8 3481.7 2116.2 3514.4 2141.7 3548.2 2167.1 3582.8 2192.6 3622.9 2218 3663.6" stroke="#008000" marker-start="url(#mG)" marker-mid="url(#mG)" marker-end="url(#eG)"/>
<path d="M182 3428.5 207.4 3419.4 232.9 3410.3 258.4 3401.3 283.8 3392.4 309.2 3383.5 334.7 3374.8 360.1 3366.1 385.6 3357.4 411.1 3348.9 436.5 3340.4 462 3332.1 487.4 3323.9 512.9 3315.8 538.3 3307.8 563.8 3299.9 589.2 3291.9 614.6 3284 640.1 3276 665.5 3267.9 691 3259.8 716.5 3251.4 741.9 3242.8 767.3 3234.3 792.8 3226.2 818.2 3218.7 843.7 3211.5 869.2 3204.7 894.6 3198.1 920 3191.8 945.5 3185.6 971 3179.6 996.4 3174 1021.8 3168.9 1047.3 3164.4 1072.8 3160.4 1098.2 3156.6 1123.7 3152.8 1149.1 3148.6 1174.5 3144.3 1200 3141.2 1225.4 3139 1250.9 3136.8 1276.3 3134.8 1301.8 3133.1 1327.2 3131.9 1352.7 3131.5 1378.2 3132.3 1403.6 3134.1 1429.1 3136.7 1454.5 3139.4 1479.9 3142.5 1505.4 3146.3 1530.8 3150.6 1556.3 3155.4 1581.8 3161 1607.2 3167.6 1632.7 3175.2 1658.1 3184.1 1683.6 3195 1709 3207.1 1734.4 3220.8 1759.9 3235.6 1785.3 3250.9 1810.8 3266.6 1836.2 3283 1861.7 3300.6 1887.2 3320.3 1912.6 3344 1938.1 3368.3 1963.5 3390.7 1988.9 3417.7 2014.4 3447.3 2039.8 3475.3 2065.3 3506.3 2090.8 3539.2 2116.2 3574.4 2141.7 3610.7 2167.1 3647.2 2192.6 3690.6 2218 3733.2" stroke="#00aaaa" marker-start="url(#mT)" marker-mid="url(#mT)" marker-end="url(#eT)"/>
<path d="M182 3428.7 207.4 3419.6 232.9 3410.6 258.4 3401.6 283.8 3392.7 309.2 3383.9 334.7 3375.2 360.1 3366.5 385.6 3357.9 411.1 3349.5 436.5 3341.1 462 3332.8 487.4 3324.7 512.9 3316.6 538.3 3308.7 563.8 3300.8 589.2 3293 614.6 3285.1 640.1 3277.2 665.5 3269.3 691 3261.2 716.5 3252.9 741.9 3244.4 767.3 3236.1 792.8 3228.1 818.2 3220.8 843.7 3213.8 869.2 3207.2 894.6 3200.8 920 3194.7 945.5 3188.7 971 3182.9 996.4 3177.3 1021.8 3172.5 1047.3 3168.3 1072.8 3164.5 1098.2 3161 1123.7 3157.5 1149.1 3153.5 1174.5 3149.4 1200 3146.7 1225.4 3145.2 1250.9 3143.6 1276.3 3142.3 1301.8 3141.2 1327.2 3140.5 1352.7 3140.4 1378.2 3141.6 1403.6 3144.1 1429.1 3147.3 1454.5 3150.7 1479.9 3154.4 1505.4 3158.7 1530.8 3163.7 1556.3 3169.1 1581.8 3175.4 1607.2 3182.7 1632.7 3191.1 1658.1 3201 1683.6 3213.2 1709 3226.6 1734.4 3241.6 1759.9 3257.7 1785.3 3274.1 1810.8 3290.8 1836.2 3308.3 1861.7 3326.8 1887.2 3347.6 1912.6 3372.9 1938.1 3398.7 1963.5 3421.8 1988.9 3450.4 2014.4 3481.7 2039.8 3510.9 2065.3 3543.2 2090.8 3577.5 2116.2 3614.5 2141.7 3652.5 2167.1 3690.2 2192.6 3735.7 2218 3779.6" stroke="#00aaaa" marker-start="url(#mT)" marker-mid="url(#mT)" marker-end="url(#eT)"/>
<path d="M182 3428.2 207.4 3419 232.9 3409.8 258.4 3400.8 283.8 3391.8 309.2 3382.9 334.7 3374 360.1 3365.2 385.6 3356.5 411.1 3347.9 436.5 3339.3 462 3330.8 487.4 3322.5 512.9 3314.3 538.3 3306.1 563.8 3298 589.2 3290 614.6 3281.8 640.1 3273.7 665.5 3265.5 691 3257.1 716.5 3248.5 741.9 3239.6 767.3 3230.9 792.8 3222.4 818.2 3214.6 843.7 3207.1 869.2 3199.8 894.6 3192.8 920 3186.1 945.5 3179.7 971 3173.4 996.4 3167.5 1021.8 3162.1 1047.3 3157.1 1072.8 3152.6 1098.2 3148.2 1123.7 3143.8 1149.1 3139.2 1174.5 3134.5 1200 3130.6 1225.4 3127.3 1250.9 3123.9 1276.3 3120.6 1301.8 3117.7 1327.2 3115.7 1352.7 3114.6 1378.2 3114.6 1403.6 3115.3 1429.1 3116.5 1454.5 3117.9 1479.9 3119.9 1505.4 3122.6 1530.8 3125.8 1556.3 3129.4 1581.8 3133.6 1607.2 3138.9 1632.7 3144.9 1658.1 3151.9 1683.6 3160.3 1709 3170 1734.4 3181.2 1759.9 3193.6 1785.3 3206.7 1810.8 3220.5 1836.2 3235 1861.7 3250.8 1887.2 3268.5 1912.6 3289.2 1938.1 3310.6 1963.5 3331.4 1988.9 3355.7 2014.4 3382 2039.8 3407.9 2065.3 3436.1 2090.8 3466.3 2116.2 3498.3 2141.7 3531.5 2167.1 3565.6 2192.6 3604.9 2218 3645" stroke="#80ff00" marker-start="url(#mL)" marker-mid="url(#mL)" marker-end="url(#eL)"/>
<path d="M182 3428.3 207.4 3419.2 232.9 3410.1 258.4 3401 283.8 3392.1 309.2 3383.2 334.7 3374.4 360.1 3365.6 385.6 3356.9 411.1 3348.4 436.5 3339.8 462 3331.4 487.4 3323.2 512.9 3315 538.3 3306.9 563.8 3298.9 589.2 3290.9 614.6 3282.9 640.1 3274.8 665.5 3266.6 691 3258.4 716.5 3249.8 741.9 3241.1 767.3 3232.5 792.8 3224.2 818.2 3216.5 843.7 3209.2 869.2 3202.1 894.6 3195.3 920 3188.8 945.5 3182.5 971 3176.4 996.4 3170.6 1021.8 3165.3 1047.3 3160.6 1072.8 3156.3 1098.2 3152.2 1123.7 3148 1149.1 3143.6 1174.5 3139.1 1200 3135.6 1225.4 3132.9 1250.9 3130 1276.3 3127.3 1301.8 3125 1327.2 3123.4 1352.7 3122.6 1378.2 3123 1403.6 3124.2 1429.1 3126 1454.5 3128.1 1479.9 3130.6 1505.4 3133.8 1530.8 3137.6 1556.3 3141.7 1581.8 3146.6 1607.2 3152.5 1632.7 3159.2 1658.1 3167.1 1683.6 3176.7 1709 3187.6 1734.4 3200 1759.9 3213.5 1785.3 3227.7 1810.8 3242.3 1836.2 3257.8 1861.7 3274.4 1887.2 3293.1 1912.6 3315.1 1938.1 3338 1963.5 3359.5 1988.9 3385.1 2014.4 3412.9 2039.8 3439.8 2065.3 3469.4 2090.8 3500.8 2116.2 3534.4 2141.7 3569 2167.1 3604.3 2192.6 3645.5 2218 3686.8" stroke="#800080" marker-start="url(#mP)" marker-mid="url(#mP)" marker-end="url(#eP)"/>
<path d="M182 3429.2 207.4 3420.1 232.9 3411.1 258.4 3402.2 283.8 3393.4 309.2 3384.7 334.7 3376.1 360.1 3367.5 385.6 3359.1 411.1 3350.7 436.5 3342.5 462 3334.3 487.4 3326.4 512.9 3318.5 538.3 3310.7 563.8 3303 589.2 3295.3 614.6 3287.7 640.1 3280 665.5 3272.3 691 3264.5 716.5 3256.4 741.9 3248.2 767.3 3240.2 792.8 3232.6 818.2 3225.7 843.7 3219.2 869.2 3213.1 894.6 3207.2 920 3201.5 945.5 3195.9 971 3190.3 996.4 3185.1 1021.8 3180.7 1047.3 3177.1 1072.8 3174 1098.2 3171.2 1123.7 3168.3 1149.1 3164.9 1174.5 3161.2 1200 3159.5 1225.4 3159.3 1250.9 3159.3 1276.3 3159.5 1301.8 3159.7 1327.2 3160.2 1352.7 3160.8 1378.2 3163 1403.6 3166.9 1429.1 3171.8 1454.5 3176.7 1479.9 3181.7 1505.4 3187.4 1530.8 3193.7 1556.3 3200.6 1581.8 3208.5 1607.2 3217.4 1632.7 3227.7 1658.1 3240 1683.6 3255.1 1709 3271.5 1734.4 3289.6 1759.9 3308.6 1785.3 3327.6 1810.8 3346.6 1836.2 3366.4 1861.7 3387.2 1887.2 3410.2 1912.6 3439.3 1938.1 3468.6 1963.5 3493.5 1988.9 3525.5 2014.4 3560.9 2039.8 3592.6 2065.3 3628.2 2090.8 3665.7 2116.2 3706.6 2141.7 3748.4 2167.1 3789.1 2192.6 3839.4 2218 3886.3" stroke="#800080" marker-start="url(#mP)" marker-mid="url(#mP)" marker-end="url(#eP)"/>
<path d="M182 3428.6 207.4 3419.5 232.9 3410.4 258.4 3401.4 283.8 3392.5 309.2 3383.6 334.7 3374.9 360.1 3366.2 385.6 3357.6 411.1 3349.1 436.5 3340.6 462 3332.3 487.4 3324.1 512.9 3316.1 538.3 3308.1 563.8 3300.1 589.2 3292.2 614.6 3284.3 640.1 3276.4 665.5 3268.3 691 3260.2 716.5 3251.8 741.9 3243.3 767.3 3234.8 792.8 3226.7 818.2 3219.3 843.7 3212.2 869.2 3205.4 894.6 3198.9 920 3192.6 945.5 3186.5 971 3180.6 996.4 3175 1021.8 3169.9 1047.3 3165.6 1072.8 3161.6 1098.2 3157.9 1123.7 3154.2 1149.1 3150 1174.5 3145.8 1200 3142.8 1225.4 3140.9 1250.9 3138.9 1276.3 3137 1301.8 3135.5 1327.2 3134.5 1352.7 3134.2 1378.2 3135.1 1403.6 3137.1 1429.1 3139.9 1454.5 3142.8 1479.9 3146.1 1505.4 3150 1530.8 3154.5 1556.3 3159.5 1581.8 3165.3 1607.2 3172.1 1632.7 3179.9 1658.1 3189.2 1683.6 3200.4 1709 3213 1734.4 3227 1759.9 3242.3 1785.3 3257.9 1810.8 3273.8 1836.2 3290.6 1861.7 3308.5 1887.2 3328.5 1912.6 3352.7 1938.1 3377.4 1963.5 3400 1988.9 3427.5 2014.4 3457.7 2039.8 3486 2065.3 3517.4 2090.8 3550.7 2116.2 3586.4 2141.7 3623.3 2167.1 3660.1 2192.6 3704.1 2218 3747.1" stroke="#80ff00" marker-start="url(#mL)" marker-mid="url(#mL)" marker-end="url(#eL)"/>
<path d="M182 3429.1 207.4 3420 232.9 3411 258.4 3402.1 283.8 3393.3 309.2 3384.5 334.7 3375.9 360.1 3367.3 385.6 3358.8 411.1 3350.5 436.5 3342.2 462 3334 487.4 3326 512.9 3318.1 538.3 3310.3 563.8 3302.5 589.2 3294.8 614.6 3287.1 640.1 3279.4 665.5 3271.6 691 3263.8 716.5 3255.7 741.9 3247.4 767.3 3239.3 792.8 3231.6 818.2 3224.6 843.7 3218.1 869.2 3211.8 894.6 3205.8 920 3200 945.5 3194.3 971 3188.7 996.4 3183.4 1021.8 3178.9 1047.3 3175.2 1072.8 3172 1098.2 3169 1123.7 3165.9 1149.1 3162.4 1174.5 3158.7 1200 3156.7 1225.4 3156.3 1250.9 3155.9 1276.3 3155.7 1301.8 3155.7 1327.2 3155.9 1352.7 3156.3 1378.2 3158.3 1403.6 3161.9 1429.1 3166.5 1454.5 3171.1 1479.9 3175.8 1505.4 3181.2 1530.8 3187.2 1556.3 3193.8 1581.8 3201.3 1607.2 3209.8 1632.7 3219.7 1658.1 3231.5 1683.6 3246 1709 3261.7 1734.4 3279.1 1759.9 3297.6 1785.3 3316 1810.8 3334.4 1836.2 3353.8 1861.7 3374.1 1887.2 3396.6 1912.6 3424.8 1938.1 3453.4 1963.5 3478 1988.9 3509.2 2014.4 3543.7 2039.8 3574.8 2065.3 3609.7 2090.8 3646.5 2116.2 3686.5 2141.7 3727.6 2167.1 3767.6 2192.6 3816.9 2218 3863.1" stroke="#000000" marker-start="url(#mK)" marker-mid="url(#mK)" marker-end="url(#eK)"/>
<path d="M182 3428.8 207.4 3419.7 232.9 3410.6 258.4 3401.7 283.8 3392.8 309.2 3384 334.7 3375.3 360.1 3366.6 385.6 3358.1 411.1 3349.6 436.5 3341.2 462 3333 487.4 3324.9 512.9 3316.9 538.3 3309 563.8 3301.1 589.2 3293.3 614.6 3285.4 640.1 3277.6 665.5 3269.6 691 3261.6 716.5 3253.4 741.9 3244.9 767.3 3236.6 792.8 3228.7 818.2 3221.4 843.7 3214.5 869.2 3208 894.6 3201.7 920 3195.6 945.5 3189.7 971 3183.8 996.4 3178.4 1021.8 3173.5 1047.3 3169.4 1072.8 3165.8 1098.2 3162.3 1123.7 3158.9 1149.1 3155 1174.5 3151 1200 3148.4 1225.4 3147 1250.9 3145.7 1276.3 3144.5 1301.8 3143.6 1327.2 3143 1352.7 3143 1378.2 3144.4 1403.6 3147.1 1429.1 3150.5 1454.5 3154.1 1479.9 3158 1505.4 3162.5 1530.8 3167.6 1556.3 3173.2 1581.8 3179.7 1607.2 3187.2 1632.7 3195.8 1658.1 3206.1 1683.6 3218.7 1709 3232.5 1734.4 3247.9 1759.9 3264.4 1785.3 3281.1 1810.8 3298.1 1836.2 3315.9 1861.7 3334.7 1887.2 3355.7 1912.6 3381.5 1938.1 3407.8 1963.5 3431.2 1988.9 3460.2 2014.4 3492.1 2039.8 3521.5 2065.3 3554.3 2090.8 3589 2116.2 3626.5 2141.7 3665 2167.1 3703.1 2192.6 3749.2 2218 3793.5" stroke="#00aaaa" marker-start="url(#mT)" marker-mid="url(#mT)" marker-end="url(#eT)"/>
<path d="M182 3428 207.4 3418.8 232.9 3409.7 258.4 3400.6 283.8 3391.6 309.2 3382.6 334.7 3373.8 360.1 3364.9 385.6 3356.2 411.1 3347.5 436.5 3338.9 462 3330.4 487.4 3322 512.9 3313.8 538.3 3305.6 563.8 3297.5 589.2 3289.3 614.6 3281.2 640.1 3273 665.5 3264.7 691 3256.2 716.5 3247.5 741.9 3238.6 767.3 3229.8 792.8 3221.3 818.2 3213.3 843.7 3205.7 869.2 3198.3 894.6 3191.2 920 3184.4 945.5 3177.8 971 3171.5 996.4 3165.5 1021.8 3159.9 1047.3 3154.8 1072.8 3150.1 1098.2 3145.5 1123.7 3141 1149.1 3136.2 1174.5 3131.4 1200 3127.3 1225.4 3123.6 1250.9 3119.8 1276.3 3116.1 1301.8 3112.9 1327.2 3110.5 1352.7 3109.3 1378.2 3109 1403.6 3109.3 1429.1 3110.1 1454.5 3111.1 1479.9 3112.8 1505.4 3115.1 1530.8 3118 1556.3 3121.2 1581.8 3125 1607.2 3129.8 1632.7 3135.4 1658.1 3141.7 1683.6 3149.4 1709 3158.3 1734.4 3168.7 1759.9 3180.3 1785.3 3192.8 1810.8 3205.9 1836.2 3219.9 1861.7 3235 1887.2 3252.2 1912.6 3271.9 1938.1 3292.4 1963.5 3312.7 1988.9 3336.1 2014.4 3361.3 2039.8 3386.5 2065.3 3414 2090.8 3443.3 2116.2 3474.3 2141.7 3506.4 2167.1 3539.8 2192.6 3577.8 2218 3617.2" stroke="#80ff00" marker-start="url(#mL)" marker-mid="url(#mL)" marker-end="url(#eL)"/>
<path d="M182 3428 207.4 3418.8 232.9 3409.7 258.4 3400.6 283.8 3391.6 309.2 3382.6 334.7 3373.7 360.1 3364.9 385.6 3356.1 411.1 3347.5 436.5 3338.8 462 3330.3 487.4 3322 512.9 3313.7 538.3 3305.5 563.8 3297.4 589.2 3289.2 614.6 3281.1 640.1 3272.8 665.5 3264.5 691 3256.1 716.5 3247.4 741.9 3238.5 767.3 3229.6 792.8 3221.1 818.2 3213.1 843.7 3205.4 869.2 3198 894.6 3190.9 920 3184.1 945.5 3177.5 971 3171.2 996.4 3165.1 1021.8 3159.6 1047.3 3154.4 1072.8 3149.7 1098.2 3145.1 1123.7 3140.5 1149.1 3135.7 1174.5 3130.9 1200 3126.8 1225.4 3123 1250.9 3119.1 1276.3 3115.3 1301.8 3112.1 1327.2 3109.7 1352.7 3108.4 1378.2 3108.1 1403.6 3108.3 1429.1 3109 1454.5 3110 1479.9 3111.6 1505.4 3113.9 1530.8 3116.7 1556.3 3119.8 1581.8 3123.6 1607.2 3128.3 1632.7 3133.8 1658.1 3140 1683.6 3147.6 1709 3156.4 1734.4 3166.6 1759.9 3178.1 1785.3 3190.5 1810.8 3203.5 1836.2 3217.3 1861.7 3232.4 1887.2 3249.4 1912.6 3269 1938.1 3289.4 1963.5 3309.6 1988.9 3332.8 2014.4 3357.9 2039.8 3383 2065.3 3410.3 2090.8 3439.5 2116.2 3470.3 2141.7 3502.3 2167.1 3535.5 2192.6 3573.3 2218 3612.5" stroke="#808080" marker-start="url(#mGy)" marker-mid="url(#mGy)" marker-end="url(#eGy)"/>
<path d="M182 3428.8 207.4 3419.7 232.9 3410.6 258.4 3401.7 283.8 3392.8 309.2 3384 334.7 3375.2 360.1 3366.6 385.6 3358 411.1 3349.6 436.5 3341.2 462 3332.9 487.4 3324.8 512.9 3316.8 538.3 3308.9 563.8 3301 589.2 3293.2 614.6 3285.3 640.1 3277.4 665.5 3269.5 691 3261.5 716.5 3253.2 741.9 3244.8 767.3 3236.4 792.8 3228.5 818.2 3221.2 843.7 3214.3 869.2 3207.7 894.6 3201.4 920 3195.3 945.5 3189.4 971 3183.5 996.4 3178 1021.8 3173.2 1047.3 3169 1072.8 3165.4 1098.2 3161.9 1123.7 3158.4 1149.1 3154.5 1174.5 3150.4 1200 3147.8 1225.4 3146.4 1250.9 3145 1276.3 3143.8 1301.8 3142.8 1327.2 3142.2 1352.7 3142.1 1378.2 3143.4 1403.6 3146.1 1429.1 3149.4 1454.5 3153 1479.9 3156.8 1505.4 3161.2 1530.8 3166.3 1556.3 3171.9 1581.8 3178.2 1607.2 3185.7 1632.7 3194.3 1658.1 3204.4 1683.6 3216.8 1709 3230.5 1734.4 3245.8 1759.9 3262.2 1785.3 3278.8 1810.8 3295.7 1836.2 3313.3 1861.7 3332.1 1887.2 3353 1912.6 3378.6 1938.1 3404.8 1963.5 3428.1 1988.9 3456.9 2014.4 3488.6 2039.8 3518 2065.3 3550.6 2090.8 3585.2 2116.2 3622.5 2141.7 3660.8 2167.1 3698.8 2192.6 3744.7 2218 3788.9" stroke="#000000" marker-start="url(#mK)" marker-mid="url(#mK)" marker-end="url(#eK)"/>
<path d="M182 3428.4 207.4 3419.3 232.9 3410.2 258.4 3401.2 283.8 3392.2 309.2 3383.4 334.7 3374.6 360.1 3365.8 385.6 3357.2 411.1 3348.6 436.5 3340.1 462 3331.8 487.4 3323.5 512.9 3315.4 538.3 3307.4 563.8 3299.4 589.2 3291.4 614.6 3283.4 640.1 3275.4 665.5 3267.3 691 3259.1 716.5 3250.6 741.9 3241.9 767.3 3233.4 792.8 3225.2 818.2 3217.6 843.7 3210.3 869.2 3203.4 894.6 3196.7 920 3190.3 945.5 3184 971 3178 996.4 3172.3 1021.8 3167.1 1047.3 3162.5 1072.8 3158.3 1098.2 3154.4 1123.7 3150.4 1149.1 3146.1 1174.5 3141.7 1200 3138.4 1225.4 3135.9 1250.9 3133.4 1276.3 3131 1301.8 3129.1 1327.2 3127.6 1352.7 3127.1 1378.2 3127.6 1403.6 3129.2 1429.1 3131.4 1454.5 3133.7 1479.9 3136.5 1505.4 3140 1530.8 3144.1 1556.3 3148.6 1581.8 3153.8 1607.2 3160 1632.7 3167.2 1658.1 3175.6 1683.6 3185.9 1709 3197.3 1734.4 3210.4 1759.9 3224.6 1785.3 3239.3 1810.8 3254.4 1836.2 3270.4 1861.7 3287.5 1887.2 3306.7 1912.6 3329.6 1938.1 3353.1 1963.5 3375.1 1988.9 3401.4 2014.4 3430.1 2039.8 3457.6 2065.3 3487.8 2090.8 3520 2116.2 3554.4 2141.7 3589.9 2167.1 3625.8 2192.6 3668 2218 3710" stroke="#80ff00" marker-start="url(#mL)" marker-mid="url(#mL)" marker-end="url(#eL)"/>
<path d="M182 3428 207.4 3418.8 232.9 3409.7 258.4 3400.6 283.8 3391.6 309.2 3382.7 334.7 3373.8 360.1 3365 385.6 3356.2 411.1 3347.6 436.5 3339 462 3330.5 487.4 3322.1 512.9 3313.9 538.3 3305.7 563.8 3297.6 589.2 3289.4 614.6 3281.3 640.1 3273.1 665.5 3264.8 691 3256.4 716.5 3247.7 741.9 3238.8 767.3 3230 792.8 3221.5 818.2 3213.5 843.7 3205.9 869.2 3198.5 894.6 3191.5 920 3184.7 945.5 3178.1 971 3171.8 996.4 3165.8 1021.8 3160.3 1047.3 3155.2 1072.8 3150.5 1098.2 3146 1123.7 3141.4 1149.1 3136.7 1174.5 3131.9 1200 3127.9 1225.4 3124.2 1250.9 3120.5 1276.3 3116.8 1301.8 3113.7 1327.2 3111.4 1352.7 3110.2 1378.2 3110 1403.6 3110.3 1429.1 3111.1 1454.5 3112.3 1479.9 3113.9 1505.4 3116.4 1530.8 3119.3 1556.3 3122.5 1581.8 3126.5 1607.2 3131.3 1632.7 3137 1658.1 3143.4 1683.6 3151.2 1709 3160.3 1734.4 3170.8 1759.9 3182.6 1785.3 3195.1 1810.8 3208.4 1836.2 3222.4 1861.7 3237.7 1887.2 3254.9 1912.6 3274.7 1938.1 3295.4 1963.5 3315.9 1988.9 3339.4 2014.4 3364.8 2039.8 3390.1 2065.3 3417.7 2090.8 3447.1 2116.2 3478.3 2141.7 3510.6 2167.1 3544.1 2192.6 3582.3 2218 3621.8" stroke="#000000" marker-start="url(#mK)" marker-mid="url(#mK)" marker-end="url(#eK)"/>
<path d="M182 3428.2 207.4 3419 232.9 3409.9 258.4 3400.9 283.8 3391.9 309.2 3383 334.7 3374.1 360.1 3365.3 385.6 3356.6 411.1 3348 436.5 3339.5 462 3331 487.4 3322.7 512.9 3314.5 538.3 3306.4 563.8 3298.3 589.2 3290.3 614.6 3282.2 640.1 3274.1 665.5 3265.8 691 3257.5 716.5 3248.9 741.9 3240.1 767.3 3231.4 792.8 3223 818.2 3215.2 843.7 3207.8 869.2 3200.6 894.6 3193.7 920 3187 945.5 3180.6 971 3174.4 996.4 3168.5 1021.8 3163.1 1047.3 3158.3 1072.8 3153.8 1098.2 3149.5 1123.7 3145.2 1149.1 3140.7 1174.5 3136.1 1200 3132.3 1225.4 3129.2 1250.9 3125.9 1276.3 3122.8 1301.8 3120.2 1327.2 3118.2 1352.7 3117.3 1378.2 3117.4 1403.6 3118.3 1429.1 3119.6 1454.5 3121.3 1479.9 3123.5 1505.4 3126.3 1530.8 3129.7 1556.3 3133.5 1581.8 3138 1607.2 3143.4 1632.7 3149.7 1658.1 3157 1683.6 3165.8 1709 3175.9 1734.4 3187.5 1759.9 3200.2 1785.3 3213.7 1810.8 3227.8 1836.2 3242.6 1861.7 3258.6 1887.2 3276.7 1912.6 3297.8 1938.1 3319.7 1963.5 3340.8 1988.9 3365.5 2014.4 3392.3 2039.8 3418.5 2065.3 3447.2 2090.8 3477.8 2116.2 3510.4 2141.7 3544 2167.1 3578.5 2192.6 3618.4 2218 3658.9" stroke="#000000" marker-start="url(#mK)" marker-mid="url(#mK)" marker-end="url(#eK)"/>
<path d="M182 3429 207.4 3419.9 232.9 3410.9 258.4 3401.9 283.8 3393.1 309.2 3384.3 334.7 3375.6 360.1 3367.1 385.6 3358.5 411.1 3350.1 436.5 3341.8 462 3333.6 487.4 3325.5 512.9 3317.6 538.3 3309.8 563.8 3302 589.2 3294.2 614.6 3286.4 640.1 3278.7 665.5 3270.8 691 3262.9 716.5 3254.8 741.9 3246.4 767.3 3238.2 792.8 3230.5 818.2 3223.3 843.7 3216.6 869.2 3210.3 894.6 3204.2 920 3198.3 945.5 3192.5 971 3186.8 996.4 3181.4 1021.8 3176.8 1047.3 3172.9 1072.8 3169.5 1098.2 3166.3 1123.7 3163.1 1149.1 3159.4 1174.5 3155.6 1200 3153.4 1225.4 3152.6 1250.9 3151.8 1276.3 3151.2 1301.8 3150.9 1327.2 3150.7 1352.7 3151 1378.2 3152.7 1403.6 3156 1429.1 3160.1 1454.5 3164.3 1479.9 3168.7 1505.4 3173.7 1530.8 3179.3 1556.3 3185.6 1581.8 3192.6 1607.2 3200.8 1632.7 3210.2 1658.1 3221.4 1683.6 3235.1 1709 3250 1734.4 3266.6 1759.9 3284.3 1785.3 3302 1810.8 3319.9 1836.2 3338.6 1861.7 3358.3 1887.2 3380.3 1912.6 3407.5 1938.1 3435.2 1963.5 3459.2 1988.9 3489.6 2014.4 3523 2039.8 3553.5 2065.3 3587.5 2090.8 3623.5 2116.2 3662.5 2141.7 3702.5 2167.1 3741.8 2192.6 3789.8 2218 3835.3" stroke="#000000" marker-start="url(#mK)" marker-mid="url(#mK)" marker-end="url(#eK)"/>
<path d="M182 3428.4 207.4 3419.3 232.9 3410.2 258.4 3401.1 283.8 3392.2 309.2 3383.3 334.7 3374.5 360.1 3365.8 385.6 3357.1 411.1 3348.6 436.5 3340.1 462 3331.7 487.4 3323.5 512.9 3315.3 538.3 3307.3 563.8 3299.3 589.2 3291.3 614.6 3283.3 640.1 3275.3 665.5 3267.2 691 3258.9 716.5 3250.5 741.9 3241.8 767.3 3233.2 792.8 3225 818.2 3217.4 843.7 3210.1 869.2 3203.1 894.6 3196.4 920 3190 945.5 3183.7 971 3177.7 996.4 3171.9 1021.8 3166.7 1047.3 3162.1 1072.8 3157.9 1098.2 3153.9 1123.7 3149.9 1149.1 3145.6 1174.5 3141.2 1200 3137.8 1225.4 3135.3 1250.9 3132.7 1276.3 3130.3 1301.8 3128.2 1327.2 3126.8 1352.7 3126.2 1378.2 3126.7 1403.6 3128.2 1429.1 3130.3 1454.5 3132.6 1479.9 3135.4 1505.4 3138.8 1530.8 3142.8 1556.3 3147.2 1581.8 3152.4 1607.2 3158.5 1632.7 3165.6 1658.1 3173.9 1683.6 3184 1709 3195.4 1734.4 3208.3 1759.9 3222.4 1785.3 3237 1810.8 3252 1836.2 3267.9 1861.7 3284.9 1887.2 3304 1912.6 3326.7 1938.1 3350.1 1963.5 3372 1988.9 3398.1 2014.4 3426.7 2039.8 3454 2065.3 3484.1 2090.8 3516.2 2116.2 3550.4 2141.7 3585.7 2167.1 3621.5 2192.6 3663.5 2218 3705.3" stroke="#ff00ff" marker-start="url(#mM)" marker-mid="url(#mM)" marker-end="url(#eM)"/>
<path d="M182 3427.7 207.4 3418.5 232.9 3409.3 258.4 3400.1 283.8 3391.1 309.2 3382.1 334.7 3373.1 360.1 3364.2 385.6 3355.4 411.1 3346.6 436.5 3337.9 462 3329.3 487.4 3320.8 512.9 3312.5 538.3 3304.2 563.8 3295.9 589.2 3287.6 614.6 3279.3 640.1 3271 665.5 3262.5 691 3253.9 716.5 3245 741.9 3235.9 767.3 3226.8 792.8 3218.1 818.2 3209.8 843.7 3201.8 869.2 3194.1 894.6 3186.7 920 3179.5 945.5 3172.7 971 3166.1 996.4 3159.9 1021.8 3154 1047.3 3148.5 1072.8 3143.3 1098.2 3138.3 1123.7 3133.2 1149.1 3128.1 1174.5 3123 1200 3118.2 1225.4 3113.5 1250.9 3108.6 1276.3 3103.8 1301.8 3099.6 1327.2 3096.5 1352.7 3094.7 1378.2 3093.7 1403.6 3093 1429.1 3092.6 1454.5 3092.5 1479.9 3093.2 1505.4 3094.6 1530.8 3096.5 1556.3 3098.7 1581.8 3101.4 1607.2 3105 1632.7 3109.2 1658.1 3113.8 1683.6 3119.4 1709 3126.2 1734.4 3134.5 1759.9 3144 1785.3 3154.6 1810.8 3166.1 1836.2 3178.3 1861.7 3191.9 1887.2 3207.4 1912.6 3224.4 1938.1 3242.5 1963.5 3261.5 1988.9 3282.4 2014.4 3304.8 2039.8 3328.1 2065.3 3353.3 2090.8 3380.3 2116.2 3408.5 2141.7 3437.9 2167.1 3469.2 2192.6 3503.7 2218 3540.9" stroke="#000000" marker-start="url(#mK)" marker-mid="url(#mK)" marker-end="url(#eK)"/>
<path d="M182 3428.4 207.4 3419.2 232.9 3410.1 258.4 3401.1 283.8 3392.2 309.2 3383.3 334.7 3374.5 360.1 3365.8 385.6 3357.1 411.1 3348.5 436.5 3340 462 3331.6 487.4 3323.4 512.9 3315.3 538.3 3307.2 563.8 3299.2 589.2 3291.2 614.6 3283.2 640.1 3275.1 665.5 3267 691 3258.8 716.5 3250.3 741.9 3241.6 767.3 3233 792.8 3224.8 818.2 3217.2 843.7 3209.9 869.2 3202.9 894.6 3196.2 920 3189.7 945.5 3183.4 971 3177.3 996.4 3171.6 1021.8 3166.4 1047.3 3161.7 1072.8 3157.5 1098.2 3153.5 1123.7 3149.5 1149.1 3145.1 1174.5 3140.7 1200 3137.3 1225.4 3134.7 1250.9 3132.1 1276.3 3129.5 1301.8 3127.4 1327.2 3125.9 1352.7 3125.3 1378.2 3125.8 1403.6 3127.2 1429.1 3129.2 1454.5 3131.5 1479.9 3134.2 1505.4 3137.5 1530.8 3141.5 1556.3 3145.8 1581.8 3150.9 1607.2 3157 1632.7 3164 1658.1 3172.2 1683.6 3182.2 1709 3193.4 1734.4 3206.2 1759.9 3220.2 1785.3 3234.6 1810.8 3249.6 1836.2 3265.3 1861.7 3282.3 1887.2 3301.2 1912.6 3323.8 1938.1 3347.1 1963.5 3368.9 1988.9 3394.9 2014.4 3423.3 2039.8 3450.5 2065.3 3480.4 2090.8 3512.3 2116.2 3546.4 2141.7 3581.5 2167.1 3617.2 2192.6 3659 2218 3700.7" stroke="#ff00aa" marker-start="url(#mPk)" marker-mid="url(#mPk)" marker-end="url(#ePk)"/>
<path d="M182 3427.8 207.4 3418.6 232.9 3409.4 258.4 3400.3 283.8 3391.3 309.2 3382.3 334.7 3373.4 360.1 3364.5 385.6 3355.7 411.1 3347 436.5 3338.3 462 3329.7 487.4 3321.3 512.9 3313 538.3 3304.8 563.8 3296.5 589.2 3288.3 614.6 3280.1 640.1 3271.8 665.5 3263.4 691 3254.9 716.5 3246.1 741.9 3237 767.3 3228 792.8 3219.4 818.2 3211.2 843.7 3203.4 869.2 3195.8 894.6 3188.5 920 3181.5 945.5 3174.8 971 3168.3 996.4 3162.2 1021.8 3156.4 1047.3 3151.1 1072.8 3146.1 1098.2 3141.2 1123.7 3136.4 1149.1 3131.4 1174.5 3126.4 1200 3121.9 1225.4 3117.6 1250.9 3113.1 1276.3 3108.8 1301.8 3105.1 1327.2 3102.2 1352.7 3100.7 1378.2 3100 1403.6 3099.7 1429.1 3099.7 1454.5 3100.1 1479.9 3101.2 1505.4 3103 1530.8 3105.3 1556.3 3107.9 1581.8 3111 1607.2 3115.1 1632.7 3119.9 1658.1 3125.2 1683.6 3131.7 1709 3139.3 1734.4 3148.5 1759.9 3158.8 1785.3 3170.2 1810.8 3182.4 1836.2 3195.3 1861.7 3209.5 1887.2 3225.7 1912.6 3243.8 1938.1 3262.9 1963.5 3282.4 1988.9 3304.3 2014.4 3327.9 2039.8 3352 2065.3 3378.1 2090.8 3406 2116.2 3435.4 2141.7 3465.9 2167.1 3498 2192.6 3534 2218 3572.1" stroke="#000000" marker-start="url(#mK)" marker-mid="url(#mK)" marker-end="url(#eK)"/>
<path d="M182 3427.9 207.4 3418.6 232.9 3409.5 258.4 3400.4 283.8 3391.3 309.2 3382.4 334.7 3373.4 360.1 3364.6 385.6 3355.8 411.1 3347.1 436.5 3338.4 462 3329.9 487.4 3321.5 512.9 3313.1 538.3 3304.9 563.8 3296.7 589.2 3288.5 614.6 3280.3 640.1 3272 665.5 3263.6 691 3255.1 716.5 3246.3 741.9 3237.3 767.3 3228.3 792.8 3219.7 818.2 3211.6 843.7 3203.8 869.2 3196.2 894.6 3189 920 3182 945.5 3175.3 971 3168.9 996.4 3162.8 1021.8 3157 1047.3 3151.7 1072.8 3146.8 1098.2 3142 1123.7 3137.2 1149.1 3132.2 1174.5 3127.3 1200 3122.9 1225.4 3118.7 1250.9 3114.3 1276.3 3110.1 1301.8 3106.4 1327.2 3103.7 1352.7 3102.2 1378.2 3101.5 1403.6 3101.3 1429.1 3101.5 1454.5 3102 1479.9 3103.2 1505.4 3105.1 1530.8 3107.5 1556.3 3110.2 1581.8 3113.5 1607.2 3117.7 1632.7 3122.6 1658.1 3128.1 1683.6 3134.7 1709 3142.6 1734.4 3152 1759.9 3162.6 1785.3 3174.1 1810.8 3186.5 1836.2 3199.6 1861.7 3213.9 1887.2 3230.3 1912.6 3248.6 1938.1 3268 1963.5 3287.7 1988.9 3309.8 2014.4 3333.7 2039.8 3358 2065.3 3384.3 2090.8 3412.5 2116.2 3442.1 2141.7 3472.9 2167.1 3505.3 2192.6 3541.6 2218 3579.9" stroke="#ff00aa" marker-start="url(#mPk)" marker-mid="url(#mPk)" marker-end="url(#ePk)"/>
<path d="M182 3428 207.4 3418.8 232.9 3409.6 258.4 3400.5 283.8 3391.5 309.2 3382.5 334.7 3373.6 360.1 3364.8 385.6 3356 411.1 3347.4 436.5 3338.7 462 3330.2 487.4 3321.8 512.9 3313.6 538.3 3305.3 563.8 3297.2 589.2 3289 614.6 3280.8 640.1 3272.6 665.5 3264.3 691 3255.8 716.5 3247.1 741.9 3238.1 767.3 3229.2 792.8 3220.7 818.2 3212.7 843.7 3205 869.2 3197.5 894.6 3190.4 920 3183.5 945.5 3176.9 971 3170.5 996.4 3164.5 1021.8 3158.8 1047.3 3153.7 1072.8 3148.8 1098.2 3144.2 1123.7 3139.6 1149.1 3134.7 1174.5 3129.9 1200 3125.7 1225.4 3121.8 1250.9 3117.7 1276.3 3113.8 1301.8 3110.5 1327.2 3108 1352.7 3106.7 1378.2 3106.2 1403.6 3106.3 1429.1 3106.9 1454.5 3107.7 1479.9 3109.2 1505.4 3111.4 1530.8 3114.1 1556.3 3117.1 1581.8 3120.7 1607.2 3125.3 1632.7 3130.6 1658.1 3136.6 1683.6 3143.9 1709 3152.5 1734.4 3162.5 1759.9 3173.7 1785.3 3185.8 1810.8 3198.7 1836.2 3212.3 1861.7 3227.2 1887.2 3244 1912.6 3263.2 1938.1 3283.3 1963.5 3303.4 1988.9 3326.3 2014.4 3351 2039.8 3375.9 2065.3 3402.9 2090.8 3431.8 2116.2 3462.3 2141.7 3493.9 2167.1 3526.9 2192.6 3564.3 2218 3603.3" stroke="#ff00ff" marker-start="url(#mM)" marker-mid="url(#mM)" marker-end="url(#eM)"/>
<path d="M182 3427.9 207.4 3418.7 232.9 3409.6 258.4 3400.5 283.8 3391.4 309.2 3382.5 334.7 3373.6 360.1 3364.7 385.6 3356 411.1 3347.3 436.5 3338.6 462 3330.1 487.4 3321.7 512.9 3313.4 538.3 3305.2 563.8 3297 589.2 3288.9 614.6 3280.7 640.1 3272.4 665.5 3264.1 691 3255.6 716.5 3246.8 741.9 3237.9 767.3 3228.9 792.8 3220.4 818.2 3212.3 843.7 3204.6 869.2 3197.1 894.6 3189.9 920 3183 945.5 3176.3 971 3170 996.4 3163.9 1021.8 3158.2 1047.3 3153 1072.8 3148.2 1098.2 3143.5 1123.7 3138.8 1149.1 3133.9 1174.5 3129 1200 3124.7 1225.4 3120.7 1250.9 3116.6 1276.3 3112.6 1301.8 3109.1 1327.2 3106.5 1352.7 3105.2 1378.2 3104.7 1403.6 3104.7 1429.1 3105.1 1454.5 3105.8 1479.9 3107.2 1505.4 3109.3 1530.8 3111.9 1556.3 3114.8 1581.8 3118.3 1607.2 3122.8 1632.7 3127.9 1658.1 3133.8 1683.6 3140.9 1709 3149.2 1734.4 3159 1759.9 3170 1785.3 3181.9 1810.8 3194.6 1836.2 3208 1861.7 3222.8 1887.2 3239.4 1912.6 3258.3 1938.1 3278.2 1963.5 3298.2 1988.9 3320.8 2014.4 3345.2 2039.8 3369.9 2065.3 3396.7 2090.8 3425.4 2116.2 3455.6 2141.7 3486.9 2167.1 3519.7 2192.6 3556.7 2218 3595.5" stroke="#000000" marker-start="url(#mK)" marker-mid="url(#mK)" marker-end="url(#eK)"/>
<path d="M182 3427.7 207.4 3418.5 232.9 3409.3 258.4 3400.2 283.8 3391.1 309.2 3382.1 334.7 3373.2 360.1 3364.3 385.6 3355.5 411.1 3346.7 436.5 3338 462 3329.4 487.4 3321 512.9 3312.6 538.3 3304.3 563.8 3296.1 589.2 3287.8 614.6 3279.5 640.1 3271.2 665.5 3262.7 691 3254.2 716.5 3245.3 741.9 3236.2 767.3 3227.1 792.8 3218.4 818.2 3210.2 843.7 3202.2 869.2 3194.5 894.6 3187.1 920 3180 945.5 3173.2 971 3166.7 996.4 3160.5 1021.8 3154.6 1047.3 3149.2 1072.8 3144 1098.2 3139 1123.7 3134 1149.1 3128.9 1174.5 3123.8 1200 3119.1 1225.4 3114.5 1250.9 3109.7 1276.3 3105 1301.8 3101 1327.2 3097.9 1352.7 3096.2 1378.2 3095.3 1403.6 3094.7 1429.1 3094.4 1454.5 3094.4 1479.9 3095.2 1505.4 3096.7 1530.8 3098.7 1556.3 3101 1581.8 3103.8 1607.2 3107.5 1632.7 3111.9 1658.1 3116.7 1683.6 3122.5 1709 3129.5 1734.4 3138 1759.9 3147.7 1785.3 3158.5 1810.8 3170.2 1836.2 3182.6 1861.7 3196.3 1887.2 3211.9 1912.6 3229.3 1938.1 3247.6 1963.5 3266.7 1988.9 3287.9 2014.4 3310.6 2039.8 3334.1 2065.3 3359.5 2090.8 3386.7 2116.2 3415.2 2141.7 3444.9 2167.1 3476.4 2192.6 3511.2 2218 3548.7" stroke="#000000" marker-start="url(#mK)" marker-mid="url(#mK)" marker-end="url(#eK)"/>
<path d="M182 3429.2 207.4 3420.1 232.9 3411.2 258.4 3402.3 283.8 3393.5 309.2 3384.8 334.7 3376.1 360.1 3367.6 385.6 3359.1 411.1 3350.8 436.5 3342.5 462 3334.4 487.4 3326.4 512.9 3318.6 538.3 3310.8 563.8 3303.1 589.2 3295.4 614.6 3287.8 640.1 3280.1 665.5 3272.4 691 3264.6 716.5 3256.6 741.9 3248.4 767.3 3240.4 792.8 3232.8 818.2 3225.9 843.7 3219.5 869.2 3213.3 894.6 3207.5 920 3201.8 945.5 3196.2 971 3190.7 996.4 3185.5 1021.8 3181.1 1047.3 3177.5 1072.8 3174.4 1098.2 3171.6 1123.7 3168.8 1149.1 3165.4 1174.5 3161.8 1200 3160 1225.4 3160 1250.9 3160 1276.3 3160.2 1301.8 3160.5 1327.2 3161 1352.7 3161.7 1378.2 3163.9 1403.6 3167.9 1429.1 3172.8 1454.5 3177.8 1479.9 3182.9 1505.4 3188.6 1530.8 3195 1556.3 3202 1581.8 3209.9 1607.2 3218.9 1632.7 3229.3 1658.1 3241.7 1683.6 3256.9 1709 3273.5 1734.4 3291.6 1759.9 3310.8 1785.3 3329.9 1810.8 3349 1836.2 3368.9 1861.7 3389.8 1887.2 3413 1912.6 3442.1 1938.1 3471.6 1963.5 3496.7 1988.9 3528.8 2014.4 3564.3 2039.8 3596.1 2065.3 3631.9 2090.8 3669.6 2116.2 3710.6 2141.7 3752.6 2167.1 3793.4 2192.6 3843.9 2218 3891" stroke="#000000" marker-start="url(#mK)" marker-mid="url(#mK)" marker-end="url(#eK)"/>
<path d="M182 3428.9 207.4 3419.7 232.9 3410.7 258.4 3401.8 283.8 3392.9 309.2 3384.1 334.7 3375.4 360.1 3366.8 385.6 3358.2 411.1 3349.8 436.5 3341.4 462 3333.2 487.4 3325.1 512.9 3317.1 538.3 3309.2 563.8 3301.4 589.2 3293.6 614.6 3285.8 640.1 3277.9 665.5 3270 691 3262.1 716.5 3253.8 741.9 3245.4 767.3 3237.1 792.8 3229.3 818.2 3222.1 843.7 3215.2 869.2 3208.7 894.6 3202.5 920 3196.5 945.5 3190.6 971 3184.8 996.4 3179.4 1021.8 3174.6 1047.3 3170.6 1072.8 3167 1098.2 3163.7 1123.7 3160.3 1149.1 3156.5 1174.5 3152.5 1200 3150 1225.4 3148.9 1250.9 3147.7 1276.3 3146.8 1301.8 3146 1327.2 3145.6 1352.7 3145.7 1378.2 3147.1 1403.6 3150 1429.1 3153.7 1454.5 3157.5 1479.9 3161.5 1505.4 3166.2 1530.8 3171.5 1556.3 3177.4 1581.8 3184 1607.2 3191.7 1632.7 3200.6 1658.1 3211.2 1683.6 3224.1 1709 3238.3 1734.4 3254.1 1759.9 3271 1785.3 3288.1 1810.8 3305.4 1836.2 3323.4 1861.7 3342.6 1887.2 3363.9 1912.6 3390.2 1938.1 3416.9 1963.5 3440.5 1988.9 3470 2014.4 3502.4 2039.8 3532.2 2065.3 3565.4 2090.8 3600.5 2116.2 3638.5 2141.7 3677.5 2167.1 3716 2192.6 3762.8 2218 3807.4" stroke="#000000" marker-start="url(#mK)" marker-mid="url(#mK)" marker-end="url(#eK)"/>
<path d="M182 3427.6 207.4 3418.4 232.9 3409.2 258.4 3400.1 283.8 3391 309.2 3382 334.7 3373 360.1 3364.1 385.6 3355.2 411.1 3346.5 436.5 3337.7 462 3329.1 487.4 3320.6 512.9 3312.3 538.3 3303.9 563.8 3295.7 589.2 3287.4 614.6 3279.1 640.1 3270.7 665.5 3262.2 691 3253.6 716.5 3244.6 741.9 3235.5 767.3 3226.4 792.8 3217.6 818.2 3209.3 843.7 3201.2 869.2 3193.5 894.6 3185.9 920 3178.7 945.5 3171.9 971 3165.3 996.4 3159 1021.8 3153.1 1047.3 3147.5 1072.8 3142.2 1098.2 3137.1 1123.7 3132 1149.1 3126.8 1174.5 3121.7 1200 3116.8 1225.4 3111.9 1250.9 3106.8 1276.3 3101.9 1301.8 3097.6 1327.2 3094.3 1352.7 3092.5 1378.2 3091.4 1403.6 3090.5 1429.1 3089.9 1454.5 3089.6 1479.9 3090.2 1505.4 3091.4 1530.8 3093.2 1556.3 3095.1 1581.8 3097.7 1607.2 3101.1 1632.7 3105.1 1658.1 3109.5 1683.6 3114.8 1709 3121.2 1734.4 3129.1 1759.9 3138.3 1785.3 3148.6 1810.8 3159.9 1836.2 3171.9 1861.7 3185.2 1887.2 3200.4 1912.6 3217 1938.1 3234.7 1963.5 3253.5 1988.9 3274 2014.4 3296 2039.8 3319.1 2065.3 3343.8 2090.8 3370.4 2116.2 3398.2 2141.7 3427.2 2167.1 3458.2 2192.6 3492.1 2218 3529" stroke="#800080" marker-start="url(#mP)" marker-mid="url(#mP)" marker-end="url(#eP)"/>
<path d="M182 3427.7 207.4 3418.4 232.9 3409.2 258.4 3400.1 283.8 3391 309.2 3382 334.7 3373 360.1 3364.1 385.6 3355.3 411.1 3346.5 436.5 3337.8 462 3329.2 487.4 3320.7 512.9 3312.3 538.3 3304 563.8 3295.7 589.2 3287.5 614.6 3279.2 640.1 3270.8 665.5 3262.3 691 3253.7 716.5 3244.8 741.9 3235.6 767.3 3226.5 792.8 3217.7 818.2 3209.5 843.7 3201.4 869.2 3193.7 894.6 3186.2 920 3179 945.5 3172.2 971 3165.6 996.4 3159.3 1021.8 3153.4 1047.3 3147.9 1072.8 3142.6 1098.2 3137.5 1123.7 3132.4 1149.1 3127.3 1174.5 3122.1 1200 3117.3 1225.4 3112.5 1250.9 3107.4 1276.3 3102.5 1301.8 3098.3 1327.2 3095 1352.7 3093.2 1378.2 3092.2 1403.6 3091.3 1429.1 3090.8 1454.5 3090.6 1479.9 3091.2 1505.4 3092.5 1530.8 3094.3 1556.3 3096.4 1581.8 3099 1607.2 3102.5 1632.7 3106.5 1658.1 3111 1683.6 3116.4 1709 3122.9 1734.4 3131 1759.9 3140.3 1785.3 3150.7 1810.8 3162 1836.2 3174.1 1861.7 3187.5 1887.2 3202.8 1912.6 3219.6 1938.1 3237.4 1963.5 3256.3 1988.9 3276.9 2014.4 3299 2039.8 3322.2 2065.3 3347.1 2090.8 3373.8 2116.2 3401.8 2141.7 3430.9 2167.1 3461.9 2192.6 3496.1 2218 3533.1" stroke="#ff00ff" marker-start="url(#mM)" marker-mid="url(#mM)" marker-end="url(#eM)"/>
<path d="M182 3428.4 207.4 3419.3 232.9 3410.2 258.4 3401.2 283.8 3392.2 309.2 3383.3 334.7 3374.5 360.1 3365.8 385.6 3357.2 411.1 3348.6 436.5 3340.1 462 3331.7 487.4 3323.5 512.9 3315.4 538.3 3307.3 563.8 3299.3 589.2 3291.3 614.6 3283.3 640.1 3275.3 665.5 3267.2 691 3259 716.5 3250.5 741.9 3241.8 767.3 3233.3 792.8 3225.1 818.2 3217.5 843.7 3210.2 869.2 3203.2 894.6 3196.5 920 3190.1 945.5 3183.9 971 3177.8 996.4 3172.1 1021.8 3166.9 1047.3 3162.3 1072.8 3158.1 1098.2 3154.1 1123.7 3150.1 1149.1 3145.8 1174.5 3141.4 1200 3138.1 1225.4 3135.6 1250.9 3133 1276.3 3130.6 1301.8 3128.6 1327.2 3127.1 1352.7 3126.5 1378.2 3127.1 1403.6 3128.6 1429.1 3130.7 1454.5 3133.1 1479.9 3135.8 1505.4 3139.3 1530.8 3143.3 1556.3 3147.8 1581.8 3152.9 1607.2 3159.1 1632.7 3166.2 1658.1 3174.6 1683.6 3184.8 1709 3196.2 1734.4 3209.1 1759.9 3223.2 1785.3 3237.9 1810.8 3253 1836.2 3268.9 1861.7 3285.9 1887.2 3305 1912.6 3327.8 1938.1 3351.3 1963.5 3373.2 1988.9 3399.4 2014.4 3428.1 2039.8 3455.5 2065.3 3485.6 2090.8 3517.7 2116.2 3552 2141.7 3587.4 2167.1 3623.2 2192.6 3665.3 2218 3707.2" stroke="#00aaaa" marker-start="url(#mT)" marker-mid="url(#mT)" marker-end="url(#eT)"/>
</g>
<text x="157.5" y="4016.8" class="t" text-anchor="end" textLength="117.4" lengthAdjust="spacingAndGlyphs">0.8KW</text>
<text x="157.5" y="3787.7" class="t" text-anchor="end" textLength="117.4" lengthAdjust="spacingAndGlyphs">1.0KW</text>
<text x="157.5" y="3558.7" class="t" text-anchor="end" textLength="117.4" lengthAdjust="spacingAndGlyphs">1.2KW</text>
<text x="157.5" y="3329.6" class="t" text-anchor="end" textLength="117.4" lengthAdjust="spacingAndGlyphs">1.4KW</text>
<text x="157.5" y="3100.5" class="t" text-anchor="end" textLength="117.4" lengthAdjust="spacingAndGlyphs">1.6KW</text>
<text x="181.2" y="4058.6" class="t" text-anchor="middle" textLength="67.6" lengthAdjust="spacingAndGlyphs">80V</text>
<text x="690.2" y="4058.6" class="t" text-anchor="middle" textLength="67.6" lengthAdjust="spacingAndGlyphs">90V</text>
<text x="1199.2" y="4058.6" class="t" text-anchor="middle" textLength="88.8" lengthAdjust="spacingAndGlyphs">100V</text>
<text x="1708.2" y="4058.6" class="t" text-anchor="middle" textLength="86.7" lengthAdjust="spacingAndGlyphs">110V</text>
<text x="2217.2" y="4058.6" class="t" text-anchor="middle" textLength="88.8" lengthAdjust="spacingAndGlyphs">120V</text>
<text x="1197.5" y="3070.9" class="t" text-anchor="middle">V(N001)*I(V1)</text>
<text x="2018" y="3212" class="s" text-anchor="middle">d)</text>
</g>
</svg>
</body></html>
